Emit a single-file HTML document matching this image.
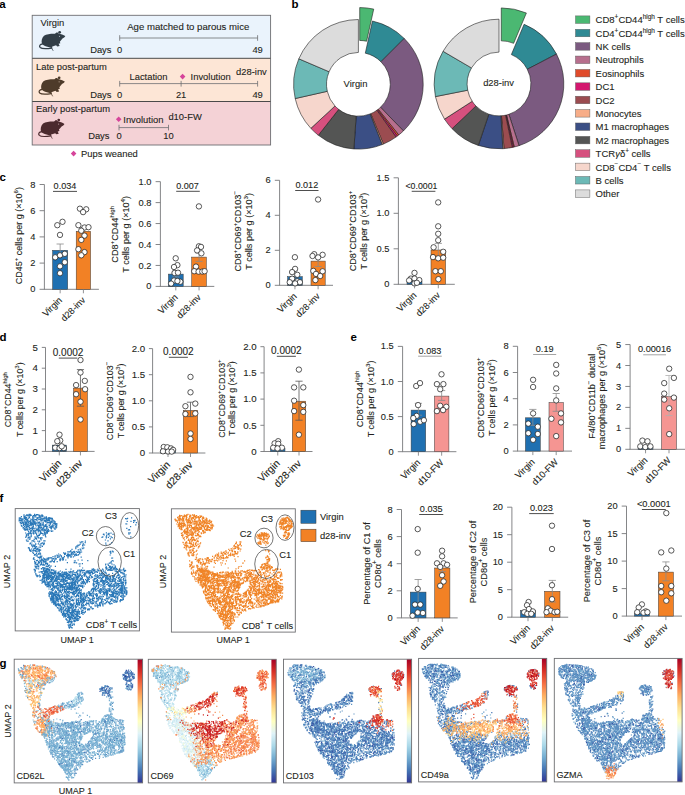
<!DOCTYPE html><html><head><meta charset="utf-8"><style>html,body{margin:0;padding:0;background:#fff;}svg{display:block;font-family:"Liberation Sans",sans-serif;}</style></head><body><svg width="685" height="795" viewBox="0 0 685 795" font-family='"Liberation Sans", sans-serif'>
<rect width="685" height="795" fill="#fff"/>
<text x="-0.80" y="8.00" font-size="11.5" text-anchor="start" font-weight="bold" fill="#000" >a</text>
<text x="291.60" y="8.00" font-size="11.5" text-anchor="start" font-weight="bold" fill="#000" >b</text>
<text x="-0.40" y="180.70" font-size="11.5" text-anchor="start" font-weight="bold" fill="#000" >c</text>
<text x="-0.40" y="340.60" font-size="11.5" text-anchor="start" font-weight="bold" fill="#000" >d</text>
<text x="350.60" y="340.60" font-size="11.5" text-anchor="start" font-weight="bold" fill="#000" >e</text>
<text x="-0.60" y="502.40" font-size="11.5" text-anchor="start" font-weight="bold" fill="#000" >f</text>
<text x="-0.60" y="666.90" font-size="11.5" text-anchor="start" font-weight="bold" fill="#000" >g</text>
<rect x="32.20" y="15.30" width="238.40" height="43.00" fill="#eaf3fc" stroke="none" stroke-width="0.6" />
<rect x="32.20" y="58.30" width="238.40" height="43.20" fill="#fde6d6" stroke="none" stroke-width="0.6" />
<rect x="32.20" y="101.50" width="238.40" height="43.50" fill="#f4d2d6" stroke="none" stroke-width="0.6" />
<rect x="32.20" y="15.3" width="238.40" height="129.70" fill="none" stroke="#6d6e71" stroke-width="0.9"/>
<line x1="32.20" y1="58.30" x2="270.60" y2="58.30" stroke="#4a4a4a" stroke-width="1.0" />
<line x1="32.20" y1="101.50" x2="270.60" y2="101.50" stroke="#4a4a4a" stroke-width="1.0" />
<text x="40.50" y="26.10" font-size="9.4" text-anchor="start" font-weight="normal" fill="#231f20"  stroke="#231f20" stroke-width="0.1">Virgin</text>
<g transform="translate(34.00,26.00) scale(0.05255)"><path d="M150 335C138 285 148 222 190 186C240 152 330 146 398 148C418 128 442 124 462 136L482 146C530 160 572 172 596 192C590 212 562 226 542 240C522 264 506 284 492 300L502 326L468 336L488 380L442 388L420 368C392 378 362 388 342 396L348 420L322 412C280 400 230 392 190 372C170 362 156 350 150 335Z" fill="#323e47"/><path d="M165 338C112 345 92 382 118 410C145 436 250 434 338 422" fill="none" stroke="#323e47" stroke-width="24" stroke-linecap="round"/><path d="M336 420L362 466" fill="none" stroke="#323e47" stroke-width="14" stroke-linecap="round"/><circle cx="488" cy="120" r="26" fill="#323e47"/><circle cx="436" cy="142" r="20" fill="#323e47"/><ellipse cx="487" cy="196" rx="9" ry="12" fill="#eaf3fc" opacity="0.8"/></g>
<text x="127.20" y="29.60" font-size="9.6" text-anchor="start" font-weight="normal" fill="#231f20"  stroke="#231f20" stroke-width="0.1">Age matched to parous mice</text>
<line x1="119.70" y1="38.00" x2="257.60" y2="38.00" stroke="#6d6e71" stroke-width="0.8" />
<line x1="119.70" y1="35.20" x2="119.70" y2="40.80" stroke="#6d6e71" stroke-width="0.8" />
<line x1="257.60" y1="35.20" x2="257.60" y2="40.80" stroke="#6d6e71" stroke-width="0.8" />
<text x="111.50" y="52.60" font-size="9.4" text-anchor="end" font-weight="normal" fill="#231f20"  stroke="#231f20" stroke-width="0.1">Days</text>
<text x="119.70" y="52.60" font-size="9.4" text-anchor="middle" font-weight="normal" fill="#231f20"  stroke="#231f20" stroke-width="0.1">0</text>
<text x="257.60" y="52.60" font-size="9.4" text-anchor="middle" font-weight="normal" fill="#231f20"  stroke="#231f20" stroke-width="0.1">49</text>
<text x="36.00" y="70.00" font-size="9.4" text-anchor="start" font-weight="normal" fill="#231f20"  stroke="#231f20" stroke-width="0.1">Late post-partum</text>
<g transform="translate(33.50,71.50) scale(0.05255)"><path d="M150 335C138 285 148 222 190 186C240 152 330 146 398 148C418 128 442 124 462 136L482 146C530 160 572 172 596 192C590 212 562 226 542 240C522 264 506 284 492 300L502 326L468 336L488 380L442 388L420 368C392 378 362 388 342 396L348 420L322 412C280 400 230 392 190 372C170 362 156 350 150 335Z" fill="#4e3b2a"/><path d="M165 338C112 345 92 382 118 410C145 436 250 434 338 422" fill="none" stroke="#4e3b2a" stroke-width="24" stroke-linecap="round"/><path d="M336 420L362 466" fill="none" stroke="#4e3b2a" stroke-width="14" stroke-linecap="round"/><circle cx="488" cy="120" r="26" fill="#4e3b2a"/><circle cx="436" cy="142" r="20" fill="#4e3b2a"/><ellipse cx="487" cy="196" rx="9" ry="12" fill="#fde6d6" opacity="0.8"/></g>
<text x="148.50" y="80.10" font-size="9.4" text-anchor="middle" font-weight="normal" fill="#231f20"  stroke="#231f20" stroke-width="0.1">Lactation</text>
<path d="M182.60 73.80L185.40 76.60L182.60 79.40L179.80 76.60Z" fill="#d6449a"/>
<text x="190.60" y="80.10" font-size="9.4" text-anchor="start" font-weight="normal" fill="#231f20"  stroke="#231f20" stroke-width="0.1">Involution</text>
<text x="266.80" y="74.50" font-size="9.4" text-anchor="end" font-weight="normal" fill="#231f20"  stroke="#231f20" stroke-width="0.1">d28-inv</text>
<line x1="119.70" y1="83.60" x2="257.60" y2="83.60" stroke="#6d6e71" stroke-width="0.8" />
<line x1="119.70" y1="80.90" x2="119.70" y2="86.60" stroke="#6d6e71" stroke-width="0.8" />
<line x1="181.10" y1="80.90" x2="181.10" y2="86.60" stroke="#6d6e71" stroke-width="0.8" />
<line x1="257.60" y1="80.90" x2="257.60" y2="86.60" stroke="#6d6e71" stroke-width="0.8" />
<text x="111.50" y="97.80" font-size="9.4" text-anchor="end" font-weight="normal" fill="#231f20"  stroke="#231f20" stroke-width="0.1">Days</text>
<text x="119.70" y="97.80" font-size="9.4" text-anchor="middle" font-weight="normal" fill="#231f20"  stroke="#231f20" stroke-width="0.1">0</text>
<text x="181.10" y="97.80" font-size="9.4" text-anchor="middle" font-weight="normal" fill="#231f20"  stroke="#231f20" stroke-width="0.1">21</text>
<text x="257.60" y="97.80" font-size="9.4" text-anchor="middle" font-weight="normal" fill="#231f20"  stroke="#231f20" stroke-width="0.1">49</text>
<text x="36.00" y="112.40" font-size="9.4" text-anchor="start" font-weight="normal" fill="#231f20"  stroke="#231f20" stroke-width="0.1">Early post-partum</text>
<g transform="translate(33.10,113.80) scale(0.05255)"><path d="M150 335C138 285 148 222 190 186C240 152 330 146 398 148C418 128 442 124 462 136L482 146C530 160 572 172 596 192C590 212 562 226 542 240C522 264 506 284 492 300L502 326L468 336L488 380L442 388L420 368C392 378 362 388 342 396L348 420L322 412C280 400 230 392 190 372C170 362 156 350 150 335Z" fill="#4b2a2e"/><path d="M165 338C112 345 92 382 118 410C145 436 250 434 338 422" fill="none" stroke="#4b2a2e" stroke-width="24" stroke-linecap="round"/><path d="M336 420L362 466" fill="none" stroke="#4b2a2e" stroke-width="14" stroke-linecap="round"/><circle cx="488" cy="120" r="26" fill="#4b2a2e"/><circle cx="436" cy="142" r="20" fill="#4b2a2e"/><ellipse cx="487" cy="196" rx="9" ry="12" fill="#f4d2d6" opacity="0.8"/></g>
<path d="M118.70 116.50L121.50 119.30L118.70 122.10L115.90 119.30Z" fill="#d6449a"/>
<text x="123.30" y="122.60" font-size="9.4" text-anchor="start" font-weight="normal" fill="#231f20"  stroke="#231f20" stroke-width="0.1">Involution</text>
<text x="168.40" y="119.60" font-size="9.4" text-anchor="start" font-weight="normal" fill="#231f20"  stroke="#231f20" stroke-width="0.1">d10-FW</text>
<line x1="119.00" y1="127.60" x2="168.50" y2="127.60" stroke="#6d6e71" stroke-width="0.8" />
<line x1="119.00" y1="124.80" x2="119.00" y2="130.40" stroke="#6d6e71" stroke-width="0.8" />
<line x1="168.50" y1="124.80" x2="168.50" y2="130.40" stroke="#6d6e71" stroke-width="0.8" />
<text x="109.50" y="139.20" font-size="9.4" text-anchor="end" font-weight="normal" fill="#231f20"  stroke="#231f20" stroke-width="0.1">Days</text>
<text x="119.00" y="139.20" font-size="9.4" text-anchor="middle" font-weight="normal" fill="#231f20"  stroke="#231f20" stroke-width="0.1">0</text>
<text x="168.50" y="139.20" font-size="9.4" text-anchor="middle" font-weight="normal" fill="#231f20"  stroke="#231f20" stroke-width="0.1">10</text>
<path d="M73.60 150.80L76.40 153.60L73.60 156.40L70.80 153.60Z" fill="#d6449a"/>
<text x="81.00" y="156.80" font-size="9.4" text-anchor="start" font-weight="normal" fill="#231f20"  stroke="#231f20" stroke-width="0.1">Pups weaned</text>
<path d="M359.71 7.57A64.8 64.8 0 0 1 373.73 9.11L366.61 41.23A31.9 31.9 0 0 0 359.71 40.47Z" fill="#4bb872" stroke="#1e1e1e" stroke-width="0.6" stroke-linejoin="round"/>
<path d="M372.43 21.04A64.8 64.8 0 0 1 404.22 38.48L380.96 61.74A31.9 31.9 0 0 0 365.30 53.16Z" fill="#2f8a94" stroke="#1e1e1e" stroke-width="0.6" stroke-linejoin="round"/>
<path d="M404.22 38.48A64.8 64.8 0 0 1 403.41 130.91L380.56 107.25A31.9 31.9 0 0 0 380.96 61.74Z" fill="#7b5a80" stroke="#1e1e1e" stroke-width="0.6" stroke-linejoin="round"/>
<path d="M403.41 130.91A64.8 64.8 0 0 1 398.74 135.01L378.26 109.27A31.9 31.9 0 0 0 380.56 107.25Z" fill="#b76f8d" stroke="#1e1e1e" stroke-width="0.6" stroke-linejoin="round"/>
<path d="M398.74 135.01A64.8 64.8 0 0 1 397.40 136.05L377.60 109.78A31.9 31.9 0 0 0 378.26 109.27Z" fill="#e04b2b" stroke="#1e1e1e" stroke-width="0.6" stroke-linejoin="round"/>
<path d="M397.40 136.05A64.8 64.8 0 0 1 396.03 137.05L376.92 110.27A31.9 31.9 0 0 0 377.60 109.78Z" fill="#d4176f" stroke="#1e1e1e" stroke-width="0.6" stroke-linejoin="round"/>
<path d="M396.03 137.05A64.8 64.8 0 0 1 383.41 144.08L370.71 113.73A31.9 31.9 0 0 0 376.92 110.27Z" fill="#9b4c50" stroke="#1e1e1e" stroke-width="0.6" stroke-linejoin="round"/>
<path d="M383.41 144.08A64.8 64.8 0 0 1 382.15 144.59L370.09 113.98A31.9 31.9 0 0 0 370.71 113.73Z" fill="#f7ad88" stroke="#1e1e1e" stroke-width="0.6" stroke-linejoin="round"/>
<path d="M382.15 144.59A64.8 64.8 0 0 1 353.88 148.94L356.17 116.12A31.9 31.9 0 0 0 370.09 113.98Z" fill="#3b4f85" stroke="#1e1e1e" stroke-width="0.6" stroke-linejoin="round"/>
<path d="M353.88 148.94A64.8 64.8 0 0 1 318.33 135.22L338.67 109.37A31.9 31.9 0 0 0 356.17 116.12Z" fill="#545554" stroke="#1e1e1e" stroke-width="0.6" stroke-linejoin="round"/>
<path d="M318.33 135.22A64.8 64.8 0 0 1 310.85 128.33L334.99 105.97A31.9 31.9 0 0 0 338.67 109.37Z" fill="#d6507e" stroke="#1e1e1e" stroke-width="0.6" stroke-linejoin="round"/>
<path d="M310.85 128.33A64.8 64.8 0 0 1 295.19 98.55L327.28 91.31A31.9 31.9 0 0 0 334.99 105.97Z" fill="#f6d6cc" stroke="#1e1e1e" stroke-width="0.6" stroke-linejoin="round"/>
<path d="M295.19 98.55A64.8 64.8 0 0 1 298.84 58.77L329.08 71.73A31.9 31.9 0 0 0 327.28 91.31Z" fill="#6cb9b6" stroke="#1e1e1e" stroke-width="0.6" stroke-linejoin="round"/>
<path d="M298.84 58.77A64.8 64.8 0 0 1 358.40 19.50L358.40 52.40A31.9 31.9 0 0 0 329.08 71.73Z" fill="#dcdcdc" stroke="#1e1e1e" stroke-width="0.6" stroke-linejoin="round"/>
<text x="355.50" y="86.80" font-size="9.4" text-anchor="middle" font-weight="normal" fill="#231f20"  stroke="#231f20" stroke-width="0.1">Virgin</text>
<path d="M501.27 7.93A64.8 64.8 0 0 1 526.38 12.99L513.63 43.32A31.9 31.9 0 0 0 501.27 40.83Z" fill="#4bb872" stroke="#1e1e1e" stroke-width="0.6" stroke-linejoin="round"/>
<path d="M524.11 24.26A64.8 64.8 0 0 1 556.48 54.08L527.30 69.27A31.9 31.9 0 0 0 511.36 54.59Z" fill="#2f8a94" stroke="#1e1e1e" stroke-width="0.6" stroke-linejoin="round"/>
<path d="M556.48 54.08A64.8 64.8 0 0 1 519.02 145.63L508.86 114.34A31.9 31.9 0 0 0 527.30 69.27Z" fill="#7b5a80" stroke="#1e1e1e" stroke-width="0.6" stroke-linejoin="round"/>
<path d="M519.02 145.63A64.8 64.8 0 0 1 514.24 146.98L506.50 115.01A31.9 31.9 0 0 0 508.86 114.34Z" fill="#b76f8d" stroke="#1e1e1e" stroke-width="0.6" stroke-linejoin="round"/>
<path d="M514.24 146.98A64.8 64.8 0 0 1 513.36 147.19L506.07 115.11A31.9 31.9 0 0 0 506.50 115.01Z" fill="#e04b2b" stroke="#1e1e1e" stroke-width="0.6" stroke-linejoin="round"/>
<path d="M513.36 147.19A64.8 64.8 0 0 1 512.25 147.43L505.52 115.23A31.9 31.9 0 0 0 506.07 115.11Z" fill="#d4176f" stroke="#1e1e1e" stroke-width="0.6" stroke-linejoin="round"/>
<path d="M512.25 147.43A64.8 64.8 0 0 1 503.97 148.61L501.45 115.81A31.9 31.9 0 0 0 505.52 115.23Z" fill="#9b4c50" stroke="#1e1e1e" stroke-width="0.6" stroke-linejoin="round"/>
<path d="M503.97 148.61A64.8 64.8 0 0 1 502.84 148.69L500.89 115.84A31.9 31.9 0 0 0 501.45 115.81Z" fill="#f7ad88" stroke="#1e1e1e" stroke-width="0.6" stroke-linejoin="round"/>
<path d="M502.84 148.69A64.8 64.8 0 0 1 478.33 145.42L488.83 114.23A31.9 31.9 0 0 0 500.89 115.84Z" fill="#3b4f85" stroke="#1e1e1e" stroke-width="0.6" stroke-linejoin="round"/>
<path d="M478.33 145.42A64.8 64.8 0 0 1 452.07 128.69L475.90 106.00A31.9 31.9 0 0 0 488.83 114.23Z" fill="#545554" stroke="#1e1e1e" stroke-width="0.6" stroke-linejoin="round"/>
<path d="M452.07 128.69A64.8 64.8 0 0 1 444.53 119.10L472.19 101.28A31.9 31.9 0 0 0 475.90 106.00Z" fill="#d6507e" stroke="#1e1e1e" stroke-width="0.6" stroke-linejoin="round"/>
<path d="M444.53 119.10A64.8 64.8 0 0 1 435.43 96.59L467.71 90.20A31.9 31.9 0 0 0 472.19 101.28Z" fill="#f6d6cc" stroke="#1e1e1e" stroke-width="0.6" stroke-linejoin="round"/>
<path d="M435.43 96.59A64.8 64.8 0 0 1 443.05 51.31L471.46 67.91A31.9 31.9 0 0 0 467.71 90.20Z" fill="#6cb9b6" stroke="#1e1e1e" stroke-width="0.6" stroke-linejoin="round"/>
<path d="M443.05 51.31A64.8 64.8 0 0 1 499.00 19.20L499.00 52.10A31.9 31.9 0 0 0 471.46 67.91Z" fill="#dcdcdc" stroke="#1e1e1e" stroke-width="0.6" stroke-linejoin="round"/>
<text x="498.50" y="86.00" font-size="9.4" text-anchor="middle" font-weight="normal" fill="#231f20"  stroke="#231f20" stroke-width="0.1">d28-inv</text>
<rect x="575.50" y="15.90" width="14.40" height="7.50" fill="#4bb872" stroke="#5a5a5a" stroke-width="0.45" />
<text x="595.60" y="23.30" font-size="9.5" text-anchor="start" font-weight="normal" fill="#231f20"  stroke="#231f20" stroke-width="0.1">CD8<tspan font-size="6.46" dy="-4.18">+</tspan><tspan dy="4.18">​</tspan>CD44<tspan font-size="6.46" dy="-4.18">high</tspan><tspan dy="4.18">​</tspan> T cells</text>
<rect x="575.50" y="29.29" width="14.40" height="7.50" fill="#2f8a94" stroke="#5a5a5a" stroke-width="0.45" />
<text x="595.60" y="36.69" font-size="9.5" text-anchor="start" font-weight="normal" fill="#231f20"  stroke="#231f20" stroke-width="0.1">CD4<tspan font-size="6.46" dy="-4.18">+</tspan><tspan dy="4.18">​</tspan>CD44<tspan font-size="6.46" dy="-4.18">high</tspan><tspan dy="4.18">​</tspan> T cells</text>
<rect x="575.50" y="42.67" width="14.40" height="7.50" fill="#7b5a80" stroke="#5a5a5a" stroke-width="0.45" />
<text x="595.60" y="50.07" font-size="9.5" text-anchor="start" font-weight="normal" fill="#231f20"  stroke="#231f20" stroke-width="0.1">NK cells</text>
<rect x="575.50" y="56.05" width="14.40" height="7.50" fill="#b76f8d" stroke="#5a5a5a" stroke-width="0.45" />
<text x="595.60" y="63.45" font-size="9.5" text-anchor="start" font-weight="normal" fill="#231f20"  stroke="#231f20" stroke-width="0.1">Neutrophils</text>
<rect x="575.50" y="69.44" width="14.40" height="7.50" fill="#e04b2b" stroke="#5a5a5a" stroke-width="0.45" />
<text x="595.60" y="76.84" font-size="9.5" text-anchor="start" font-weight="normal" fill="#231f20"  stroke="#231f20" stroke-width="0.1">Eosinophils</text>
<rect x="575.50" y="82.83" width="14.40" height="7.50" fill="#d4176f" stroke="#5a5a5a" stroke-width="0.45" />
<text x="595.60" y="90.23" font-size="9.5" text-anchor="start" font-weight="normal" fill="#231f20"  stroke="#231f20" stroke-width="0.1">DC1</text>
<rect x="575.50" y="96.21" width="14.40" height="7.50" fill="#9b4c50" stroke="#5a5a5a" stroke-width="0.45" />
<text x="595.60" y="103.61" font-size="9.5" text-anchor="start" font-weight="normal" fill="#231f20"  stroke="#231f20" stroke-width="0.1">DC2</text>
<rect x="575.50" y="109.59" width="14.40" height="7.50" fill="#f7ad88" stroke="#5a5a5a" stroke-width="0.45" />
<text x="595.60" y="117.00" font-size="9.5" text-anchor="start" font-weight="normal" fill="#231f20"  stroke="#231f20" stroke-width="0.1">Monocytes</text>
<rect x="575.50" y="122.98" width="14.40" height="7.50" fill="#3b4f85" stroke="#5a5a5a" stroke-width="0.45" />
<text x="595.60" y="130.38" font-size="9.5" text-anchor="start" font-weight="normal" fill="#231f20"  stroke="#231f20" stroke-width="0.1">M1 macrophages</text>
<rect x="575.50" y="136.37" width="14.40" height="7.50" fill="#545554" stroke="#5a5a5a" stroke-width="0.45" />
<text x="595.60" y="143.77" font-size="9.5" text-anchor="start" font-weight="normal" fill="#231f20"  stroke="#231f20" stroke-width="0.1">M2 macrophages</text>
<rect x="575.50" y="149.75" width="14.40" height="7.50" fill="#d6507e" stroke="#5a5a5a" stroke-width="0.45" />
<text x="595.60" y="157.15" font-size="9.5" text-anchor="start" font-weight="normal" fill="#231f20"  stroke="#231f20" stroke-width="0.1">TCR<tspan font-style="italic">γ</tspan>δ<tspan font-size="6.46" dy="-4.18">+</tspan><tspan dy="4.18">​</tspan> cells</text>
<rect x="575.50" y="163.13" width="14.40" height="7.50" fill="#f6d6cc" stroke="#5a5a5a" stroke-width="0.45" />
<text x="595.60" y="170.53" font-size="9.5" text-anchor="start" font-weight="normal" fill="#231f20"  stroke="#231f20" stroke-width="0.1">CD8<tspan font-size="6.46" dy="-4.18">−</tspan><tspan dy="4.18">​</tspan>CD4<tspan font-size="6.46" dy="-4.18">−</tspan><tspan dy="4.18">​</tspan> T cells</text>
<rect x="575.50" y="176.52" width="14.40" height="7.50" fill="#6cb9b6" stroke="#5a5a5a" stroke-width="0.45" />
<text x="595.60" y="183.92" font-size="9.5" text-anchor="start" font-weight="normal" fill="#231f20"  stroke="#231f20" stroke-width="0.1">B cells</text>
<rect x="575.50" y="189.91" width="14.40" height="7.50" fill="#dcdcdc" stroke="#5a5a5a" stroke-width="0.45" />
<text x="595.60" y="197.31" font-size="9.5" text-anchor="start" font-weight="normal" fill="#231f20"  stroke="#231f20" stroke-width="0.1">Other</text>
<line x1="44.40" y1="289.30" x2="44.40" y2="184.50" stroke="#77787b" stroke-width="0.9" />
<line x1="39.60" y1="289.30" x2="44.40" y2="289.30" stroke="#77787b" stroke-width="0.9" />
<text x="35.50" y="292.37" font-size="9.3" text-anchor="end" font-weight="normal" fill="#231f20"  stroke="#231f20" stroke-width="0.1">0</text>
<line x1="39.60" y1="263.10" x2="44.40" y2="263.10" stroke="#77787b" stroke-width="0.9" />
<text x="35.50" y="266.17" font-size="9.3" text-anchor="end" font-weight="normal" fill="#231f20"  stroke="#231f20" stroke-width="0.1">2</text>
<line x1="39.60" y1="236.90" x2="44.40" y2="236.90" stroke="#77787b" stroke-width="0.9" />
<text x="35.50" y="239.97" font-size="9.3" text-anchor="end" font-weight="normal" fill="#231f20"  stroke="#231f20" stroke-width="0.1">4</text>
<line x1="39.60" y1="210.70" x2="44.40" y2="210.70" stroke="#77787b" stroke-width="0.9" />
<text x="35.50" y="213.77" font-size="9.3" text-anchor="end" font-weight="normal" fill="#231f20"  stroke="#231f20" stroke-width="0.1">6</text>
<line x1="39.60" y1="184.50" x2="44.40" y2="184.50" stroke="#77787b" stroke-width="0.9" />
<text x="35.50" y="187.57" font-size="9.3" text-anchor="end" font-weight="normal" fill="#231f20"  stroke="#231f20" stroke-width="0.1">8</text>
<line x1="43.95" y1="289.30" x2="98.90" y2="289.30" stroke="#77787b" stroke-width="0.9" />
<rect x="52.60" y="250.30" width="15.10" height="39.00" fill="#1f70b1" stroke="#3a3a3a" stroke-width="0.5" />
<rect x="76.20" y="231.30" width="14.40" height="58.00" fill="#f28125" stroke="#3a3a3a" stroke-width="0.5" />
<line x1="60.15" y1="244.00" x2="60.15" y2="256.60" stroke="#8a8a8a" stroke-width="0.8" />
<line x1="56.55" y1="244.00" x2="63.75" y2="244.00" stroke="#8a8a8a" stroke-width="0.8" />
<line x1="56.55" y1="256.60" x2="63.75" y2="256.60" stroke="#8a8a8a" stroke-width="0.8" />
<line x1="83.40" y1="227.50" x2="83.40" y2="235.00" stroke="#8a8a8a" stroke-width="0.8" />
<line x1="79.80" y1="227.50" x2="87.00" y2="227.50" stroke="#8a8a8a" stroke-width="0.8" />
<line x1="79.80" y1="235.00" x2="87.00" y2="235.00" stroke="#8a8a8a" stroke-width="0.8" />
<circle cx="57.3" cy="225.2" r="2.7" fill="#fff" stroke="#222" stroke-width="0.75"/>
<circle cx="62.5" cy="221.8" r="2.7" fill="#fff" stroke="#222" stroke-width="0.75"/>
<circle cx="60.0" cy="234.9" r="2.7" fill="#fff" stroke="#222" stroke-width="0.75"/>
<circle cx="55.2" cy="257.3" r="2.7" fill="#fff" stroke="#222" stroke-width="0.75"/>
<circle cx="60.0" cy="255.3" r="2.7" fill="#fff" stroke="#222" stroke-width="0.75"/>
<circle cx="64.8" cy="253.8" r="2.7" fill="#fff" stroke="#222" stroke-width="0.75"/>
<circle cx="64.8" cy="262.2" r="2.7" fill="#fff" stroke="#222" stroke-width="0.75"/>
<circle cx="60.0" cy="266.3" r="2.7" fill="#fff" stroke="#222" stroke-width="0.75"/>
<circle cx="60.0" cy="273.2" r="2.7" fill="#fff" stroke="#222" stroke-width="0.75"/>
<circle cx="79.9" cy="208.7" r="2.7" fill="#fff" stroke="#222" stroke-width="0.75"/>
<circle cx="86.2" cy="209.3" r="2.7" fill="#fff" stroke="#222" stroke-width="0.75"/>
<circle cx="83.1" cy="212.1" r="2.7" fill="#fff" stroke="#222" stroke-width="0.75"/>
<circle cx="78.4" cy="225.2" r="2.7" fill="#fff" stroke="#222" stroke-width="0.75"/>
<circle cx="84.5" cy="227.5" r="2.7" fill="#fff" stroke="#222" stroke-width="0.75"/>
<circle cx="88.5" cy="227.2" r="2.7" fill="#fff" stroke="#222" stroke-width="0.75"/>
<circle cx="81.3" cy="230.7" r="2.7" fill="#fff" stroke="#222" stroke-width="0.75"/>
<circle cx="84.5" cy="235.6" r="2.7" fill="#fff" stroke="#222" stroke-width="0.75"/>
<circle cx="81.3" cy="239.9" r="2.7" fill="#fff" stroke="#222" stroke-width="0.75"/>
<circle cx="78.4" cy="249.2" r="2.7" fill="#fff" stroke="#222" stroke-width="0.75"/>
<circle cx="84.5" cy="252.1" r="2.7" fill="#fff" stroke="#222" stroke-width="0.75"/>
<circle cx="81.3" cy="255.3" r="2.7" fill="#fff" stroke="#222" stroke-width="0.75"/>
<line x1="60.15" y1="289.30" x2="60.15" y2="293.30" stroke="#77787b" stroke-width="0.8" />
<text transform="translate(62.65,300.80) rotate(-45)" font-size="9.2" text-anchor="end" font-weight="normal" fill="#231f20"  stroke="#231f20" stroke-width="0.1">Virgin</text>
<line x1="83.40" y1="289.30" x2="83.40" y2="293.30" stroke="#77787b" stroke-width="0.8" />
<text transform="translate(85.90,300.80) rotate(-45)" font-size="9.2" text-anchor="end" font-weight="normal" fill="#231f20"  stroke="#231f20" stroke-width="0.1">d28-inv</text>
<line x1="53.00" y1="191.40" x2="77.00" y2="191.40" stroke="#3a3a3a" stroke-width="0.9" />
<text x="65.00" y="188.80" font-size="9.1" text-anchor="middle" font-weight="normal" fill="#231f20"  stroke="#231f20" stroke-width="0.1">0.034</text>
<text transform="translate(21.70,235.70) rotate(-90)" font-size="9.0" text-anchor="middle" font-weight="normal" fill="#231f20"  stroke="#231f20" stroke-width="0.1">CD45<tspan font-size="6.12" dy="-3.96">+</tspan><tspan dy="3.96">​</tspan> cells per g (×10<tspan font-size="6.12" dy="-3.96">6</tspan><tspan dy="3.96">​</tspan>)</text>
<line x1="160.40" y1="286.40" x2="160.40" y2="181.65" stroke="#77787b" stroke-width="0.9" />
<line x1="155.60" y1="286.40" x2="160.40" y2="286.40" stroke="#77787b" stroke-width="0.9" />
<text x="151.50" y="289.47" font-size="9.3" text-anchor="end" font-weight="normal" fill="#231f20"  stroke="#231f20" stroke-width="0.1">0</text>
<line x1="155.60" y1="265.45" x2="160.40" y2="265.45" stroke="#77787b" stroke-width="0.9" />
<text x="151.50" y="268.52" font-size="9.3" text-anchor="end" font-weight="normal" fill="#231f20"  stroke="#231f20" stroke-width="0.1">0.2</text>
<line x1="155.60" y1="244.50" x2="160.40" y2="244.50" stroke="#77787b" stroke-width="0.9" />
<text x="151.50" y="247.57" font-size="9.3" text-anchor="end" font-weight="normal" fill="#231f20"  stroke="#231f20" stroke-width="0.1">0.4</text>
<line x1="155.60" y1="223.55" x2="160.40" y2="223.55" stroke="#77787b" stroke-width="0.9" />
<text x="151.50" y="226.62" font-size="9.3" text-anchor="end" font-weight="normal" fill="#231f20"  stroke="#231f20" stroke-width="0.1">0.6</text>
<line x1="155.60" y1="202.60" x2="160.40" y2="202.60" stroke="#77787b" stroke-width="0.9" />
<text x="151.50" y="205.67" font-size="9.3" text-anchor="end" font-weight="normal" fill="#231f20"  stroke="#231f20" stroke-width="0.1">0.8</text>
<line x1="155.60" y1="181.65" x2="160.40" y2="181.65" stroke="#77787b" stroke-width="0.9" />
<text x="151.50" y="184.72" font-size="9.3" text-anchor="end" font-weight="normal" fill="#231f20"  stroke="#231f20" stroke-width="0.1">1.0</text>
<line x1="159.95" y1="286.40" x2="214.30" y2="286.40" stroke="#77787b" stroke-width="0.9" />
<rect x="168.40" y="274.10" width="14.80" height="12.30" fill="#1f70b1" stroke="#3a3a3a" stroke-width="0.5" />
<rect x="191.70" y="257.10" width="14.70" height="29.30" fill="#f28125" stroke="#3a3a3a" stroke-width="0.5" />
<line x1="175.80" y1="271.00" x2="175.80" y2="277.00" stroke="#8a8a8a" stroke-width="0.8" />
<line x1="172.20" y1="271.00" x2="179.40" y2="271.00" stroke="#8a8a8a" stroke-width="0.8" />
<line x1="172.20" y1="277.00" x2="179.40" y2="277.00" stroke="#8a8a8a" stroke-width="0.8" />
<line x1="199.05" y1="253.00" x2="199.05" y2="261.40" stroke="#8a8a8a" stroke-width="0.8" />
<line x1="195.45" y1="253.00" x2="202.65" y2="253.00" stroke="#8a8a8a" stroke-width="0.8" />
<line x1="195.45" y1="261.40" x2="202.65" y2="261.40" stroke="#8a8a8a" stroke-width="0.8" />
<circle cx="175.7" cy="258.3" r="2.7" fill="#fff" stroke="#222" stroke-width="0.75"/>
<circle cx="177.4" cy="265.1" r="2.7" fill="#fff" stroke="#222" stroke-width="0.75"/>
<circle cx="174.0" cy="267.0" r="2.7" fill="#fff" stroke="#222" stroke-width="0.75"/>
<circle cx="174.5" cy="273.0" r="2.7" fill="#fff" stroke="#222" stroke-width="0.75"/>
<circle cx="178.0" cy="272.7" r="2.7" fill="#fff" stroke="#222" stroke-width="0.75"/>
<circle cx="174.0" cy="280.5" r="2.7" fill="#fff" stroke="#222" stroke-width="0.75"/>
<circle cx="180.3" cy="281.7" r="2.7" fill="#fff" stroke="#222" stroke-width="0.75"/>
<circle cx="171.1" cy="283.6" r="2.7" fill="#fff" stroke="#222" stroke-width="0.75"/>
<circle cx="177.4" cy="281.0" r="2.7" fill="#fff" stroke="#222" stroke-width="0.75"/>
<circle cx="198.9" cy="206.4" r="2.7" fill="#fff" stroke="#222" stroke-width="0.75"/>
<circle cx="198.9" cy="246.3" r="2.7" fill="#fff" stroke="#222" stroke-width="0.75"/>
<circle cx="201.0" cy="246.9" r="2.7" fill="#fff" stroke="#222" stroke-width="0.75"/>
<circle cx="197.1" cy="250.4" r="2.7" fill="#fff" stroke="#222" stroke-width="0.75"/>
<circle cx="201.4" cy="253.3" r="2.7" fill="#fff" stroke="#222" stroke-width="0.75"/>
<circle cx="196.0" cy="266.6" r="2.7" fill="#fff" stroke="#222" stroke-width="0.75"/>
<circle cx="194.2" cy="271.2" r="2.7" fill="#fff" stroke="#222" stroke-width="0.75"/>
<circle cx="198.6" cy="271.6" r="2.7" fill="#fff" stroke="#222" stroke-width="0.75"/>
<circle cx="202.3" cy="271.6" r="2.7" fill="#fff" stroke="#222" stroke-width="0.75"/>
<circle cx="204.6" cy="271.2" r="2.7" fill="#fff" stroke="#222" stroke-width="0.75"/>
<line x1="175.80" y1="286.40" x2="175.80" y2="290.40" stroke="#77787b" stroke-width="0.8" />
<text transform="translate(178.30,297.90) rotate(-45)" font-size="9.2" text-anchor="end" font-weight="normal" fill="#231f20"  stroke="#231f20" stroke-width="0.1">Virgin</text>
<line x1="199.05" y1="286.40" x2="199.05" y2="290.40" stroke="#77787b" stroke-width="0.8" />
<text transform="translate(201.55,297.90) rotate(-45)" font-size="9.2" text-anchor="end" font-weight="normal" fill="#231f20"  stroke="#231f20" stroke-width="0.1">d28-inv</text>
<line x1="176.20" y1="191.30" x2="199.80" y2="191.30" stroke="#3a3a3a" stroke-width="0.9" />
<text x="187.60" y="188.70" font-size="9.0" text-anchor="middle" font-weight="normal" fill="#231f20"  stroke="#231f20" stroke-width="0.1">0.007</text>
<text transform="translate(117.90,234.30) rotate(-90)" font-size="9.1" text-anchor="middle" font-weight="normal" fill="#231f20"  stroke="#231f20" stroke-width="0.1">CD8<tspan font-size="6.19" dy="-4.00">+</tspan><tspan dy="4.00">​</tspan>CD44<tspan font-size="6.19" dy="-4.00">high</tspan><tspan dy="4.00">​</tspan></text>
<text transform="translate(128.90,234.30) rotate(-90)" font-size="9.1" text-anchor="middle" font-weight="normal" fill="#231f20"  stroke="#231f20" stroke-width="0.1">T cells per g (×10<tspan font-size="6.19" dy="-4.00">4</tspan><tspan dy="4.00">​</tspan>)</text>
<line x1="279.60" y1="285.30" x2="279.60" y2="180.30" stroke="#77787b" stroke-width="0.9" />
<line x1="274.80" y1="285.30" x2="279.60" y2="285.30" stroke="#77787b" stroke-width="0.9" />
<text x="270.70" y="288.37" font-size="9.3" text-anchor="end" font-weight="normal" fill="#231f20"  stroke="#231f20" stroke-width="0.1">0</text>
<line x1="274.80" y1="250.30" x2="279.60" y2="250.30" stroke="#77787b" stroke-width="0.9" />
<text x="270.70" y="253.37" font-size="9.3" text-anchor="end" font-weight="normal" fill="#231f20"  stroke="#231f20" stroke-width="0.1">2</text>
<line x1="274.80" y1="215.30" x2="279.60" y2="215.30" stroke="#77787b" stroke-width="0.9" />
<text x="270.70" y="218.37" font-size="9.3" text-anchor="end" font-weight="normal" fill="#231f20"  stroke="#231f20" stroke-width="0.1">4</text>
<line x1="274.80" y1="180.30" x2="279.60" y2="180.30" stroke="#77787b" stroke-width="0.9" />
<text x="270.70" y="183.37" font-size="9.3" text-anchor="end" font-weight="normal" fill="#231f20"  stroke="#231f20" stroke-width="0.1">6</text>
<line x1="279.15" y1="285.30" x2="333.00" y2="285.30" stroke="#77787b" stroke-width="0.9" />
<rect x="287.60" y="276.60" width="14.70" height="8.70" fill="#1f70b1" stroke="#3a3a3a" stroke-width="0.5" />
<rect x="311.00" y="261.10" width="14.20" height="24.20" fill="#f28125" stroke="#3a3a3a" stroke-width="0.5" />
<line x1="294.95" y1="273.50" x2="294.95" y2="279.70" stroke="#8a8a8a" stroke-width="0.8" />
<line x1="291.35" y1="273.50" x2="298.55" y2="273.50" stroke="#8a8a8a" stroke-width="0.8" />
<line x1="291.35" y1="279.70" x2="298.55" y2="279.70" stroke="#8a8a8a" stroke-width="0.8" />
<line x1="318.10" y1="255.70" x2="318.10" y2="266.50" stroke="#8a8a8a" stroke-width="0.8" />
<line x1="314.50" y1="255.70" x2="321.70" y2="255.70" stroke="#8a8a8a" stroke-width="0.8" />
<line x1="314.50" y1="266.50" x2="321.70" y2="266.50" stroke="#8a8a8a" stroke-width="0.8" />
<circle cx="294.9" cy="257.2" r="2.7" fill="#fff" stroke="#222" stroke-width="0.75"/>
<circle cx="295.1" cy="268.9" r="2.7" fill="#fff" stroke="#222" stroke-width="0.75"/>
<circle cx="292.1" cy="272.1" r="2.7" fill="#fff" stroke="#222" stroke-width="0.75"/>
<circle cx="297.3" cy="274.8" r="2.7" fill="#fff" stroke="#222" stroke-width="0.75"/>
<circle cx="292.1" cy="278.7" r="2.7" fill="#fff" stroke="#222" stroke-width="0.75"/>
<circle cx="297.3" cy="281.3" r="2.7" fill="#fff" stroke="#222" stroke-width="0.75"/>
<circle cx="289.7" cy="282.2" r="2.7" fill="#fff" stroke="#222" stroke-width="0.75"/>
<circle cx="299.9" cy="282.2" r="2.7" fill="#fff" stroke="#222" stroke-width="0.75"/>
<circle cx="295.1" cy="283.4" r="2.7" fill="#fff" stroke="#222" stroke-width="0.75"/>
<circle cx="318.1" cy="199.5" r="2.7" fill="#fff" stroke="#222" stroke-width="0.75"/>
<circle cx="314.2" cy="254.2" r="2.7" fill="#fff" stroke="#222" stroke-width="0.75"/>
<circle cx="322.6" cy="254.8" r="2.7" fill="#fff" stroke="#222" stroke-width="0.75"/>
<circle cx="312.5" cy="256.0" r="2.7" fill="#fff" stroke="#222" stroke-width="0.75"/>
<circle cx="318.1" cy="257.4" r="2.7" fill="#fff" stroke="#222" stroke-width="0.75"/>
<circle cx="313.3" cy="270.9" r="2.7" fill="#fff" stroke="#222" stroke-width="0.75"/>
<circle cx="322.6" cy="271.3" r="2.7" fill="#fff" stroke="#222" stroke-width="0.75"/>
<circle cx="316.0" cy="273.9" r="2.7" fill="#fff" stroke="#222" stroke-width="0.75"/>
<circle cx="320.2" cy="276.0" r="2.7" fill="#fff" stroke="#222" stroke-width="0.75"/>
<circle cx="315.4" cy="280.1" r="2.7" fill="#fff" stroke="#222" stroke-width="0.75"/>
<line x1="294.95" y1="285.30" x2="294.95" y2="289.30" stroke="#77787b" stroke-width="0.8" />
<text transform="translate(297.45,296.80) rotate(-45)" font-size="9.2" text-anchor="end" font-weight="normal" fill="#231f20"  stroke="#231f20" stroke-width="0.1">Virgin</text>
<line x1="318.10" y1="285.30" x2="318.10" y2="289.30" stroke="#77787b" stroke-width="0.8" />
<text transform="translate(320.60,296.80) rotate(-45)" font-size="9.2" text-anchor="end" font-weight="normal" fill="#231f20"  stroke="#231f20" stroke-width="0.1">d28-inv</text>
<line x1="295.20" y1="190.50" x2="318.50" y2="190.50" stroke="#3a3a3a" stroke-width="0.9" />
<text x="306.85" y="187.90" font-size="9.1" text-anchor="middle" font-weight="normal" fill="#231f20"  stroke="#231f20" stroke-width="0.1">0.012</text>
<text transform="translate(241.30,231.30) rotate(-90)" font-size="9.1" text-anchor="middle" font-weight="normal" fill="#231f20"  stroke="#231f20" stroke-width="0.1">CD8<tspan font-size="6.19" dy="-4.00">+</tspan><tspan dy="4.00">​</tspan>CD69<tspan font-size="6.19" dy="-4.00">+</tspan><tspan dy="4.00">​</tspan>CD103<tspan font-size="6.19" dy="-4.00">−</tspan><tspan dy="4.00">​</tspan></text>
<text transform="translate(252.10,231.30) rotate(-90)" font-size="9.1" text-anchor="middle" font-weight="normal" fill="#231f20"  stroke="#231f20" stroke-width="0.1">T cells per g (×10<tspan font-size="6.19" dy="-4.00">3</tspan><tspan dy="4.00">​</tspan>)</text>
<line x1="398.40" y1="284.30" x2="398.40" y2="177.80" stroke="#77787b" stroke-width="0.9" />
<line x1="393.60" y1="284.30" x2="398.40" y2="284.30" stroke="#77787b" stroke-width="0.9" />
<text x="389.50" y="287.37" font-size="9.3" text-anchor="end" font-weight="normal" fill="#231f20"  stroke="#231f20" stroke-width="0.1">0</text>
<line x1="393.60" y1="248.80" x2="398.40" y2="248.80" stroke="#77787b" stroke-width="0.9" />
<text x="389.50" y="251.87" font-size="9.3" text-anchor="end" font-weight="normal" fill="#231f20"  stroke="#231f20" stroke-width="0.1">0.5</text>
<line x1="393.60" y1="213.30" x2="398.40" y2="213.30" stroke="#77787b" stroke-width="0.9" />
<text x="389.50" y="216.37" font-size="9.3" text-anchor="end" font-weight="normal" fill="#231f20"  stroke="#231f20" stroke-width="0.1">1.0</text>
<line x1="393.60" y1="177.80" x2="398.40" y2="177.80" stroke="#77787b" stroke-width="0.9" />
<text x="389.50" y="180.87" font-size="9.3" text-anchor="end" font-weight="normal" fill="#231f20"  stroke="#231f20" stroke-width="0.1">1.5</text>
<line x1="397.95" y1="284.30" x2="454.80" y2="284.30" stroke="#77787b" stroke-width="0.9" />
<rect x="407.00" y="281.50" width="15.00" height="2.80" fill="#1f70b1" stroke="#3a3a3a" stroke-width="0.5" />
<rect x="431.00" y="250.00" width="14.60" height="34.30" fill="#f28125" stroke="#3a3a3a" stroke-width="0.5" />
<line x1="438.30" y1="243.40" x2="438.30" y2="256.60" stroke="#8a8a8a" stroke-width="0.8" />
<line x1="434.70" y1="243.40" x2="441.90" y2="243.40" stroke="#8a8a8a" stroke-width="0.8" />
<line x1="434.70" y1="256.60" x2="441.90" y2="256.60" stroke="#8a8a8a" stroke-width="0.8" />
<circle cx="414.5" cy="272.9" r="2.7" fill="#fff" stroke="#222" stroke-width="0.75"/>
<circle cx="410.9" cy="278.6" r="2.7" fill="#fff" stroke="#222" stroke-width="0.75"/>
<circle cx="409.1" cy="280.4" r="2.7" fill="#fff" stroke="#222" stroke-width="0.75"/>
<circle cx="414.5" cy="278.6" r="2.7" fill="#fff" stroke="#222" stroke-width="0.75"/>
<circle cx="419.3" cy="280.1" r="2.7" fill="#fff" stroke="#222" stroke-width="0.75"/>
<circle cx="414.5" cy="283.4" r="2.7" fill="#fff" stroke="#222" stroke-width="0.75"/>
<circle cx="416.9" cy="282.8" r="2.7" fill="#fff" stroke="#222" stroke-width="0.75"/>
<circle cx="438.2" cy="202.4" r="2.7" fill="#fff" stroke="#222" stroke-width="0.75"/>
<circle cx="438.2" cy="226.3" r="2.7" fill="#fff" stroke="#222" stroke-width="0.75"/>
<circle cx="438.2" cy="233.8" r="2.7" fill="#fff" stroke="#222" stroke-width="0.75"/>
<circle cx="438.2" cy="240.2" r="2.7" fill="#fff" stroke="#222" stroke-width="0.75"/>
<circle cx="433.6" cy="247.3" r="2.7" fill="#fff" stroke="#222" stroke-width="0.75"/>
<circle cx="443.2" cy="251.8" r="2.7" fill="#fff" stroke="#222" stroke-width="0.75"/>
<circle cx="433.0" cy="257.1" r="2.7" fill="#fff" stroke="#222" stroke-width="0.75"/>
<circle cx="438.2" cy="258.3" r="2.7" fill="#fff" stroke="#222" stroke-width="0.75"/>
<circle cx="443.2" cy="257.7" r="2.7" fill="#fff" stroke="#222" stroke-width="0.75"/>
<circle cx="435.4" cy="271.2" r="2.7" fill="#fff" stroke="#222" stroke-width="0.75"/>
<circle cx="440.8" cy="271.2" r="2.7" fill="#fff" stroke="#222" stroke-width="0.75"/>
<circle cx="438.4" cy="279.2" r="2.7" fill="#fff" stroke="#222" stroke-width="0.75"/>
<line x1="414.50" y1="284.30" x2="414.50" y2="288.30" stroke="#77787b" stroke-width="0.8" />
<text transform="translate(417.00,295.80) rotate(-45)" font-size="9.2" text-anchor="end" font-weight="normal" fill="#231f20"  stroke="#231f20" stroke-width="0.1">Virgin</text>
<line x1="438.30" y1="284.30" x2="438.30" y2="288.30" stroke="#77787b" stroke-width="0.8" />
<text transform="translate(440.80,295.80) rotate(-45)" font-size="9.2" text-anchor="end" font-weight="normal" fill="#231f20"  stroke="#231f20" stroke-width="0.1">d28-inv</text>
<line x1="411.70" y1="191.30" x2="435.40" y2="191.30" stroke="#3a3a3a" stroke-width="0.9" />
<text x="421.45" y="188.70" font-size="8.75" text-anchor="middle" font-weight="normal" fill="#231f20"  stroke="#231f20" stroke-width="0.1">&lt;0.0001</text>
<text transform="translate(356.10,231.00) rotate(-90)" font-size="9.1" text-anchor="middle" font-weight="normal" fill="#231f20"  stroke="#231f20" stroke-width="0.1">CD8<tspan font-size="6.19" dy="-4.00">+</tspan><tspan dy="4.00">​</tspan>CD69<tspan font-size="6.19" dy="-4.00">+</tspan><tspan dy="4.00">​</tspan>CD103<tspan font-size="6.19" dy="-4.00">+</tspan><tspan dy="4.00">​</tspan></text>
<text transform="translate(367.40,231.00) rotate(-90)" font-size="9.1" text-anchor="middle" font-weight="normal" fill="#231f20"  stroke="#231f20" stroke-width="0.1">T cells per g (×10<tspan font-size="6.19" dy="-4.00">3</tspan><tspan dy="4.00">​</tspan>)</text>
<line x1="45.50" y1="451.40" x2="45.50" y2="347.40" stroke="#77787b" stroke-width="0.9" />
<line x1="41.80" y1="451.40" x2="45.50" y2="451.40" stroke="#77787b" stroke-width="0.9" />
<text x="38.00" y="454.60" font-size="9.7" text-anchor="end" font-weight="normal" fill="#231f20"  stroke="#231f20" stroke-width="0.1">0</text>
<line x1="41.80" y1="430.60" x2="45.50" y2="430.60" stroke="#77787b" stroke-width="0.9" />
<text x="38.00" y="433.80" font-size="9.7" text-anchor="end" font-weight="normal" fill="#231f20"  stroke="#231f20" stroke-width="0.1">1</text>
<line x1="41.80" y1="409.80" x2="45.50" y2="409.80" stroke="#77787b" stroke-width="0.9" />
<text x="38.00" y="413.00" font-size="9.7" text-anchor="end" font-weight="normal" fill="#231f20"  stroke="#231f20" stroke-width="0.1">2</text>
<line x1="41.80" y1="389.00" x2="45.50" y2="389.00" stroke="#77787b" stroke-width="0.9" />
<text x="38.00" y="392.20" font-size="9.7" text-anchor="end" font-weight="normal" fill="#231f20"  stroke="#231f20" stroke-width="0.1">3</text>
<line x1="41.80" y1="368.20" x2="45.50" y2="368.20" stroke="#77787b" stroke-width="0.9" />
<text x="38.00" y="371.40" font-size="9.7" text-anchor="end" font-weight="normal" fill="#231f20"  stroke="#231f20" stroke-width="0.1">4</text>
<line x1="41.80" y1="347.40" x2="45.50" y2="347.40" stroke="#77787b" stroke-width="0.9" />
<text x="38.00" y="350.60" font-size="9.7" text-anchor="end" font-weight="normal" fill="#231f20"  stroke="#231f20" stroke-width="0.1">5</text>
<line x1="45.05" y1="451.40" x2="94.60" y2="451.40" stroke="#77787b" stroke-width="0.9" />
<rect x="52.30" y="445.10" width="14.00" height="6.30" fill="#1f70b1" stroke="#3a3a3a" stroke-width="0.5" />
<rect x="73.50" y="388.10" width="13.90" height="63.30" fill="#f28125" stroke="#3a3a3a" stroke-width="0.5" />
<line x1="80.45" y1="369.60" x2="80.45" y2="406.20" stroke="#555" stroke-width="0.8" />
<line x1="76.85" y1="369.60" x2="84.05" y2="369.60" stroke="#555" stroke-width="0.8" />
<line x1="76.85" y1="406.20" x2="84.05" y2="406.20" stroke="#555" stroke-width="0.8" />
<circle cx="59.5" cy="434.7" r="2.7" fill="#fff" stroke="#222" stroke-width="0.75"/>
<circle cx="60.2" cy="440.5" r="2.7" fill="#fff" stroke="#222" stroke-width="0.75"/>
<circle cx="57.3" cy="441.2" r="2.7" fill="#fff" stroke="#222" stroke-width="0.75"/>
<circle cx="55.2" cy="447.7" r="2.7" fill="#fff" stroke="#222" stroke-width="0.75"/>
<circle cx="59.5" cy="448.1" r="2.7" fill="#fff" stroke="#222" stroke-width="0.75"/>
<circle cx="63.9" cy="448.1" r="2.7" fill="#fff" stroke="#222" stroke-width="0.75"/>
<circle cx="61.7" cy="446.3" r="2.7" fill="#fff" stroke="#222" stroke-width="0.75"/>
<circle cx="80.5" cy="360.0" r="2.7" fill="#fff" stroke="#222" stroke-width="0.75"/>
<circle cx="80.5" cy="372.5" r="2.7" fill="#fff" stroke="#222" stroke-width="0.75"/>
<circle cx="84.8" cy="380.9" r="2.7" fill="#fff" stroke="#222" stroke-width="0.75"/>
<circle cx="76.1" cy="385.1" r="2.7" fill="#fff" stroke="#222" stroke-width="0.75"/>
<circle cx="85.1" cy="389.2" r="2.7" fill="#fff" stroke="#222" stroke-width="0.75"/>
<circle cx="76.1" cy="394.2" r="2.7" fill="#fff" stroke="#222" stroke-width="0.75"/>
<circle cx="80.5" cy="401.7" r="2.7" fill="#fff" stroke="#222" stroke-width="0.75"/>
<circle cx="80.5" cy="419.5" r="2.7" fill="#fff" stroke="#222" stroke-width="0.75"/>
<line x1="59.30" y1="451.40" x2="59.30" y2="455.40" stroke="#77787b" stroke-width="0.8" />
<text transform="translate(62.10,463.90) rotate(-45)" font-size="10.3" text-anchor="end" font-weight="normal" fill="#231f20"  stroke="#231f20" stroke-width="0.1">Virgin</text>
<line x1="80.45" y1="451.40" x2="80.45" y2="455.40" stroke="#77787b" stroke-width="0.8" />
<text transform="translate(83.25,463.90) rotate(-45)" font-size="10.3" text-anchor="end" font-weight="normal" fill="#231f20"  stroke="#231f20" stroke-width="0.1">d28-inv</text>
<line x1="58.80" y1="358.10" x2="77.30" y2="358.10" stroke="#3a3a3a" stroke-width="0.9" />
<text x="68.05" y="355.50" font-size="10" text-anchor="middle" font-weight="normal" fill="#231f20"  stroke="#231f20" stroke-width="0.1">0.0002</text>
<text transform="translate(11.30,399.70) rotate(-90)" font-size="8.85" text-anchor="middle" font-weight="normal" fill="#231f20"  stroke="#231f20" stroke-width="0.1">CD8<tspan font-size="6.02" dy="-3.89">+</tspan><tspan dy="3.89">​</tspan>CD44<tspan font-size="6.02" dy="-3.89">high</tspan><tspan dy="3.89">​</tspan></text>
<text transform="translate(22.60,399.70) rotate(-90)" font-size="8.85" text-anchor="middle" font-weight="normal" fill="#231f20"  stroke="#231f20" stroke-width="0.1">T cells per g (×10<tspan font-size="6.02" dy="-3.89">3</tspan><tspan dy="3.89">​</tspan>)</text>
<line x1="152.60" y1="453.00" x2="152.60" y2="348.60" stroke="#77787b" stroke-width="0.9" />
<line x1="148.90" y1="453.00" x2="152.60" y2="453.00" stroke="#77787b" stroke-width="0.9" />
<text x="145.10" y="456.20" font-size="9.7" text-anchor="end" font-weight="normal" fill="#231f20"  stroke="#231f20" stroke-width="0.1">0</text>
<line x1="148.90" y1="426.90" x2="152.60" y2="426.90" stroke="#77787b" stroke-width="0.9" />
<text x="145.10" y="430.10" font-size="9.7" text-anchor="end" font-weight="normal" fill="#231f20"  stroke="#231f20" stroke-width="0.1">0.5</text>
<line x1="148.90" y1="400.80" x2="152.60" y2="400.80" stroke="#77787b" stroke-width="0.9" />
<text x="145.10" y="404.00" font-size="9.7" text-anchor="end" font-weight="normal" fill="#231f20"  stroke="#231f20" stroke-width="0.1">1.0</text>
<line x1="148.90" y1="374.70" x2="152.60" y2="374.70" stroke="#77787b" stroke-width="0.9" />
<text x="145.10" y="377.90" font-size="9.7" text-anchor="end" font-weight="normal" fill="#231f20"  stroke="#231f20" stroke-width="0.1">1.5</text>
<line x1="148.90" y1="348.60" x2="152.60" y2="348.60" stroke="#77787b" stroke-width="0.9" />
<text x="145.10" y="351.80" font-size="9.7" text-anchor="end" font-weight="normal" fill="#231f20"  stroke="#231f20" stroke-width="0.1">2.0</text>
<line x1="152.15" y1="453.00" x2="205.40" y2="453.00" stroke="#77787b" stroke-width="0.9" />
<rect x="160.50" y="450.00" width="15.00" height="3.00" fill="#1f70b1" stroke="#3a3a3a" stroke-width="0.5" />
<rect x="183.30" y="410.40" width="14.40" height="42.60" fill="#f28125" stroke="#3a3a3a" stroke-width="0.5" />
<line x1="190.50" y1="402.20" x2="190.50" y2="416.60" stroke="#555" stroke-width="0.8" />
<line x1="186.90" y1="402.20" x2="194.10" y2="402.20" stroke="#555" stroke-width="0.8" />
<line x1="186.90" y1="416.60" x2="194.10" y2="416.60" stroke="#555" stroke-width="0.8" />
<circle cx="163.7" cy="447.0" r="2.7" fill="#fff" stroke="#222" stroke-width="0.75"/>
<circle cx="167.3" cy="447.3" r="2.7" fill="#fff" stroke="#222" stroke-width="0.75"/>
<circle cx="171.0" cy="448.4" r="2.7" fill="#fff" stroke="#222" stroke-width="0.75"/>
<circle cx="173.1" cy="449.9" r="2.7" fill="#fff" stroke="#222" stroke-width="0.75"/>
<circle cx="163.0" cy="451.3" r="2.7" fill="#fff" stroke="#222" stroke-width="0.75"/>
<circle cx="168.1" cy="451.6" r="2.7" fill="#fff" stroke="#222" stroke-width="0.75"/>
<circle cx="171.7" cy="451.6" r="2.7" fill="#fff" stroke="#222" stroke-width="0.75"/>
<circle cx="190.5" cy="376.9" r="2.7" fill="#fff" stroke="#222" stroke-width="0.75"/>
<circle cx="190.5" cy="392.3" r="2.7" fill="#fff" stroke="#222" stroke-width="0.75"/>
<circle cx="195.3" cy="403.6" r="2.7" fill="#fff" stroke="#222" stroke-width="0.75"/>
<circle cx="185.4" cy="406.2" r="2.7" fill="#fff" stroke="#222" stroke-width="0.75"/>
<circle cx="185.4" cy="414.0" r="2.7" fill="#fff" stroke="#222" stroke-width="0.75"/>
<circle cx="195.3" cy="413.4" r="2.7" fill="#fff" stroke="#222" stroke-width="0.75"/>
<circle cx="190.5" cy="433.5" r="2.7" fill="#fff" stroke="#222" stroke-width="0.75"/>
<circle cx="190.5" cy="439.0" r="2.7" fill="#fff" stroke="#222" stroke-width="0.75"/>
<line x1="168.00" y1="453.00" x2="168.00" y2="457.00" stroke="#77787b" stroke-width="0.8" />
<text transform="translate(170.80,465.50) rotate(-45)" font-size="10.3" text-anchor="end" font-weight="normal" fill="#231f20"  stroke="#231f20" stroke-width="0.1">Virgin</text>
<line x1="190.50" y1="453.00" x2="190.50" y2="457.00" stroke="#77787b" stroke-width="0.8" />
<text transform="translate(193.30,465.50) rotate(-45)" font-size="10.3" text-anchor="end" font-weight="normal" fill="#231f20"  stroke="#231f20" stroke-width="0.1">d28-inv</text>
<line x1="168.80" y1="357.30" x2="187.90" y2="357.30" stroke="#3a3a3a" stroke-width="0.9" />
<text x="178.35" y="354.70" font-size="10" text-anchor="middle" font-weight="normal" fill="#231f20"  stroke="#231f20" stroke-width="0.1">0.0002</text>
<text transform="translate(113.10,401.00) rotate(-90)" font-size="8.85" text-anchor="middle" font-weight="normal" fill="#231f20"  stroke="#231f20" stroke-width="0.1">CD8<tspan font-size="6.02" dy="-3.89">+</tspan><tspan dy="3.89">​</tspan>CD69<tspan font-size="6.02" dy="-3.89">+</tspan><tspan dy="3.89">​</tspan>CD103<tspan font-size="6.02" dy="-3.89">−</tspan><tspan dy="3.89">​</tspan></text>
<text transform="translate(124.20,401.00) rotate(-90)" font-size="8.85" text-anchor="middle" font-weight="normal" fill="#231f20"  stroke="#231f20" stroke-width="0.1">T cells per g (×10<tspan font-size="6.02" dy="-3.89">3</tspan><tspan dy="3.89">​</tspan>)</text>
<line x1="264.10" y1="451.50" x2="264.10" y2="346.70" stroke="#77787b" stroke-width="0.9" />
<line x1="260.40" y1="451.50" x2="264.10" y2="451.50" stroke="#77787b" stroke-width="0.9" />
<text x="256.60" y="454.70" font-size="9.7" text-anchor="end" font-weight="normal" fill="#231f20"  stroke="#231f20" stroke-width="0.1">0</text>
<line x1="260.40" y1="425.30" x2="264.10" y2="425.30" stroke="#77787b" stroke-width="0.9" />
<text x="256.60" y="428.50" font-size="9.7" text-anchor="end" font-weight="normal" fill="#231f20"  stroke="#231f20" stroke-width="0.1">0.5</text>
<line x1="260.40" y1="399.10" x2="264.10" y2="399.10" stroke="#77787b" stroke-width="0.9" />
<text x="256.60" y="402.30" font-size="9.7" text-anchor="end" font-weight="normal" fill="#231f20"  stroke="#231f20" stroke-width="0.1">1.0</text>
<line x1="260.40" y1="372.90" x2="264.10" y2="372.90" stroke="#77787b" stroke-width="0.9" />
<text x="256.60" y="376.10" font-size="9.7" text-anchor="end" font-weight="normal" fill="#231f20"  stroke="#231f20" stroke-width="0.1">1.5</text>
<line x1="260.40" y1="346.70" x2="264.10" y2="346.70" stroke="#77787b" stroke-width="0.9" />
<text x="256.60" y="349.90" font-size="9.7" text-anchor="end" font-weight="normal" fill="#231f20"  stroke="#231f20" stroke-width="0.1">2.0</text>
<line x1="263.65" y1="451.50" x2="312.50" y2="451.50" stroke="#77787b" stroke-width="0.9" />
<rect x="270.50" y="448.50" width="14.50" height="3.00" fill="#1f70b1" stroke="#3a3a3a" stroke-width="0.5" />
<rect x="292.30" y="401.20" width="13.40" height="50.30" fill="#f28125" stroke="#3a3a3a" stroke-width="0.5" />
<line x1="299.00" y1="381.20" x2="299.00" y2="420.20" stroke="#555" stroke-width="0.8" />
<line x1="295.40" y1="381.20" x2="302.60" y2="381.20" stroke="#555" stroke-width="0.8" />
<line x1="295.40" y1="420.20" x2="302.60" y2="420.20" stroke="#555" stroke-width="0.8" />
<circle cx="278.2" cy="441.2" r="2.7" fill="#fff" stroke="#222" stroke-width="0.75"/>
<circle cx="274.6" cy="443.4" r="2.7" fill="#fff" stroke="#222" stroke-width="0.75"/>
<circle cx="278.2" cy="443.8" r="2.7" fill="#fff" stroke="#222" stroke-width="0.75"/>
<circle cx="281.9" cy="447.7" r="2.7" fill="#fff" stroke="#222" stroke-width="0.75"/>
<circle cx="273.2" cy="447.7" r="2.7" fill="#fff" stroke="#222" stroke-width="0.75"/>
<circle cx="277.5" cy="448.4" r="2.7" fill="#fff" stroke="#222" stroke-width="0.75"/>
<circle cx="298.9" cy="369.6" r="2.7" fill="#fff" stroke="#222" stroke-width="0.75"/>
<circle cx="294.1" cy="387.4" r="2.7" fill="#fff" stroke="#222" stroke-width="0.75"/>
<circle cx="303.3" cy="387.4" r="2.7" fill="#fff" stroke="#222" stroke-width="0.75"/>
<circle cx="294.1" cy="400.7" r="2.7" fill="#fff" stroke="#222" stroke-width="0.75"/>
<circle cx="303.3" cy="405.1" r="2.7" fill="#fff" stroke="#222" stroke-width="0.75"/>
<circle cx="294.1" cy="411.1" r="2.7" fill="#fff" stroke="#222" stroke-width="0.75"/>
<circle cx="303.3" cy="411.9" r="2.7" fill="#fff" stroke="#222" stroke-width="0.75"/>
<circle cx="298.9" cy="434.7" r="2.7" fill="#fff" stroke="#222" stroke-width="0.75"/>
<line x1="277.75" y1="451.50" x2="277.75" y2="455.50" stroke="#77787b" stroke-width="0.8" />
<text transform="translate(280.55,464.00) rotate(-45)" font-size="10.3" text-anchor="end" font-weight="normal" fill="#231f20"  stroke="#231f20" stroke-width="0.1">Virgin</text>
<line x1="299.00" y1="451.50" x2="299.00" y2="455.50" stroke="#77787b" stroke-width="0.8" />
<text transform="translate(301.80,464.00) rotate(-45)" font-size="10.3" text-anchor="end" font-weight="normal" fill="#231f20"  stroke="#231f20" stroke-width="0.1">d28-inv</text>
<line x1="276.80" y1="356.30" x2="295.90" y2="356.30" stroke="#3a3a3a" stroke-width="0.9" />
<text x="286.35" y="353.70" font-size="10" text-anchor="middle" font-weight="normal" fill="#231f20"  stroke="#231f20" stroke-width="0.1">0.0002</text>
<text transform="translate(224.70,398.60) rotate(-90)" font-size="8.85" text-anchor="middle" font-weight="normal" fill="#231f20"  stroke="#231f20" stroke-width="0.1">CD8<tspan font-size="6.02" dy="-3.89">+</tspan><tspan dy="3.89">​</tspan>CD69<tspan font-size="6.02" dy="-3.89">+</tspan><tspan dy="3.89">​</tspan>CD103<tspan font-size="6.02" dy="-3.89">+</tspan><tspan dy="3.89">​</tspan></text>
<text transform="translate(235.20,398.60) rotate(-90)" font-size="8.85" text-anchor="middle" font-weight="normal" fill="#231f20"  stroke="#231f20" stroke-width="0.1">T cells per g (×10<tspan font-size="6.02" dy="-3.89">3</tspan><tspan dy="3.89">​</tspan>)</text>
<line x1="402.60" y1="451.70" x2="402.60" y2="346.40" stroke="#77787b" stroke-width="0.9" />
<line x1="397.80" y1="451.70" x2="402.60" y2="451.70" stroke="#77787b" stroke-width="0.9" />
<text x="393.70" y="454.77" font-size="9.3" text-anchor="end" font-weight="normal" fill="#231f20"  stroke="#231f20" stroke-width="0.1">0</text>
<line x1="397.80" y1="416.60" x2="402.60" y2="416.60" stroke="#77787b" stroke-width="0.9" />
<text x="393.70" y="419.67" font-size="9.3" text-anchor="end" font-weight="normal" fill="#231f20"  stroke="#231f20" stroke-width="0.1">0.5</text>
<line x1="397.80" y1="381.50" x2="402.60" y2="381.50" stroke="#77787b" stroke-width="0.9" />
<text x="393.70" y="384.57" font-size="9.3" text-anchor="end" font-weight="normal" fill="#231f20"  stroke="#231f20" stroke-width="0.1">1.0</text>
<line x1="397.80" y1="346.40" x2="402.60" y2="346.40" stroke="#77787b" stroke-width="0.9" />
<text x="393.70" y="349.47" font-size="9.3" text-anchor="end" font-weight="normal" fill="#231f20"  stroke="#231f20" stroke-width="0.1">1.5</text>
<line x1="402.15" y1="451.70" x2="456.40" y2="451.70" stroke="#77787b" stroke-width="0.9" />
<rect x="411.10" y="410.10" width="14.60" height="41.60" fill="#1f70b1" stroke="#3a3a3a" stroke-width="0.5" />
<rect x="434.40" y="396.10" width="14.50" height="55.60" fill="#f59592" stroke="#3a3a3a" stroke-width="0.5" />
<line x1="418.40" y1="403.30" x2="418.40" y2="415.20" stroke="#8a8a8a" stroke-width="0.8" />
<line x1="414.80" y1="403.30" x2="422.00" y2="403.30" stroke="#8a8a8a" stroke-width="0.8" />
<line x1="414.80" y1="415.20" x2="422.00" y2="415.20" stroke="#8a8a8a" stroke-width="0.8" />
<line x1="441.65" y1="390.60" x2="441.65" y2="400.40" stroke="#8a8a8a" stroke-width="0.8" />
<line x1="438.05" y1="390.60" x2="445.25" y2="390.60" stroke="#8a8a8a" stroke-width="0.8" />
<line x1="438.05" y1="400.40" x2="445.25" y2="400.40" stroke="#8a8a8a" stroke-width="0.8" />
<circle cx="416.2" cy="386.0" r="2.7" fill="#fff" stroke="#222" stroke-width="0.75"/>
<circle cx="420.0" cy="383.1" r="2.7" fill="#fff" stroke="#222" stroke-width="0.75"/>
<circle cx="418.1" cy="405.1" r="2.7" fill="#fff" stroke="#222" stroke-width="0.75"/>
<circle cx="416.6" cy="415.9" r="2.7" fill="#fff" stroke="#222" stroke-width="0.75"/>
<circle cx="413.3" cy="418.1" r="2.7" fill="#fff" stroke="#222" stroke-width="0.75"/>
<circle cx="420.2" cy="421.7" r="2.7" fill="#fff" stroke="#222" stroke-width="0.75"/>
<circle cx="423.9" cy="420.2" r="2.7" fill="#fff" stroke="#222" stroke-width="0.75"/>
<circle cx="413.7" cy="424.1" r="2.7" fill="#fff" stroke="#222" stroke-width="0.75"/>
<circle cx="441.5" cy="374.3" r="2.7" fill="#fff" stroke="#222" stroke-width="0.75"/>
<circle cx="436.9" cy="384.1" r="2.7" fill="#fff" stroke="#222" stroke-width="0.75"/>
<circle cx="443.4" cy="384.1" r="2.7" fill="#fff" stroke="#222" stroke-width="0.75"/>
<circle cx="440.2" cy="389.2" r="2.7" fill="#fff" stroke="#222" stroke-width="0.75"/>
<circle cx="440.2" cy="405.8" r="2.7" fill="#fff" stroke="#222" stroke-width="0.75"/>
<circle cx="446.3" cy="406.8" r="2.7" fill="#fff" stroke="#222" stroke-width="0.75"/>
<circle cx="443.1" cy="410.1" r="2.7" fill="#fff" stroke="#222" stroke-width="0.75"/>
<circle cx="436.9" cy="411.1" r="2.7" fill="#fff" stroke="#222" stroke-width="0.75"/>
<line x1="418.40" y1="451.70" x2="418.40" y2="455.70" stroke="#77787b" stroke-width="0.8" />
<text transform="translate(420.90,463.20) rotate(-45)" font-size="9.2" text-anchor="end" font-weight="normal" fill="#231f20"  stroke="#231f20" stroke-width="0.1">Virgin</text>
<line x1="441.65" y1="451.70" x2="441.65" y2="455.70" stroke="#77787b" stroke-width="0.8" />
<text transform="translate(444.15,463.20) rotate(-45)" font-size="9.2" text-anchor="end" font-weight="normal" fill="#231f20"  stroke="#231f20" stroke-width="0.1">d10-FW</text>
<line x1="418.10" y1="356.20" x2="441.80" y2="356.20" stroke="#9a9a9a" stroke-width="0.9" />
<text x="429.95" y="353.60" font-size="9.1" text-anchor="middle" font-weight="normal" fill="#231f20"  stroke="#231f20" stroke-width="0.1">0.083</text>
<text transform="translate(362.60,398.90) rotate(-90)" font-size="9.1" text-anchor="middle" font-weight="normal" fill="#231f20"  stroke="#231f20" stroke-width="0.1">CD8<tspan font-size="6.19" dy="-4.00">+</tspan><tspan dy="4.00">​</tspan>CD44<tspan font-size="6.19" dy="-4.00">high</tspan><tspan dy="4.00">​</tspan></text>
<text transform="translate(374.00,398.90) rotate(-90)" font-size="9.1" text-anchor="middle" font-weight="normal" fill="#231f20"  stroke="#231f20" stroke-width="0.1">T cells per g (×10<tspan font-size="6.19" dy="-4.00">3</tspan><tspan dy="4.00">​</tspan>)</text>
<line x1="517.60" y1="451.10" x2="517.60" y2="346.30" stroke="#77787b" stroke-width="0.9" />
<line x1="512.80" y1="451.10" x2="517.60" y2="451.10" stroke="#77787b" stroke-width="0.9" />
<text x="508.70" y="454.17" font-size="9.3" text-anchor="end" font-weight="normal" fill="#231f20"  stroke="#231f20" stroke-width="0.1">0</text>
<line x1="512.80" y1="424.90" x2="517.60" y2="424.90" stroke="#77787b" stroke-width="0.9" />
<text x="508.70" y="427.97" font-size="9.3" text-anchor="end" font-weight="normal" fill="#231f20"  stroke="#231f20" stroke-width="0.1">2</text>
<line x1="512.80" y1="398.70" x2="517.60" y2="398.70" stroke="#77787b" stroke-width="0.9" />
<text x="508.70" y="401.77" font-size="9.3" text-anchor="end" font-weight="normal" fill="#231f20"  stroke="#231f20" stroke-width="0.1">4</text>
<line x1="512.80" y1="372.50" x2="517.60" y2="372.50" stroke="#77787b" stroke-width="0.9" />
<text x="508.70" y="375.57" font-size="9.3" text-anchor="end" font-weight="normal" fill="#231f20"  stroke="#231f20" stroke-width="0.1">6</text>
<line x1="512.80" y1="346.30" x2="517.60" y2="346.30" stroke="#77787b" stroke-width="0.9" />
<text x="508.70" y="349.37" font-size="9.3" text-anchor="end" font-weight="normal" fill="#231f20"  stroke="#231f20" stroke-width="0.1">8</text>
<line x1="517.15" y1="451.10" x2="572.00" y2="451.10" stroke="#77787b" stroke-width="0.9" />
<rect x="525.40" y="417.80" width="14.90" height="33.30" fill="#1f70b1" stroke="#3a3a3a" stroke-width="0.5" />
<rect x="549.00" y="402.50" width="14.40" height="48.60" fill="#f59592" stroke="#3a3a3a" stroke-width="0.5" />
<line x1="532.85" y1="409.40" x2="532.85" y2="425.30" stroke="#8a8a8a" stroke-width="0.8" />
<line x1="529.25" y1="409.40" x2="536.45" y2="409.40" stroke="#8a8a8a" stroke-width="0.8" />
<line x1="529.25" y1="425.30" x2="536.45" y2="425.30" stroke="#8a8a8a" stroke-width="0.8" />
<line x1="556.20" y1="393.50" x2="556.20" y2="411.30" stroke="#8a8a8a" stroke-width="0.8" />
<line x1="552.60" y1="393.50" x2="559.80" y2="393.50" stroke="#8a8a8a" stroke-width="0.8" />
<line x1="552.60" y1="411.30" x2="559.80" y2="411.30" stroke="#8a8a8a" stroke-width="0.8" />
<circle cx="533.1" cy="379.8" r="2.7" fill="#fff" stroke="#222" stroke-width="0.75"/>
<circle cx="533.1" cy="387.0" r="2.7" fill="#fff" stroke="#222" stroke-width="0.75"/>
<circle cx="533.1" cy="413.4" r="2.7" fill="#fff" stroke="#222" stroke-width="0.75"/>
<circle cx="528.3" cy="423.6" r="2.7" fill="#fff" stroke="#222" stroke-width="0.75"/>
<circle cx="537.8" cy="426.7" r="2.7" fill="#fff" stroke="#222" stroke-width="0.75"/>
<circle cx="528.3" cy="433.2" r="2.7" fill="#fff" stroke="#222" stroke-width="0.75"/>
<circle cx="537.8" cy="434.0" r="2.7" fill="#fff" stroke="#222" stroke-width="0.75"/>
<circle cx="533.1" cy="439.8" r="2.7" fill="#fff" stroke="#222" stroke-width="0.75"/>
<circle cx="556.2" cy="364.9" r="2.7" fill="#fff" stroke="#222" stroke-width="0.75"/>
<circle cx="556.2" cy="373.5" r="2.7" fill="#fff" stroke="#222" stroke-width="0.75"/>
<circle cx="556.2" cy="388.4" r="2.7" fill="#fff" stroke="#222" stroke-width="0.75"/>
<circle cx="556.2" cy="400.4" r="2.7" fill="#fff" stroke="#222" stroke-width="0.75"/>
<circle cx="561.0" cy="413.4" r="2.7" fill="#fff" stroke="#222" stroke-width="0.75"/>
<circle cx="551.4" cy="418.8" r="2.7" fill="#fff" stroke="#222" stroke-width="0.75"/>
<circle cx="561.0" cy="422.4" r="2.7" fill="#fff" stroke="#222" stroke-width="0.75"/>
<circle cx="556.2" cy="436.1" r="2.7" fill="#fff" stroke="#222" stroke-width="0.75"/>
<line x1="532.85" y1="451.10" x2="532.85" y2="455.10" stroke="#77787b" stroke-width="0.8" />
<text transform="translate(535.35,462.60) rotate(-45)" font-size="9.2" text-anchor="end" font-weight="normal" fill="#231f20"  stroke="#231f20" stroke-width="0.1">Virgin</text>
<line x1="556.20" y1="451.10" x2="556.20" y2="455.10" stroke="#77787b" stroke-width="0.8" />
<text transform="translate(558.70,462.60) rotate(-45)" font-size="9.2" text-anchor="end" font-weight="normal" fill="#231f20"  stroke="#231f20" stroke-width="0.1">d10-FW</text>
<line x1="533.10" y1="354.50" x2="556.20" y2="354.50" stroke="#9a9a9a" stroke-width="0.9" />
<text x="544.65" y="351.90" font-size="9.1" text-anchor="middle" font-weight="normal" fill="#231f20"  stroke="#231f20" stroke-width="0.1">0.19</text>
<text transform="translate(484.00,397.70) rotate(-90)" font-size="9.1" text-anchor="middle" font-weight="normal" fill="#231f20"  stroke="#231f20" stroke-width="0.1">CD8<tspan font-size="6.19" dy="-4.00">+</tspan><tspan dy="4.00">​</tspan>CD69<tspan font-size="6.19" dy="-4.00">+</tspan><tspan dy="4.00">​</tspan>CD103<tspan font-size="6.19" dy="-4.00">+</tspan><tspan dy="4.00">​</tspan></text>
<text transform="translate(494.80,397.70) rotate(-90)" font-size="9.1" text-anchor="middle" font-weight="normal" fill="#231f20"  stroke="#231f20" stroke-width="0.1">T cells per g (×10<tspan font-size="6.19" dy="-4.00">2</tspan><tspan dy="4.00">​</tspan>)</text>
<line x1="630.10" y1="449.30" x2="630.10" y2="344.55" stroke="#77787b" stroke-width="0.9" />
<line x1="625.30" y1="449.30" x2="630.10" y2="449.30" stroke="#77787b" stroke-width="0.9" />
<text x="621.20" y="452.37" font-size="9.3" text-anchor="end" font-weight="normal" fill="#231f20"  stroke="#231f20" stroke-width="0.1">0</text>
<line x1="625.30" y1="428.35" x2="630.10" y2="428.35" stroke="#77787b" stroke-width="0.9" />
<text x="621.20" y="431.42" font-size="9.3" text-anchor="end" font-weight="normal" fill="#231f20"  stroke="#231f20" stroke-width="0.1">1</text>
<line x1="625.30" y1="407.40" x2="630.10" y2="407.40" stroke="#77787b" stroke-width="0.9" />
<text x="621.20" y="410.47" font-size="9.3" text-anchor="end" font-weight="normal" fill="#231f20"  stroke="#231f20" stroke-width="0.1">2</text>
<line x1="625.30" y1="386.45" x2="630.10" y2="386.45" stroke="#77787b" stroke-width="0.9" />
<text x="621.20" y="389.52" font-size="9.3" text-anchor="end" font-weight="normal" fill="#231f20"  stroke="#231f20" stroke-width="0.1">3</text>
<line x1="625.30" y1="365.50" x2="630.10" y2="365.50" stroke="#77787b" stroke-width="0.9" />
<text x="621.20" y="368.57" font-size="9.3" text-anchor="end" font-weight="normal" fill="#231f20"  stroke="#231f20" stroke-width="0.1">4</text>
<line x1="625.30" y1="344.55" x2="630.10" y2="344.55" stroke="#77787b" stroke-width="0.9" />
<text x="621.20" y="347.62" font-size="9.3" text-anchor="end" font-weight="normal" fill="#231f20"  stroke="#231f20" stroke-width="0.1">5</text>
<line x1="629.65" y1="449.30" x2="685.00" y2="449.30" stroke="#77787b" stroke-width="0.9" />
<rect x="638.10" y="447.20" width="14.90" height="2.10" fill="#1f70b1" stroke="#3a3a3a" stroke-width="0.5" />
<rect x="661.50" y="396.50" width="15.00" height="52.80" fill="#f59592" stroke="#3a3a3a" stroke-width="0.5" />
<line x1="669.00" y1="375.50" x2="669.00" y2="415.60" stroke="#b0b0b0" stroke-width="0.8" />
<line x1="665.40" y1="375.50" x2="672.60" y2="375.50" stroke="#b0b0b0" stroke-width="0.8" />
<line x1="665.40" y1="415.60" x2="672.60" y2="415.60" stroke="#b0b0b0" stroke-width="0.8" />
<circle cx="642.4" cy="440.6" r="2.7" fill="#fff" stroke="#222" stroke-width="0.75"/>
<circle cx="647.5" cy="441.3" r="2.7" fill="#fff" stroke="#222" stroke-width="0.75"/>
<circle cx="640.3" cy="446.4" r="2.7" fill="#fff" stroke="#222" stroke-width="0.75"/>
<circle cx="645.3" cy="447.1" r="2.7" fill="#fff" stroke="#222" stroke-width="0.75"/>
<circle cx="650.4" cy="446.4" r="2.7" fill="#fff" stroke="#222" stroke-width="0.75"/>
<circle cx="669.2" cy="368.7" r="2.7" fill="#fff" stroke="#222" stroke-width="0.75"/>
<circle cx="673.9" cy="377.9" r="2.7" fill="#fff" stroke="#222" stroke-width="0.75"/>
<circle cx="664.2" cy="383.1" r="2.7" fill="#fff" stroke="#222" stroke-width="0.75"/>
<circle cx="664.2" cy="393.6" r="2.7" fill="#fff" stroke="#222" stroke-width="0.75"/>
<circle cx="673.9" cy="397.6" r="2.7" fill="#fff" stroke="#222" stroke-width="0.75"/>
<circle cx="664.2" cy="399.6" r="2.7" fill="#fff" stroke="#222" stroke-width="0.75"/>
<circle cx="669.2" cy="408.3" r="2.7" fill="#fff" stroke="#222" stroke-width="0.75"/>
<circle cx="669.2" cy="434.1" r="2.7" fill="#fff" stroke="#222" stroke-width="0.75"/>
<line x1="645.55" y1="449.30" x2="645.55" y2="453.30" stroke="#77787b" stroke-width="0.8" />
<text transform="translate(648.05,460.80) rotate(-45)" font-size="9.2" text-anchor="end" font-weight="normal" fill="#231f20"  stroke="#231f20" stroke-width="0.1">Virgin</text>
<line x1="669.00" y1="449.30" x2="669.00" y2="453.30" stroke="#77787b" stroke-width="0.8" />
<text transform="translate(671.50,460.80) rotate(-45)" font-size="9.2" text-anchor="end" font-weight="normal" fill="#231f20"  stroke="#231f20" stroke-width="0.1">d10-FW</text>
<line x1="643.20" y1="354.80" x2="666.00" y2="354.80" stroke="#9a9a9a" stroke-width="0.9" />
<text x="654.60" y="352.20" font-size="9.2" text-anchor="middle" font-weight="normal" fill="#231f20"  stroke="#231f20" stroke-width="0.1">0.00016</text>
<text transform="translate(595.10,396.30) rotate(-90)" font-size="9.1" text-anchor="middle" font-weight="normal" fill="#231f20"  stroke="#231f20" stroke-width="0.1">F4/80<tspan font-size="6.19" dy="-4.00">+</tspan><tspan dy="4.00">​</tspan>CD11b<tspan font-size="6.19" dy="-4.00">−</tspan><tspan dy="4.00">​</tspan> ductal</text>
<text transform="translate(604.80,396.30) rotate(-90)" font-size="9.1" text-anchor="middle" font-weight="normal" fill="#231f20"  stroke="#231f20" stroke-width="0.1">macrophages per g (×10<tspan font-size="6.19" dy="-4.00">5</tspan><tspan dy="4.00">​</tspan>)</text>
<line x1="401.50" y1="617.90" x2="401.50" y2="509.50" stroke="#77787b" stroke-width="0.9" />
<line x1="396.70" y1="617.90" x2="401.50" y2="617.90" stroke="#77787b" stroke-width="0.9" />
<text x="392.60" y="620.97" font-size="9.3" text-anchor="end" font-weight="normal" fill="#231f20"  stroke="#231f20" stroke-width="0.1">0</text>
<line x1="396.70" y1="590.80" x2="401.50" y2="590.80" stroke="#77787b" stroke-width="0.9" />
<text x="392.60" y="593.87" font-size="9.3" text-anchor="end" font-weight="normal" fill="#231f20"  stroke="#231f20" stroke-width="0.1">2</text>
<line x1="396.70" y1="563.70" x2="401.50" y2="563.70" stroke="#77787b" stroke-width="0.9" />
<text x="392.60" y="566.77" font-size="9.3" text-anchor="end" font-weight="normal" fill="#231f20"  stroke="#231f20" stroke-width="0.1">4</text>
<line x1="396.70" y1="536.60" x2="401.50" y2="536.60" stroke="#77787b" stroke-width="0.9" />
<text x="392.60" y="539.67" font-size="9.3" text-anchor="end" font-weight="normal" fill="#231f20"  stroke="#231f20" stroke-width="0.1">6</text>
<line x1="396.70" y1="509.50" x2="401.50" y2="509.50" stroke="#77787b" stroke-width="0.9" />
<text x="392.60" y="512.57" font-size="9.3" text-anchor="end" font-weight="normal" fill="#231f20"  stroke="#231f20" stroke-width="0.1">8</text>
<line x1="401.05" y1="617.90" x2="457.70" y2="617.90" stroke="#77787b" stroke-width="0.9" />
<rect x="410.30" y="592.10" width="15.70" height="25.80" fill="#1f70b1" stroke="#3a3a3a" stroke-width="0.5" />
<rect x="434.70" y="568.00" width="15.20" height="49.90" fill="#f28125" stroke="#3a3a3a" stroke-width="0.5" />
<line x1="418.15" y1="579.50" x2="418.15" y2="604.70" stroke="#8a8a8a" stroke-width="0.8" />
<line x1="414.55" y1="579.50" x2="421.75" y2="579.50" stroke="#8a8a8a" stroke-width="0.8" />
<line x1="414.55" y1="604.70" x2="421.75" y2="604.70" stroke="#8a8a8a" stroke-width="0.8" />
<line x1="442.30" y1="564.50" x2="442.30" y2="571.60" stroke="#8a8a8a" stroke-width="0.8" />
<line x1="438.70" y1="564.50" x2="445.90" y2="564.50" stroke="#8a8a8a" stroke-width="0.8" />
<line x1="438.70" y1="571.60" x2="445.90" y2="571.60" stroke="#8a8a8a" stroke-width="0.8" />
<circle cx="417.7" cy="529.1" r="2.7" fill="#fff" stroke="#222" stroke-width="0.75"/>
<circle cx="417.7" cy="552.7" r="2.7" fill="#fff" stroke="#222" stroke-width="0.75"/>
<circle cx="417.7" cy="588.9" r="2.7" fill="#fff" stroke="#222" stroke-width="0.75"/>
<circle cx="415.0" cy="604.6" r="2.7" fill="#fff" stroke="#222" stroke-width="0.75"/>
<circle cx="420.3" cy="604.6" r="2.7" fill="#fff" stroke="#222" stroke-width="0.75"/>
<circle cx="417.7" cy="612.5" r="2.7" fill="#fff" stroke="#222" stroke-width="0.75"/>
<circle cx="422.9" cy="613.0" r="2.7" fill="#fff" stroke="#222" stroke-width="0.75"/>
<circle cx="412.5" cy="615.7" r="2.7" fill="#fff" stroke="#222" stroke-width="0.75"/>
<circle cx="442.1" cy="550.7" r="2.7" fill="#fff" stroke="#222" stroke-width="0.75"/>
<circle cx="442.1" cy="556.3" r="2.7" fill="#fff" stroke="#222" stroke-width="0.75"/>
<circle cx="437.0" cy="563.3" r="2.7" fill="#fff" stroke="#222" stroke-width="0.75"/>
<circle cx="443.6" cy="563.3" r="2.7" fill="#fff" stroke="#222" stroke-width="0.75"/>
<circle cx="447.1" cy="564.8" r="2.7" fill="#fff" stroke="#222" stroke-width="0.75"/>
<circle cx="440.2" cy="566.9" r="2.7" fill="#fff" stroke="#222" stroke-width="0.75"/>
<circle cx="442.1" cy="575.2" r="2.7" fill="#fff" stroke="#222" stroke-width="0.75"/>
<circle cx="443.6" cy="581.5" r="2.7" fill="#fff" stroke="#222" stroke-width="0.75"/>
<circle cx="440.2" cy="585.8" r="2.7" fill="#fff" stroke="#222" stroke-width="0.75"/>
<line x1="418.15" y1="617.90" x2="418.15" y2="621.90" stroke="#77787b" stroke-width="0.8" />
<text transform="translate(420.65,629.40) rotate(-45)" font-size="9.2" text-anchor="end" font-weight="normal" fill="#231f20"  stroke="#231f20" stroke-width="0.1">Virgin</text>
<line x1="442.30" y1="617.90" x2="442.30" y2="621.90" stroke="#77787b" stroke-width="0.8" />
<text transform="translate(444.80,629.40) rotate(-45)" font-size="9.2" text-anchor="end" font-weight="normal" fill="#231f20"  stroke="#231f20" stroke-width="0.1">d28-inv</text>
<line x1="419.20" y1="514.50" x2="443.30" y2="514.50" stroke="#3a3a3a" stroke-width="0.9" />
<text x="431.25" y="511.90" font-size="9.1" text-anchor="middle" font-weight="normal" fill="#231f20"  stroke="#231f20" stroke-width="0.1">0.035</text>
<text transform="translate(369.50,563.50) rotate(-90)" font-size="9.3" text-anchor="middle" font-weight="normal" fill="#231f20"  stroke="#231f20" stroke-width="0.1">Percentage of C1 of</text>
<text transform="translate(380.80,563.50) rotate(-90)" font-size="9.3" text-anchor="middle" font-weight="normal" fill="#231f20"  stroke="#231f20" stroke-width="0.1">CD8α<tspan font-size="6.32" dy="-4.09">+</tspan><tspan dy="4.09">​</tspan> cells</text>
<line x1="511.90" y1="617.20" x2="511.90" y2="507.20" stroke="#77787b" stroke-width="0.9" />
<line x1="507.10" y1="617.20" x2="511.90" y2="617.20" stroke="#77787b" stroke-width="0.9" />
<text x="503.00" y="620.27" font-size="9.3" text-anchor="end" font-weight="normal" fill="#231f20"  stroke="#231f20" stroke-width="0.1">0</text>
<line x1="507.10" y1="589.70" x2="511.90" y2="589.70" stroke="#77787b" stroke-width="0.9" />
<text x="503.00" y="592.77" font-size="9.3" text-anchor="end" font-weight="normal" fill="#231f20"  stroke="#231f20" stroke-width="0.1">5</text>
<line x1="507.10" y1="562.20" x2="511.90" y2="562.20" stroke="#77787b" stroke-width="0.9" />
<text x="503.00" y="565.27" font-size="9.3" text-anchor="end" font-weight="normal" fill="#231f20"  stroke="#231f20" stroke-width="0.1">10</text>
<line x1="507.10" y1="534.70" x2="511.90" y2="534.70" stroke="#77787b" stroke-width="0.9" />
<text x="503.00" y="537.77" font-size="9.3" text-anchor="end" font-weight="normal" fill="#231f20"  stroke="#231f20" stroke-width="0.1">15</text>
<line x1="507.10" y1="507.20" x2="511.90" y2="507.20" stroke="#77787b" stroke-width="0.9" />
<text x="503.00" y="510.27" font-size="9.3" text-anchor="end" font-weight="normal" fill="#231f20"  stroke="#231f20" stroke-width="0.1">20</text>
<line x1="511.45" y1="617.20" x2="568.20" y2="617.20" stroke="#77787b" stroke-width="0.9" />
<rect x="520.50" y="610.60" width="15.00" height="6.60" fill="#1f70b1" stroke="#3a3a3a" stroke-width="0.5" />
<rect x="544.60" y="591.30" width="15.40" height="25.90" fill="#f28125" stroke="#3a3a3a" stroke-width="0.5" />
<line x1="552.30" y1="580.40" x2="552.30" y2="602.00" stroke="#8a8a8a" stroke-width="0.8" />
<line x1="548.70" y1="580.40" x2="555.90" y2="580.40" stroke="#8a8a8a" stroke-width="0.8" />
<line x1="548.70" y1="602.00" x2="555.90" y2="602.00" stroke="#8a8a8a" stroke-width="0.8" />
<circle cx="528.6" cy="602.0" r="2.7" fill="#fff" stroke="#222" stroke-width="0.75"/>
<circle cx="527.0" cy="605.2" r="2.7" fill="#fff" stroke="#222" stroke-width="0.75"/>
<circle cx="528.9" cy="609.1" r="2.7" fill="#fff" stroke="#222" stroke-width="0.75"/>
<circle cx="524.2" cy="612.2" r="2.7" fill="#fff" stroke="#222" stroke-width="0.75"/>
<circle cx="532.8" cy="611.4" r="2.7" fill="#fff" stroke="#222" stroke-width="0.75"/>
<circle cx="527.3" cy="613.8" r="2.7" fill="#fff" stroke="#222" stroke-width="0.75"/>
<circle cx="531.2" cy="613.8" r="2.7" fill="#fff" stroke="#222" stroke-width="0.75"/>
<circle cx="552.0" cy="525.7" r="2.7" fill="#fff" stroke="#222" stroke-width="0.75"/>
<circle cx="552.0" cy="549.0" r="2.7" fill="#fff" stroke="#222" stroke-width="0.75"/>
<circle cx="552.0" cy="585.2" r="2.7" fill="#fff" stroke="#222" stroke-width="0.75"/>
<circle cx="552.0" cy="599.2" r="2.7" fill="#fff" stroke="#222" stroke-width="0.75"/>
<circle cx="547.8" cy="608.3" r="2.7" fill="#fff" stroke="#222" stroke-width="0.75"/>
<circle cx="550.6" cy="610.7" r="2.7" fill="#fff" stroke="#222" stroke-width="0.75"/>
<circle cx="554.5" cy="612.2" r="2.7" fill="#fff" stroke="#222" stroke-width="0.75"/>
<circle cx="557.2" cy="611.8" r="2.7" fill="#fff" stroke="#222" stroke-width="0.75"/>
<circle cx="546.5" cy="612.2" r="2.7" fill="#fff" stroke="#222" stroke-width="0.75"/>
<line x1="528.00" y1="617.20" x2="528.00" y2="621.20" stroke="#77787b" stroke-width="0.8" />
<text transform="translate(530.50,628.70) rotate(-45)" font-size="9.2" text-anchor="end" font-weight="normal" fill="#231f20"  stroke="#231f20" stroke-width="0.1">Virgin</text>
<line x1="552.30" y1="617.20" x2="552.30" y2="621.20" stroke="#77787b" stroke-width="0.8" />
<text transform="translate(554.80,628.70) rotate(-45)" font-size="9.2" text-anchor="end" font-weight="normal" fill="#231f20"  stroke="#231f20" stroke-width="0.1">d28-inv</text>
<line x1="529.20" y1="513.60" x2="553.70" y2="513.60" stroke="#3a3a3a" stroke-width="0.9" />
<text x="541.45" y="511.00" font-size="9.2" text-anchor="middle" font-weight="normal" fill="#231f20"  stroke="#231f20" stroke-width="0.1">0.023</text>
<text transform="translate(475.70,562.00) rotate(-90)" font-size="9.3" text-anchor="middle" font-weight="normal" fill="#231f20"  stroke="#231f20" stroke-width="0.1">Percentage of C2 of</text>
<text transform="translate(487.00,562.00) rotate(-90)" font-size="9.3" text-anchor="middle" font-weight="normal" fill="#231f20"  stroke="#231f20" stroke-width="0.1">CD8α<tspan font-size="6.32" dy="-4.09">+</tspan><tspan dy="4.09">​</tspan> cells</text>
<line x1="626.50" y1="616.10" x2="626.50" y2="506.10" stroke="#77787b" stroke-width="0.9" />
<line x1="621.70" y1="616.10" x2="626.50" y2="616.10" stroke="#77787b" stroke-width="0.9" />
<text x="617.60" y="619.17" font-size="9.3" text-anchor="end" font-weight="normal" fill="#231f20"  stroke="#231f20" stroke-width="0.1">0</text>
<line x1="621.70" y1="588.60" x2="626.50" y2="588.60" stroke="#77787b" stroke-width="0.9" />
<text x="617.60" y="591.67" font-size="9.3" text-anchor="end" font-weight="normal" fill="#231f20"  stroke="#231f20" stroke-width="0.1">5</text>
<line x1="621.70" y1="561.10" x2="626.50" y2="561.10" stroke="#77787b" stroke-width="0.9" />
<text x="617.60" y="564.17" font-size="9.3" text-anchor="end" font-weight="normal" fill="#231f20"  stroke="#231f20" stroke-width="0.1">10</text>
<line x1="621.70" y1="533.60" x2="626.50" y2="533.60" stroke="#77787b" stroke-width="0.9" />
<text x="617.60" y="536.67" font-size="9.3" text-anchor="end" font-weight="normal" fill="#231f20"  stroke="#231f20" stroke-width="0.1">15</text>
<line x1="621.70" y1="506.10" x2="626.50" y2="506.10" stroke="#77787b" stroke-width="0.9" />
<text x="617.60" y="509.17" font-size="9.3" text-anchor="end" font-weight="normal" fill="#231f20"  stroke="#231f20" stroke-width="0.1">20</text>
<line x1="626.05" y1="616.10" x2="682.00" y2="616.10" stroke="#77787b" stroke-width="0.9" />
<rect x="634.50" y="613.50" width="15.00" height="2.60" fill="#1f70b1" stroke="#3a3a3a" stroke-width="0.5" />
<rect x="658.40" y="572.10" width="15.00" height="44.00" fill="#f28125" stroke="#3a3a3a" stroke-width="0.5" />
<line x1="665.90" y1="561.90" x2="665.90" y2="580.80" stroke="#8a8a8a" stroke-width="0.8" />
<line x1="662.30" y1="561.90" x2="669.50" y2="561.90" stroke="#8a8a8a" stroke-width="0.8" />
<line x1="662.30" y1="580.80" x2="669.50" y2="580.80" stroke="#8a8a8a" stroke-width="0.8" />
<circle cx="641.9" cy="604.4" r="2.7" fill="#fff" stroke="#222" stroke-width="0.75"/>
<circle cx="638.7" cy="607.5" r="2.7" fill="#fff" stroke="#222" stroke-width="0.75"/>
<circle cx="645.8" cy="611.4" r="2.7" fill="#fff" stroke="#222" stroke-width="0.75"/>
<circle cx="637.2" cy="612.2" r="2.7" fill="#fff" stroke="#222" stroke-width="0.75"/>
<circle cx="643.5" cy="612.7" r="2.7" fill="#fff" stroke="#222" stroke-width="0.75"/>
<circle cx="647.4" cy="612.2" r="2.7" fill="#fff" stroke="#222" stroke-width="0.75"/>
<circle cx="666.3" cy="513.1" r="2.7" fill="#fff" stroke="#222" stroke-width="0.75"/>
<circle cx="661.2" cy="552.4" r="2.7" fill="#fff" stroke="#222" stroke-width="0.75"/>
<circle cx="671.3" cy="550.5" r="2.7" fill="#fff" stroke="#222" stroke-width="0.75"/>
<circle cx="666.3" cy="568.6" r="2.7" fill="#fff" stroke="#222" stroke-width="0.75"/>
<circle cx="661.2" cy="586.0" r="2.7" fill="#fff" stroke="#222" stroke-width="0.75"/>
<circle cx="671.3" cy="586.0" r="2.7" fill="#fff" stroke="#222" stroke-width="0.75"/>
<circle cx="661.2" cy="592.2" r="2.7" fill="#fff" stroke="#222" stroke-width="0.75"/>
<circle cx="671.3" cy="593.3" r="2.7" fill="#fff" stroke="#222" stroke-width="0.75"/>
<circle cx="666.3" cy="600.7" r="2.7" fill="#fff" stroke="#222" stroke-width="0.75"/>
<line x1="642.00" y1="616.10" x2="642.00" y2="620.10" stroke="#77787b" stroke-width="0.8" />
<text transform="translate(644.50,627.60) rotate(-45)" font-size="9.2" text-anchor="end" font-weight="normal" fill="#231f20"  stroke="#231f20" stroke-width="0.1">Virgin</text>
<line x1="665.90" y1="616.10" x2="665.90" y2="620.10" stroke="#77787b" stroke-width="0.8" />
<text transform="translate(668.40,627.60) rotate(-45)" font-size="9.2" text-anchor="end" font-weight="normal" fill="#231f20"  stroke="#231f20" stroke-width="0.1">d28-inv</text>
<line x1="641.90" y1="509.50" x2="665.80" y2="509.50" stroke="#3a3a3a" stroke-width="0.9" />
<text x="653.85" y="506.90" font-size="9.3" text-anchor="middle" font-weight="normal" fill="#231f20"  stroke="#231f20" stroke-width="0.1">&lt;0.0001</text>
<text transform="translate(590.10,561.00) rotate(-90)" font-size="9.3" text-anchor="middle" font-weight="normal" fill="#231f20"  stroke="#231f20" stroke-width="0.1">Percentage of C3 of</text>
<text transform="translate(601.40,561.00) rotate(-90)" font-size="9.3" text-anchor="middle" font-weight="normal" fill="#231f20"  stroke="#231f20" stroke-width="0.1">CD8α<tspan font-size="6.32" dy="-4.09">+</tspan><tspan dy="4.09">​</tspan> cells</text>
<path transform="scale(0.2)" d="M209 2576h6m-9 2h6m-8-3h6m-13 3h6m-8 0h6m-8-2h6m-6-1h6m-8 1h6m-10-2h6m-8-1h6m-12 0h6m-8 4h6m-6 2h6m-10-1h6m-9-6h6m-7 6h6m-11 0h6m-17-1h6m-7-1h6m-10 2h6m-6-6h6m-8 6h6m-9-6h6m-11 3h6m-8 2h6m-10-3h6m-8 2h6m-9 2h6m-16-4h6m-6 1h6m-30 16h6m-3-2h6m-2 2h6m-3 3h6m-5-11h6m-3 11h6m4-8h6m-6-6h6m-4 12h6m-5-5h6m-6-4h6m-4 9h6m-3-5h6m-6-1h6m-5 6h6m-6 1h6m-4 1h6m-6-6h6m-5 0h6m2-8h6m-5 10h6m-5 1h6m-5-11h6m-6 11h6m-2-3h6m-6-1h6m-5-2h6m9 1h6m-5-3h6m-6 10h6m-4-12h6m-6 7h6m3-7h6m-6 5h6m4 3h6m-6 3h6m-6-4h6m-4 6h6m-3-5h6m0-2h6m-6-4h6m-3 2h6m-1-1h6m-6 2h6m-6 3h6m-5 2h6m-2 3h6m-4-12h6m-3-1h6m-5 10h6m-5-11h6m-2 12h6m-2-6h6m-4 5h6m-1 0h6m-5-2h6m-6-5h6m2 6h6m-3 3h6m-5-4h6m-5-1h6m-3 1h6m-5 0h6m-6 3h6m-1 0h6m-5-2h6m0 2h6m-5 2h6m360-1h6m0 1h6m-2-2h6m14-3h6m11 13h6m-8 2h6m-11-1h6m-19 4h6m-25 0h6m-367 1h6m-10-2h6m-8-2h6m-10-4h6m-9-5h6m-8 12h6m-6-12h6m-6 7h6m-10 6h6m-7-13h6m-10 14h6m-8-7h6m-8-7h6m-8 4h6m-7 6h6m-10-9h6m-7 6h6m-9-7h6m-7 10h6m-7 0h6m-6-2h6m-8-4h6m-7-4h6m-6 3h6m-9 11h6m-7-5h6m-7-2h6m-9 4h6m-8-11h6m-6 8h6m-8-7h6m-12 4h6m-6 1h6m-8-6h6m-7 5h6m-7 1h6m-8 3h6m-9 1h6m-8-7h6m-8-2h6m-11 0h6m-7 2h6m-13-3h6m-7 9h6m-10-4h6m-6-2h6m-7 1h6m-11-1h6m-6 11h6m-12-3h6m-6 2h6m-6-13h6m-7 7h6m-6 7h6m-7-4h6m-10-5h6m-6 9h6m-6-3h6m-7-7h6m-13-1h6m-8-3h6m-6 8h6m-9 3h6m-7 1h6m-10 0h6m-11 2h6m-7-7h6m-8-5h6m-7 5h6m-7 1h6m-7 4h6m-7-8h6m-6-1h6m-6 9h6m-10-11h6m-7 4h6m-7-5h6m-6 3h6m-7 11h6m-7-12h6m-11 6h6m-11-7h6m-11 6h6m-7 3h6m-6-5h6m-7 2h6m-6-3h6m-6-3h6m-7 7h6m-10 0h6m-9 0h6m-7-7h6m-10 3h6m-6 6h6m-1 8h6m-2 6h6m-6-5h6m-6-3h6m-2 6h6m-2-5h6m-5-2h6m-4 5h6m-5 9h6m-6-6h6m-5 0h6m-6-2h6m-5 7h6m-4-12h6m-3 9h6m-4 3h6m-4-5h6m-6-5h6m-5 11h6m-3-8h6m-6 4h6m-5-5h6m-5-3h6m-5 2h6m-6 6h6m-2 2h6m-2-9h6m-4 7h6m-5-5h6m1-3h6m-6 11h6m-6-5h6m-5-7h6m-6 4h6m-5-2h6m-5-2h6m-5 9h6m-6 3h6m-4-3h6m-6-5h6m-3 8h6m-5-4h6m-4-1h6m-5-4h6m-6 7h6m-2-10h6m-5 10h6m-5-10h6m-5 5h6m-3-4h6m-5 9h6m-5-4h6m0-3h6m-4 6h6m-1-8h6m-4 4h6m-3 0h6m-5 8h6m-6-13h6m-5 3h6m-4 10h6m-4-6h6m-5 4h6m-6 0h6m-6-3h6m-3-4h6m-2 9h6m-1-13h6m-6 12h6m-6-5h6m-5 0h6m-6-5h6m7 10h6m-1-3h6m-5-9h6m-4 2h6m-1 0h6m-6 0h6m-1 1h6m-4 1h6m-6-4h6m-3 2h6m-6 8h6m-3-6h6m-3-4h6m0 0h6m-4 8h6m-2 1h6m-5-3h6m-6-3h6m-5 1h6m-5 5h6m-2-1h6m-6 3h6m-6-7h6m-3 6h6m-2-3h6m340 1h6m-2 1h6m28-8h6m5 12h6m-3-11h6m-35 20h6m-374-8h6m-7 10h6m-8-9h6m-6-1h6m-7 5h6m-6 9h6m-7-1h6m-6-4h6m-7-2h6m-8-2h6m-14-2h6m-10 6h6m-6-1h6m-9-8h6m-7 6h6m-6 2h6m-8 5h6m-6-3h6m-8-5h6m-7 0h6m-6 3h6m-7 6h6m-7-4h6m-8-1h6m-7 2h6m-9-9h6m-8 9h6m-6-11h6m-7 1h6m-15 6h6m-6 2h6m-10 0h6m-7-3h6m-6 0h6m-7-2h6m-7-4h6m-7 7h6m-8-2h6m-6-5h6m-10 10h6m-7-4h6m-6-1h6m-7 5h6m-9-9h6m-6 0h6m-6 10h6m-9-10h6m-12 11h6m-8-2h6m-8-7h6m-9 11h6m-7-14h6m-6 12h6m-7-7h6m-6-4h6m-6 4h6m-9 4h6m-6-9h6m-7 1h6m-7 12h6m-7 1h6m-7-7h6m-9-5h6m-14 3h6m-8-4h6m-18 7h6m-7-3h6m-6-3h6m-10 9h6m-8 3h6m-10-11h6m-8 0h6m-13 10h6m-6-10h6m-8-1h6m-7 6h6m-10 1h6m-6-3h6m-10-5h6m-6 6h6m-9 5h6m-7 0h6m-7-7h6m-7 6h6m-7-8h6m-13 4h6m-10 6h6m-7-11h6m-8 12h6m-11-7h6m-9-4h6m7 18h6m-3 4h6m-5-7h6m-5-2h6m-5 9h6m-5-3h6m-6 4h6m-3-3h6m-2-8h6m-5 3h6m-5 8h6m-6-2h6m-3-4h6m-6 2h6m-6-1h6m2 0h6m-5 0h6m-5 1h6m-3-5h6m-5 12h6m-3-2h6m-5-11h6m-5 13h6m-4-10h6m-5-1h6m-4 4h6m-6-4h6m-6-3h6m-4 0h6m-4 13h6m-4-12h6m-5 13h6m-5-11h6m-6 1h6m-3 10h6m-1-13h6m-6 11h6m-3-3h6m-5 2h6m-6-1h6m-5-4h6m-3 2h6m-5 3h6m-4-11h6m-5 11h6m-6-8h6m-5 11h6m-4-7h6m-5 4h6m-6-6h6m-3 9h6m-5 0h6m-5-2h6m-1-8h6m-2 7h6m-6-5h6m-2 4h6m-6-2h6m-5-5h6m-4 11h6m-6-14h6m-4 6h6m-2 8h6m-4-6h6m-5-3h6m-3 7h6m-4-1h6m-3-6h6m-5-1h6m-6-3h6m-3 4h6m-5 8h6m-3-3h6m-5-2h6m-6-1h6m-2 7h6m2-13h6m-5 13h6m-4-9h6m-6-2h6m6-3h6m-1 1h6m-5 6h6m353-5h6m2 8h6m-2-2h6m-4 1h6m-3 15h6m-13 0h6m-95 2h6m-15 3h6m-7-2h6m-8 2h6m-17-5h6m-274-9h6m-11 1h6m-7 1h6m-22 0h6m-10 2h6m-7 7h6m-6-10h6m-6 9h6m-9-8h6m-6 9h6m-8-7h6m-8 1h6m-6 1h6m-10 6h6m-8 1h6m-7-6h6m-14 5h6m-8 1h6m-12-1h6m-8-5h6m-7 1h6m-7 3h6m-6 0h6m-6-10h6m-7 5h6m-17-1h6m-14 9h6m-10-10h6m-6 0h6m-6 6h6m-8 1h6m-8-10h6m-10-1h6m-8 10h6m-6-5h6m-6 8h6m-7 1h6m-9-14h6m-8 10h6m-12 4h6m-8-2h6m-7-8h6m-6 9h6m-8-4h6m-8 4h6m-7-3h6m-11-1h6m-6-9h6m-7 2h6m-7-2h6m-7 13h6m-19-3h6m-2 9h6m-6 7h6m-4-6h6m-5-5h6m0 7h6m-6 3h6m-4 0h6m-6-9h6m7 12h6m-6-6h6m13 7h6m2-11h6m-3 6h6m0-1h6m-3-8h6m-4 7h6m-3-5h6m10 4h6m-5-1h6m0-4h6m-3 5h6m-5 3h6m-4-9h6m-6 14h6m279 0h6m-3-12h6m-4-1h6m-4 4h6m4 9h6m-4-4h6m-5-5h6m0-5h6m-3 3h6m-1 7h6m2 4h6m3-12h6m74-1h6m3 13h6m-99 4h6m-15 6h6m-16-7h6m-16 3h6m-28-3h6m-305 3h6m-8-1h6m-9 10h6m-9-4h6m-6-6h6m-13 1h6m-10-1h6m-8-4h6m-11 0h6m-8 11h6m-7-4h6m-10 1h6m-8-4h6m-11 8h6m-27-6h6m-7-6h6m-6 12h6m-12-9h6m-8 0h6m-7 7h6m-17-9h6m-6 1h6m-3 13h6m-3 6h6m-5 0h6m-1 0h6m12-1h6m0-2h6m-4 3h6m-3-1h6m-2 5h6m9-4h6m-1 4h6m-2-4h6m-6 2h6m10 6h6m-1-10h6m-3 1h6m-3-1h6m169 6h6m-2 4h6m-2-5h6m-4 0h6m-2 0h6m6 4h6m-5-7h6m94-6h6m7 4h6m13 9h6m-15 9h6m-26 2h6m-7-8h6m-112 9h6m-12-6h6m-8 1h6m-6 4h6m-6 5h6m-7 0h6m-7-1h6m-19-6h6m-11 5h6m-11-1h6m-11 3h6m-169-14h6m-7 5h6m-8 0h6m-7 3h6m-7-4h6m-13-3h6m-11 2h6m-7 8h6m-11-1h6m-12-5h6m-7-1h6m-6 0h6m-19 2h6m-7-2h6m-9 8h6m-11-2h6m-11 0h6m-12-10h6m-7 9h6m-12-6h6m-6-3h6m-8 4h6m-14 20h6m-4-1h6m-4 3h6m8-11h6m-3 4h6m0-4h6m-4 2h6m-5 10h6m-4-10h6m-4 2h6m-6 8h6m-6-4h6m-5 2h6m-6-6h6m-4 4h6m-4 6h6m-4-11h6m-1 9h6m-5 0h6m-5 0h6m0-6h6m1 0h6m2-5h6m-5 1h6m160 4h6m-5 7h6m-3-8h6m1-1h6m16 6h6m-3 3h6m-1-3h6m-6-1h6m141 20h6m-7 0h6m-7-2h6m-8-2h6m-15 2h6m-9 2h6m-151-8h6m-10-2h6m-6-3h6m-11 12h6m-8 1h6m-8-10h6m-7 0h6m-13 9h6m-19-1h6m-7 1h6m-11 1h6m-11-12h6m-11 11h6m-7-5h6m-10 6h6m-10 0h6m-13 0h6m-142-8h6m-11 2h6m-6-6h6m-8 12h6m-8-10h6m-9 5h6m-7 1h6m-7-8h6m-10 12h6m-8-10h6m-10 8h6m-7-5h6m-8 1h6m-11-3h6m-8 3h6m-7 1h6m-7-8h6m-10 8h6m-11-9h6m-8 10h6m-8 2h6m-7-7h6m-9 3h6m-7 0h6m-7-2h6m-7-5h6m11 17h6m-2 4h6m-1 6h6m-3 0h6m0-4h6m-6-2h6m4 2h6m-3 3h6m-6-4h6m0-3h6m-4 6h6m84-1h6m2 4h6m11-10h6m-2 3h6m-5 5h6m-6 0h6m-3 0h6m-5-7h6m-5 2h6m3 5h6m-3-12h6m-6 9h6m-2 3h6m-6-12h6m-2 14h6m2-5h6m-5-1h6m-4-5h6m-6 8h6m-4 3h6m-2-12h6m-6 4h6m-3 5h6m-1-8h6m-4-3h6m-5 13h6m-2-4h6m-5 2h6m1-9h6m-5 0h6m-3 11h6m-1-8h6m-5-1h6m-5 5h6m-2-8h6m-1-1h6m140 7h6m-6-6h6m-9 14h6m-151 11h6m-22-10h6m-13 1h6m-7-2h6m-11 0h6m-9 5h6m-7-4h6m-12 8h6m-6 0h6m-16 1h6m-8-3h6m-7 4h6m-6-11h6m-11 3h6m-9-2h6m-8 5h6m-6-6h6m-8 4h6m-7-2h6m-7 7h6m-8-8h6m-7 3h6m-10-1h6m-17 4h6m-9 6h6m-13 1h6m-10-4h6m-7-6h6m-7 5h6m-11-8h6m-10 9h6m-8-5h6m-11 7h6m-6-8h6m-9 8h6m-7-7h6m-7-5h6m-15 4h6m-7 10h6m-6-7h6m-16 1h6m-16 5h6m-6 1h6m-15 0h6m-10 0h6m-39-8h6m-9 3h6m-6 3h6m-10-6h6m-8 7h6m-7-3h6m-8 4h6m-10-2h6m-11-2h6m-7-10h6m-9 4h6m-9 1h6m-12-5h6m-9 1h6m-8 13h6m-9 5h6m-5 2h6m-6-5h6m0 8h6m3 4h6m-1-1h6m4-11h6m-5 10h6m-3 3h6m-1-6h6m-6-4h6m-4 10h6m-5-5h6m-5-2h6m-2 4h6m-4 2h6m-6-13h6m-3 3h6m-4 5h6m-2 0h6m-6-3h6m0 4h6m-3-7h6m-5 3h6m-6-3h6m-3 9h6m-2-5h6m1-6h6m3 0h6m-5 11h6m-5-8h6m-5 7h6m0-5h6m-6-2h6m0 8h6m-3-7h6m-1 0h6m11 4h6m-5 5h6m-5-10h6m-6 10h6m-4-4h6m1-4h6m-3-5h6m-5 11h6m-4-7h6m-5 4h6m6 2h6m5-10h6m30 14h6m9-4h6m13 1h6m23 2h6m114-12h6m-4 12h6m-4-13h6m-2 15h6m-17 3h6m-7 6h6m-12 1h6m-8 1h6m-141 2h6m-18 1h6m-23-5h6m-14-1h6m-9-8h6m-7 8h6m-40 0h6m-57-5h6m-20-1h6m-7 4h6m-6-2h6m-9-1h6m-13-2h6m-12 3h6m-7-2h6m-11 2h6m-17 8h6m-8 1h6m-8-1h6m-9-2h6m-7-8h6m-6 7h6m-7 5h6m-7-14h6m-6 9h6m-10-6h6m-9-3h6m-6 0h6m-7 7h6m-9-7h6m-6 3h6m-14 8h6m-7-4h6m-7 6h6m-6-13h6m-10 1h6m-9 5h6m-9 3h6m-8-3h6m-8-2h6m-7-1h6m-6 8h6m-19-4h6m-6 5h6m-10-4h6m-6 6h6m-8-11h6m-4 22h6m0-7h6m-6 10h6m-2-9h6m-6 10h6m-3-14h6m-4 6h6m-5 5h6m-4 2h6m-5 1h6m1-8h6m-3-4h6m0 1h6m-4 2h6m-2 1h6m-4-5h6m-5 3h6m-2 2h6m-1-6h6m-3 12h6m-3-1h6m-3-8h6m-4 10h6m-4 0h6m-4-6h6m-2-1h6m1 5h6m-4-1h6m15 2h6m112-12h6m-2 11h6m123-6h6m-5-4h6m-4 12h6m3-12h6m-4 6h6m0 7h6m-6-3h6m-2 1h6m2-11h6m-5 11h6m3-8h6m1 6h6m36 12h6m-8 6h6m-24 1h6m-7-3h6m-16 1h6m-10-1h6m-8-3h6m-8 5h6m-8-11h6m-9 6h6m-6-7h6m-8 10h6m-6-6h6m-9 3h6m-7-2h6m-8 5h6m-6-3h6m-9-7h6m-11 2h6m-7 6h6m-9-5h6m-6-2h6m-6 4h6m-7 4h6m-7-4h6m-8 6h6m-8 1h6m-8-12h6m-6 0h6m-7 2h6m-8 9h6m-8 2h6m-13-6h6m-7-3h6m-7 6h6m-6-8h6m-8 8h6m-7-7h6m-7-1h6m-22 8h6m-29 0h6m-7 3h6m-23 0h6m-10-5h6m-10 4h6m-9-3h6m-54-5h6m-12 9h6m-58-3h6m-31 1h6m-75 2h6m-11-1h6m-11-8h6m-9-3h6m-7 12h6m-7-2h6m-8 1h6m-10-5h6m-8 6h6m-8-3h6m-7 1h6m-6-1h6m-7 0h6m-6-4h6m-6 3h6m-9 1h6m-12-7h6m-6 3h6m-9-2h6m-7 3h6m-7 1h6m-6 2h6m-7-4h6m-7-3h6m-7 9h6m-8-10h6m-8 1h6m-11 6h6m-7-2h6m-20 1h6m-14-1h6m-11-8h6m-6 4h6m-9-4h6m-10 12h6m-8 0h6m-5 3h6m-3 11h6m-5-7h6m-5-1h6m-6-2h6m13 10h6m2-2h6m-3-1h6m-3 6h6m-5-6h6m0-2h6m-4-3h6m-3 4h6m-5 6h6m-5-1h6m-4-12h6m-6 6h6m-5-6h6m-6 8h6m-5 5h6m-5-11h6m-6 1h6m-4-3h6m-6 6h6m-5 5h6m-5-11h6m-5 6h6m-5 1h6m-3 5h6m-6-4h6m-6 6h6m0-8h6m-5-6h6m-5 4h6m-6 10h6m-5-10h6m-2 5h6m-3 2h6m-4 3h6m-6-12h6m-6 9h6m-5 1h6m-5-12h6m-4 12h6m-3 1h6m-3-11h6m-3-1h6m-5 8h6m-3 3h6m-5-3h6m-5-3h6m-5 2h6m-6-1h6m-4 5h6m-4 1h6m-6-8h6m4 8h6m-4-2h6m-5 3h6m-3-4h6m0-5h6m2 7h6m-3-3h6m-6 1h6m1 3h6m-6 1h6m-2-3h6m-5 1h6m-5-1h6m0 3h6m-5-4h6m5-1h6m-5 1h6m-3 3h6m-2 1h6m-6-7h6m-5 7h6m-2-5h6m-1 2h6m-3-3h6m-6-3h6m-3-1h6m-3 9h6m2 0h6m-4 0h6m-5 0h6m-5-4h6m-1-3h6m-5-4h6m-5 3h6m0-5h6m-3 6h6m-5-4h6m-4 12h6m-5-8h6m-6 1h6m0-4h6m-1 7h6m-6-8h6m-4 0h6m-2 1h6m-5 10h6m-4-11h6m1 7h6m-1-5h6m-6 7h6m-5 3h6m-4-10h6m-5 6h6m-2-6h6m-6 6h6m-2-4h6m-5 7h6m-4-10h6m-2 10h6m-6-7h6m-2 0h6m-5 6h6m-5-12h6m-4 11h6m-5-11h6m-2 2h6m-6 3h6m0 0h6m-5 8h6m-4-3h6m-3-10h6m-4 8h6m-3 2h6m-3 2h6m-3-7h6m-4-2h6m1 1h6m3-2h6m-5 6h6m-4 5h6m0-12h6m-4 7h6m1 5h6m-5-8h6m-3 9h6m3-12h6m1-1h6m-4 0h6m0 1h6m-2 0h6m0-1h6m5 3h6m-1 4h6m-3-2h6m-5 1h6m-5 1h6m-5 6h6m-3-5h6m1-5h6m-5 3h6m-3-3h6m-4-4h6m-5 10h6m-5 3h6m-4 1h6m-3-13h6m-5 11h6m4-9h6m-4 5h6m-4-7h6m-4 3h6m-4-1h6m-4 21h6m-12 5h6m-8-10h6m-8 6h6m-10-9h6m-7 3h6m-9-4h6m-22 9h6m-9 4h6m-7-12h6m-6 7h6m-10 4h6m-17-6h6m-10 8h6m-7-3h6m-14 3h6m-7-12h6m-23 5h6m-11 2h6m-7 1h6m-9 4h6m-11-9h6m-10 8h6m-6-13h6m-10 0h6m-8 9h6m-11-6h6m-8 11h6m-7-6h6m-7-7h6m-7-1h6m-7 1h6m-9 1h6m-7 10h6m-8-1h6m-6-6h6m-12 0h6m-7-5h6m-7 13h6m-15-2h6m-15-3h6m-12 6h6m-10-12h6m-12-1h6m-7 4h6m-14 5h6m-6 3h6m-9-9h6m-7 9h6m-10-9h6m-6-4h6m-8 0h6m-7 0h6m-20 0h6m-7 6h6m-9 5h6m-8-7h6m-7-1h6m-6 8h6m-9-3h6m-12 6h6m-8-14h6m-13 11h6m-9-3h6m-8-8h6m-6 13h6m-6-6h6m-12 7h6m-9-6h6m-7-5h6m-7 4h6m-6-5h6m-8-1h6m-13 11h6m-6-4h6m-7 4h6m-8-5h6m-6 7h6m-8-6h6m-12-1h6m-11-3h6m-7 10h6m-7-3h6m-6 3h6m-6-10h6m-7 8h6m-6 1h6m-15-1h6m-8-1h6m-6-3h6m-11 4h6m-7-7h6m-7 4h6m-10-5h6m-6 10h6m-6-1h6m-7 0h6m-6-11h6m-7 12h6m-8-7h6m-7 6h6m-8-4h6m-6-6h6m-7-2h6m-6 13h6m-10-8h6m-6 1h6m-8-2h6m-7-5h6m-6 7h6m-9 1h6m-8 1h6m-7-3h6m-7 3h6m-6 5h6m-10-9h6m-6 3h6m-9-8h6m-6 9h6m-6 5h6m-8-2h6m-9 2h6m-6-3h6m-7-7h6m-7-1h6m-6 8h6m-8-8h6m-6 4h6m-9 4h6m-7-7h6m-6 0h6m-8 10h6m-6-1h6m-7-9h6m-7 2h6m-10-2h6m-14-3h6m-6 10h6m-6 1h6m-7-7h6m-7-4h6m-6 1h6m-9 2h6m-6-1h6m-6-2h6m-8 12h6m-8-13h6m-8 6h6m-7-4h6m-7 5h6m-7-3h6m-9 0h6m-7 1h6m-8 0h6m-6-1h6m-8-2h6m-6 9h6m-8 0h6m-6-10h6m-7 0h6m-8 12h6m-7-1h6m-7-12h6m-7 9h6m-7-8h6m-10-1h6m-6 9h6m-6 0h6m-8-8h6m-6 4h6m-6 4h6m-9 0h6m-6 1h6m-7-10h6m-6 8h6m-6 0h6m-6-7h6m-10 3h6m-6-3h6m-7 3h6m-7 9h6m-8-5h6m-7 3h6m-7-2h6m-7 0h6m-8-7h6m-6 5h6m-8-7h6m-6 4h6m-7 7h6m-6-2h6m-6-5h6m-7-4h6m-6 13h6m-6-8h6m-7 2h6m-7 1h6m-7-1h6m-8-1h6m-7 6h6m-7-10h6m-6 11h6m-23-2h6m-13 3h6m-11-2h6m-8 2h6m-10-5h6m-7-6h6m0 13h6m-5 2h6m7 1h6m-3-2h6m5-2h6m-5 7h6m-6 6h6m-5 0h6m-4-3h6m-4-7h6m-6 8h6m-5 0h6m-6-3h6m-5 0h6m-6-2h6m-6-5h6m-4 12h6m-6-5h6m-1-1h6m-5-2h6m-4 9h6m-4 0h6m-6-13h6m-5 10h6m-5-7h6m-5 5h6m-5-9h6m-6 11h6m-6-7h6m-5 3h6m-6-3h6m-6 6h6m-5-1h6m-6 4h6m-5-10h6m-6-3h6m-5 1h6m-6-1h6m-5 0h6m-4 3h6m-6 6h6m-5-1h6m-6-7h6m-5-1h6m-5 13h6m-3-10h6m-4 5h6m-5-4h6m-5-2h6m-6 6h6m-6-4h6m-5 0h6m-4 4h6m-5-8h6m-6 11h6m-1-9h6m-6 3h6m-5 6h6m-5-1h6m-4 1h6m-6-7h6m-4 10h6m-4-14h6m-6 4h6m-5 2h6m0 5h6m-3-8h6m-5 4h6m-6-7h6m-5 7h6m-5 5h6m-6 1h6m-6-2h6m-3-10h6m-4-1h6m-5 7h6m-5 5h6m-6-3h6m-6 4h6m-2-9h6m-5-3h6m-4-1h6m-5 9h6m0-7h6m-4 3h6m-5-2h6m-3-3h6m-5 1h6m-5 13h6m-6-7h6m-3 7h6m-4-14h6m-6 4h6m-6 8h6m-4-10h6m-6-2h6m-4 3h6m-1 4h6m-5 6h6m-3-2h6m-6-4h6m-5-1h6m-5 1h6m-5 3h6m-5-1h6m-4-7h6m-5 10h6m-4-3h6m-4-4h6m-3 6h6m-2-8h6m-6 7h6m-6-3h6m-2 3h6m-6-8h6m-5 2h6m-4-4h6m-6 11h6m-3 1h6m0 0h6m-2-7h6m-5 3h6m-1 3h6m-5-11h6m-2 4h6m-4 7h6m-5-7h6m-6 4h6m-4-3h6m-6-5h6m-6 12h6m-5-11h6m-6-1h6m-5 10h6m-6 2h6m-6-2h6m-4-8h6m-5 5h6m-6-7h6m-4 9h6m-4-4h6m-3-4h6m-1 9h6m-1 3h6m-5-12h6m-6 4h6m-3 8h6m-6 1h6m-5-6h6m4-7h6m3 0h6m-5 1h6m-5 0h6m-4 7h6m-6-4h6m-3 3h6m-2 4h6m-3-7h6m-5-2h6m-5 5h6m2 2h6m-3-7h6m-3 4h6m-4-2h6m3 7h6m-5 0h6m-6 0h6m-5 1h6m-2-12h6m-5 11h6m-3-1h6m-5-10h6m-2 7h6m-6-7h6m-4 7h6m-4-6h6m-3 9h6m-3 0h6m-2-3h6m-6-8h6m-4 9h6m-1 4h6m-4-1h6m-5-7h6m-4 3h6m-4 0h6m-6-3h6m-3 1h6m-2-5h6m-1 4h6m-5 6h6m-5 2h6m-5 1h6m-5-7h6m-5 5h6m-5-5h6m-6-6h6m-5 0h6m-4 4h6m-4 5h6m-6 4h6m-5-5h6m-1 3h6m-4-8h6m-3 0h6m-5-2h6m-3 8h6m-6-6h6m4-3h6m-5 6h6m-4-2h6m-5 4h6m-5 0h6m-5-6h6m-4 10h6m-6-11h6m1 12h6m-2-7h6m-3-6h6m0 7h6m-5 4h6m-4-2h6m-2-3h6m-5-1h6m-4-6h6m-3 14h6m-2-6h6m-2-3h6m-2-2h6m-6 2h6m-4 8h6m-5 0h6m-2-9h6m0 1h6m-6 17h6m-7-7h6m-7 8h6m-13 1h6m-7-3h6m-9-3h6m-13 11h6m-8-9h6m-7 0h6m-7 6h6m-6-4h6m-8 4h6m-6-9h6m-7 9h6m-8-9h6m-7 3h6m-7 7h6m-6-2h6m-10-10h6m-8 11h6m-10-2h6m-15-7h6m-9 5h6m-7-1h6m-6 8h6m-6-12h6m-7 8h6m-7 1h6m-9-1h6m-10-6h6m-6-3h6m-7 11h6m-8-12h6m-7 11h6m-8-9h6m-6 2h6m-9 10h6m-9-1h6m-7-13h6m-6 11h6m-7 0h6m-8-2h6m-6 0h6m-6-5h6m-9-3h6m-7 5h6m-12-1h6m-7-2h6m-8 10h6m-6-12h6m-12 6h6m-7 4h6m-7-4h6m-7-3h6m-8 1h6m-6 4h6m-7 1h6m-7-1h6m-7 3h6m-10-1h6m-7 1h6m-7-4h6m-7 1h6m-6-1h6m-10-4h6m-7 4h6m-8-7h6m-6 3h6m-8 4h6m-6 5h6m-10 0h6m-7 0h6m-6-7h6m-18 3h6m-9 4h6m-6-10h6m-9 4h6m-9 4h6m-7 3h6m-11-1h6m-6-12h6m-10-1h6m-6 4h6m-7 0h6m-7 7h6m-10-6h6m-24 8h6m-7-11h6m-10 0h6m-7 4h6m-6-5h6m-7 7h6m-8 4h6m-6-10h6m-8 12h6m-6-1h6m-6-8h6m-9 3h6m-11-5h6m-11 11h6m-11-5h6m-7-6h6m-8 11h6m-11-13h6m-6 11h6m-12-7h6m-6-2h6m-7 1h6m-7-2h6m-8-1h6m-8 7h6m-9 1h6m-8-3h6m-9 8h6m-6-1h6m-9-7h6m-7-1h6m-6-4h6m-10 2h6m-7 11h6m-7-2h6m-7-2h6m-6 3h6m-7-5h6m-6-1h6m-7 7h6m-7-1h6m-6-7h6m-8 5h6m-10-9h6m-7-1h6m-8 7h6m-8-7h6m-7 7h6m-7-6h6m-8 10h6m-11-9h6m-7 0h6m-8 1h6m-12-2h6m-12-2h6m-7 1h6m-10 7h6m-10-1h6m-7 3h6m-8 2h6m-6-2h6m-8 2h6m-7-4h6m-7-3h6m-6-4h6m-8 0h6m-9-1h6m-6 0h6m-6 14h6m-7-7h6m-8 2h6m-6-4h6m-7 0h6m-7 5h6m-6-3h6m-7 7h6m-11-10h6m-7-2h6m-7 9h6m-6-11h6m-7 2h6m-10 11h6m-7-7h6m-6-1h6m-10-3h6m-8 0h6m-7-2h6m-7 1h6m-7 13h6m-10-12h6m-8 4h6m-7 5h6m-6-1h6m-6-1h6m-8-3h6m-8 6h6m-7-5h6m-7-7h6m-7 2h6m-10 5h6m-6 6h6m-10-9h6m-6 1h6m-7 7h6m-13-10h6m-7 8h6m-7-4h6m-7-1h6m-7-4h6m-6 2h6m-8 4h6m-7-2h6m-6 7h6m-8-10h6m-10 10h6m-13-10h6m-11 12h6m-8-9h6m-8 2h6m-8-6h6m-12 10h6m-8-5h6m-6 3h6m-6 3h6m-8-4h6m-6 1h6m-7 4h6m-6 0h6m-8 0h6m-8-2h6m-7-9h6m-6-2h6m-11 2h6m-6 4h6m-7 3h6m-14-2h6m3 14h6m-3-5h6m1 1h6m-6 0h6m-1 2h6m-6 1h6m-6 5h6m-4 2h6m-5 1h6m-6-8h6m-4 9h6m-6-14h6m-5 13h6m-5 0h6m-5-13h6m-5 11h6m-5 0h6m-6-1h6m-2 3h6m-6-8h6m-5 9h6m-6-5h6m-5-8h6m-4-1h6m-6 9h6m-5-1h6m-5-2h6m-6-6h6m-3 11h6m-3-10h6m-2 8h6m-1-8h6m-5 13h6m-4-7h6m-4 7h6m-5-5h6m-5-6h6m-6 11h6m-5-3h6m5-4h6m-2 1h6m-5-1h6m-4-1h6m-5-2h6m-6 7h6m-5-3h6m-4 3h6m-6-11h6m-2 1h6m-6 0h6m-4 5h6m-5-2h6m-4 8h6m-4-4h6m-6 2h6m-5 3h6m-1-1h6m-2-12h6m-6 13h6m0-2h6m-4 2h6m-6-12h6m-5 3h6m-5-1h6m-6 0h6m-2 5h6m-6 4h6m-4 0h6m-1-7h6m-6 9h6m-5-7h6m-3-5h6m-5 5h6m-6-2h6m-5 0h6m-5-1h6m-2 1h6m-6 2h6m-5 0h6m-4 5h6m-5-2h6m-5 4h6m-4-9h6m-5 2h6m-6-6h6m0 10h6m-6 1h6m-5-9h6m-6 1h6m-5-4h6m-5 9h6m-5 3h6m-4 2h6m-6-10h6m-5 4h6m-6-6h6m-6 12h6m-5-12h6m-5 0h6m-5 3h6m-5 9h6m-4-13h6m-4 5h6m-6 1h6m-6 5h6m-4-7h6m-4-1h6m-5 7h6m-6 3h6m1-14h6m-3 2h6m-6-1h6m-6 6h6m-5 0h6m11-3h6m-5 5h6m-5-1h6m-1-7h6m-6 3h6m-5 0h6m-4 6h6m-6-1h6m-3-8h6m-5 7h6m-5-8h6m-6 0h6m-4 3h6m-1 8h6m-5-6h6m-1-5h6m-3 3h6m24 6h6m-5-2h6m-5-7h6m-2 11h6m-5-1h6m2-3h6m-2 3h6m-4-8h6m-6 3h6m-2 7h6m-6-2h6m-5 4h6m-5-11h6m-2 2h6m-3 7h6m3 2h6m-4-14h6m-3 2h6m-6 5h6m-5-1h6m-5-2h6m-6 0h6m-6-3h6m-3 11h6m-3-8h6m-5 8h6m-6-8h6m-6 5h6m-2-5h6m0-2h6m-5 11h6m-3 0h6m-5-2h6m-4-9h6m-4 2h6m-5 3h6m0-7h6m-6 10h6m-3 1h6m-5-1h6m-6 4h6m-5-3h6m-5-1h6m-3-2h6m-3-8h6m2 13h6m-4-4h6m-2 0h6m-5-9h6m-5 1h6m-5 2h6m-5 7h6m-5-8h6m-3 7h6m-1-2h6m-3 4h6m-3-2h6m-6-2h6m-1 1h6m-2-4h6m-2 5h6m-4-1h6m-6-2h6m-5 2h6m-2-8h6m-6 9h6m-5-7h6m-4 10h6m-6-9h6m3 1h6m-4 3h6m-6-5h6m-6 12h6m-4-14h6m-6 4h6m-2 25h6m-16-2h6m-9-4h6m-6-4h6m-7 6h6m-10-9h6m-8 9h6m-9-7h6m-6 5h6m-7-6h6m-8 6h6m-7-2h6m-7 5h6m-8-8h6m-13 0h6m-9 5h6m-6 0h6m-7-1h6m-7-7h6m-9 12h6m-8-11h6m-7 11h6m-8-3h6m-7-7h6m-6 0h6m-12 3h6m-7 1h6m-8-3h6m-7 6h6m-7 0h6m-7-7h6m-7 7h6m-12-9h6m-6 7h6m-10-2h6m-10 5h6m-7-2h6m-6-5h6m-12-1h6m-7 6h6m-8-5h6m-8-2h6m-6 5h6m-7-3h6m-23 3h6m-12 2h6m-6-8h6m-9 1h6m-9 12h6m-6-8h6m-16 1h6m-16-4h6m-7 8h6m-7 1h6m-7-6h6m-15-2h6m-6 4h6m-7-3h6m-8 5h6m-8 4h6m-13-6h6m-7-5h6m-7-1h6m-8 0h6m-52 5h6m-12 7h6m-7-9h6m-6 9h6m-7-3h6m-6-4h6m-8-3h6m-9 3h6m-9 1h6m-6-1h6m-8 0h6m-7-4h6m-11-1h6m-7 1h6m-7 4h6m-6 3h6m-8-5h6m-9-3h6m-7 13h6m-6-4h6m-7 2h6m-9-2h6m-7 2h6m-8-11h6m-8 13h6m-6-11h6m-11 2h6m-6 6h6m-8-5h6m-6 2h6m-8 2h6m-6 4h6m-6-1h6m-9-1h6m-8 0h6m-8-9h6m-7 4h6m-7 6h6m-7-11h6m-9-2h6m-7 6h6m-7 4h6m-7-4h6m-8-2h6m-7 4h6m-8 5h6m-7-8h6m-6 0h6m-7 3h6m-8-7h6m-6 5h6m-7-5h6m-6 12h6m-7-1h6m-9 1h6m-9-8h6m-7 3h6m-9 3h6m-10-2h6m-7-5h6m-9 5h6m-9 4h6m-9-5h6m-7 3h6m-10-5h6m-7 6h6m-6-9h6m-8 11h6m-7-9h6m-9 3h6m-6 0h6m-6-5h6m-10 9h6m-7-6h6m-6-2h6m-7 5h6m-6 1h6m-7-8h6m-8 8h6m-8 0h6m-9-7h6m-7 11h6m-10-13h6m-7 4h6m-6-1h6m-6-2h6m-9 12h6m-8-7h6m-7-3h6m-6 10h6m-7 0h6m-6-2h6m-9-7h6m-8 3h6m-7-2h6m-7 8h6m-9-10h6m-7 4h6m-6 4h6m-9-1h6m-9-8h6m-7 2h6m-12-5h6m-9 6h6m-8 6h6m-7-3h6m-8-6h6m-10-3h6m-8 9h6m-6-8h6m-7 0h6m-6 6h6m-7-6h6m-8-1h6m-9 8h6m-10-8h6m-7 2h6m9 18h6m4 3h6m-4-4h6m-2 7h6m-6-4h6m-4 6h6m-6-11h6m-3 10h6m-6 0h6m-2-6h6m2 8h6m1-13h6m-5 2h6m-5 0h6m-6-3h6m-4 4h6m-6 6h6m-5 1h6m-5-10h6m-6 4h6m-3 5h6m-4 3h6m-2-9h6m-6 10h6m-2-3h6m1 1h6m-6 0h6m-6-11h6m-5 13h6m-5-6h6m-5 2h6m0-5h6m-5-1h6m-5 4h6m-5 4h6m-4-7h6m-3 2h6m-2 5h6m-6-5h6m-5 7h6m-6-10h6m-4 2h6m-5 1h6m-5-6h6m-2 2h6m-3 5h6m-4-2h6m-5-6h6m-6 0h6m-6 2h6m-4 6h6m-6-7h6m-3 1h6m-4 5h6m-6-3h6m-5-4h6m-5 2h6m-5 4h6m-6 5h6m-4-2h6m-4-1h6m-4-5h6m-4 6h6m-5-4h6m-1-5h6m-5 2h6m-5 1h6m-4 4h6m-3 6h6m-4-13h6m-5 4h6m-5-1h6m-5 6h6m-4-5h6m-6 10h6m-5-10h6m-4 8h6m-4-2h6m-5 1h6m-4-4h6m-4 3h6m-3-7h6m-5 7h6m-4 2h6m0-3h6m-6 2h6m44 0h6m-5-3h6m-3-5h6m-3 3h6m-4-6h6m-5 0h6m-6 10h6m-4-4h6m-5 0h6m-3-6h6m-4 6h6m-6-2h6m-5 3h6m-6 6h6m-1-6h6m-3-2h6m-1-3h6m-5 10h6m-3-12h6m0 7h6m-6 6h6m-1-10h6m-5 6h6m-6-6h6m-6 7h6m-5-4h6m-5 4h6m-5 2h6m-6-1h6m-5 0h6m0-9h6m-6 4h6m-5 1h6m0-6h6m-6 10h6m-3-2h6m-6-8h6m0 6h6m-6 7h6m-5-2h6m-5 2h6m0-2h6m-5-9h6m-6 8h6m-3 0h6m-3 0h6m-5-7h6m-4 0h6m-5-3h6m-6 1h6m-5 9h6m-6-1h6m-4-1h6m-6 0h6m2-3h6m1-5h6m-5 11h6m-3-5h6m-4 4h6m0-5h6m-2-4h6m4 6h6m-5 0h6m-5-1h6m-3 0h6m-6 1h6m-5-2h6m-6 5h6m-6 2h6m-5-12h6m-5 9h6m-5-8h6m-5 7h6m-4-2h6m-5-6h6m-5 9h6m-6-5h6m-5 4h6m-5 5h6m-5 0h6m-5-13h6m-5 6h6m-5 6h6m-6 0h6m-2-8h6m-3-5h6m-4 0h6m-5 6h6m-5 2h6m-6-7h6m-2 10h6m-6-2h6m-5 1h6m-6 1h6m-5-11h6m-4 0h6m-5 14h6m-5 7h6m-7 4h6m-8 1h6m-7-7h6m-12 7h6m-6-11h6m-8 3h6m-6 5h6m-7-8h6m-7 3h6m-8 8h6m-8-11h6m-8 0h6m-8 13h6m-7-3h6m-6 2h6m-7-6h6m-6 1h6m-8-3h6m-6 10h6m-9-5h6m-6-9h6m-8 6h6m-6 1h6m-10 2h6m-10-5h6m-8 2h6m-8 0h6m-7 5h6m-9 0h6m-6-10h6m-7 13h6m-6-4h6m-10-8h6m-7 9h6m-8-6h6m-6 8h6m-6-7h6m-8-5h6m-9 12h6m-7-9h6m-9 3h6m-8 2h6m-7 0h6m-8-7h6m-6 5h6m-7-2h6m-8 1h6m-6 4h6m-8-3h6m-7 0h6m-8-7h6m-8 2h6m-7 2h6m-14-2h6m-14 6h6m-6-6h6m-6 10h6m-7-7h6m-9 8h6m-7-5h6m-6-2h6m-9 0h6m-8-1h6m-6 4h6m-7-3h6m-8 1h6m-7-3h6m-8 9h6m-9-5h6m-8 4h6m-6-6h6m-8-4h6m-7 0h6m-11 4h6m-11-2h6m-9 7h6m-6 2h6m-7-11h6m-9 4h6m-8-5h6m-7 9h6m-9-9h6m-16 12h6m-7-12h6m-18 12h6m-7-9h6m-7-1h6m-6-2h6m-6 0h6m-9 5h6m-9 4h6m-7 3h6m-11-12h6m-8 11h6m-7 2h6m-10-4h6m-6-4h6m-8 1h6m-7 7h6m-7 0h6m-6-11h6m-6 6h6m-14 0h6m-20 5h6m-6-2h6m-7-2h6m-8 1h6m-13 3h6m-11-9h6m-8 9h6m-7-4h6m-7 0h6m-8 3h6m-6-5h6m-7-1h6m-8-3h6m-8-2h6m-8 10h6m-7-3h6m-7-1h6m-6 1h6m-8 5h6m-6-3h6m-9-11h6m-10 0h6m-6 2h6m-8 6h6m-7-4h6m-6 0h6m-8 8h6m-8 0h6m-8 0h6m-7-8h6m-7-4h6m-10 8h6m-6-2h6m-7-4h6m-6 9h6m-7-5h6m-8 1h6m-7 6h6m-7 0h6m-10-5h6m-7-1h6m-10 1h6m-11-5h6m-7 11h6m-9-5h6m-6-3h6m-6-4h6m-11 3h6m-7 5h6m-6-1h6m-8-6h6m-7 5h6m-10 4h6m-7 0h6m-9-9h6m-6 3h6m-10-6h6m-6 1h6m-6-1h6m-7 5h6m-9 6h6m-18-4h6m-7 0h6m-9-3h6m-7-3h6m-7-1h6m-7 3h6m-11 3h6m-6 3h6m-7 1h6m-6-5h6m-14 5h6m-9-1h6m-7-6h6m-7 2h6m-8 2h6m-7 3h6m-11-5h6m-6 9h6m-9-3h6m-8 2h6m-11-1h6m-6-4h6m-9 2h6m-7-6h6m-6 1h6m-7 3h6m-7-3h6m-9 1h6m-8 6h6m-10-8h6m-10 7h6m-5 15h6m-5 0h6m-6-10h6m-6 3h6m-1-2h6m1 11h6m-6-3h6m-6-9h6m-5 2h6m-5 4h6m-5 7h6m-3-4h6m-5-10h6m-4 3h6m-6 10h6m-6-9h6m-3-3h6m-6 6h6m-4-1h6m-5 1h6m-4-5h6m-6 12h6m-5-11h6m-5 5h6m-5 2h6m-4 4h6m-4-12h6m-5 10h6m-3-2h6m-6-4h6m-5-2h6m-3-3h6m-5 5h6m-6 3h6m-4 0h6m-5-6h6m-6 1h6m-6 3h6m-6-5h6m-5 10h6m-5-5h6m-5 2h6m-5 1h6m-2-5h6m-1-5h6m-5 12h6m-3-7h6m-5-5h6m-5 12h6m-5-2h6m0-1h6m-3-3h6m-6 6h6m-1 0h6m-5 2h6m-3-10h6m-3 7h6m-5-8h6m-4 10h6m-4-5h6m-5 3h6m-5-5h6m-5 2h6m-3 3h6m-4 0h6m-6 0h6m5 1h6m0-10h6m-3 2h6m-2-2h6m-5 8h6m-2 4h6m-1-1h6m-5-5h6m-5 1h6m-5-3h6m-5-4h6m-3 6h6m-3-1h6m-5 6h6m-6-6h6m3-4h6m-6 11h6m-6-3h6m-6-10h6m-5-1h6m-5 12h6m-5-7h6m-4 5h6m-6-7h6m-5 0h6m-5 1h6m-4 5h6m-6 2h6m1-10h6m-4 6h6m-2 3h6m-2 0h6m-3-9h6m-4 0h6m-5 6h6m-6 1h6m-5 5h6m-3-6h6m4-7h6m-6 8h6m-5-3h6m-4-4h6m-4 5h6m-3 4h6m-6-2h6m-3 1h6m-6-8h6m0 10h6m-5-1h6m-5 2h6m-6-7h6m3-3h6m-3 4h6m-3 2h6m-5-2h6m-6 6h6m-4 1h6m-5-12h6m-5 6h6m7 3h6m1 4h6m-2-10h6m-3 10h6m-3-2h6m-3-10h6m-5-1h6m-3 4h6m2-2h6m-6-2h6m-4 8h6m-5 4h6m-6-13h6m-5 1h6m-5 2h6m-6 3h6m5-3h6m-6 1h6m0 3h6m-5 4h6m-6-8h6m-6 9h6m-5-4h6m-6 3h6m-4 2h6m-5-10h6m-6 0h6m-5-2h6m-4-1h6m-5 10h6m-6 3h6m-6-8h6m-3 7h6m-6-1h6m-5-8h6m-6 6h6m-5-9h6m-6 1h6m-6 11h6m-4-1h6m-1 3h6m-2-5h6m-5-3h6m-2-5h6m-1 12h6m-6-13h6m-5 4h6m-1 3h6m-3-6h6m-1 11h6m-5-2h6m-2 0h6m-4-2h6m-6 6h6m0-9h6m-5-1h6m-4 10h6m-6-4h6m0 1h6m0-9h6m-5 1h6m-4-3h6m-23 27h6m-7-6h6m-7-1h6m-6 5h6m-6 3h6m-6-3h6m-11-8h6m-8 12h6m-11-1h6m-20-12h6m-6 8h6m-8-3h6m-6-2h6m-6 3h6m-12-6h6m-9 8h6m-10-7h6m-9 0h6m-16 7h6m-8 3h6m-10-1h6m-7 3h6m-10-14h6m-8 0h6m-8 4h6m-8-3h6m-7 9h6m-10 0h6m-7-3h6m-7 3h6m-10-4h6m-9 4h6m-15 3h6m-15-4h6m-7 5h6m-10-3h6m-11-3h6m-8 1h6m-6-9h6m-6 7h6m-12-6h6m-7 8h6m-6-7h6m-11 5h6m-6 3h6m-11 0h6m-6-5h6m-16-1h6m-7 1h6m-7 3h6m-8-1h6m-10-3h6m-8 2h6m-7 4h6m-13 2h6m-6 1h6m-9-1h6m-7-2h6m-7 1h6m-8-1h6m-9-4h6m-9-3h6m-8 1h6m-15-4h6m-8 7h6m-8-5h6m-9 10h6m-10-5h6m-6-7h6m-6 9h6m-7 0h6m-6 4h6m-8-6h6m-7 1h6m-6-6h6m-6-2h6m-8 12h6m-7-3h6m-10 3h6m-6 2h6m-7-10h6m-6 0h6m-6 8h6m-7-7h6m-8 2h6m-7 4h6m-6-11h6m-8 8h6m-7-4h6m-14 4h6m-14 1h6m-7 1h6m-16 0h6m-14-10h6m-7 0h6m-7 12h6m-8 2h6m-10-12h6m-7 3h6m-7-2h6m-7-1h6m-11 5h6m-6 2h6m-9 3h6m-6-3h6m-9-2h6m-7 2h6m-9-4h6m-9-2h6m-8-1h6m-6 11h6m-6-1h6m-9 1h6m-7-7h6m-11 2h6m-10-5h6m-16 8h6m-10-10h6m-9 11h6m-7-5h6m-7-1h6m-8 2h6m-6 3h6m-7-10h6m-8 10h6m-7-11h6m-7 5h6m-7 0h6m-9 7h6m-8 0h6m-7-5h6m-6 5h6m-7-6h6m-6 1h6m-7-4h6m-9 1h6m-6 8h6m-8-4h6m-7-5h6m-6 2h6m-7 9h6m-7-7h6m-14 3h6m-6-2h6m-8-4h6m-8 9h6m-7-3h6m-7-2h6m-6-5h6m-6 5h6m-7-2h6m-8 0h6m-6 3h6m-8-6h6m-6-3h6m-7 5h6m-6 7h6m-8-7h6m-7 3h6m-6 5h6m-7-1h6m-6-2h6m-7 3h6m-7-6h6m-6 3h6m-7-3h6m-8-7h6m-2 16h6m-4 4h6m-2 8h6m-4-9h6m-4 5h6m-5-9h6m-5 0h6m-5 7h6m-5 6h6m-6-11h6m-5 8h6m-3 0h6m-4 4h6m-6-8h6m-4-6h6m-4 14h6m-5-6h6m-6 6h6m-6-1h6m-5 0h6m-3-11h6m-3 3h6m-4-2h6m-5 0h6m-4 5h6m-5-3h6m4-1h6m-3 2h6m-3 6h6m-6-2h6m-1 1h6m-4-11h6m0 10h6m0-4h6m-5 8h6m-5-10h6m-6 6h6m-4-3h6m-4-4h6m-4 3h6m-5-4h6m-5 8h6m-6 3h6m-4-10h6m-5 0h6m-1 4h6m-4 1h6m-6-1h6m-4 5h6m-6-2h6m-5-2h6m-3-8h6m-1 2h6m-3 0h6m-4-2h6m-4 0h6m-6 5h6m-5-4h6m-4 2h6m8-2h6m-6 13h6m-6-7h6m-6 6h6m-6-10h6m1-3h6m-6 2h6m-4 9h6m-4 0h6m-6-4h6m-5 5h6m-5-11h6m-1 12h6m-3-10h6m-6 6h6m-3-2h6m-5 2h6m-3 5h6m-4-9h6m-5-5h6m-3 9h6m-5 3h6m-6-8h6m-4 4h6m-6-5h6m-4 7h6m-5-2h6m-2-6h6m-4-1h6m-5 2h6m-4 1h6m-4 10h6m-5-10h6m-1-4h6m-1 3h6m-6 7h6m0-5h6m-6-4h6m-5 4h6m-5 6h6m0-2h6m-1-5h6m-6-4h6m-4 13h6m-4-9h6m-5-2h6m0 7h6m1 0h6m-5-2h6m-4-2h6m-1 0h6m-4-4h6m1 13h6m0-2h6m-3-5h6m-5-4h6m-4 6h6m1 0h6m4-7h6m-1 11h6m-4-5h6m-6 0h6m-4-1h6m-6-3h6m0 6h6m-6 3h6m-4-1h6m-4 0h6m0-4h6m-1-8h6m-6 2h6m-1 3h6m-1-4h6m-5 8h6m-2 2h6m-5-9h6m-2 8h6m-4-6h6m-4 4h6m-5 3h6m-2-3h6m-6-7h6m8 2h6m-5 5h6m-2-6h6m0-1h6m-57 17h6m-10-1h6m-11 4h6m-9-3h6m-7-3h6m-26 0h6m-8 4h6m-7-1h6m-14 1h6m-7 0h6m-7 6h6m-7-6h6m-11-4h6m-11 6h6m-7 8h6m-6-1h6m-9-11h6m-6 3h6m-7 4h6m-7-3h6m-8 7h6m-10-1h6m-10-1h6m-8-6h6m-7 9h6m-10-13h6m-6 1h6m-10 12h6m-7-4h6m-13-8h6m-11 0h6m-8 2h6m-12-2h6m-16 6h6m-7-6h6m-12 1h6m-9-3h6m-6 0h6m-7 3h6m-9 8h6m-9-4h6m-13 5h6m-10-7h6m-8 5h6m-9 1h6m-7-9h6m-8 9h6m-8-4h6m-6 1h6m-15-6h6m-7 6h6m-7-4h6m-6 7h6m-8-5h6m-7-2h6m-10 0h6m-7 3h6m-6 1h6m-7-6h6m-6 6h6m-8-8h6m-7 8h6m-8-6h6m-7 5h6m-10 6h6m-12-12h6m-7 4h6m-6-4h6m-8-1h6m-9 14h6m-6-2h6m-6-4h6m-8 3h6m-6 3h6m-8-7h6m-6 4h6m-10-3h6m-7-3h6m-6 0h6m-7-2h6m-8 7h6m-6 1h6m-7-3h6m-8-4h6m-12 1h6m-10-1h6m-6-2h6m-10 7h6m-12-8h6m-7 6h6m-14 5h6m-8-5h6m-6-6h6m-8 3h6m-6 4h6m-6-2h6m-8 1h6m-9 3h6m-6-7h6m-12-1h6m-7 1h6m-9 10h6m-7-3h6m-7 4h6m-8 0h6m-7-2h6m-7-4h6m-6-2h6m-6-1h6m-8 4h6m-9 4h6m-6-11h6m-7 5h6m-9-1h6m-6 2h6m-8-2h6m-10 6h6m-7-3h6m-8-5h6m-7 9h6m-8-5h6m-8-6h6m-8-1h6m-9 5h6m8 10h6m-1 7h6m-4 2h6m-3 1h6m-1-11h6m-3 11h6m-6-2h6m-5 5h6m-4-13h6m-2 3h6m-6 7h6m-5-4h6m-6 0h6m-5 3h6m0-5h6m-6 9h6m-5 0h6m-4-6h6m-6 1h6m0-6h6m-6-3h6m-5 4h6m-5-3h6m-1 11h6m-5-2h6m-3 0h6m-5-8h6m-2-2h6m-5 6h6m-6 5h6m-6 2h6m-2-9h6m-4 5h6m-4-9h6m-6 12h6m-2-5h6m-3 6h6m-6-3h6m-5-10h6m-4 6h6m-1 6h6m-5-11h6m-4 9h6m-6-9h6m-5 7h6m1-7h6m-3 4h6m-4 2h6m-5 1h6m-5-4h6m1-3h6m1 8h6m2 1h6m-3-9h6m-5 7h6m-2-2h6m-4 0h6m-5-5h6m-4 12h6m-2-6h6m-3 4h6m-3-2h6m-4 2h6m6 3h6m0-14h6m-4 14h6m-1-7h6m-5-4h6m-2 7h6m-3 4h6m-2-1h6m4-12h6m6 3h6m-5 2h6m20-6h6m-73 15h6m-8 4h6m-7-2h6m-7 1h6m-12 1h6m-6-2h6m-17 10h6m-7-11h6m-13-1h6m-10 8h6m-8 0h6m-9-2h6m-9 6h6m-9-12h6m-13 12h6m-11-1h6m-7-8h6m-7 8h6m-10 1h6m-12 2h6m-7-4h6m-6-7h6m-7-1h6m-7-1h6m-8 10h6m-7 2h6m-7-10h6m-8 5h6m-8 1h6m-7-4h6m-9 7h6m-6-6h6m-8-3h6m-7 6h6m-8 2h6m-7-6h6m-16 2h6m-8 1h6m-7-6h6m-7 9h6m-7-5h6m-7-6h6m-7 14h6m-7-10h6m-7 4h6m-9-1h6m-6-3h6m-6 7h6m-7 3h6m-6-2h6m-10-1h6m-8 0h6m-7-6h6m-7-4h6m-9 5h6m-10-1h6m-7 4h6m-7 2h6m-7 2h6m-8 1h6m-12-8h6m-7-3h6m-7 11h6m-6-8h6m-7-2h6m-8 6h6m-7-8h6m-9-1h6m-8 9h6m-9-2h6m-7-4h6m6 14h6m-1 10h6m-5-5h6m-4 3h6m-5 3h6m-5-12h6m-6 4h6m-5-1h6m-5 6h6m-4-6h6m-3 7h6m-6-6h6m-5 2h6m-5 6h6m-5-2h6m-6-1h6m-5 3h6m-4-3h6m-6 0h6m-4-4h6m-2-4h6m-4 9h6m-6 1h6m-6-9h6m-4 9h6m-6-2h6m-1 1h6m-4-10h6m-2 6h6m-4-5h6m-4 5h6m-6 0h6m-4 3h6m-6-9h6m-5-1h6m-3 1h6m-6 12h6m-5-8h6m-4 4h6m-4-10h6m-6 3h6m-6 0h6m-6 11h6m-5-14h6m-4 4h6m-5 0h6m-3 5h6m-1 3h6m-5-1h6m-2-2h6m-4-7h6m-6 10h6m-5-5h6m-3-5h6m-5 7h6m-2-3h6m-4-3h6m-4 8h6m3-4h6m-4-5h6m-5-1h6m-3 4h6m-4 7h6m-5-10h6m0 2h6m-3-2h6m-29 25h6m-7-1h6m-9-2h6m-6 4h6m-9-5h6m-10-3h6m-7 2h6m-7-7h6m-8 3h6m-8 8h6m-10-8h6m-6 3h6m-9 6h6m-7 1h6m-8-3h6m-7 4h6m-7-3h6m-9-8h6m-8-2h6m-6 6h6m-10 4h6m-7-1h6m-7-8h6m-6 8h6m-8-8h6m-7 4h6m-8-3h6m-6 9h6m-9-12h6m-7 13h6m-7 0h6m-7-5h6m-7 6h6m-9-10h6m-6 0h6m-8 10h6m-6-4h6m-8-6h6m-6 6h6m-6-8h6m-8 9h6m-6-2h6m-9-8h6m-6 11h6m-12-6h6m-10-5h6m-6 5h6m-7 4h6m-6-4h6m-8-3h6m-6 5h6m-9-5h6m-10 6h6m-10-7h6m9 19h6m-4 0h6m-5-2h6m-4 7h6m-2 0h6m2-8h6m-5 9h6m-5-6h6m-1 2h6m-6-5h6m1 1h6m-2 1h6m-6-3h6m-3 2h6m-6 10h6m-1-3h6m-5-9h6m-3 1h6m-2 6h6m-5-5h6m-3 7h6m-5 2h6m-5-11h6m-6 4h6m-5-3h6m-5 2h6m-3-2h6m-6 9h6m-3-7h6m-5 0h6m-24 11h6m-10-1h6m-7 3h6m-17 1h6m-8 1h6m-6 1h6m-8 2h6m-6-7h6m-7 3h6m-7-1h6m-7 11h6m-7-10h6m-11-2h6m-8 3h6m-8 4h6m-6-8h6m-7 5h6m-9-2h6m-8 3h6m-7 0h6m-2 12h6m-3 4h6m-1-5h6m-5 3h6m-5 7h6m-5-8h6m-2 5h6m0-10h6m-6 7h6m-1-7h6m-3 0h6m-5 4h6m-5-4h6m-17 19h6m-11-1h6m-14-1h6m-7 4h6m-10-6h6" stroke="#2a78b8" stroke-width="6" stroke-linecap="butt" fill="none"/>
<rect x="15.20" y="508.60" width="124.20" height="122.30" fill="none" stroke="#6d6e71" stroke-width="0.9"/>
<ellipse cx="129.65" cy="525.63" rx="9.02" ry="13.05" fill="none" stroke="#4a4a4a" stroke-width="0.75"/>
<ellipse cx="105.54" cy="536.14" rx="9.20" ry="9.60" fill="none" stroke="#4a4a4a" stroke-width="0.75"/>
<ellipse cx="109.68" cy="561.69" rx="11.68" ry="14.49" fill="none" stroke="#4a4a4a" stroke-width="0.75"/>
<text x="111.06" y="519.34" font-size="9.4" text-anchor="middle" font-weight="normal" fill="#231f20"  stroke="#231f20" stroke-width="0.1">C3</text>
<text x="87.70" y="535.66" font-size="9.4" text-anchor="middle" font-weight="normal" fill="#231f20"  stroke="#231f20" stroke-width="0.1">C2</text>
<text x="129.28" y="556.66" font-size="9.4" text-anchor="middle" font-weight="normal" fill="#231f20"  stroke="#231f20" stroke-width="0.1">C1</text>
<text x="137.20" y="627.90" font-size="9.3" text-anchor="end" font-weight="normal" fill="#231f20"  stroke="#231f20" stroke-width="0.1">CD8<tspan font-size="6.32" dy="-4.09">+</tspan><tspan dy="4.09">​</tspan> T cells</text>
<path transform="scale(0.2)" d="M997 2579h6m-23-1h6m-17-4h6m-12 3h6m-9-3h6m-15 3h6m-6 2h6m-11-4h6m-15-3h6m-11 5h6m-8-3h6m-13 4h6m-9-2h6m-8 1h6m-18 1h6m-15 0h6m-8-1h6m-16 10h6m-3 3h6m-6 4h6m-2-11h6m-3 10h6m-5-6h6m-4-6h6m-5 11h6m-5-12h6m4 9h6m-5-5h6m-3-1h6m-5 0h6m-5 9h6m-4-11h6m-3-1h6m-6 5h6m-5-3h6m-1-2h6m-5 12h6m-5 2h6m-6-13h6m-5 5h6m-6 1h6m-5-1h6m-6 2h6m5 4h6m-6 0h6m-3-10h6m-5 8h6m-5-4h6m-3-5h6m-2 10h6m-3 0h6m-5-3h6m-3 2h6m-4 3h6m-5-7h6m-5 6h6m-6-8h6m-1-3h6m-5 3h6m-1 5h6m-6-2h6m-6-6h6m-3 6h6m-6 2h6m-5-1h6m-2-3h6m-6 1h6m-2 0h6m-5 2h6m-6-5h6m-4 8h6m-5-2h6m-4 1h6m-3-3h6m-3 0h6m-6-5h6m-5 0h6m-2-1h6m-6 1h6m-3 12h6m-4-4h6m-5-3h6m-3-1h6m-5 6h6m-5-2h6m-5 0h6m5 0h6m-3 3h6m370-1h6m1-2h6m-1 4h6m-3-4h6m-4 4h6m-3-5h6m-6 5h6m-2-7h6m-5 1h6m-3 2h6m-6-4h6m-5 5h6m-4 0h6m-5 1h6m-4-2h6m9 18h6m-10-5h6m-7-2h6m-7 3h6m-7-4h6m-9 0h6m-6-1h6m-7 7h6m-7-11h6m-7 12h6m-6-6h6m-9-1h6m-7-5h6m-11 11h6m-9 1h6m-7-2h6m-6 1h6m-7-4h6m-7-1h6m-7 8h6m-7-11h6m-6 2h6m-7 4h6m-8 1h6m-9-1h6m-7-6h6m-8 2h6m-6-4h6m-8 8h6m-6 4h6m-6-9h6m-9-1h6m-6 3h6m-7 1h6m-7-1h6m-7 0h6m-7-6h6m-11 6h6m-7 4h6m-8 3h6m-7-8h6m-350 7h6m-14-4h6m-8 3h6m-6-6h6m-10 5h6m-6 1h6m-7-1h6m-13-4h6m-7 3h6m-9 5h6m-7-12h6m-7 5h6m-8-3h6m-7 0h6m-7 0h6m-8 9h6m-10-6h6m-6 7h6m-7-2h6m-8 0h6m-7-1h6m-9-5h6m-6 8h6m-6-8h6m-13 8h6m-8-1h6m-8-6h6m-10-1h6m-8-5h6m-8 4h6m-6 5h6m-14 1h6m-9 2h6m-10-3h6m-7 4h6m-8-14h6m-8 3h6m-7 10h6m-6-3h6m-6-7h6m-15 11h6m-6-5h6m-10-4h6m-6-1h6m-10-2h6m-8 9h6m-7 2h6m-8-4h6m-7 1h6m-9-4h6m-6 2h6m-8 6h6m-7-8h6m-6-5h6m-8 9h6m-7-6h6m-12 0h6m-6 4h6m-7 6h6m-6-1h6m-6-8h6m-11-1h6m-15 7h6m-8-9h6m-7 3h6m-9 2h6m-6-3h6m-6 7h6m-6-8h6m-7-3h6m-9 10h6m-9-9h6m-8 4h6m-9-4h6m-8 9h6m-9-2h6m-7-6h6m-8 4h6m-12 3h6m-10 0h6m-9-3h6m-8 3h6m-9-8h6m-7 2h6m3 22h6m-2-8h6m-2 12h6m-4-4h6m-5-3h6m-5 0h6m-6 7h6m-5-4h6m-5-8h6m-6 0h6m-4 12h6m-4-6h6m-5 1h6m-4 2h6m-5-5h6m-5-2h6m-6 4h6m-6 4h6m-5-5h6m-1 1h6m-6-3h6m-2 2h6m-6-2h6m-6-1h6m-4 9h6m-3-8h6m-6 6h6m-5-5h6m-3 7h6m5-7h6m-6 8h6m-4-9h6m-5-3h6m-5-1h6m-4-1h6m-5 4h6m-5 1h6m-3 9h6m-5-10h6m-6-1h6m-3 3h6m-5-4h6m-5 6h6m-3-3h6m-5-2h6m0-3h6m-6 10h6m-1 0h6m-5-10h6m-5 0h6m-6 7h6m-5 4h6m-4-2h6m-2 0h6m-4-4h6m-4 9h6m-3-6h6m-5-6h6m-3 11h6m-5-1h6m-6-1h6m-5 1h6m-2-12h6m-4 11h6m-6-8h6m-4 5h6m-5-8h6m-6 13h6m-6-4h6m-4 4h6m-4-6h6m-5 4h6m-1-7h6m-2 2h6m-4 7h6m-1-6h6m-6 1h6m-6-6h6m-5 4h6m-6-2h6m-2 1h6m-6-4h6m-6 0h6m-4 5h6m-1 1h6m-4 7h6m-4-8h6m-4-5h6m-4 6h6m-2 0h6m-5 0h6m-5 2h6m-3-9h6m-5 3h6m-5 0h6m-4 11h6m-5-14h6m-5 0h6m-6 3h6m-2 7h6m-2 4h6m326-5h6m-4-8h6m-5 12h6m-6-4h6m-3-7h6m-4 8h6m-6-4h6m-5 1h6m-2-2h6m-6 3h6m-5-6h6m-5 12h6m-6-5h6m-5 4h6m-6-12h6m-6 11h6m-5-8h6m-5 3h6m-6 1h6m-6 0h6m-5 4h6m-5-9h6m-5 2h6m-3 4h6m-1-8h6m-6 4h6m-6-4h6m-5 5h6m-6 2h6m-4-4h6m-2 2h6m-4 0h6m-1 6h6m-5 2h6m-5 0h6m-3-13h6m-4 6h6m3-6h6m-6 5h6m-5 7h6m-4-5h6m-5-8h6m-4 0h6m-5 10h6m-5-1h6m-7 12h6m-8 3h6m-8-2h6m-6 2h6m-7 3h6m-6-9h6m-7 9h6m-8-2h6m-6-8h6m-7 2h6m-9 10h6m-6-7h6m-7-7h6m-6 1h6m-8 0h6m-7 5h6m-9 2h6m-7-3h6m-6-1h6m-7 4h6m-7-8h6m-7 7h6m-6 1h6m-9-2h6m-8 7h6m-6-10h6m-7 10h6m-7-6h6m-7 2h6m-6 3h6m-8-2h6m-6 2h6m-7-4h6m-9 0h6m-8 5h6m-8 0h6m-7 0h6m-9-7h6m-6 7h6m-14-3h6m-7-10h6m-6 7h6m-8 7h6m-10-6h6m-10 2h6m-336-5h6m-11 1h6m-6-4h6m-6 4h6m-7-3h6m-6 10h6m-9 0h6m-9-3h6m-6-7h6m-7 0h6m-6-2h6m-13 11h6m-12-1h6m-6-7h6m-8 4h6m-6 3h6m-7 1h6m-7-1h6m-7-7h6m-9 6h6m-9-10h6m-7 0h6m-7 3h6m-7 1h6m-7 4h6m-8 0h6m-9 5h6m-8-12h6m-8 9h6m-7-3h6m-8-7h6m-8 7h6m-7-4h6m-10 8h6m-7-9h6m-7 7h6m-9 3h6m-11 2h6m-8-5h6m-7-5h6m-6 2h6m-8-4h6m-10 11h6m-11-9h6m-7 9h6m-8-8h6m-7 5h6m-7 3h6m-10-7h6m-9 7h6m-7-1h6m-10 1h6m-11 0h6m-8-1h6m-9-10h6m-6 5h6m-9-5h6m-9 0h6m-8 10h6m-8-5h6m-9-6h6m-9 13h6m-6-13h6m-10 8h6m-8-4h6m-14 0h6m-9-2h6m-10 0h6m-8 0h6m-6 1h6m-6 1h6m-6 1h6m-7 4h6m-6-4h6m-8-3h6m-11 6h6m-7 4h6m-6-12h6m-7 12h6m-6-13h6m-7 10h6m-6-4h6m-11 2h6m-8 6h6m-7-1h6m-6-2h6m-7-8h6m-6 1h6m-10 1h6m-9 3h6m-6-7h6m0 16h6m-5-2h6m-5 1h6m-4 4h6m-1 3h6m-4-2h6m-6-2h6m-6 0h6m-4 4h6m7 2h6m-5 3h6m-5-5h6m0-6h6m-2 4h6m-5-6h6m-5 5h6m-6 9h6m-5-12h6m-6 6h6m-3-7h6m-3 9h6m-1 4h6m-6-1h6m-1-5h6m-5 2h6m-5-10h6m-2 5h6m-3-3h6m-3 0h6m-5 3h6m-5 5h6m-4-6h6m-5 2h6m-4-5h6m-5 5h6m-6-5h6m-5 8h6m-5-8h6m-6 13h6m-6-5h6m0-7h6m-6 3h6m-5-2h6m-4 3h6m-5 6h6m-5-11h6m-3 1h6m-5 1h6m-5 9h6m-6-6h6m0 1h6m-4-1h6m-4 1h6m-4-2h6m-5-3h6m-6-2h6m-4 6h6m-5-3h6m-5-2h6m-2 11h6m-2 1h6m-4 1h6m-3-12h6m-6 2h6m-6-2h6m-3 5h6m-2 4h6m-4-1h6m-6-3h6m-5 3h6m-5-6h6m-5 8h6m-4-12h6m-6 4h6m-3 7h6m-5-6h6m-3 4h6m-1-1h6m-6 4h6m-3 1h6m-5-12h6m-3 4h6m-1-1h6m338 0h6m-1-3h6m0 3h6m-4 4h6m-3 0h6m-6-8h6m-4 2h6m-1 5h6m-2 5h6m-5-7h6m-1 7h6m-5 0h6m-2 0h6m-5-3h6m-5-8h6m-3 7h6m-5-4h6m-4-2h6m-6-2h6m-2 1h6m-12 28h6m-9-5h6m-8 5h6m-6-1h6m-7-4h6m-15-1h6m-8-8h6m-7 7h6m-8 3h6m-6-10h6m-6 1h6m-10 4h6m-8 5h6m-97 0h6m-7 4h6m-9-1h6m-11-1h6m-7-4h6m-13 5h6m-10-5h6m-7 6h6m-8-4h6m-8 0h6m-284-5h6m-8 3h6m-11-4h6m-7 1h6m-7 5h6m-6 1h6m-11-10h6m-10 10h6m-8 2h6m-7-4h6m-6 0h6m-16-6h6m-6-1h6m-8 4h6m-8 0h6m-10 7h6m-9-13h6m-10 1h6m-8 10h6m-7-10h6m-8 2h6m-8 2h6m-9 1h6m-7 3h6m-9 3h6m-7 1h6m-10-5h6m-7-6h6m-8 12h6m-7-5h6m-7-9h6m-10 5h6m-8 9h6m-8-4h6m-11-5h6m-8 1h6m-7 0h6m-7 6h6m-9-11h6m-8 6h6m-8-3h6m-8-3h6m-7 9h6m-6-1h6m-7-3h6m-8-3h6m-8 8h6m-7 2h6m-8-10h6m-6 5h6m-8-3h6m-8-4h6m-12 8h6m-11 3h6m-5 10h6m-3-3h6m-4 4h6m-4-1h6m-6-3h6m9 8h6m-4-12h6m-6 0h6m-6 2h6m-6 10h6m-3 1h6m-5-12h6m-3 3h6m-6 4h6m-4 0h6m-4-1h6m-1-1h6m-4-1h6m-6-4h6m-3 2h6m-1 3h6m-5-6h6m-6 7h6m-4 1h6m-4-7h6m-3 3h6m-5 0h6m4 3h6m-3 3h6m-2-2h6m-3-4h6m-2-3h6m-6 6h6m-5-4h6m-4 2h6m-4 8h6m-4-2h6m-5 2h6m-3-2h6m-6 0h6m-4 2h6m274 1h6m-6-1h6m-5-8h6m-5 0h6m-5 0h6m-4-1h6m-5 3h6m-3 6h6m-6-4h6m-4 4h6m-6 0h6m-5-6h6m-5-6h6m-5 5h6m-5 7h6m-4 1h6m-5-4h6m-6-6h6m-3 5h6m-3-7h6m-5 6h6m-6 4h6m-4-5h6m-3-4h6m-5-1h6m-6 4h6m-5 2h6m-6 0h6m-5 1h6m-6-8h6m-3 6h6m-6 4h6m-4-5h6m-5 3h6m-6-7h6m-5 9h6m-1-4h6m-4 4h6m-6-5h6m-5-2h6m-5-2h6m-5 0h6m-6 4h6m-6-2h6m-5-4h6m-5 9h6m-5-7h6m-3 0h6m-5-2h6m-2 7h6m-4 6h6m64-6h6m-2 1h6m-5-2h6m-5 6h6m-4-3h6m-6 1h6m-3-5h6m2 8h6m-4-12h6m-3 6h6m-5-2h6m-5 5h6m-6 0h6m-3-5h6m-11 11h6m-11 6h6m-7-6h6m-6 4h6m-7-3h6m-6 5h6m-6-3h6m-12 3h6m-16-7h6m-82 4h6m-6-3h6m-10 7h6m-6 3h6m-8-1h6m-7-1h6m-7-9h6m-10 9h6m-11-3h6m-7-1h6m-8 6h6m-7-5h6m-8-1h6m-6 6h6m-7-9h6m-6-1h6m-11 13h6m-11-5h6m-6-4h6m-8 0h6m-6 5h6m-7-5h6m-7 2h6m-6-1h6m-7 5h6m-6-1h6m-6-2h6m-9 6h6m-9-7h6m-7-1h6m-13 0h6m-304 0h6m-14 3h6m-16 5h6m-6-2h6m-10-2h6m-7 3h6m-6-4h6m-6-7h6m-10-1h6m-8 2h6m-7-3h6m-6 13h6m-9-4h6m-7-6h6m-11 9h6m-15-1h6m-9-11h6m-10 2h6m-9 4h6m-16 8h6m-8-10h6m-7-2h6m-6 1h6m-9 5h6m-11-8h6m-3 27h6m-5 1h6m7-1h6m-2-3h6m2-7h6m-3 0h6m-2 8h6m-6-5h6m-4-1h6m0 10h6m-4-8h6m-3-2h6m-5-2h6m-4 1h6m-3 11h6m0-12h6m-4 1h6m-6-2h6m-3 0h6m-2 13h6m-3-7h6m-2-5h6m-4 6h6m6 6h6m173-3h6m12-2h6m-5 0h6m-2 1h6m78 4h6m0-4h6m-1-1h6m-5 5h6m-4-6h6m2-8h6m-3 9h6m-1-7h6m-5 12h6m-1-7h6m-3 1h6m0 2h6m-3-5h6m-2 9h6m-8 4h6m-12-3h6m-10 11h6m-11-10h6m-25 6h6m-6-6h6m-11 3h6m-11 0h6m-7-3h6m-8 4h6m-92 9h6m-6-1h6m-10-7h6m-6 1h6m-7-5h6m-10 7h6m-11 4h6m-10-2h6m-7-2h6m-12-7h6m-9 1h6m-11 7h6m-8 4h6m-7 0h6m-176-10h6m-8 10h6m-14-9h6m-6 3h6m-13 5h6m-8 1h6m-7-4h6m-9-3h6m-6-6h6m-16 8h6m-7-2h6m-12 2h6m-9-5h6m-11 0h6m-8-3h6m-10 1h6m-13 12h6m-9-2h6m-7-11h6m-11 5h6m-6 5h6m-9-10h6m-9 12h6m-10-6h6m-5 16h6m-6 0h6m-5-1h6m2-6h6m-6 13h6m-5-6h6m-4-5h6m-4 1h6m2 1h6m-3 4h6m-2-2h6m-4-6h6m-5 6h6m-6-4h6m-1 0h6m-3 0h6m-3-3h6m-4 12h6m-4-12h6m-4 12h6m-3-10h6m12 8h6m-4-7h6m-4 1h6m155 9h6m2-3h6m-1-9h6m-5 13h6m-4-13h6m-4 10h6m-4-8h6m-5 9h6m-4-8h6m0 1h6m-5 4h6m-6-5h6m-3 2h6m-5 2h6m-4-8h6m-6 9h6m-3 2h6m146 14h6m-10 4h6m-8-6h6m-18 0h6m-131-7h6m-8-1h6m-7 10h6m-7-10h6m-14 1h6m-7 1h6m-8 12h6m-18-1h6m-8 0h6m-8-1h6m-16 1h6m-6-7h6m-9 5h6m-10-5h6m-14 2h6m-10-6h6m-20 7h6m-7 2h6m-151-4h6m-9 5h6m-21-5h6m-6-3h6m-9 6h6m-8-6h6m-13 1h6m-10 2h6m-6 4h6m-8-6h6m-20 0h6m-1 16h6m-4 8h6m-6-2h6m-3-6h6m-6-4h6m2 1h6m-3 2h6m-4-4h6m-6 0h6m-1 9h6m-4-1h6m-4 0h6m-4-9h6m-6 3h6m-5 10h6m-2-12h6m8 9h6m92 0h6m-4 3h6m0 1h6m-6-8h6m7 2h6m-6-7h6m-2 6h6m-5 0h6m-3 6h6m-3-11h6m-4 2h6m-3-4h6m-5 10h6m-3-2h6m-4 0h6m-4 4h6m-5-10h6m3 6h6m-5-6h6m2 12h6m-2-3h6m-6 3h6m-5-9h6m3 6h6m-4 0h6m-1 3h6m-2-4h6m-5-7h6m-6 8h6m-4-6h6m-6 0h6m-4 2h6m-1 1h6m-5 3h6m-2-6h6m153 5h6m-11 16h6m-9-1h6m-8-3h6m-7-3h6m-7 6h6m-12 2h6m-146-4h6m-25-1h6m-12-6h6m-11 0h6m-14 2h6m-15-1h6m-9 9h6m-7 2h6m-7 0h6m-9 1h6m-8-7h6m-9 6h6m-19-3h6m-6-8h6m-9-1h6m-11 3h6m-7 9h6m-12-7h6m-8 7h6m-7-2h6m-14-7h6m-6 4h6m-12-3h6m-8 9h6m-11-13h6m-7 5h6m-8 0h6m-6 0h6m-10 7h6m-14-6h6m-27 7h6m-12-1h6m-59 1h6m-7-14h6m-7 11h6m-19-8h6m-10 0h6m-11-2h6m-19 5h6m-7-5h6m-3 28h6m23-7h6m-6 0h6m-3 0h6m2 3h6m-2 3h6m-4-6h6m-4-2h6m-4 8h6m-4-9h6m-3 0h6m3 2h6m-4 3h6m5-5h6m-2 1h6m-3 6h6m-3 1h6m-5-8h6m-6-2h6m-4 2h6m-3 0h6m-5 9h6m-1-5h6m-3 1h6m-6 5h6m2-4h6m-3-4h6m-5 2h6m3 4h6m-6-11h6m-2 12h6m1-2h6m-2-10h6m-4 13h6m-4-11h6m-1 6h6m-4-9h6m1 6h6m0-6h6m-4 1h6m-3 12h6m-4-12h6m-5 2h6m1-3h6m-6 1h6m1 13h6m37-8h6m42 8h6m100-14h6m0 8h6m0-1h6m-4 2h6m-5-6h6m-4 10h6m-4-10h6m-6 6h6m-7 6h6m-11 4h6m-10 9h6m-7-1h6m-7-5h6m-6-7h6m-12 12h6m-14 1h6m-6 1h6m-112-4h6m-8 1h6m-42-10h6m-57 13h6m-21-4h6m-14-1h6m-33 3h6m-11-6h6m-20-3h6m-7 0h6m-8 0h6m-15 9h6m-8-8h6m-11 5h6m-12-8h6m-7 8h6m-10 1h6m-9 4h6m-9-2h6m-10 2h6m-7-4h6m-7-7h6m-16 5h6m-10 6h6m-6-4h6m-7-5h6m-14 3h6m-6-7h6m-7 6h6m-13-6h6m-30 10h6m-7-7h6m-9 3h6m-14 10h6m-6 11h6m-5-10h6m-5 6h6m-5 2h6m-1-7h6m-5-3h6m-3 9h6m3 0h6m8 4h6m-6-7h6m-2 0h6m-4 6h6m14-8h6m-6-5h6m-5 9h6m-4-7h6m3-1h6m-4 5h6m-3-6h6m-4 14h6m1-2h6m-4 0h6m63-7h6m82 8h6m5-1h6m95 1h6m-4-9h6m-5 4h6m-4-5h6m-3-2h6m-4 13h6m1 0h6m-5-8h6m-6-2h6m-6 8h6m-4-12h6m-2 6h6m-5 4h6m-5-2h6m-3-8h6m-3 8h6m-5-8h6m-5 5h6m-3 7h6m-3 2h6m-4-9h6m-5 3h6m-1 5h6m-4 0h6m39 14h6m-17-2h6m-11 2h6m-12-4h6m-6 0h6m-8 5h6m-9 1h6m-19-11h6m-7-3h6m-9 1h6m-9 6h6m-6-2h6m-9 3h6m-6-3h6m-7 8h6m-7-1h6m-9-8h6m-11-4h6m-9 6h6m-7-5h6m-6 2h6m-8-1h6m-7 10h6m-6-5h6m-8-4h6m-8 0h6m-7 5h6m-13 3h6m-8-2h6m-6-4h6m-8 4h6m-7-8h6m-8 6h6m-10 5h6m-8 2h6m-6-1h6m-6-10h6m-11 1h6m-9-3h6m-15 12h6m-50 1h6m-63-8h6m-18 3h6m-45-4h6m-77-4h6m-39 4h6m-7 0h6m-10 4h6m-13 3h6m-7-6h6m-15 5h6m-7-5h6m-8 7h6m-7 1h6m-8-9h6m-8 3h6m-6 6h6m-8-14h6m-7 14h6m-8-2h6m-6 2h6m-8-1h6m-6-3h6m-8-3h6m-6 5h6m-9-4h6m-6 2h6m-10 0h6m-8 4h6m-7-8h6m-25-5h6m-11 0h6m-9 2h6m-9 1h6m-8 5h6m-4 17h6m2-10h6m-4 8h6m4 2h6m-4 1h6m-4-8h6m0 0h6m-6 4h6m-1-6h6m-4 1h6m-6 11h6m-3-8h6m-5-3h6m-3 3h6m-5 2h6m-6-7h6m-5 13h6m-5-3h6m-6-6h6m-5-1h6m-5-3h6m-5 9h6m-4 3h6m-5-1h6m-6-6h6m-6-3h6m-5-1h6m-4 5h6m-5 3h6m-6 1h6m-5-7h6m-6 2h6m-5 8h6m-5-7h6m-6-7h6m-4 6h6m-5-2h6m-5 0h6m-6-1h6m-5 1h6m-5 10h6m-6-6h6m-5-1h6m-6-1h6m-5 1h6m-5-1h6m-4-6h6m-6 2h6m-5 2h6m-6-3h6m-6 0h6m-5 2h6m-3 6h6m-5 5h6m-5-2h6m-6-9h6m-4 5h6m-4-7h6m-6 7h6m-5 1h6m-6-1h6m-5 3h6m-4-7h6m-4 5h6m-6 0h6m-6 4h6m-3-6h6m-2 6h6m-4-1h6m-1-2h6m-2 0h6m16 4h6m6-1h6m-3 0h6m-4-1h6m-5 1h6m2-2h6m-5-1h6m-6 2h6m-2-1h6m7 0h6m1 0h6m-3 0h6m-5 1h6m5 2h6m0 0h6m-3-7h6m-5 5h6m8-6h6m-4-2h6m-5 7h6m7-5h6m0 8h6m-4-3h6m-4 3h6m-3-10h6m-6 2h6m1-2h6m-1 5h6m-1 2h6m-6-4h6m-4 4h6m-6-3h6m-4 1h6m-5 0h6m1-2h6m-4-4h6m-6 2h6m-5 0h6m-5-3h6m-5 10h6m-6 1h6m-2-11h6m-5 11h6m-6 0h6m0-5h6m1-6h6m-6 11h6m-3-12h6m-3 1h6m-4 3h6m-5 0h6m-5-1h6m-1-2h6m-5 3h6m-1-3h6m-6 1h6m-2 2h6m-5-1h6m-6 0h6m6 7h6m-6 0h6m-3-10h6m-5 13h6m-5-4h6m-5-2h6m-6 2h6m-5-2h6m2-8h6m0 13h6m4-2h6m-2-8h6m-6 1h6m-3 2h6m-2-1h6m-3 6h6m-6-8h6m1-3h6m-2 12h6m-6-12h6m6 1h6m-2 1h6m-4 10h6m-5 0h6m-4-9h6m-4-2h6m8 13h6m-3-3h6m-1 2h6m-5-2h6m1-1h6m-3 4h6m-4 7h6m-10 6h6m-7-5h6m-9 6h6m-23-1h6m-9-3h6m-6-5h6m-14 1h6m-9 8h6m-8-2h6m-14-6h6m-16-4h6m-8 11h6m-7-1h6m-12 3h6m-17-10h6m-14 6h6m-6 0h6m-7-9h6m-9 2h6m-14 5h6m-11-7h6m-6 12h6m-9-5h6m-15 6h6m-7-9h6m-7 3h6m-10-8h6m-9 12h6m-6 1h6m-13 1h6m-7-5h6m-13-9h6m-7 10h6m-10-2h6m-11-2h6m-7-1h6m-7-1h6m-10 7h6m-8-8h6m-6-2h6m-7 4h6m-8 6h6m-9-7h6m-8 7h6m-13-8h6m-10 8h6m-6-10h6m-9-1h6m-7 9h6m-9 0h6m-22-4h6m-7-3h6m-8 10h6m-7-8h6m-8 7h6m-8-11h6m-12 0h6m-7 12h6m-7-10h6m-7 6h6m-12-6h6m-6 11h6m-7-10h6m-7 2h6m-7 3h6m-6 4h6m-10-11h6m-8 3h6m-12-4h6m-9 3h6m-8 5h6m-7 6h6m-7-13h6m-6 10h6m-11 3h6m-7-12h6m-8 5h6m-12 3h6m-7-7h6m-7 8h6m-9 3h6m-7-8h6m-7-1h6m-6-5h6m-7 8h6m-10 5h6m-7-6h6m-7-2h6m-6 2h6m-8 3h6m-7 3h6m-7-9h6m-7 2h6m-10 5h6m-8-11h6m-8 11h6m-10-1h6m-9 4h6m-8-1h6m-9-8h6m-13 8h6m-6-13h6m-9 12h6m-7-12h6m-6 10h6m-10 3h6m-6-4h6m-11 3h6m-6-1h6m-9-8h6m-7 5h6m-6 3h6m-7-8h6m-8 4h6m-7 3h6m-7 0h6m-8 0h6m-6 3h6m-6-1h6m-6-7h6m-8 5h6m-8-6h6m-7 9h6m-6-10h6m-7 4h6m-8-2h6m-6-2h6m-6 4h6m-7 7h6m-7-6h6m-8-5h6m-8 7h6m-6-10h6m-8 1h6m-8 2h6m-7 4h6m-9 2h6m-7-2h6m-12-4h6m-6-2h6m-12 4h6m-6 1h6m-8-5h6m-6 8h6m-6 0h6m-7-5h6m-6 4h6m-9-2h6m-9 4h6m-7 1h6m-7-5h6m-7-2h6m-8 3h6m-6 1h6m-10-8h6m-7 11h6m-8-6h6m-7 7h6m-6-8h6m-8 0h6m-7-4h6m-7 7h6m-6 0h6m-7-3h6m-7 7h6m-7-7h6m-6 0h6m-7 4h6m-7-7h6m-7 4h6m-11 4h6m-6 5h6m-9 0h6m-7 0h6m-7-3h6m-7 1h6m-7-1h6m-7 2h6m-9-3h6m-7-1h6m-7 1h6m-7-6h6m-7 10h6m-7-7h6m-14-6h6m-11 0h6m-6 6h6m-6 5h6m-14-11h6m-10-1h6m-12 5h6m-7-2h6m-7 4h6m-8-5h6m1 14h6m1 2h6m-2 6h6m-6 2h6m5-2h6m-2-2h6m-1 6h6m-6-4h6m-4 4h6m-2-1h6m-6-7h6m-6 8h6m-6-4h6m-6-8h6m-4-1h6m-4 11h6m-4-9h6m-3 8h6m-6-9h6m-4 3h6m-4 0h6m-5 8h6m-5-11h6m-6 8h6m-4-8h6m-5 1h6m-5 6h6m-5-6h6m-6 3h6m-6-3h6m-4 5h6m-4-5h6m-6 1h6m-4-1h6m-5 7h6m-5 2h6m-4-10h6m-6 3h6m-5 6h6m-2 4h6m-5-4h6m-6-2h6m-5 2h6m-6-7h6m-5-3h6m-3 8h6m-5 4h6m-5-1h6m-2-6h6m-5 4h6m-6-4h6m2 4h6m-5-9h6m-5 11h6m-3 2h6m-6-1h6m-5 0h6m-6 1h6m-4-11h6m-5 10h6m-5-7h6m-4-1h6m-6 7h6m-5-10h6m-4 2h6m-5 9h6m-5 1h6m-5-12h6m1 13h6m-6-1h6m-2 0h6m-5-13h6m-5 4h6m-2 4h6m-4-4h6m-3 1h6m-6 0h6m-4 4h6m-4-1h6m-4-4h6m-5 1h6m-6-3h6m-3-1h6m-5 4h6m-6-3h6m-6 0h6m-5 3h6m-5-1h6m-5 3h6m-2-3h6m-6 0h6m-5 2h6m-1 1h6m-4-1h6m-5 1h6m-4-3h6m-6 2h6m-5 0h6m-5 7h6m-5 0h6m-5-11h6m-5 11h6m-4-6h6m-1-6h6m-4 5h6m-6 3h6m-5 2h6m-6-7h6m-5-4h6m-2 3h6m-4 0h6m-3 6h6m-3-9h6m-5 1h6m-5 11h6m-5-5h6m-6 1h6m-2-1h6m-2 0h6m-5 3h6m-6-8h6m-4-1h6m-6 8h6m-5-9h6m-4 11h6m-6-11h6m-6 7h6m-2-4h6m-3 6h6m1 0h6m-2-2h6m-6-1h6m-4 3h6m-5 0h6m-5-2h6m-6 6h6m-3-1h6m-4-5h6m0-7h6m2 13h6m-5 0h6m-4-4h6m1-1h6m-5 3h6m-5-3h6m-6-2h6m-1-2h6m-5 5h6m-3-4h6m-6 5h6m-5 4h6m-6-3h6m-5-5h6m-4-5h6m-5 7h6m-3-8h6m-6 11h6m-3-3h6m-2-5h6m-1-1h6m-3 5h6m-5 7h6m-6-14h6m-2 3h6m-3 8h6m-3 0h6m-5-1h6m-4 2h6m-4-4h6m-2-1h6m-1 4h6m-5 3h6m-5-8h6m-2 3h6m-6-1h6m-5-6h6m-2 10h6m1-4h6m-3 2h6m-3 1h6m-4-4h6m-6-7h6m10 1h6m-5-1h6m-3 8h6m-5 5h6m-6-4h6m-3-8h6m-4 2h6m1-1h6m7 5h6m-5 7h6m-6-5h6m6 4h6m-1-8h6m-4 2h6m-5-7h6m0 3h6m-4 1h6m-1 4h6m-5 4h6m-5-2h6m-2-1h6m-4 3h6m0-8h6m-4-1h6m1-3h6m-5 18h6m-6 0h6m-12 1h6m-7 3h6m-7-4h6m-17 10h6m-13-1h6m-10 1h6m-7-9h6m-8 1h6m-7-3h6m-10 0h6m-7-1h6m-7 9h6m-9 3h6m-6-7h6m-9-3h6m-8 2h6m-6-4h6m-8 1h6m-7-2h6m-8 0h6m-10 14h6m-7-6h6m-13 2h6m-6-4h6m-6-2h6m-6 6h6m-14 0h6m-10-8h6m-8 3h6m-9-4h6m-11 6h6m-10-6h6m-9 1h6m-8 7h6m-6 5h6m-6 0h6m-6-8h6m-9-2h6m-8 9h6m-11-4h6m-7-2h6m-7 3h6m-9-6h6m-6 0h6m-14-1h6m-7 8h6m-8-2h6m-6-2h6m-8 5h6m-6 0h6m-11-2h6m-8-8h6m-7-1h6m-7 13h6m-7-6h6m-9-8h6m-7 0h6m-7 13h6m-6-8h6m-12 8h6m-6-11h6m-7 8h6m-6-8h6m-8 2h6m-13 3h6m-12 2h6m-6 3h6m-11-2h6m-6-10h6m-13 0h6m-7 9h6m-6-5h6m-10 4h6m-6-7h6m-10 11h6m-7 1h6m-13-4h6m-8-4h6m-9-1h6m-17 2h6m-6-5h6m-8 5h6m-10-6h6m-9 11h6m-8-2h6m-6 1h6m-6 0h6m-9-9h6m-8 12h6m-6 1h6m-9-3h6m-12 2h6m-9-10h6m-7 4h6m-6 2h6m-9-6h6m-7 9h6m-6 0h6m-6-4h6m-12 0h6m-7 2h6m-8 2h6m-7 2h6m-10-10h6m-9 6h6m-17 2h6m-10-9h6m-11 10h6m-8-4h6m-9-1h6m-7-5h6m-8 9h6m-8-12h6m-7 11h6m-9-1h6m-6-8h6m-7 1h6m-7 3h6m-10 5h6m-7 0h6m-6-7h6m-8 9h6m-6-1h6m-8-8h6m-7 0h6m-7 3h6m-7 4h6m-6-7h6m-11 7h6m-6-4h6m-9-5h6m-9 8h6m-7-2h6m-6 2h6m-7 2h6m-9-3h6m-7 1h6m-6-10h6m-6 3h6m-9 1h6m-6 10h6m-6-11h6m-9 11h6m-6-7h6m-7 2h6m-6-9h6m-6 8h6m-7 2h6m-11-5h6m-8 1h6m-6 2h6m-10-2h6m-7 0h6m-7 1h6m-8 5h6m-8-11h6m-7 11h6m-10-8h6m-7-1h6m-8 0h6m-8 9h6m-8-7h6m-8 2h6m-7 7h6m-8-2h6m-6-5h6m-6 4h6m-7-3h6m-8-6h6m-7 9h6m-7 1h6m-6-6h6m-11 6h6m-6-10h6m-8 4h6m-7 8h6m-7-4h6m-6-5h6m-7 2h6m-6 1h6m-8-7h6m-7 7h6m-7 2h6m-8-9h6m-6 4h6m-7 0h6m-6 2h6m-7-7h6m-6 5h6m-8 6h6m-7-10h6m-8 4h6m-7 2h6m-7-2h6m-9 3h6m-7-7h6m-7 5h6m-8 4h6m-8-3h6m-9-7h6m-6 11h6m-7-5h6m-7 1h6m-9 7h6m-8-9h6m-7 1h6m-6-3h6m-8 4h6m-8-4h6m-8 6h6m-6-8h6m-7 12h6m-7-9h6m-7 6h6m-12-9h6m-9 11h6m-11-10h6m-6 1h6m11 16h6m3 1h6m-3-2h6m-5-1h6m-6 10h6m-6-5h6m-5 2h6m-6 3h6m-3-11h6m-1 9h6m-4-6h6m-4 4h6m-6 6h6m-5-2h6m-6-8h6m-5 0h6m-6 1h6m-3 3h6m-4 5h6m-4-13h6m-5 5h6m-6 2h6m-5 7h6m1-3h6m-4-5h6m-4-1h6m-4-1h6m-5-1h6m1-3h6m-4 9h6m-5 1h6m-5-8h6m-5 8h6m-5-7h6m-1 2h6m-4-3h6m-6 3h6m-5 4h6m-3 0h6m-4 2h6m-4-8h6m-6-1h6m-1 0h6m-2 12h6m-3-9h6m-6 1h6m-4-3h6m-5 1h6m-5-4h6m-6 0h6m-5 2h6m-6 6h6m-6 0h6m-6 1h6m-3-1h6m-4 1h6m-6 5h6m-3-9h6m-5 8h6m-5-1h6m-3-2h6m-5-2h6m0-3h6m-4 1h6m-3-1h6m-4 3h6m-5-2h6m-6 2h6m-6-4h6m-5-3h6m-4 0h6m-6 6h6m-5-6h6m-4 12h6m-6-8h6m-4 2h6m-1-2h6m-5 7h6m-5-9h6m-4 4h6m-4-5h6m-6 4h6m-3-3h6m-6 11h6m-6-14h6m-4 6h6m0-6h6m-3 13h6m-4-8h6m-5 3h6m-3-4h6m-5 10h6m-6-7h6m-6-3h6m-6 6h6m-5-5h6m-4 3h6m-3-2h6m-6 0h6m-5-6h6m-2 13h6m-5-11h6m-5 11h6m-6-8h6m-4 7h6m-6-10h6m-3 0h6m-5 6h6m-4-8h6m-5 4h6m-5-1h6m-3 0h6m-4 7h6m-4 4h6m-5-6h6m-5-4h6m-5-1h6m-5 11h6m-6-7h6m-3 2h6m-4-7h6m-3 3h6m-6 7h6m-4-6h6m-5 2h6m-6 4h6m-5 1h6m0-5h6m-5 2h6m-5-6h6m-6 2h6m-4-1h6m-4 2h6m-3-3h6m-5-4h6m26 4h6m-5 5h6m-4-9h6m-5 1h6m-6 12h6m-5-9h6m-5 9h6m0-10h6m-1 2h6m-5 6h6m-5-4h6m-5-4h6m-3 11h6m-4-7h6m-5 6h6m-5-3h6m-4 3h6m-5-11h6m0 1h6m-6-2h6m-1 6h6m-3-2h6m-2-2h6m-5 6h6m3 1h6m1-5h6m-4 8h6m0-3h6m-5-8h6m-1 2h6m2-3h6m-4 1h6m-6 10h6m-4-5h6m-4-7h6m-4 11h6m-5 0h6m-4-10h6m-6 12h6m-5 1h6m-6-12h6m0 12h6m-3-3h6m-5 2h6m-5 0h6m-6-1h6m-5-2h6m-6-3h6m-5 5h6m-4 1h6m-5-9h6m-6 3h6m-4-2h6m-1 3h6m-5 2h6m-4-9h6m-5 6h6m-4 1h6m-5-4h6m-6-4h6m-3 0h6m-6 7h6m-5 7h6m-3-4h6m-5-3h6m-5-1h6m-6 7h6m-6-5h6m5-4h6m-3 4h6m2 0h6m-2 19h6m-7-4h6m-7-1h6m-12-1h6m-10 2h6m-7-4h6m-7 9h6m-7-6h6m-10-5h6m-7 8h6m-8 0h6m-7-5h6m-7 5h6m-6-1h6m-6-9h6m-11 14h6m-7-3h6m-7-5h6m-7 1h6m-7-3h6m-7 8h6m-7-4h6m-7-5h6m-7-3h6m-7 8h6m-7-8h6m-7 8h6m-9 3h6m-7 1h6m-7-3h6m-10 4h6m-7-9h6m-8 10h6m-6-7h6m-6 6h6m-12-13h6m-8 3h6m-8 0h6m-6 6h6m-9-2h6m-8-4h6m-9 1h6m-7 6h6m-7-3h6m-7-5h6m-6 3h6m-6 6h6m-10-8h6m-7-2h6m-8 10h6m-7-6h6m-6 4h6m-7 4h6m-10-13h6m-7 13h6m-7-4h6m-9-3h6m-11-1h6m-7 2h6m-10 1h6m-6-1h6m-9 4h6m-7-2h6m-17-9h6m-6 8h6m-7-8h6m-6 6h6m-13-4h6m-7 6h6m-12 1h6m-11-3h6m-11 5h6m-7-5h6m-11 0h6m-7 7h6m-6-5h6m-9-3h6m-9 5h6m-6-10h6m-6 10h6m-6-7h6m-10 10h6m-7-13h6m-10 8h6m-8 1h6m-9-2h6m-51-4h6m-8 9h6m-7-1h6m-6 1h6m-8-11h6m-6 8h6m-9 4h6m-7-10h6m-8 10h6m-6-2h6m-7-4h6m-8 2h6m-7-7h6m-6 8h6m-7-7h6m-6-2h6m-8 7h6m-6-5h6m-7 7h6m-7-8h6m-7 1h6m-7 4h6m-9-7h6m-10 8h6m-7-2h6m-7-3h6m-6 11h6m-7-14h6m-6 7h6m-10-7h6m-7 5h6m-11 6h6m-7-1h6m-7-9h6m-7 8h6m-7-8h6m-7 6h6m-7-2h6m-7 4h6m-8-2h6m-7 1h6m-7 1h6m-7-2h6m-8 5h6m-8-2h6m-6 3h6m-8 1h6m-7 0h6m-10-1h6m-6 0h6m-7-12h6m-10 4h6m-6-2h6m-6 10h6m-9-6h6m-6 6h6m-7-9h6m-6 10h6m-6-6h6m-7-3h6m-9 8h6m-7-12h6m-8 1h6m-7-2h6m-13 5h6m-11-4h6m-8 2h6m-12 2h6m-9-3h6m-7 3h6m-8 5h6m-8-6h6m-7 2h6m-7-6h6m-10 10h6m-7-8h6m-12-2h6m-8 4h6m-10 4h6m-7 4h6m-7 1h6m-7-4h6m-7-6h6m-12-1h6m-9 2h6m-7 5h6m-8-6h6m-6 0h6m-7 4h6m-6 3h6m-7-5h6m-10 8h6m-8-6h6m-6-2h6m-7 8h6m-8-10h6m-9 5h6m-9-3h6m-13 0h6m-6-4h6m-7 8h6m-8 0h6m-8 5h6m-7-11h6m-6 3h6m-11-3h6m-9 5h6m-10 4h6m-6-5h6m-8 1h6m-6 2h6m-6 4h6m-7-13h6m-9 4h6m-7-1h6m-11-4h6m-8 0h6m17 25h6m-2 4h6m-5-6h6m-6-6h6m-3-1h6m0-1h6m-5 8h6m-6 3h6m-5 0h6m-6 3h6m-5-9h6m-5 5h6m-2 3h6m-6-5h6m-3-4h6m2-2h6m-6 9h6m-5-10h6m-1 0h6m-3-1h6m-6 6h6m-3-3h6m-5 2h6m-5 5h6m-5-1h6m-6-8h6m-4 4h6m-4-4h6m-6 10h6m-5-1h6m-5-7h6m-1 2h6m-4-2h6m-2 7h6m-5-5h6m-6-3h6m-4 2h6m-5 7h6m-6-10h6m-5 7h6m-5-6h6m0 11h6m-4-7h6m1 7h6m0-5h6m-4 0h6m-4-5h6m-6-2h6m-4 5h6m-5-1h6m-5 5h6m-6-3h6m-4-3h6m-1 2h6m-1 5h6m-3-2h6m-3-4h6m-6 7h6m-6-11h6m-4 9h6m-6-9h6m-1 0h6m-6 7h6m-5 0h6m-3 2h6m-4 4h6m-3-12h6m-2 7h6m-1 0h6m-3-1h6m-4 5h6m-6-11h6m-1 4h6m-5 4h6m-6-9h6m-3 0h6m-2-1h6m-4 14h6m-4-2h6m-6 2h6m-3-2h6m-5-12h6m-5 4h6m-6-3h6m-5 2h6m-5-1h6m36 9h6m-5 0h6m-3 2h6m-5-8h6m1-5h6m-4 13h6m-5-1h6m-5-8h6m-5 0h6m-6 1h6m-5 3h6m-5-4h6m-6 5h6m-5 2h6m-4-8h6m1 11h6m-5-14h6m-5 8h6m-5-8h6m-6 6h6m-5-1h6m-4 1h6m-5 0h6m-5 2h6m-5 6h6m-5-3h6m-4-9h6m0 5h6m-4 1h6m-5 4h6m-3 1h6m-4-6h6m-3 4h6m-6-3h6m-6-6h6m-4 11h6m-5-5h6m-6-7h6m1 6h6m-6 3h6m3-2h6m-5-8h6m-4 11h6m-5 0h6m-2-8h6m-2-2h6m-6 9h6m-6-4h6m-4-5h6m-4 3h6m-4 6h6m-5-3h6m-5 3h6m-6 1h6m-4 3h6m-4-10h6m-2 5h6m-5 3h6m-6-10h6m-3 8h6m-6-4h6m-4 6h6m-2 0h6m-1-3h6m-5 4h6m-3 1h6m-3-3h6m-5-9h6m-1 10h6m-6-4h6m-4 5h6m-4-1h6m-5-12h6m-5 2h6m-4 5h6m-6-6h6m-4 5h6m-5 1h6m-6-5h6m-4 10h6m-4-9h6m-6 9h6m-4-2h6m-6 0h6m-1-8h6m-6-1h6m-5 11h6m-5-1h6m-4-10h6m-6 13h6m-5-11h6m-4-1h6m-3 7h6m-5-9h6m-4 10h6m-5-9h6m-6 11h6m-3-10h6m-5 10h6m-6-1h6m-5-4h6m-3-2h6m-7 21h6m-14-1h6m-6 1h6m-6-9h6m-7 7h6m-6-1h6m-7 1h6m-8 2h6m-6-11h6m-7 11h6m-8-6h6m-12 0h6m-7 3h6m-10-3h6m-7 3h6m-6-2h6m-7 5h6m-6 3h6m-6-8h6m-9-6h6m-7 10h6m-9-6h6m-10-3h6m-6 10h6m-6-2h6m-9-3h6m-6 0h6m-10 3h6m-7 3h6m-6-11h6m-9 2h6m-9 0h6m-8 1h6m-6-3h6m-6 8h6m-7-6h6m-9 10h6m-7-1h6m-11 0h6m-6-12h6m-11 7h6m-6 3h6m-7 0h6m-8-2h6m-7-8h6m-7 1h6m-6 9h6m-8-3h6m-7 5h6m-7-11h6m-8-1h6m-13 11h6m-7-5h6m-8 7h6m-6-4h6m-6 5h6m-8-2h6m-6-9h6m-8 4h6m-8-1h6m-11 0h6m-8 2h6m-7 5h6m-7-13h6m-6 9h6m-7-4h6m-6 6h6m-8 1h6m-9-5h6m-8 3h6m-7-3h6m-6 6h6m-7-5h6m-7-5h6m-7-3h6m-7 4h6m-6-2h6m-8 6h6m-7 4h6m-10 2h6m-6-14h6m-10 10h6m-6 4h6m-6-6h6m-7-3h6m-7-5h6m-7 1h6m-7 12h6m-8-8h6m-9 8h6m-6 1h6m-8-14h6m-8 11h6m-10-10h6m-8 12h6m-9-5h6m-7-4h6m-14 3h6m-8 3h6m-6-5h6m-8-5h6m-7 0h6m-6 9h6m-7-4h6m-6-5h6m-9 9h6m-9-9h6m-14 8h6m-6-6h6m-6 12h6m-7-9h6m-10 3h6m-6-2h6m-6 8h6m-10-5h6m-9 3h6m-9 0h6m-31 0h6m-7-3h6m-9-8h6m-8 0h6m-9-1h6m-8 12h6m-7-11h6m-16 0h6m-7 7h6m-7-7h6m-8 7h6m-7 1h6m-9-5h6m-9 2h6m-10-1h6m-7-2h6m-8-3h6m-7 1h6m-10-1h6m-10 6h6m-7 3h6m-7-7h6m-9 11h6m-7-4h6m-6 1h6m-8-5h6m-7-5h6m-8 6h6m-7 4h6m-8 2h6m-15-7h6m-6-4h6m-7 13h6m-7-13h6m-9 9h6m-7-2h6m-6-5h6m-10 6h6m-6 2h6m-7-1h6m-9-4h6m-8 4h6m-10-7h6m-6 5h6m-13 0h6m-7-5h6m-9 7h6m-7-2h6m-9-6h6m-6 5h6m-6-2h6m-15 4h6m-7-8h6m-6 2h6m-6-2h6m-9 10h6m-6 0h6m-7-11h6m-7 9h6m-7-7h6m-6 10h6m-9-8h6m-7 8h6m-6 1h6m-6-8h6m-6 1h6m-7-1h6m-7 3h6m-7 5h6m-7 1h6m-8-6h6m-8 2h6m-11-3h6m-7-6h6m-7 6h6m-9 3h6m-11-1h6m-9 3h6m-7 1h6m-12-10h6m-7 6h6m-6 1h6m-7-7h6m-7-2h6m-10 2h6m-7 2h6m-12 5h6m-6-5h6m-7-4h6m0 14h6m-2 3h6m-6 3h6m-5 1h6m-6-3h6m-5 3h6m0 0h6m-6-4h6m-1-3h6m-4 2h6m-4 1h6m-3 1h6m0 10h6m-5-11h6m-3 1h6m-6-2h6m-4 7h6m-5 3h6m-5 1h6m-5-13h6m-4 12h6m-5-12h6m-4 7h6m-5-6h6m-5 3h6m-5 3h6m-3 3h6m-5-2h6m-3 0h6m-5-5h6m-6 11h6m-5-1h6m-5 0h6m2 0h6m10-7h6m-3 8h6m-3-2h6m-1-2h6m-5-2h6m-4-5h6m-4 8h6m-6-7h6m-6-1h6m-4 7h6m-5-2h6m-5-8h6m-3 5h6m-5 2h6m-2 4h6m-5 0h6m-3 1h6m-5 2h6m-6-6h6m-5-5h6m-5-2h6m-5 13h6m-3-2h6m-6-9h6m-2-1h6m-3 8h6m-2 3h6m-5 1h6m-3-7h6m-6 5h6m-3-1h6m-4 2h6m-6-9h6m0 1h6m1-4h6m-4 12h6m-2-12h6m-3-1h6m-4 10h6m-4-8h6m-6 11h6m-5 0h6m-6-12h6m-3 1h6m-3 0h6m-5 1h6m-6 9h6m-4-11h6m-2 10h6m-6-2h6m-4-5h6m4 5h6m-4-3h6m-1-2h6m-3 9h6m-5-7h6m-4 0h6m-5 8h6m-3-13h6m-6 12h6m-5-9h6m-4 3h6m5-4h6m-6-3h6m-5 0h6m-4 1h6m-4 7h6m-5-5h6m-5 7h6m-5-8h6m-2 4h6m11 2h6m-5-4h6m-3 3h6m-5-7h6m-6 4h6m-2 7h6m-6-5h6m2-1h6m-6-4h6m6 11h6m-4 1h6m-2 1h6m-6-5h6m-6-7h6m-5 3h6m-2-3h6m-5 12h6m-5-7h6m-5-6h6m-5-1h6m-5 12h6m-4-7h6m-5-5h6m-2 11h6m-5 3h6m-6-7h6m-5-4h6m-5 7h6m-6-8h6m-4 8h6m-4-4h6m-5 5h6m-4-5h6m-5-3h6m-5 0h6m-4 4h6m-4-4h6m-6 7h6m0-10h6m-6 6h6m-5 7h6m-2-3h6m-4-9h6m-3 12h6m-3-10h6m-5 5h6m-3 0h6m-3 6h6m-5-12h6m-6-2h6m-4 5h6m-2-4h6m-4 8h6m-5-3h6m-4-3h6m0 1h6m-5 8h6m-6-2h6m-2 4h6m-3-1h6m1-6h6m2 6h6m-5-2h6m-6 5h6m-8 8h6m-7-8h6m-11 5h6m-9 0h6m-9 6h6m-7 0h6m-11-11h6m-9 10h6m-7-1h6m-13-9h6m-8 3h6m-8 4h6m-10-3h6m-11-2h6m-10 6h6m-7 2h6m-7-9h6m-6 0h6m-11-1h6m-6 13h6m-8-4h6m-9-1h6m-8 0h6m-6-5h6m-9 3h6m-7 5h6m-8-3h6m-7-1h6m-7-5h6m-13-2h6m-11 13h6m-7-4h6m-10 1h6m-10-9h6m-7 10h6m-6-8h6m-7 0h6m-8 9h6m-14-10h6m-7-3h6m-14 11h6m-7-11h6m-10 4h6m-8 10h6m-8-8h6m-9 5h6m-9-10h6m-9 4h6m-16 6h6m-19-4h6m-10 6h6m-8-12h6m-9 12h6m-13-13h6m-6 9h6m-7-3h6m-12 6h6m-20 2h6m-7-13h6m-13 6h6m-12 7h6m-8-7h6m-10 5h6m-6 0h6m-12 1h6m-9-2h6m-7-5h6m-7 3h6m-7 5h6m-6-2h6m-8-2h6m-6 0h6m-7 1h6m-7-9h6m-7 0h6m-7-2h6m-9 1h6m-6 10h6m-8-2h6m-7 2h6m-6-7h6m-8-2h6m-13 9h6m-8-1h6m-10 2h6m-9-5h6m-8-4h6m-7-1h6m-10 3h6m-6 9h6m-7-2h6m-10-10h6m-8 7h6m-7-4h6m-8 0h6m-13 1h6m-7 8h6m-6-14h6m-6 13h6m-9-7h6m-7 4h6m-7-4h6m-7-2h6m-6 6h6m-8-2h6m-6 2h6m-9 0h6m-7-10h6m-8 13h6m-6-5h6m-8 6h6m-6-11h6m-11 11h6m-7-2h6m-7-4h6m-16-3h6m-7 1h6m-6-5h6m-7 3h6m-6 6h6m-6-2h6m-6-2h6m-7 0h6m-10 8h6m-9-4h6m-6-4h6m-9 6h6m-6-4h6m-10 2h6m-6 4h6m-6-14h6m-7 1h6m-10 8h6m-13 1h6m-6-9h6m-7 12h6m-7 1h6m-7 0h6m-9 0h6m-7-8h6m-6 6h6m-8 1h6m-6-4h6m-9 0h6m-7-9h6m-12 4h6m-7-1h6m-6 2h6m-7-5h6m-7 1h6m-6 5h6m-9-3h6m-9 1h6m-7-3h6m-8 3h6m-6-4h6m-7 9h6m-7-6h6m-10 6h6m-9-1h6m-7-4h6m-7 5h6m-7-8h6m-6 4h6m0 14h6m-2 9h6m-6-5h6m-3-1h6m-4-4h6m-6-3h6m-4 6h6m-5 4h6m-5 2h6m-5-7h6m-3-3h6m-6 6h6m-4-2h6m-6-1h6m-2 1h6m-5-3h6m-5 0h6m-5-3h6m-5 6h6m-5 6h6m-5-4h6m-1-4h6m-6 2h6m-3 1h6m-6-5h6m-2 10h6m-4-3h6m-5-3h6m-5 4h6m-6-7h6m-5 4h6m0-7h6m-3 5h6m-4 2h6m-5-5h6m-6 9h6m-4-10h6m-6 1h6m-3 5h6m-6 6h6m-5-2h6m-5-3h6m-6-5h6m-5 0h6m-5 9h6m-4-5h6m-6 2h6m-3 2h6m-4 1h6m-6 0h6m-2-5h6m-2 4h6m-5-9h6m-6 8h6m-3-3h6m-5-5h6m-6 3h6m-2 1h6m-6 5h6m-3-8h6m-6-1h6m-3 12h6m-5-2h6m-5-5h6m-5 0h6m-6 5h6m-4 0h6m0-2h6m-2 2h6m-5-8h6m-5-2h6m-6 3h6m-6 5h6m-4-3h6m-6-5h6m-6 6h6m-6-3h6m-4-3h6m-1 9h6m-1 3h6m-5 0h6m-4-4h6m-6 1h6m-3-7h6m2-3h6m-5 9h6m-4 1h6m-6-7h6m-3 2h6m-5 3h6m8-7h6m-6 7h6m-4-8h6m-6 8h6m-4 2h6m-6-8h6m-6 10h6m-2-6h6m-3 2h6m-1 1h6m-5-3h6m-3 7h6m-2-5h6m1-3h6m-3 8h6m-6-12h6m-5 6h6m-5-3h6m-6-1h6m-3 0h6m-4-3h6m0 1h6m-4 6h6m-5 6h6m-2-1h6m-6-11h6m-5 6h6m-5-2h6m-6-1h6m-5 9h6m-3-5h6m-5 0h6m-2 3h6m11-11h6m-5 1h6m-4 6h6m-1-5h6m-5 11h6m-5-8h6m-4 0h6m-1 5h6m-3-7h6m-2 10h6m-5-2h6m-4-7h6m-3-4h6m-4 3h6m-4-4h6m-4 13h6m-2-7h6m-2 5h6m-5 3h6m-2-12h6m-6 3h6m-3 9h6m-5-13h6m-5 4h6m-5 6h6m-5 0h6m-5-10h6m7 11h6m-3-6h6m-5-6h6m-4 9h6m-5 1h6m-4-7h6m-6 11h6m-4 0h6m-6-6h6m-5-5h6m-6 8h6m-6 1h6m-2 1h6m-6-8h6m-6-5h6m-5 6h6m-5-5h6m-3 5h6m-4-1h6m-4 3h6m-5 5h6m-6-7h6m-4 1h6m-4 3h6m-3-6h6m-5 0h6m-5-3h6m-4 0h6m-6 8h6m-5-4h6m-4 0h6m-5-5h6m-4 9h6m-5-6h6m-46 12h6m-9 1h6m-11 2h6m-10 4h6m-8-4h6m-8 0h6m-9 6h6m-12-3h6m-7 5h6m-7-9h6m-6 8h6m-7-5h6m-11 6h6m-7-10h6m-8 1h6m-9 10h6m-13 2h6m-6-10h6m-11 10h6m-9-2h6m-8-5h6m-11-5h6m-8 7h6m-14 1h6m-14-9h6m-8 5h6m-13 5h6m-8-9h6m-8 12h6m-7-13h6m-6 4h6m-14-4h6m-8 10h6m-6-11h6m-14 3h6m-6-2h6m-18 9h6m-9-7h6m-7 7h6m-6 1h6m-13 2h6m-10-13h6m-11 0h6m-10 11h6m-9-3h6m-10 3h6m-9 2h6m-7 1h6m-7 0h6m-6-8h6m-12-2h6m-13 3h6m-6-5h6m-6 1h6m-6 5h6m-7-7h6m-6 11h6m-10 1h6m-8 0h6m-12 1h6m-7-12h6m-7-1h6m-9 12h6m-7-5h6m-7-6h6m-6 10h6m-9-3h6m-6-6h6m-8 6h6m-7-7h6m-8-1h6m-8-1h6m-8 3h6m-9 6h6m-7 2h6m-7-10h6m-8 13h6m-8-8h6m-7-3h6m-9 5h6m-6 1h6m-8 1h6m-7-10h6m-6 5h6m-8-4h6m-9 1h6m-7-2h6m-7 7h6m-8 7h6m-7-3h6m-8-5h6m-9 5h6m-6 0h6m-13 0h6m-9-2h6m-10-9h6m-7 5h6m-7 5h6m-10-9h6m-6 6h6m-7-3h6m-11-3h6m-14 1h6m-6 7h6m-9-6h6m-10 6h6m-7 0h6m-8-8h6m-13 7h6m-7 4h6m-10-12h6m-6 10h6m-7-5h6m-14-2h6m-9 10h6m-7-2h6m-6-8h6m-12 0h6m7 15h6m-6-1h6m6 1h6m-6-3h6m-1 8h6m-4 6h6m-6-9h6m-5-2h6m-4 11h6m-4-3h6m-4-3h6m-3 1h6m-6 2h6m-6 0h6m-4-4h6m-5 6h6m-6-11h6m4 1h6m-5 4h6m2 5h6m-4-5h6m0 0h6m-6-4h6m-1-1h6m-6 11h6m-5-7h6m-4 8h6m-6 0h6m-5-14h6m-5 2h6m-5 7h6m-5 5h6m-6-13h6m-6 6h6m-5 2h6m-4-9h6m-5 2h6m-5 4h6m-5-3h6m4-1h6m-6 8h6m-6-9h6m-5 12h6m-3-9h6m-5 7h6m-4-11h6m-6 4h6m-3-1h6m-6-1h6m-3 2h6m-1-1h6m-5 5h6m-5 3h6m-5-11h6m1 0h6m-6 6h6m-5-6h6m-5 13h6m-2-6h6m-4 5h6m1-4h6m-4 5h6m3-1h6m-5-4h6m-5 6h6m6-12h6m-4-1h6m-2 1h6m-6 5h6m1-5h6m-5 2h6m-2-4h6m-1 7h6m-4-3h6m-6 1h6m-1-3h6m-5 12h6m-4-2h6m-2 1h6m-2 1h6m-2-12h6m-2 9h6m-4-7h6m-5 2h6m-1 1h6m-5 4h6m4-9h6m-6 1h6m-6 0h6m-1 4h6m3-1h6m1-3h6m-3 1h6m-5-1h6m3-3h6m0 1h6m-97 23h6m-8-8h6m-8 6h6m-8-3h6m-6-2h6m-8 1h6m-10 7h6m-11-3h6m-7-6h6m-7 1h6m-6 3h6m-20 3h6m-9 0h6m-12-1h6m-12-3h6m-24-4h6m-7 14h6m-10-12h6m-9 2h6m-7-4h6m-6 3h6m-8 6h6m-8 2h6m-9-3h6m-7 2h6m-7-5h6m-7-2h6m-6 9h6m-8-8h6m-7 0h6m-7 8h6m-6-8h6m-6 7h6m-8 0h6m-11 3h6m-9-4h6m-9 4h6m-7-6h6m-6-4h6m-7 6h6m-12-5h6m-6 3h6m-7-7h6m-8 9h6m-6-1h6m-8 0h6m-7 4h6m-6-12h6m-8-1h6m-6 2h6m-7 7h6m-8-6h6m-6 9h6m-7-11h6m-7 8h6m-11 5h6m-10-7h6m-6-3h6m-11 7h6m-8 3h6m-6-4h6m-8-3h6m-14-2h6m-9 0h6m-6 7h6m-12-6h6m-9-2h6m-8-1h6m15 20h6m-3 0h6m-3-4h6m0 3h6m-5-7h6m-3 12h6m-6-6h6m-4 1h6m-4 4h6m-5-4h6m-4 0h6m-5-6h6m-6 11h6m-4-2h6m-4-9h6m-6 11h6m-6-7h6m-5 7h6m-4 1h6m-6-1h6m-5-2h6m-2 3h6m-6-1h6m-2-1h6m-5 3h6m-6 0h6m-6-5h6m-5-5h6m-5-4h6m-5 0h6m-2 10h6m-5-10h6m-4 13h6m-6-7h6m-2 2h6m-6-2h6m-6 4h6m-5 2h6m-4 0h6m-6-6h6m-3-3h6m-3-3h6m-4 5h6m-5 8h6m-6-13h6m-5 8h6m-6 3h6m-6 3h6m-5-10h6m-5 0h6m-5 3h6m-6-7h6m-3 1h6m-3 3h6m-6 8h6m-6-4h6m0-4h6m-4 8h6m-5-3h6m-3 2h6m3-10h6m-6 1h6m-2 2h6m-3 9h6m0-2h6m-4-9h6m0-2h6m-5 6h6m-18 10h6m-12 9h6m-15 0h6m-7 0h6m-11-9h6m-11 10h6m-6 1h6m-7-6h6m-7 8h6m-11-11h6m-9 4h6m-8-7h6m-9 13h6m-6-9h6m-7 2h6m-6 7h6m-7 1h6m-8-7h6m-7 2h6m-7-2h6m-11 7h6m-7-1h6m-9-11h6m-8 4h6m-6 0h6m-7-4h6m-7 8h6m-6-3h6m-7 4h6m-6-10h6m-7 11h6m-7-1h6m-6-7h6m-9 5h6m-9-3h6m-7 8h6m-11-2h6m-6-9h6m-7 9h6m-8-8h6m-6 7h6m-13-4h6m-8-2h6m-9-5h6m-7 5h6m-6 4h6m-7-8h6m-7 9h6m-8-3h6m-7-6h6m-6 12h6m-7-12h6m-7 10h6m-7-4h6m-8-6h6m3 18h6m0 0h6m-5 3h6m-3-6h6m-6 7h6m-5-5h6m-6-3h6m-4 5h6m-6 6h6m-2-2h6m-3 1h6m-5 2h6m-5-5h6m-4 3h6m-5-9h6m-6 12h6m-5-9h6m-3-3h6m-5 12h6m-6-10h6m-4-3h6m-4 11h6m-6 2h6m0-1h6m-3-8h6m-2 8h6m-5 1h6m-6-4h6m-4 2h6m-6 3h6m-6-9h6m-6 9h6m-5-5h6m-3-6h6m-3-2h6m-5 13h6m-2-8h6m-3 3h6m-4 2h6m-4 1h6m-6-1h6m-6 4h6m-7 1h6m-11 9h6m-12 3h6m-10-3h6m-7-6h6m-6 0h6m-6 3h6m-6 6h6m-6-1h6m-9-9h6m-12 9h6m-12-5h6m-7-5h6m-7 11h6m-13-6h6m-6 2h6m-14-6h6m-7-3h6m-8 13h6m-8 0h6m-7-7h6m-6 2h6m-7-4h6m-7 4h6m-4 12h6m3-4h6m-3 6h6m0-1h6m-6 3h6m-3-9h6m-5 8h6m-6-5h6m-2 7h6m-5 3h6m-6-1h6m-3-5h6m-6 6h6m-3-6h6m-5-5h6m-2 3h6m-8 15h6m-9 6h6m-12-3h6m-10-6h6m-7-2h6m-6 7h6m-11-6h6m-10 6h6m-9 1h6m-7-7h6m-7 10h6m-7 0h6" stroke="#f08427" stroke-width="6" stroke-linecap="butt" fill="none"/>
<rect x="171.40" y="508.80" width="123.90" height="123.30" fill="none" stroke="#6d6e71" stroke-width="0.9"/>
<ellipse cx="285.02" cy="527.61" rx="8.99" ry="12.79" fill="none" stroke="#4a4a4a" stroke-width="0.75"/>
<ellipse cx="264.00" cy="538.03" rx="9.09" ry="9.86" fill="none" stroke="#4a4a4a" stroke-width="0.75"/>
<ellipse cx="266.48" cy="563.97" rx="11.75" ry="14.61" fill="none" stroke="#4a4a4a" stroke-width="0.75"/>
<text x="267.03" y="521.88" font-size="9.4" text-anchor="middle" font-weight="normal" fill="#231f20"  stroke="#231f20" stroke-width="0.1">C3</text>
<text x="245.85" y="537.04" font-size="9.4" text-anchor="middle" font-weight="normal" fill="#231f20"  stroke="#231f20" stroke-width="0.1">C2</text>
<text x="285.20" y="557.87" font-size="9.4" text-anchor="middle" font-weight="normal" fill="#231f20"  stroke="#231f20" stroke-width="0.1">C1</text>
<text x="293.10" y="629.10" font-size="9.3" text-anchor="end" font-weight="normal" fill="#231f20"  stroke="#231f20" stroke-width="0.1">CD8<tspan font-size="6.32" dy="-4.09">+</tspan><tspan dy="4.09">​</tspan> T cells</text>
<text transform="translate(10.20,571.50) rotate(-90)" font-size="9" text-anchor="middle" font-weight="normal" fill="#231f20"  stroke="#231f20" stroke-width="0.1">UMAP 2</text>
<text transform="translate(166.40,571.50) rotate(-90)" font-size="9" text-anchor="middle" font-weight="normal" fill="#231f20"  stroke="#231f20" stroke-width="0.1">UMAP 2</text>
<text x="77.10" y="643.00" font-size="9" text-anchor="middle" font-weight="normal" fill="#231f20"  stroke="#231f20" stroke-width="0.1">UMAP 1</text>
<text x="233.20" y="643.00" font-size="9" text-anchor="middle" font-weight="normal" fill="#231f20"  stroke="#231f20" stroke-width="0.1">UMAP 1</text>
<rect x="300.90" y="510.20" width="15.10" height="13.10" fill="#1f70b1" stroke="#3a3a3a" stroke-width="0.5" />
<rect x="300.90" y="529.20" width="15.10" height="12.50" fill="#f28125" stroke="#3a3a3a" stroke-width="0.5" />
<text x="319.90" y="520.20" font-size="9.4" text-anchor="start" font-weight="normal" fill="#231f20"  stroke="#231f20" stroke-width="0.1">Virgin</text>
<text x="319.90" y="538.80" font-size="9.4" text-anchor="start" font-weight="normal" fill="#231f20"  stroke="#231f20" stroke-width="0.1">d28-inv</text>
<path transform="scale(0.2)" d="M163 3326h6m-32 3h6m-21 14h6m16-4h6m-3 4h6m0-1h6m5-2h6m15 1h6m-4-9h6m-1 3h6m-4-1h6m-6 1h6m-5 7h6m-3-7h6m-4 4h6m-5 5h6m-2-8h6m11 0h6m39 22h6m-31-3h6m-9-9h6m-7 2h6m-7 7h6m-19-1h6m-11 2h6m-14-5h6m-11-5h6m-6 7h6m-7-5h6m-20 5h6m-6-8h6m-12 0h6m-6 7h6m-13-2h6m-22 1h6m-22 3h6m-8-3h6m-11 5h6m-12-8h6m-7 6h6m-7 5h6m-10-2h6m-6-5h6m-10-2h6m-22 5h6m-17-3h6m-12 0h6m-1 11h6m8-1h6m-4 6h6m-4 4h6m-6-7h6m0-1h6m-5-3h6m-5 4h6m-4 7h6m-4-7h6m1 6h6m-6-8h6m2 4h6m7 6h6m0-10h6m0 7h6m1-7h6m0 2h6m3-5h6m-4 5h6m-3-2h6m-1-3h6m-6 9h6m1-6h6m13 8h6m-2-1h6m-6-6h6m-2-1h6m-5-1h6m-5 2h6m-1-2h6m-6-2h6m-5 5h6m5-3h6m2-1h6m-6 5h6m-2 1h6m9 16h6m-8-7h6m-13 0h6m-22 6h6m-6 6h6m-7-6h6m-14 3h6m-14-7h6m-6 1h6m-7-2h6m-6 3h6m-11 5h6m-6-9h6m-8 6h6m-9-7h6m-7 8h6m-7 3h6m-15-11h6m-9 3h6m-6 6h6m-9-8h6m-13-1h6m-9 14h6m-11-8h6m-11 2h6m-19-6h6m-7 2h6m-16 2h6m-6 6h6m-10-7h6m-7-2h6m-18 6h6m-11-2h6m-7-1h6m-8 3h6m-14 0h6m-10 2h6m-15-1h6m-17 1h6m-10-2h6m1 7h6m10 2h6m-4 11h6m17-11h6m5 9h6m4 0h6m-6-7h6m-5-3h6m-1 3h6m16 1h6m0-3h6m2 10h6m0-9h6m-4 1h6m6 0h6m-5 4h6m3-3h6m1-3h6m-13 19h6m-46-7h6m-31 0h6m-46 13h6m-19-12h6m11 24h6m58-1h6m2-3h6m-3 20h6m-93 17h6m24-2h6m-18 22h6m27 1h6m7-4h6m-44 22h6m30 11h6m103 16h6m-20 9h6m-13-4h6m-30 4h6m-6 0h6m-70-8h6m-7 5h6m-32 2h6m-3 16h6m29 0h6m3-3h6m32 0h6m-5-3h6m24 6h6m15-1h6m-25 11h6m-20-6h6m-11 6h6m-22 3h6m-18-10h6m-27 4h6m-8 2h6m-18 3h6m-18 7h6m46 10h6m-2-9h6m5-1h6m-28 25h6m-18-1h6m-15 1h6m-11 1h6m-7-4h6m-7-4h6m-12-1h6m-17-1h6m-6-1h6m-27-1h6m7 25h6m-4 2h6m-2-10h6m-1-2h6m-6 8h6m7-5h6m-2 4h6m-5 4h6m5-9h6m-3 2h6m-5-3h6m14 10h6m-5 1h6m-1-4h6m2 15h6m-27 0h6m-6-1h6m-7 3h6m-8 3h6m-13-2h6m-6-12h6m-20 7h6m-10-6h6m-8 4h6m-8 0h6m-7 3h6m-6-3h6m-22-1h6m-13 0h6m-10 20h6m-1-6h6m-4 8h6m6-9h6m8 4h6m-6-4h6m-2 6h6m-4-4h6m-2 10h6m-3-14h6m-1 6h6m-5-2h6m-1 1h6m-6 8h6m15 9h6m-16 1h6m-26 2h6m-7-7h6m-6 4h6m-16 0h6m-21 3h6m-19-1h6m-12-8h6m5 14h6m-3 2h6m3 1h6m-1 5h6m-4-5h6m-3 0h6m-5 5h6m-2 2h6m-6-10h6m-3 0h6m12 1h6m16 2h6m-46 15h6m-19-3h6" stroke="#f88e52" stroke-width="6" stroke-linecap="butt" fill="none"/>
<path transform="scale(0.2)" d="M170 3327h6m-56 2h6m-2 14h6m43 1h6m4-3h6m4-11h6m54 27h6m-22-11h6m-10 3h6m-107 3h6m-42 7h6m-3 2h6m15 7h6m10-2h6m3-5h6m10 12h6m1-9h6m-5 6h6m-4-1h6m6-3h6m19-5h6m40 13h6m-4-5h6m4-3h6m-32 15h6m-17 4h6m-8-9h6m-13 2h6m-13-3h6m-8 4h6m-20 6h6m-20-1h6m-46 1h6m-33 18h6m30-2h6m5 1h6m4-8h6m15 8h6m5 1h6m-2-12h6m8 5h6m1 7h6m-4 0h6m22-12h6m-43 15h6m-6-1h6m-21 3h6m-14 10h6m-12-5h6m-7-1h6m-7 5h6m-23-2h6m-9-1h6m-22 5h6m-38-6h6m0 17h6m10-6h6m-2 3h6m-3 5h6m0 1h6m-6 0h6m-2-11h6m0 5h6m22-1h6m3 1h6m-6 6h6m13-13h6m-32 23h6m-28-5h6m-16 10h6m-14-13h6m-15 11h6m-34 7h6m-3 0h6m-1-2h6m-3 4h6m-6 3h6m4 3h6m36-6h6m6 8h6m0 4h6m-8-1h6m-43 12h6m-11-6h6m-13-7h6m-9 0h6m-19 12h6m-7 5h6m-4 9h6m10-1h6m0-4h6m3-3h6m-5-1h6m-5 8h6m15-7h6m-5-3h6m-6 11h6m-8 4h6m-6 10h6m-26 3h6m-9-1h6m-7-6h6m-9 7h6m-10-4h6m-14-6h6m-10 0h6m-4 24h6m-2-2h6m-5 2h6m-2-4h6m1-7h6m-3-1h6m-3 5h6m-4-1h6m-6 6h6m-4-4h6m-4-4h6m0-2h6m2 9h6m87 12h6m-103-3h6m-26-2h6m-8 2h6m-17 3h6m-6 0h6m-8-6h6m7 21h6m-2 7h6m-6-3h6m-14 11h6m-6 4h6m-4 11h6m6-1h6m18 9h6m34-1h6m-38 6h6m-13-3h6m8 25h6m7 16h6m-13-6h6m-16 3h6m-8 2h6m-9 18h6m-5-9h6m7 3h6m-1 2h6m1 15h6m-21-4h6m-8 2h6m-10 13h6m17-4h6" stroke="#fec778" stroke-width="6" stroke-linecap="butt" fill="none"/>
<path transform="scale(0.2)" d="M115 3327h6m-18 11h6m-2 6h6m12-3h6m95-4h6m412 22h6m-382 0h6m-14-2h6m-153-11h6m-19 26h6m513 2h6m-2-9h6m-6 3h6m-1-2h6m-2-3h6m-5 2h6m-2-4h6m-3 11h6m-2-4h6m-5 0h6m-3-4h6m-4-1h6m-2-2h6m-2 5h6m5 22h6m-8-2h6m-8-1h6m-14-8h6m-8 1h6m-13 4h6m-10 2h6m-6 4h6m-10-6h6m-12 5h6m-13-10h6m-6 9h6m-8 3h6m-10-9h6m-6-2h6m-487 15h6m28 7h6m47 0h6m-2-8h6m1 12h6m-5-13h6m-2 1h6m367 3h6m0-5h6m-5 11h6m-3-7h6m2 8h6m0 0h6m-4 1h6m-2-5h6m4-3h6m4-3h6m-21 19h6m-17-5h6m-17 13h6m-389-6h6m-36 4h6m-34-1h6m-7-5h6m-7 4h6m-36 2h6m-14-8h6m26 23h6m12 2h6m16-10h6m281 10h6m9-4h6m-3 3h6m-6 1h6m-3-3h6m-6 2h6m1-3h6m85-7h6m-2 10h6m-4-7h6m1 3h6m-4 0h6m-4-5h6m-2 7h6m0-4h6m1-5h6m-9 19h6m-10-1h6m-9 8h6m-12-7h6m-11-5h6m-11 9h6m-9-5h6m-80 5h6m-11-3h6m-7-4h6m-33-3h6m-10 4h6m-8 0h6m-6 4h6m-14-1h6m-6 1h6m-10-4h6m-9 3h6m-296 1h6m-47-8h6m-34 13h6m-24-5h6m-10 11h6m17 7h6m-1-7h6m344-3h6m-2 4h6m-3-5h6m-5 2h6m-1 0h6m-6 12h6m-1-2h6m-6 0h6m-4-9h6m-4-1h6m-6 1h6m7 1h6m1 6h6m-6 3h6m-3-1h6m-5-4h6m5 1h6m76-9h6m-95 26h6m-14-10h6m-7 0h6m-26 0h6m-16 4h6m-9 5h6m-105-8h6m-9 4h6m-16-6h6m-267 23h6m247-3h6m-4 5h6m4-2h6m-2 0h6m144 2h6m-165 19h6m-6-2h6m-8-11h6m-21 0h6m-23 10h6m-172 13h6m108 0h6m-5-3h6m22 5h6m35-3h6m164 5h6m5-6h6m-15 10h6m-175-2h6m-33 9h6m-11-7h6m-13 8h6m-9-1h6m-9-1h6m-12-6h6m-10 0h6m-36 12h6m-10-4h6m-9-3h6m-101 14h6m1-1h6m336 5h6m-6-4h6m9-3h6m-13 26h6m-6-9h6m-146 5h6m-212-3h6m-34-7h6m-24 21h6m48 5h6m6 2h6m164-6h6m120 4h6m0 1h6m0-7h6m-6 2h6m1-1h6m3-1h6m4 24h6m-11-9h6m-13-3h6m-6 9h6m-10-6h6m-12 6h6m-10-3h6m-9 2h6m-9 0h6m-17 3h6m-13 0h6m-125-13h6m-191 3h6m22 16h6m-5-4h6m-1 14h6m-1-13h6m-6 11h6m1-3h6m76 5h6m-4-1h6m18-1h6m-4-2h6m17-1h6m23 4h6m91-13h6m4 10h6m10-10h6m-3 4h6m-6-3h6m-2 12h6m1-11h6m14 11h6m7-13h6m-2 7h6m0-6h6m-3 10h6m7-2h6m-4 13h6m-6 3h6m-10 0h6m-10-10h6m-13 6h6m-28 5h6m-27-6h6m-10 9h6m-13-8h6m-16-4h6m-26 10h6m-13-12h6m-20 10h6m-9-8h6m-13 3h6m-24-4h6m-9 7h6m-10 1h6m-18-3h6m-7-5h6m-7 11h6m-12-6h6m-20-3h6m-12 10h6m-7-5h6m-15 3h6m-13 2h6m-11-4h6m-7-9h6m-13 4h6m-20 8h6m-13-8h6m-8 6h6m-11 0h6m-12 0h6m-11-6h6m-6-2h6m-14 1h6m-12 5h6m-9 4h6m-17-9h6m-15 4h6m-10-3h6m-9 7h6m-18-7h6m-6 6h6m-8 4h6m-11-3h6m-34 2h6m-9-2h6m-7-11h6m-16 4h6m-79 0h6m53 19h6m7-5h6m0 3h6m-4 6h6m-5 1h6m2-6h6m-2 3h6m7-2h6m14-8h6m-2 11h6m-5-9h6m0 10h6m-2-11h6m13 11h6m3-10h6m-5 7h6m-2 0h6m-2-3h6m-4 2h6m-4 6h6m-6-12h6m6 2h6m0 2h6m2-6h6m-5 11h6m-2-10h6m0 12h6m-4 1h6m25-3h6m-2 1h6m-2-5h6m-2 1h6m7-5h6m9 5h6m12-8h6m18 13h6m-4-1h6m11-10h6m-1-1h6m-3 3h6m6-1h6m22 6h6m-1 2h6m18-1h6m10 0h6m-6 6h6m-27 4h6m-26 9h6m-15-7h6m-9 7h6m-20-9h6m-7 9h6m-18-1h6m-8-2h6m-10 1h6m-16-11h6m-9 10h6m-18-11h6m-18 2h6m-14 5h6m-46 1h6m-17-2h6m-16-4h6m-7 4h6m-12-4h6m-7 2h6m-6 0h6m-9-2h6m-8 10h6m-15-10h6m-13 11h6m-7-10h6m-11 0h6m-12-2h6m-14 13h6m-14-4h6m-8-3h6m-10 7h6m-15-2h6m-18 1h6m-10-4h6m-11 0h6m-8-3h6m-10 7h6m-8-2h6m-16 0h6m-8-3h6m-7-8h6m-8 2h6m-17 4h6m-9-6h6m-9 7h6m-16-6h6m-24 7h6m-24-3h6m-8 7h6m-52 2h6m9 9h6m-2 3h6m0-5h6m1 8h6m4-14h6m0 11h6m6 2h6m15-3h6m2-5h6m1-1h6m-2 2h6m0-2h6m5-2h6m-3 9h6m-4-10h6m-1 9h6m4-5h6m3 4h6m7-5h6m-1 1h6m-6 7h6m1-9h6m10 10h6m3-11h6m-3 0h6m-5-1h6m-4 5h6m-5 2h6m-6-4h6m13-4h6m-1 0h6m31 2h6m3 7h6m-4 3h6m-3-10h6m-3 12h6m4-12h6m19 10h6m-3-2h6m-2-6h6m8 7h6m15 1h6m-3-4h6m6-4h6m25 9h6m4-5h6m1 0h6m-6 10h6m-14 4h6m-7 7h6m-18-8h6m-17 1h6m-11 1h6m-18 4h6m-17-2h6m-18-3h6m-9-3h6m-13 7h6m-11 2h6m-11-13h6m-7 3h6m-9-3h6m-22 8h6m-22 2h6m-13 2h6m-86-1h6m-8-10h6m-11 12h6m-17-13h6m-15 9h6m-9 5h6m-10-12h6m-9 3h6m-7 6h6m-18-10h6m-16-1h6m-16 14h6m-11-5h6m-12-8h6m-7 0h6m-14 10h6m-16-5h6m-6 1h6m-6 6h6m-11-1h6m-31-12h6m-20 2h6m-8 0h6m-7-2h6m-17 13h6m-11-9h6m-19-2h6m-7-1h6m-10 5h6m-9-6h6m3 28h6m12-3h6m4 4h6m-3-9h6m-1 6h6m7-7h6m-5 10h6m-4-10h6m-6 8h6m1-11h6m-5 3h6m0-2h6m0-1h6m7 0h6m8 12h6m0 1h6m5-1h6m2 1h6m-2-4h6m7-2h6m-4-2h6m20-1h6m-6-3h6m49 3h6m7-3h6m-2 8h6m0 3h6m0-5h6m0 5h6m11 0h6m5-2h6m-3-11h6m0 6h6m2-2h6m-6 0h6m2 2h6m-1 3h6m-2 2h6m2-5h6m2 1h6m5-6h6m-4 13h6m10-1h6m-4-8h6m-2 6h6m-2-6h6m-6 3h6m-4 6h6m9-14h6m-8 19h6m-24 0h6m-7 5h6m-12-7h6m-11 11h6m-16-5h6m-10 1h6m-8-1h6m-12 0h6m-12-5h6m-23 5h6m-20 0h6m-29-7h6m-29-1h6m-9 14h6m-7-8h6m-45-2h6m-12 10h6m-46-11h6m-7 1h6m-20 3h6m-7-4h6m-11 9h6m-7-7h6m-24 2h6m-21 2h6m-80 1h6m-9 1h6m-14-6h6m-14 9h6m-18-10h6m-6 8h6m2 4h6m-5 8h6m-5 5h6m8-8h6m0-1h6m-3 4h6m-6 3h6m-5-10h6m-5 6h6m-5 2h6m-1-2h6m2-4h6m5 7h6m-4-2h6m28 4h6m-1-9h6m1-1h6m14 1h6m1 3h6m-3 1h6m-6-1h6m0 6h6m21-10h6m3 10h6m14-5h6m0-2h6m-6 7h6m-5-9h6m-5-3h6m-3 6h6m4-7h6m-4 9h6m-5-5h6m-4-4h6m-3 5h6m3 2h6m8 2h6m1 0h6m-5-8h6m-5 3h6m-2 8h6m14-11h6m6 2h6m3 6h6m-3 2h6m16 1h6m26 0h6m0-12h6m5 29h6m-16-10h6m-46 2h6m-8-4h6m-7 2h6m-10-2h6m-12 10h6m-7-6h6m-17-4h6m-21 4h6m-6 7h6m-39-11h6m-51 11h6m-9-3h6m-23 2h6m-8-4h6m-14-3h6m-13-5h6m-24 11h6m-10 0h6m-6-2h6m-10 3h6m-8-6h6m-9-1h6m-18-4h6m-25 7h6m-23 1h6m-6-4h6m-16 2h6m-20 7h6m-8-1h6m-16-8h6m-19 1h6m-14-4h6m-7 5h6m-8-6h6m-31 0h6m-9-1h6m-7 3h6m4 24h6m-5-1h6m-6 3h6m-3-12h6m0 1h6m-2 5h6m-1-6h6m-2 0h6m7 6h6m17-2h6m-1 6h6m1-7h6m1-1h6m-5 3h6m-3-4h6m-5 3h6m-5 8h6m-6-10h6m-6 6h6m-2 2h6m-5-5h6m3 7h6m13-10h6m-3 5h6m12-5h6m-5 10h6m5-6h6m19 2h6m0-5h6m-5-3h6m-1 6h6m1 5h6m8 0h6m2-3h6m21-5h6m12 1h6m1-5h6m-4 11h6m12-12h6m25 1h6m5 4h6m4 8h6m1-2h6m-3 0h6m-1-8h6m-5 6h6m1-4h6m-59 19h6m-39-1h6m-10 2h6m-7-2h6m-40-2h6m-8 1h6m-21 1h6m-22 4h6m-34-12h6m-13 0h6m-17 0h6m-10 7h6m-10-4h6m-13 1h6m-18-1h6m-9 1h6m-16-4h6m-16 14h6m-10 0h6m-21-3h6m-10-9h6m-6 8h6m-34 4h6m-7-2h6m-7-1h6m-11-6h6m-32-2h6m-7 1h6m-20 3h6m-16-1h6m28 12h6m2 4h6m9 7h6m-4 0h6m-3-10h6m2 3h6m22 5h6m-2-12h6m-6 13h6m6-10h6m6 3h6m15 8h6m-1-5h6m3-2h6m4-3h6m24 8h6m-4-4h6m14 4h6m-21 5h6m-19 6h6m-10 3h6m-18-9h6m-24 11h6m-18-4h6m-13 1h6m-36-4h6m-14 1h6m-6 5h6m-24-2h6m-17 0h6m-10 0h6m-7-2h6m-9 2h6m-20-5h6m-6 6h6m-7-10h6m-13 9h6m-8 0h6m-15 2h6m4 14h6m17-1h6m0-9h6m0 8h6m7-5h6m13 10h6m-1-11h6m-3-3h6m-4 3h6m1 6h6m-3-8h6m-6 1h6m2 10h6m2-6h6m-3-3h6m2 10h6m15-13h6m-51 16h6m-14 3h6m-7 1h6m-23-4h6m-9 1h6m-15 1h6m-12 0h6m-7 7h6m-9-3h6m-6 0h6m-9 1h6m-21-4h6m-16 10h6m-7-10h6m-12 6h6m18 18h6m6 1h6m0-6h6m0-5h6m4 10h6m5-11h6m3 8h6m-6-7h6m-2 5h6m-13 19h6m-23 0h6m-15 0h6m-9-11h6m-16 0h6m-20 7h6m1 7h6m33 5h6m-21 15h6" stroke="#5c91c2" stroke-width="6" stroke-linecap="butt" fill="none"/>
<path transform="scale(0.2)" d="M170 3327h6m-13 1h6m-23 1h6m-17-1h6m-22 11h6m-3-6h6m-5-3h6m-5 0h6m-4 2h6m8 7h6m-6 0h6m-2-6h6m-6 3h6m-3 5h6m-4 3h6m-5 0h6m-1-9h6m-4 9h6m-1-9h6m4 3h6m-5-4h6m-3 8h6m-6-4h6m-1-4h6m-5 3h6m10 2h6m-5-4h6m-4-5h6m2 7h6m-5 0h6m-6 1h6m-3-5h6m1 1h6m3 9h6m3 0h6m16 13h6m-9-2h6m-7 4h6m-8-6h6m-14 3h6m-26-10h6m-8 9h6m-22 3h6m-8-1h6m-8-6h6m-8-3h6m-7 5h6m-9 7h6m-7-9h6m-6-3h6m-6 1h6m-7 2h6m-7 7h6m-17-12h6m-10 0h6m-8 13h6m-13-12h6m-9 11h6m-8-12h6m-9 14h6m-7-1h6m-6-9h6m-20-1h6m-8-3h6m-9 13h6m-9-3h6m-9-2h6m-7-6h6m-14 0h6m-19 10h6m-29 9h6m-5-5h6m-6 0h6m-4-1h6m7 14h6m7-13h6m2 0h6m-2 8h6m0 0h6m-1-3h6m2 5h6m2-6h6m-3 3h6m-2-4h6m-6 8h6m-3 1h6m1-13h6m3 6h6m-5-6h6m-4 5h6m-5-5h6m-3 8h6m11-1h6m11 5h6m-2-5h6m-1-6h6m7 5h6m-6 0h6m-5 4h6m14-9h6m-6 7h6m0 12h6m-13 8h6m-25-1h6m-21-3h6m-9 2h6m-6-11h6m-8 9h6m-7-3h6m-11-4h6m-12 2h6m-16 1h6m-6-3h6m-7 7h6m-12 2h6m-8-11h6m-12 0h6m-8 7h6m-7 0h6m-7 0h6m-11-6h6m-7 6h6m-9-3h6m-12 6h6m-7 1h6m-9-8h6m-9 8h6m-25-1h6m-9-5h6m-8-4h6m-8 11h6m-7-3h6m-14-8h6m-8 13h6m-19-6h6m-11 1h6m-15 0h6m9 7h6m-3 2h6m-4 11h6m8-11h6m-4 2h6m-3 2h6m-6 4h6m1-1h6m5 2h6m-1 2h6m-2-7h6m-4-6h6m-4 1h6m0 1h6m-2-3h6m1 9h6m5 2h6m-4-1h6m2-2h6m-5 6h6m-4-12h6m2 4h6m-6-1h6m-6 2h6m-3-2h6m-5 6h6m-2-1h6m2-10h6m-3 4h6m-2 5h6m-3-1h6m5-1h6m-35 9h6m-11 9h6m-12-5h6m-10 6h6m-8-3h6m-17 6h6m-23-10h6m-23-1h6m-14 2h6m-14 9h6m-8-12h6m-9 12h6m-8-13h6m-6-1h6m-12 13h6m-15 3h6m6-1h6m-1 12h6m-5-12h6m-6 0h6m3 8h6m6-4h6m-3 6h6m11 3h6m-3-6h6m3 2h6m-6-5h6m-3 0h6m-1 2h6m-6-6h6m-12 19h6m-21 1h6m-11 1h6m-7-4h6m-10 8h6m-20 4h6m-14-7h6m-8 0h6m-7-7h6m-13 8h6m-10 2h6m-10-10h6m-13 17h6m7 9h6m3-6h6m-4 2h6m-4 0h6m4 3h6m5-4h6m-2-6h6m13 9h6m-3 5h6m-27 14h6m-20 0h6m-13-13h6m-6 5h6m-7-2h6m-6 1h6m-6-3h6m-8 4h6m-11 9h6m-12-14h6m-7 1h6m-11 0h6m-8 19h6m1-2h6m2 7h6m-1 3h6m4-3h6m-4-1h6m1-1h6m-4-4h6m-3 1h6m-1 3h6m3 9h6m-30 3h6m-14 2h6m-8 6h6m-7-12h6m-27 2h6m12 16h6m18-3h6m-3 9h6m-6 16h6m-9 1h6m-16-1h6m-6-9h6m-10-2h6m-13 14h6m-9 2h6m4 5h6m109 9h6m-85 7h6m-29-4h6m-18 7h6m-9-1h6m-6 4h6m-13 11h6m-3-1h6m4-2h6m13 5h6m-2-11h6m9 1h6m1 4h6m3 16h6m-18-5h6m-24 12h6m-19-9h6m-23 17h6m4 0h6m8-5h6m-1 10h6m-2-3h6m-6 5h6m-4-13h6m-5 9h6m-4-9h6m-5 5h6m-5 7h6m-6-5h6m-3-5h6m-5 10h6m-6-9h6m-4 7h6m-5-3h6m-4-1h6m-4-3h6m9 8h6m-3-6h6m-1-4h6m-4 2h6m15 7h6m-23 8h6m-32 9h6m-11-1h6m-7-11h6m-6 13h6m-11-2h6m-7-1h6m-6-1h6m-8 0h6m-8 4h6m-8 1h6m-9-3h6m-12 0h6m-7-4h6m-6-4h6m-7-3h6m-12 5h6m-17 5h6m-12-3h6m-8 3h6m28 12h6m0-3h6m-3 0h6m-6-3h6m-1 1h6m-3 7h6m-3-4h6m8-5h6m-3 2h6m-1 4h6m0 8h6m-21 7h6m-16-3h6m-8 10h6m-13-1h6m-6-2h6m-7-7h6m-9 1h6m-12 0h6m-10 4h6m-6 6h6m-24-11h6m16 16h6m-6 9h6m-4-9h6m-2 3h6m-6-6h6m-5 9h6m1-9h6m-5 6h6m3 5h6m1-5h6m-5-2h6m14-2h6m-29 16h6m-9-4h6m-18 9h6" stroke="#fdae61" stroke-width="6" stroke-linecap="butt" fill="none"/>
<path transform="scale(0.2)" d="M160 3326h6m-41 18h6m16 0h6m57-9h6m27 6h6m-154 12h6m171 28h6m-183-6h6m5 18h6m5 11h6m1-12h6m9 11h6m93-7h6m8 7h6m-8 9h6m-29 4h6m-76 3h6m-19-1h6m-31 0h6m-5 14h6m66-12h6m-2 5h6m-3 0h6m329 6h6m11 16h6m-44-9h6m-22 8h6m-288-1h6m-14-5h6m-80 7h6m61 3h6m442 0h6m-242 20h6m-11-1h6m-22 7h6m-7-8h6m-7-2h6m-7 12h6m-192-1h6m-80 4h6m252 4h6m5 0h6m5-1h6m-5 2h6m-4 5h6m-13 16h6m-7-8h6m-23 0h6m-14 2h6m-19 3h6m-17 2h6m-42 11h6m15-4h6m-1 10h6m-2 0h6m-1-2h6m0 1h6m6-1h6m-1 3h6m4-12h6m10 8h6m144-10h6m-3 1h6m-190 21h6m-8-7h6m-6 0h6m-11 10h6m-10-2h6m-28 6h6m-23-12h6m-20 1h6m-16 1h6m-13-4h6m-8 3h6m-101 8h6m-13-3h6m37 13h6m49-2h6m13 7h6m5-11h6m226 8h6m0-8h6m-5 11h6m-16 5h6m-349 0h6m-40 1h6m51 21h6m2-8h6m163 9h6m120-2h6m20 3h6m-4 0h6m4 9h6m-6 0h6m-8 6h6m-7 1h6m-9-10h6m-21 12h6m-34-13h6m-10 7h6m-7 2h6m-235 1h6m-124 5h6m65 13h6m-5-13h6m0 11h6m6-5h6m96 7h6m-4-4h6m36-5h6m14 8h6m-5 1h6m2-2h6m14-4h6m-1-4h6m7 1h6m5 9h6m12-1h6m7-3h6m2-7h6m-1 9h6m-4-1h6m14-3h6m0-2h6m4 7h6m-3-7h6m1 2h6m30 7h6m4-11h6m-19 12h6m-32 7h6m-21-1h6m-27-3h6m-30 8h6m-7-6h6m-40 1h6m-26 1h6m-20 2h6m-12 0h6m-13-8h6m-26-1h6m-52 2h6m-15 1h6m-13-3h6m-7 2h6m-14 9h6m-15-4h6m-17 2h6m-6 0h6m-8-7h6m-30 6h6m-12-6h6m-25 9h6m-9-11h6m-9 11h6m-10-8h6m-13-2h6m-8 4h6m-7-4h6m-11 8h6m-11-3h6m-10-5h6m-7 5h6m-13-1h6m-10 4h6m-6 18h6m5-1h6m1-11h6m-2 5h6m-4 6h6m-4-3h6m-4 2h6m-6-1h6m-3-9h6m-4 5h6m3-1h6m1 1h6m4 0h6m0 9h6m-2-11h6m8-3h6m-2 4h6m-6 9h6m-4-1h6m12-7h6m42 5h6m-4 0h6m-5 1h6m-5-3h6m1 4h6m-6-9h6m1 11h6m-4-4h6m-2 0h6m1 3h6m-4-1h6m-1-3h6m5 0h6m4 5h6m-1-5h6m19-9h6m13 5h6m33 2h6m15-5h6m0 2h6m3-2h6m-6 11h6m7-9h6m36 4h6m-22 12h6m-15-5h6m-22 6h6m-9-5h6m-15 10h6m-33-8h6m-47 10h6m-7-1h6m-14-10h6m-27 4h6m-11-6h6m-12 0h6m-24 14h6m-9-4h6m-22-9h6m-32 1h6m-34 11h6m-14-2h6m-21 2h6m-19-6h6m-15 3h6m-11-2h6m-19 6h6m-11-5h6m-13 4h6m-8-7h6m-20 4h6m-8-4h6m-9 6h6m-7 1h6m-12-10h6m-25-1h6m-10 7h6m-6 2h6m-12-6h6m-11 0h6m-11 7h6m-11-6h6m-7 3h6m-12 17h6m-2 0h6m12-9h6m4 5h6m20 4h6m0-4h6m2 2h6m16-3h6m-5 2h6m0 5h6m-5-13h6m11 11h6m-2-2h6m28-4h6m-1 4h6m2-8h6m-4 9h6m0-5h6m31 1h6m2 0h6m21-3h6m6-2h6m28 5h6m1-5h6m0 0h6m5 10h6m10 0h6m8-9h6m0 5h6m4-7h6m5 6h6m2-3h6m12 8h6m-1-5h6m-15 20h6m-10 2h6m-7-7h6m-9-3h6m-9 1h6m-10-4h6m-7 0h6m-12 9h6m-22-4h6m-7 8h6m-13-6h6m-7 6h6m-10-8h6m-9-5h6m-15 9h6m-11-1h6m-14-8h6m-7 0h6m-15 13h6m-16-8h6m-12-1h6m-8-3h6m-103 6h6m-35-4h6m-6-2h6m-17 2h6m-11 4h6m-6 1h6m-19 1h6m-11-7h6m-7 1h6m-13-1h6m-9 3h6m-31 4h6m-46-1h6m-11-2h6m-17 1h6m-15-4h6m-31 2h6m-10-1h6m1 24h6m-2-10h6m19-2h6m2 1h6m12 9h6m6-5h6m-4-3h6m7 8h6m8-8h6m4-3h6m-5 4h6m-4 1h6m3-5h6m-2 9h6m4 5h6m-6-11h6m5 0h6m1-2h6m-5 6h6m-3 5h6m4-5h6m7 4h6m47-9h6m-1 12h6m-5-11h6m-4 10h6m-1 1h6m6-3h6m-1-1h6m-6-6h6m-5 5h6m-1-1h6m-4-4h6m-1 6h6m1 3h6m-1-11h6m-5 1h6m-2 10h6m9-9h6m-1 9h6m12-6h6m-6-4h6m8 3h6m6 0h6m-5-3h6m-5 9h6m1 1h6m-3 0h6m-5-12h6m-1-1h6m5 4h6m-6 6h6m7 3h6m-6 5h6m-11 5h6m-11-5h6m-10-3h6m-16 2h6m-10 6h6m-10-7h6m-14 6h6m-6 1h6m-7 5h6m-8-8h6m-7 0h6m-10 2h6m-7 3h6m-15-3h6m-7-3h6m-38 2h6m-12 8h6m-13-5h6m-8-7h6m-6 2h6m-10 0h6m-30 5h6m-12-6h6m-11 5h6m-10 3h6m-7 1h6m-21-4h6m-8-1h6m-11 5h6m-9-11h6m-55 9h6m-31-5h6m-13 5h6m-8-3h6m-12-4h6m-14 7h6m-12-9h6m-16 3h6m-7 7h6m-6-7h6m-7-4h6m-27 9h6m-14-8h6m-7 4h6m-8 2h6m-37-1h6m-13 6h6m-10-10h6m-13 1h6m-15 8h6m-11 3h6m-6-4h6m-10 4h6m-7 2h6m3 12h6m8-7h6m-5-5h6m6 3h6m13 8h6m-2-7h6m-1 5h6m-4 2h6m1 1h6m3-12h6m-4 13h6m19 0h6m-2-8h6m4-2h6m-4 10h6m-1-5h6m-3-2h6m28 6h6m-3 1h6m-5-1h6m-4 0h6m0-10h6m16 11h6m28 0h6m9-1h6m-5-13h6m12 5h6m-1 3h6m-3-3h6m10 2h6m3 4h6m5 1h6m-2-10h6m-6 4h6m-1-6h6m2 6h6m4 5h6m7-11h6m-5 4h6m1 8h6m18-8h6m-10 19h6m-6 1h6m-7 5h6m-12 0h6m-15-6h6m-8-3h6m-41 4h6m-24 4h6m-25-6h6m-30-6h6m-25 6h6m-25-3h6m-13-1h6m-8 2h6m-31 4h6m-20-7h6m-7 0h6m-8-1h6m-6 9h6m-13-4h6m-16 0h6m-13-6h6m-30 9h6m-15-8h6m-38 0h6m-13-1h6m-7 13h6m-13-3h6m-19-10h6m-7 2h6m-15 10h6m-10-7h6m-44-3h6m-6 8h6m11 12h6m-4 6h6m4-10h6m-1-3h6m-2 11h6m-1-9h6m-5 7h6m-5-6h6m-5-3h6m3 8h6m-2-4h6m7 5h6m-5-4h6m-4 6h6m7 0h6m9-10h6m2 5h6m14-1h6m-3 0h6m-5 7h6m-3 2h6m6-6h6m-6-2h6m0 1h6m-6-7h6m-2 13h6m-3-8h6m58 5h6m27-4h6m4-4h6m4 7h6m-2 5h6m-5-14h6m2 2h6m-3 10h6m-1-11h6m12 8h6m-6 0h6m4 4h6m7 1h6m1-2h6m-4 3h6m-18 1h6m-10 4h6m-18-1h6m-21 8h6m-6-6h6m-41 3h6m-33-5h6m-12-3h6m-10-1h6m-12 2h6m-13-1h6m-17 5h6m-10 8h6m-43-13h6m-9 6h6m-7-7h6m-13 5h6m-7 8h6m-12-7h6m-10-3h6m-21 0h6m-22 6h6m-14-4h6m-8 1h6m-22-2h6m-21 5h6m-7 4h6m-8-9h6m-12 6h6m-18 3h6m-42-13h6m6 20h6m-5-3h6m12 4h6m8 7h6m7-3h6m1-7h6m-3 4h6m-1-2h6m-3 2h6m0-7h6m-2 6h6m1 6h6m14-10h6m4 11h6m-5-6h6m0-3h6m6 4h6m22-6h6m-2 7h6m1-7h6m4 6h6m76-5h6m-112 23h6m-40 0h6m-16-2h6m-14-4h6m-14-2h6m-12-1h6m-19 6h6m-9-1h6m-10 4h6m-8-6h6m-27-1h6m-8 8h6m-10 2h6m-7 0h6m-8-9h6m-7-1h6m-8-3h6m-10 8h6m-17-3h6m-11 10h6m-2 3h6m-4 6h6m19-8h6m-4 12h6m4-12h6m4 5h6m-5-1h6m-1 6h6m-2 2h6m-3-8h6m0 7h6m1-13h6m-4 2h6m13 2h6m0 6h6m9-3h6m-14 22h6m-9 0h6m-33-5h6m-12-6h6m-11 10h6m-15-3h6m-7 4h6m-12-8h6m-12-4h6m-11 0h6m-6 6h6m-9 1h6m-9-1h6m-13 3h6m-10 3h6m-6-7h6m-15-1h6m8 15h6m-5 5h6m-6-6h6m-4 2h6m-1-2h6m9 3h6m22 19h6m-14-2h6m-14-7h6m-6 7h6m-19-10h6m-13 13h6m-17-7h6m1 23h6m4-6h6m14 10h6m-24 12h6" stroke="#90c3dd" stroke-width="6" stroke-linecap="butt" fill="none"/>
<path transform="scale(0.2)" d="M114 3335h6m2 69h6m6-12h6m45 11h6m-6-3h6m-3 3h6m-5-3h6m50-1h6m-35 17h6m-14-11h6m-42 2h6m378 51h6m-166 17h6m-17 3h6m-19 14h6m-3-5h6m-3-2h6m-6-1h6m-4 9h6m6-12h6m-1-1h6m-1 10h6m-10 7h6m-12 9h6m-18-1h6m-13-9h6m-10 6h6m-10-3h6m-10 8h6m-26 1h6m-149-6h6m158 20h6m3-7h6m-5 6h6m-5-4h6m-5-1h6m-4-4h6m8 1h6m3-2h6m-6 6h6m-63 22h6m-10-3h6m-38-10h6m75 41h6m-213-7h6m320 36h6m46 5h6m-247 19h6m-27-1h6m-27-1h6m-55-2h6m27 21h6m26 3h6m191-2h6m110 17h6m-360-5h6m53 22h6m43-7h6m2-4h6m173 0h6m14 3h6m4 11h6m-211 8h6m-72 18h6m182 2h6m-102 3h6m-135 20h6m111 0h6m2-6h6m144 5h6m-4-4h6m67 5h6m-242 19h6m-76 4h6m-46-10h6m290 33h6m-115-5h6m-108 2h6m-48 3h6m-25 11h6m70-3h6m63 2h6m-161 24h6m15 8h6m67 24h6m-78-7h6m27 13h6m12 9h6m6 26h6m-29 7h6" stroke="#abd9e9" stroke-width="6" stroke-linecap="butt" fill="none"/>
<path transform="scale(0.2)" d="M182 3329h6m-39-4h6m-66 19h6m8-6h6m6-3h6m1-5h6m3 5h6m12 2h6m54-6h6m7 13h6m422 8h6m-27 7h6m-6-2h6m-505-8h6m-36 6h6m-14 0h6m-7-5h6m13 23h6m-4-12h6m-5 13h6m-3-8h6m491 6h6m10-4h6m5-1h6m6-2h6m-4 8h6m-1-3h6m3 3h6m-5 1h6m-6 10h6m-24-4h6m-32 0h6m-12 7h6m-15-7h6m-344-5h6m-10 13h6m-30 1h6m-14-2h6m-101 2h6m-18-14h6m-10 7h6m-20 4h6m-8-7h6m-8 6h6m-11-9h6m79 25h6m17 1h6m35 0h6m-1-5h6m-1-3h6m-4 9h6m-1-8h6m348-4h6m8 16h6m-385 1h6m-21 7h6m-14-3h6m-7-4h6m-20 1h6m-7 10h6m-12 0h6m-21-4h6m-50-6h6m-8-3h6m-14 10h6m-27-1h6m-6 1h6m37 7h6m10 6h6m18-5h6m-2-4h6m9 3h6m292 10h6m-4-4h6m130 6h6m-19 4h6m-17 0h6m-11 5h6m-10-2h6m-84 3h6m-12-7h6m-8-3h6m-33 5h6m-6-2h6m-14 3h6m-7-1h6m-15 5h6m-285-3h6m-27-5h6m-6 10h6m-49-8h6m-12-4h6m-26 0h6m-8 27h6m1-10h6m-2 12h6m-1-5h6m-6 4h6m-5-3h6m54 3h6m195-1h6m108-8h6m-2 10h6m-5-11h6m0-2h6m12 11h6m-13 16h6m-28-13h6m-13 2h6m-111 3h6m-17 9h6m-7-8h6m-8-4h6m-13 5h6m-188 3h6m-10 10h6m183 4h6m-3-7h6m2 7h6m0 5h6m120-10h6m3-1h6m-1 11h6m1-4h6m-4 2h6m-5-7h6m-5 1h6m0-1h6m-23 18h6m-137-4h6m-7-3h6m-10 8h6m-9 1h6m-21-5h6m-17 9h6m-195 8h6m107 3h6m2 3h6m-4-1h6m-6-5h6m-6 1h6m12-4h6m-2 1h6m-6 4h6m2-9h6m-3 12h6m8-8h6m-1 9h6m16-5h6m-5-4h6m152 6h6m-3-1h6m-2-5h6m-6 8h6m4-10h6m-10 20h6m-16-5h6m-164 10h6m-21-7h6m-13-1h6m-8-3h6m-10 6h6m-8 3h6m-9-5h6m-7 6h6m-7-6h6m-14 4h6m-9 1h6m-8-5h6m-6-2h6m-22 3h6m-9-4h6m-11 9h6m-6-5h6m-18 8h6m-7-12h6m-8 1h6m-14 8h6m-7 0h6m-7 1h6m-29-6h6m-80-6h6m-8 3h6m-14 25h6m65-8h6m10-3h6m2 8h6m9-10h6m-3 5h6m-3-4h6m4-1h6m4 0h6m-1 0h6m19 6h6m13 0h6m166-6h6m-4 14h6m9-8h6m-6 2h6m-3 0h6m-22 10h6m-175 8h6m-100-11h6m-118 21h6m-1 6h6m16-12h6m8 6h6m8-6h6m8 10h6m186-3h6m5 7h6m71-6h6m3-2h6m-4 0h6m-4 2h6m-1 5h6m-5-7h6m-4 2h6m-2 5h6m-2-13h6m-2 13h6m-3-12h6m15 27h6m-11 1h6m-8-3h6m-11-4h6m-11 7h6m-12-7h6m-10-7h6m-8 13h6m-7-13h6m-15 6h6m-7-2h6m-7 9h6m-7-5h6m-6-1h6m-6 7h6m-7-4h6m-8-2h6m-16-2h6m-10 6h6m-13-3h6m-6 3h6m-9-2h6m-8 2h6m-216 1h6m-39 1h6m-29-13h6m-7 7h6m-34-2h6m-10 5h6m-24-9h6m-12 4h6m-7-1h6m-24 19h6m0 1h6m-2-1h6m24-2h6m6-5h6m6 2h6m-5-3h6m-5 9h6m-5-9h6m-5 0h6m-1-1h6m4 11h6m7-1h6m7 4h6m29-4h6m-5-8h6m13 12h6m4 0h6m9-3h6m-5 2h6m5-2h6m1 1h6m-5-3h6m-4-4h6m8 7h6m-4-5h6m-3 0h6m23 1h6m7 5h6m-4 1h6m-4 0h6m-5-8h6m-3 7h6m0-6h6m-1 2h6m-2-3h6m-4 2h6m-5-4h6m5 1h6m-2-1h6m8 4h6m5-4h6m-6 5h6m-2-8h6m-5 1h6m-3 6h6m1-3h6m-6 6h6m-3-9h6m-5 5h6m-6 3h6m-6-6h6m-5 10h6m-3-6h6m0 3h6m-6 0h6m-5-2h6m-4-6h6m-4 6h6m-4 1h6m-5 0h6m-1 1h6m-4 3h6m-3-9h6m-2-5h6m-4 3h6m-2 3h6m-2-1h6m6 4h6m12 2h6m-5 3h6m-2-8h6m1-6h6m-4 3h6m-6 3h6m-3 4h6m-14 13h6m-7-5h6m-16-2h6m-11 11h6m-9 1h6m-10-2h6m-11-9h6m-30-2h6m-8 12h6m-24-4h6m-6-6h6m-6 12h6m-8 0h6m-8-12h6m-9 3h6m-16-2h6m-10 11h6m-8-9h6m-14-4h6m-11 7h6m-11 6h6m-9-8h6m-7 1h6m-9 1h6m-8 6h6m-25-6h6m-21-1h6m-8 6h6m-7-13h6m-10 7h6m-7 6h6m-7-7h6m-9 7h6m-8-12h6m-7-1h6m-7 12h6m-10-4h6m-17-1h6m-21-7h6m-9 10h6m-7-1h6m-6-7h6m-16 11h6m-10-3h6m-14 0h6m-15 2h6m-9-6h6m-12 0h6m-8 3h6m-8-8h6m-10 3h6m-7-4h6m-8 13h6m-10-3h6m-7-1h6m-6-7h6m-7 4h6m-7-3h6m-7 9h6m-7-5h6m-20-3h6m-6 9h6m-6-11h6m-7 10h6m-7-6h6m-9 1h6m-7 1h6m-9 6h6m-6-9h6m-7 7h6m-7-4h6m-6-2h6m-6 5h6m-15-9h6m-8 10h6m-21-8h6m-8 3h6m-12 5h6m-9-8h6m-17 9h6m-11-1h6m-9-5h6m-10 1h6m-12-3h6m-7-1h6m-9-1h6m-7 1h6m-10 0h6m-13 6h6m-17-7h6m0 13h6m-2 12h6m0-10h6m0-3h6m-5 7h6m-5 6h6m-4-4h6m-2-2h6m-5-2h6m-6 5h6m-5 2h6m-5 0h6m6-2h6m-3 0h6m-5 3h6m1-13h6m3 6h6m4-4h6m-6 9h6m3 2h6m13-6h6m-6-4h6m-2 2h6m-1-5h6m-4 6h6m2-5h6m6 1h6m-6 10h6m-5-5h6m-4-1h6m-5-4h6m2 5h6m-4 6h6m-5-10h6m-2 4h6m-2-1h6m-5-2h6m-4 2h6m-2-4h6m-6 10h6m-5 0h6m3 0h6m-3-4h6m-3-2h6m11 1h6m-5 6h6m0-1h6m-5-12h6m-4 11h6m-5-10h6m-1 3h6m-1-4h6m-2 14h6m-1-4h6m-6 0h6m1 4h6m-5-10h6m-5 2h6m11 0h6m-5-6h6m-3 11h6m-5-7h6m-5 10h6m-6-14h6m-2 12h6m-1-1h6m-4-9h6m4 3h6m-4 6h6m-5-1h6m-6-10h6m9 14h6m-5-3h6m-2-2h6m-5-7h6m3 6h6m14-5h6m-6 3h6m4-1h6m-5 9h6m12-4h6m2 0h6m-5-4h6m-6 7h6m1-12h6m-5 6h6m-1 3h6m-5-6h6m0 2h6m-4 7h6m-5-10h6m-6 6h6m-10 12h6m-9-3h6m-14 8h6m-9 1h6m-7-1h6m-18 0h6m-12 3h6m-13 0h6m-8-11h6m-6 0h6m-14 5h6m-7-7h6m-9 13h6m-13-11h6m-16 4h6m-9-4h6m-8-1h6m-7 10h6m-6-7h6m-9-3h6m-32 1h6m-11 7h6m-8-9h6m-7 9h6m-13-5h6m-18 5h6m-6-1h6m-11-5h6m-8 4h6m-11 3h6m-9 3h6m-11-5h6m-8 1h6m-11 0h6m-7-2h6m-9-4h6m-7-1h6m-8-3h6m-7 12h6m-9 1h6m-6 1h6m-7-1h6m-8-3h6m-7-8h6m-15 5h6m-6-3h6m-12 7h6m-10 0h6m-6 3h6m-9 0h6m-7-2h6m-11-3h6m-9 2h6m-17 3h6m-10-6h6m-9-2h6m-7 8h6m-18-13h6m-6 13h6m-8-8h6m-13-3h6m-9-2h6m-11 6h6m-9-7h6m-6 1h6m-6 8h6m-9 0h6m-17 4h6m-6-4h6m-14 4h6m-10 1h6m-7-1h6m-9-4h6m-7-9h6m-7 11h6m-10-8h6m-9 8h6m-10 1h6m-12-7h6m-8-2h6m-9 6h6m-12-8h6m-6 12h6m-8-6h6m-6 0h6m-10 3h6m-8 1h6m-10-1h6m-14 3h6m-9-7h6m-9 4h6m-18 4h6m-7-8h6m-6 8h6m-9-2h6m-11-7h6m-10 6h6m-12 2h6m-7-8h6m-41 2h6m1 22h6m-1-1h6m-5-7h6m-3-1h6m-6 0h6m-5 9h6m-5-10h6m-4 5h6m0 4h6m-4-2h6m-3 2h6m1-12h6m-6 9h6m-3-3h6m-6 0h6m-3 6h6m-6-9h6m7 5h6m-1-7h6m-2 1h6m-4 1h6m-5-1h6m16 8h6m-5-2h6m-4 3h6m-4-1h6m1 0h6m5-4h6m-3-7h6m-1 8h6m-5 4h6m-5 2h6m-5-12h6m-5-2h6m-4 12h6m-5-11h6m-3 8h6m3 3h6m-3 1h6m8 1h6m-2-12h6m-3 9h6m-4-3h6m-6 3h6m-4-6h6m-4-5h6m-5 11h6m-6-4h6m-5 3h6m-6 3h6m-4-11h6m-2 5h6m-4-5h6m-2 8h6m-4-8h6m-1 0h6m-5-2h6m0 10h6m-4-2h6m-1 6h6m0-14h6m-5 5h6m-4-2h6m-3 9h6m-4-8h6m-5 6h6m-2-1h6m-1-2h6m-5-4h6m10-2h6m10 3h6m-5 9h6m-5-8h6m-3 6h6m7-3h6m-3-7h6m-5 2h6m-5 4h6m-4-6h6m-5-1h6m-5 6h6m-6 5h6m-3-6h6m-5 5h6m-6-5h6m-4 4h6m0-4h6m5-3h6m-5 5h6m9 3h6m-5-6h6m14 7h6m-6-3h6m-3 4h6m-3-3h6m-3 0h6m0 4h6m-3-12h6m-5 9h6m-5-2h6m-2 6h6m-5-3h6m0-4h6m-3 5h6m-4-11h6m-5 13h6m-6 0h6m-1-3h6m-2 2h6m-5-4h6m-4 3h6m-6-3h6m4 4h6m-4-13h6m5 26h6m-8-7h6m-10 8h6m-12-1h6m-11 1h6m-6-5h6m-8 2h6m-15 1h6m-9-4h6m-12-2h6m-11 0h6m-7 2h6m-7-1h6m-9-1h6m-6 4h6m-6-6h6m-6 11h6m-11-4h6m-6-4h6m-11 8h6m-14-8h6m-8 3h6m-8 0h6m-9-3h6m-12 3h6m-16-1h6m-10 7h6m-7-6h6m-7-8h6m-7 3h6m-8 6h6m-16-7h6m-9 11h6m-11-11h6m-11 4h6m-8 2h6m-12-2h6m-6-4h6m-7 8h6m-7-6h6m-11 6h6m-8 2h6m-7-5h6m-14 6h6m-11-4h6m-13-6h6m-8 5h6m-8 3h6m-59 3h6m-7-14h6m-9 13h6m-7-6h6m-9 6h6m-7-3h6m-9-3h6m-6 5h6m-13-2h6m-10-5h6m-7-2h6m-7 2h6m-7-5h6m-13 11h6m-7-5h6m-8 5h6m-9-11h6m-8 13h6m-10-4h6m-8-8h6m-10 10h6m-6-2h6m-7 2h6m-6-4h6m-7 1h6m-8-5h6m-8 8h6m-8-8h6m-14 6h6m-7 2h6m-8-2h6m-9 5h6m-6-12h6m-11 1h6m-10-2h6m-6 13h6m-6-8h6m-7-4h6m-6 8h6m-7-9h6m-9-1h6m-11 4h6m-8 2h6m-9-5h6m-6 2h6m-13-3h6m-6 7h6m-8 0h6m-8 1h6m-8-5h6m-7 3h6m-8 5h6m-13-1h6m-6-1h6m-12 5h6m-13-13h6m-18 9h6m-9 1h6m-6-10h6m-9 10h6m-6 3h6m-10-13h6m-17 4h6m-9 5h6m-16-5h6m-7 3h6m-8-6h6m-14 7h6m-3 7h6m6 6h6m-5-2h6m5 2h6m-6 2h6m-3-1h6m1 4h6m3 2h6m1-5h6m7-4h6m-4 5h6m-2-1h6m4 4h6m-3 0h6m-3-7h6m-4-4h6m-1 9h6m-3 2h6m-4-10h6m-3-3h6m-3 8h6m-3-2h6m-1-2h6m-5 3h6m4-5h6m-3 6h6m0-5h6m-2 1h6m-1 7h6m-5-8h6m-6-1h6m5 10h6m-1-3h6m-5-3h6m2-4h6m6 8h6m-6-8h6m-4 4h6m-2 0h6m42 6h6m0-5h6m2-5h6m-3 1h6m-2 6h6m-5-1h6m-3-1h6m-6-4h6m-3 7h6m-5-9h6m-3-1h6m-4 0h6m2 14h6m-3-14h6m-6 6h6m-2 7h6m-3-5h6m-6 4h6m3-12h6m3 6h6m-6 0h6m-3 8h6m-6-10h6m-2 2h6m0 7h6m4-4h6m-3-9h6m-4 5h6m-3 9h6m-1-6h6m-4 6h6m-1-12h6m-3 0h6m-5-2h6m-3 10h6m-2 0h6m-3-7h6m-5 9h6m-4 0h6m-5-6h6m-6-2h6m-4-2h6m-6 10h6m2-3h6m4 3h6m-4 1h6m-4 1h6m-2-14h6m-5 4h6m-4 10h6m-5-14h6m-2 6h6m-5 4h6m-4 14h6m-9-3h6m-12 4h6m-10 3h6m-9-7h6m-6-5h6m-12 2h6m-13 11h6m-11-13h6m-6 6h6m-13-2h6m-10 9h6m-17-8h6m-11-2h6m-6 4h6m-7 1h6m-8-5h6m-9 3h6m-7-2h6m-11 9h6m-8-11h6m-6-2h6m-8 1h6m-7 8h6m-8-8h6m-9 9h6m-12-6h6m-9 6h6m-11-3h6m-7 1h6m-7 5h6m-12-13h6m-6 1h6m-9 7h6m-7 5h6m-8-7h6m-8 2h6m-8-4h6m-7 2h6m-20-6h6m-15 8h6m-9-6h6m-8 4h6m-8-1h6m-9 4h6m-10 2h6m-12-3h6m-7 5h6m-8-9h6m-12-1h6m-8-4h6m-6 3h6m-7 9h6m-8-10h6m-12 0h6m-10 4h6m-50 6h6m-7-5h6m-8 1h6m-7 5h6m-8-2h6m-9-7h6m-8 1h6m-11 9h6m-6-8h6m-14-3h6m-9 1h6m-6 6h6m-8-2h6m-10 3h6m-7-6h6m-7 3h6m-7-3h6m-10 6h6m-13-2h6m-6-3h6m-9 7h6m-7-5h6m-8 3h6m-8 0h6m-8-8h6m-7 4h6m-7-7h6m-9 13h6m-7-9h6m-7 8h6m-6-10h6m-7 1h6m-9 7h6m-7-2h6m-7-7h6m-8 12h6m-8-1h6m-22 1h6m-11-5h6m-14 6h6m-13 0h6m-8-1h6m-6-4h6m-7-1h6m-10 5h6m-9-13h6m-9 1h6m-14 4h6m-11 4h6m-12 2h6m-6-6h6m-7-4h6m-11 13h6m-6 0h6m-8-11h6m-8 6h6m-20-5h6m-7 3h6m-3 13h6m-3 0h6m2-1h6m1 5h6m-3-2h6m-4 0h6m-4 7h6m-4-5h6m1-6h6m-6 6h6m-4 5h6m0-8h6m-3 6h6m-3-2h6m-4-8h6m-6 0h6m-5 12h6m-5-9h6m-4 1h6m7 3h6m-6 0h6m-2 5h6m-4 0h6m-2-1h6m-5-6h6m-4 2h6m6 4h6m2-3h6m1 0h6m4 4h6m-1-11h6m-6 9h6m-5-9h6m15 0h6m-5-3h6m-3 1h6m-5 5h6m9 0h6m-1 1h6m-3-4h6m-5-2h6m-5 2h6m-5-2h6m-1 12h6m-3-6h6m-5 3h6m-3 1h6m0-5h6m-4-5h6m-5 12h6m-4-3h6m-4-6h6m-3 7h6m0-7h6m-5 10h6m8-3h6m-5-2h6m-5-7h6m-2 5h6m-4 6h6m-1-9h6m0 3h6m-5-1h6m-4-5h6m-3 10h6m-2-6h6m-6 6h6m-4-10h6m-1 6h6m-1-5h6m-3 3h6m24 9h6m0-10h6m-4-4h6m-4 13h6m-3-2h6m-4-11h6m-3 7h6m-6 6h6m-4-9h6m-2 6h6m-4-6h6m-4 0h6m-5 8h6m-5-10h6m-3 5h6m-2-2h6m-4 9h6m-3-6h6m-5-2h6m1-6h6m-3 6h6m2 1h6m-5 6h6m-4-4h6m-5-6h6m-6 2h6m-5 4h6m0 5h6m-3-10h6m-2 2h6m-3 3h6m-5 4h6m2-10h6m-4-1h6m-13 18h6m-9 9h6m-7-14h6m-24 2h6m-9 10h6m-19 2h6m-14-7h6m-14-3h6m-13 10h6m-10-11h6m-11-3h6m-10 7h6m-10-5h6m-11 10h6m-8-6h6m-9-3h6m-8 5h6m-8 6h6m-16-13h6m-9 8h6m-7 3h6m-12-11h6m-8 12h6m-6 0h6m-6-6h6m-10-7h6m-19 3h6m-25 6h6m-10-5h6m-6 1h6m-12 3h6m-8 2h6m-10-8h6m-15 6h6m-7-8h6m-8 14h6m-7-9h6m-8-1h6m-6-3h6m-17 13h6m-8-11h6m-10-3h6m-7 14h6m-11-14h6m-7 11h6m-9 3h6m-11-5h6m-8 5h6m-18-7h6m-8 7h6m-7-2h6m-8-1h6m-9 3h6m-9-5h6m-9-5h6m-9-2h6m-8-2h6m-7 10h6m-6-9h6m-6 11h6m-9-4h6m-7 0h6m-10 1h6m-9-6h6m-9 9h6m-11 2h6m-6 0h6m-7-9h6m-11 0h6m-7 4h6m-9 0h6m-6-3h6m-11-3h6m-13 11h6m-9 0h6m-12-13h6m-8 4h6m-11 0h6m-7 6h6m-6 1h6m-10 0h6m-7-6h6m-8 1h6m-10-5h6m-7 2h6m-10-3h6m-7 7h6m-7-2h6m-6 0h6m-8 1h6m-9 5h6m-12-12h6m-8 5h6m-7-5h6m-9 2h6m-9 1h6m-6 3h6m-7-1h6m-8 9h6m-6-1h6m-8-2h6m-9-2h6m-10-9h6m-9 11h6m-9-9h6m-8 6h6m-7-8h6m-7 14h6m-9 9h6m-5-6h6m-3 11h6m-6 1h6m1 0h6m-2-6h6m0-6h6m-5 11h6m-3-1h6m-6-6h6m-5 4h6m2-3h6m-3 2h6m10-2h6m-4-7h6m-3 10h6m-3-3h6m-6 3h6m3-1h6m-3-7h6m-4 6h6m-6-8h6m-5 14h6m-2-8h6m-3-3h6m-5 3h6m-4-3h6m-3 11h6m1-4h6m-5-4h6m-1 5h6m-6 1h6m2-5h6m-1 3h6m-6-3h6m-1-1h6m-1 8h6m-4-5h6m1-8h6m1 10h6m-5 0h6m6-4h6m-5 2h6m-5 0h6m-6-7h6m-5 12h6m-4-12h6m-2 1h6m-3 10h6m0-1h6m-6 2h6m6-9h6m3-2h6m-5 8h6m-6-5h6m-2 7h6m7-3h6m4-1h6m11-2h6m-4-6h6m2 3h6m-5-3h6m2 2h6m-4 10h6m-3-2h6m-1-7h6m2 3h6m3 5h6m-3-1h6m-2-5h6m3-2h6m-4 9h6m-5 1h6m-5-7h6m-4 5h6m-6 0h6m-3-8h6m1-3h6m-6 11h6m0-2h6m-4-3h6m-5-5h6m13 5h6m-5 5h6m-6-4h6m-2 6h6m-5-6h6m-2-6h6m-5 2h6m-3-2h6m-5 8h6m-4-7h6m-2 1h6m-34 11h6m-20 3h6m-8-3h6m-14 5h6m-12 6h6m-10-5h6m-16-2h6m-6-2h6m-10 10h6m-7-11h6m-17 3h6m-6 9h6m-9 1h6m-6-6h6m-12-2h6m-19-1h6m-8 3h6m-12 6h6m-15-7h6m-6-4h6m-16 8h6m-11 0h6m-14 3h6m-19-14h6m-14 6h6m-12 1h6m-19 7h6m-7-6h6m-14 3h6m-13-3h6m-13-1h6m-11 5h6m-12-12h6m-7 11h6m-10-3h6m-7-5h6m-10 1h6m-6 8h6m-7-4h6m-11-4h6m-12-1h6m-7-2h6m-7 13h6m-9-8h6m-8 7h6m-7-2h6m-7-2h6m-9 4h6m-7-13h6m-7 13h6m-6-6h6m-14-5h6m-11 6h6m-9 5h6m-6-1h6m-7 2h6m-7-2h6m-9-9h6m-8 11h6m-13 0h6m-10-12h6m-16-1h6m-8 11h6m-11-5h6m-10 3h6m-7-6h6m-8 2h6m-10 8h6m-8-12h6m-11 12h6m-7-12h6m-9 9h6m-7 0h6m-10-8h6m-6 9h6m-9-3h6m-18-1h6m-8-7h6m-9 0h6m-1 14h6m-2 5h6m1 9h6m5-7h6m-3-5h6m-5 10h6m-3-4h6m-6-6h6m0 4h6m-1 1h6m-1-5h6m1 5h6m-4-1h6m-2 3h6m-6-8h6m4 7h6m-6-5h6m-2 1h6m-5-3h6m-1 8h6m2 2h6m-4 3h6m-1-13h6m-5 2h6m-4 8h6m-3 1h6m0 1h6m-6-11h6m-3 10h6m-1 0h6m-2-5h6m-1 5h6m10-4h6m-5 4h6m-4-8h6m-6 6h6m0-6h6m-5 10h6m13-13h6m-4 7h6m-5 6h6m10-7h6m-6-7h6m10 8h6m-3-7h6m23 0h6m-5 11h6m-4-7h6m11 2h6m6-2h6m-3-3h6m5-2h6m-100 23h6m-10-4h6m-12 10h6m-20-12h6m-12 10h6m-10-3h6m-6 5h6m-7-5h6m-7 0h6m-12-2h6m-33 3h6m-7-8h6m-8 3h6m-8-4h6m-13 11h6m-10-5h6m-7 3h6m-8-1h6m-9 0h6m-19 4h6m-10 1h6m-8-9h6m-10 5h6m-11-1h6m-10-5h6m-8 4h6m-9-5h6m-6-2h6m-9 3h6m-12-4h6m-10 4h6m-13 7h6m-10-10h6m-13 0h6m-12 5h6m5 16h6m-5 5h6m-5-5h6m-1-1h6m-3-5h6m-6 10h6m-6-3h6m-5-1h6m-5 1h6m-4-8h6m-2 6h6m-5-2h6m-5-1h6m-1-2h6m1 12h6m1 1h6m-5-9h6m-5-3h6m-6 4h6m-2 7h6m-5 1h6m-5-2h6m-3-12h6m-3 11h6m-6-3h6m-2 1h6m0-5h6m-5-2h6m-6 12h6m-5-5h6m-6-4h6m0 0h6m8-5h6m-4 5h6m-3-4h6m0 0h6m-3 10h6m-6-10h6m-5 6h6m-2-7h6m0 14h6m-5-10h6m-4 9h6m-4-13h6m-12 22h6m-13-7h6m-7 6h6m-13-5h6m-12 11h6m-6 0h6m-26-3h6m-6-6h6m-7-2h6m-11 1h6m-6 7h6m-14-3h6m-14 2h6m-7-3h6m-7 2h6m-9-3h6m-8 3h6m-8 2h6m-8-2h6m-6-1h6m-7 7h6m-7-11h6m-7 6h6m-10-2h6m-8-1h6m-7-4h6m-9 12h6m-10-3h6m-9-7h6m-6 3h6m-9 3h6m-9-5h6m-10-1h6m6 13h6m1 5h6m-4 6h6m-2-12h6m-5 3h6m-5 1h6m-6 6h6m-2-2h6m-1-5h6m-5 8h6m-5-5h6m-4-1h6m-5 4h6m-4-3h6m-6-5h6m3 7h6m13-1h6m-5 1h6m-2-4h6m-6 9h6m-5-4h6m-5-1h6m-9 9h6m-24-1h6m-11 13h6m-10-8h6m-6 6h6m-10-2h6m-7-3h6m-8-3h6m-6-2h6m-9 11h6m-11-13h6m-11 8h6m-8-6h6m-6 1h6m0 12h6m0 1h6m-4 0h6m-3 13h6m-1-10h6m-1 3h6m-2 3h6m-6-9h6m-5 1h6m9 2h6m-10 14h6m-14-1h6m-6-1h6m-20 0h6m-7-1h6m-8 0h6m-9 9h6m-7-3h6m-7-3h6m-12-1h6m6 13h6m-6 0h6" stroke="#74add1" stroke-width="6" stroke-linecap="butt" fill="none"/>
<path transform="scale(0.2)" d="M170 3326h6m-13 0h6m-50 4h6m-4 1h6m37 10h6m4 2h6m54-5h6m6 7h6m-144 11h6m-11-1h6m6 15h6m96 2h6m37 13h6m-37-9h6m-14 2h6m-33 9h6m-7-7h6m-8 4h6m-10-6h6m-38 0h6m-41 24h6m80-11h6m-1 0h6m-1 13h6m1-14h6m-7 26h6m-43 7h6m-1 5h6m-30 30h6m119 80h6m-13-2h6m-18-5h6m-11 5h6m-9-3h6m-9 4h6m-14 1h6m-69 1h6m-10-6h6m4 14h6m-4-1h6m17-3h6m-1 4h6m-5-2h6m0 6h6m0 0h6m-2-11h6m-4 6h6m-1-4h6m-5 11h6m8-3h6m2-7h6m0 5h6m-6-8h6m-3 8h6m-5-4h6m-3 3h6m5-4h6m-4 8h6m-5 3h6m4-13h6m0 5h6m-35 15h6m-11-5h6m-8 3h6m-10-2h6m-10-2h6m-8 9h6m-9-7h6m-10 12h6m-6-5h6m-11-2h6m-7 0h6m-7 2h6m-8-3h6m-8 4h6m-14-4h6m-8-3h6m-6 3h6m-7 2h6m-15-5h6m-20 8h6m-12-5h6m-22 6h6m-24-6h6m-7-3h6m-19 3h6m0 18h6m24 1h6m11-2h6m2-7h6m-4 10h6m-3-7h6m-4 1h6m-4 0h6m4 9h6m-2-9h6m4-5h6m-27 21h6m-18-4h6m-8-2h6m-30 13h6m-19 3h6m32 26h6m-22-12h6m-37 27h6m72-1h6m-40 9h6m-23-1h6m-3 11h6" stroke="#f46d43" stroke-width="6" stroke-linecap="butt" fill="none"/>
<path transform="scale(0.2)" d="M150 3398h6m-3-2h6m-12 15h6" stroke="#e0f3f8" stroke-width="6" stroke-linecap="butt" fill="none"/>
<path transform="scale(0.2)" d="M137 3395h6m10 7h6m-4-2h6m19 2h6m14 0h6m8-2h6m32 4h6m-57 7h6m-21-5h6m-8 2h6m-17-3h6m-8 0h6m-22 5h6m-10-4h6m-7 11h6m-17-11h6m228 81h6m2-2h6m-17 23h6m-10 1h6m-20-7h6m19 13h6m1 292h6" stroke="#c6e6f0" stroke-width="6" stroke-linecap="butt" fill="none"/>
<path transform="scale(0.2)" d="M215 3352h6m-17 3h6m-83 8h6m40 9h6m-2 21h6m5 11h6m-41 14h6m-16 13h6m-15 33h6m-4-10h6m16 10h6m45 0h6m-24 2h6m-11 25h6m-1 18h6m-32 13h6m5-12h6" stroke="#fee090" stroke-width="6" stroke-linecap="butt" fill="none"/>
<path transform="scale(0.2)" d="M137 3396h6" stroke="#f0f9dc" stroke-width="6" stroke-linecap="butt" fill="none"/>
<path transform="scale(0.2)" d="M307 3532h6m-13 2h6m-40 3h6m-29 10h6m0 7h6m-2-1h6m-6-3h6m-4 3h6m7-7h6m-4-1h6m34 3h6m-5 2h6m-32 10h6m-26-1h6m-6 4h6m-10-6h6m-11 7h6m-19 5h6m-21-11h6m-11 4h6m-9 21h6m7-5h6m1 29h6" stroke="#e64f35" stroke-width="6" stroke-linecap="butt" fill="none"/>
<path transform="scale(0.2)" d="M654 3358h6m-20-7h6m-19 7h6m-6-1h6m-7 1h6m-13 16h6m-2-11h6m-3 4h6m-2-2h6m2 4h6m-4-1h6m-5 6h6m3-5h6m-2 5h6m-3-3h6m-6 0h6m-5 1h6m-4-7h6m-4 1h6m0 6h6m-10 11h6m-8-8h6m-7 12h6m-7-4h6m-20-3h6m-8 9h6m-16-6h6m-10 5h6m-7-6h6m-12-4h6m-8 5h6m-7 3h6m-11-9h6m-7 14h6m-4 5h6m-6-5h6m2 6h6m-5 4h6m-6-9h6m-2 5h6m-6-5h6m-5 12h6m-6-1h6m-4-11h6m4 9h6m0 1h6m-5-7h6m-3 7h6m-5-3h6m-4 1h6m1-6h6m-14 23h6m-18-12h6m-16 10h6m-115 16h6m4 1h6m-5 2h6m99-11h6m6 7h6m-6-10h6m1 12h6m-6-7h6m-5 12h6m-8-1h6m-11 12h6m-15-1h6m-13-2h6m-84-5h6m-20 3h6m-21 5h6m-17 1h6m-6-11h6m-11 0h6m-8 0h6m-9 7h6m-7 2h6m-7-6h6m-7 5h6m-10-2h6m-10 2h6m7 18h6m-5-11h6m6-3h6m-5 5h6m-4 4h6m-4 2h6m5-11h6m-5 1h6m-6 9h6m-5-2h6m-3-6h6m-6 20h6m-7 4h6m-11-9h6m-8 8h6m-7-7h6m-11-2h6m-7-1h6m-12 1h6m-9 10h6m-12-11h6m-9 11h6m22 4h6m1 0h6m-3 6h6m-201 22h6m43 90h6m-88 16h6m53-2h6m48-1h6m82 0h6m-6-7h6m30-1h6m36-3h6m-79 24h6m-100-5h6m-80-4h6m-39 1h6m-50-1h6m-63 9h6m23 8h6m23 5h6m-2 6h6m107-11h6m-3 25h6m-45-4h6m-87 7h6m41 5h6m140 2h6m-25 22h6m-125-14h6m-35 18h6m235 7h6m13 2h6m7-10h6m16 9h6m-170 14h6m-83-9h6m25 22h6m209 11h6m-198 7h6m-114-5h6m-20-4h6m92 26h6m22-1h6m65-3h6m103-4h6m-290 21h6m-15-7h6m-52 15h6m101 22h6m-31-9h6m-56 25h6m-3-2h6m4-1h6m18 6h6m36 41h6" stroke="#4575b4" stroke-width="6" stroke-linecap="butt" fill="none"/>
<path transform="scale(0.2)" d="M217 3578h6" stroke="#d73027" stroke-width="6" stroke-linecap="butt" fill="none"/>
<path transform="scale(0.2)" d="M637 3355h6m-6 4h6m-14-7h6m-22 21h6m16-9h6m13 1h6m-1 20h6m-19 0h6m-11-9h6m-7 9h6m-24-5h6m38 12h6m-25 15h6m-7-2h6m-19 0h6m-10 10h6m-97 18h6m90-1h6m16 2h6m-2-5h6m-135 14h6m-29 0h6m-17 14h6m21-3h6m2 6h6m10-10h6m-14 15h6" stroke="#3b56a4" stroke-width="6" stroke-linecap="butt" fill="none"/>
<path transform="scale(0.2)" d="M625 3383h6" stroke="#313695" stroke-width="6" stroke-linecap="butt" fill="none"/>
<defs><linearGradient id="cb100" x1="0" y1="0" x2="0" y2="1"><stop offset="0.00" stop-color="#a50026"/><stop offset="0.10" stop-color="#d73027"/><stop offset="0.20" stop-color="#f46d43"/><stop offset="0.30" stop-color="#fdae61"/><stop offset="0.40" stop-color="#fee090"/><stop offset="0.50" stop-color="#ffffbf"/><stop offset="0.60" stop-color="#e0f3f8"/><stop offset="0.70" stop-color="#abd9e9"/><stop offset="0.80" stop-color="#74add1"/><stop offset="0.90" stop-color="#4575b4"/><stop offset="1.00" stop-color="#313695"/></linearGradient></defs>
<rect x="137.60" y="659.20" width="5.00" height="123.70" fill="url(#cb100)" stroke="none" stroke-width="0.6" />
<rect x="14.20" y="659.20" width="128.40" height="123.70" fill="none" stroke="#6d6e71" stroke-width="0.9"/>
<text x="16.40" y="779.30" font-size="9" text-anchor="start" font-weight="normal" fill="#231f20"  stroke="#231f20" stroke-width="0.1">CD62L</text>
<path transform="scale(0.2)" d="M833 3328h6m-27 1h6m-39 11h6m-4-10h6m5 11h6m-4-1h6m9-9h6m-5-1h6m4 1h6m-3-1h6m-4 7h6m0 7h6m4-13h6m-4 6h6m-3 5h6m8-6h6m2 1h6m8 4h6m-2-6h6m-2 5h6m12-1h6m24 19h6m-31-13h6m-8 6h6m-9-4h6m-6 3h6m-9 5h6m-14-5h6m-7 4h6m-8-9h6m-7 9h6m-9 1h6m-12-2h6m-22-8h6m-10 10h6m-11-1h6m-11-6h6m-16 6h6m-7 5h6m-9-9h6m-8 7h6m-7 2h6m-7-10h6m-7-3h6m-8 0h6m-15 7h6m-24-1h6m-8-6h6m-8 10h6m-8-5h6m-9-3h6m-13 2h6m-11-4h6m-17 3h6m-11-4h6m-7 3h6m-14 0h6m-8 9h6m-7-10h6m2 16h6m0-2h6m-2 4h6m-5 6h6m-2-8h6m-5 1h6m-4-2h6m0 1h6m-4 5h6m0-4h6m-3 4h6m3 1h6m-6-2h6m-4-3h6m0 5h6m-6-5h6m-5 6h6m-2-6h6m-5 1h6m-2 7h6m-4-10h6m-5 0h6m31 0h6m0-2h6m-3 0h6m3 11h6m-5-6h6m1-5h6m-2 7h6m-5 4h6m-6-8h6m-3 7h6m-4-3h6m-4 7h6m-6-10h6m-3 10h6m-5-14h6m-5 0h6m10 13h6m-4-1h6m6 4h6m-10 12h6m-35-2h6m-6 1h6m-10-8h6m-7 0h6m-6 4h6m-10 4h6m-8 0h6m-7 2h6m-11-13h6m-8 12h6m-8-10h6m-6 4h6m-9 1h6m-9-6h6m-8 12h6m-7-10h6m-31-4h6m-7 9h6m-6 5h6m-9-6h6m-10 2h6m-16-4h6m-10 3h6m-16-8h6m-6-1h6m-9 8h6m-7-2h6m-11 5h6m-9 0h6m-6-9h6m-10 7h6m-12-4h6m-11 9h6m-10-12h6m-6-1h6m-9 3h6m-10 9h6m-7-9h6m-7 8h6m-18-11h6m17 22h6m4 3h6m-2-9h6m-5 11h6m-2 1h6m-5-6h6m-5-7h6m-4 10h6m-6-10h6m9 10h6m-3 1h6m-5-6h6m1 3h6m-2-3h6m-5-1h6m7 6h6m-3 2h6m-4-6h6m-2 4h6m-3-3h6m-5 4h6m-1-11h6m-2 8h6m1-4h6m-5-5h6m-2 6h6m-4-6h6m-6 13h6m-5-4h6m6-8h6m-5 12h6m0-6h6m-4 4h6m-2-5h6m11 4h6m-5-1h6m-19 8h6m-15 6h6m-8-7h6m-7 7h6m-9 2h6m-7-1h6m-10 2h6m-17-11h6m-6 8h6m-8-6h6m-16 5h6m-6 4h6m-8-10h6m-8 10h6m-18 0h6m-10-4h6m-7-4h6m-14 3h6m-8-3h6m-11 9h6m-7 2h6m-10-6h6m-8-8h6m-9 11h6m-19-4h6m-9 6h6m-9-11h6m-8 10h6m-8-3h6m-10-2h6m-11 3h6m-7 1h6m-6-9h6m-7 10h6m-8-11h6m-7 3h6m-8 0h6m-11-2h6m-9 1h6m24 20h6m-4-2h6m-6 4h6m8 3h6m5-9h6m-6 0h6m2 3h6m10-3h6m0 2h6m-5 1h6m-3-3h6m-6 4h6m2-4h6m-1-2h6m-5-1h6m-14 23h6m-11-1h6m-8-4h6m-7 7h6m-32-9h6m-9 7h6m-8 3h6m-13-8h6m-25-2h6m-9 5h6m-12-2h6m-12 20h6m-4-1h6m7-3h6m-4-4h6m9 2h6m-2 8h6m-4-6h6m-6 1h6m17 2h6m-4 3h6m-1-9h6m0-3h6m-3 6h6m-18 18h6m-17 0h6m-8-8h6m-7-1h6m-14 13h6m-7-1h6m-6-9h6m-6-2h6m-7 9h6m-14-2h6m-10 6h6m-10-12h6m-22 4h6m-10-2h6m7 25h6m5-10h6m-3 8h6m-6-12h6m-5 14h6m25 0h6m-5-13h6m-6 7h6m2-8h6m179 27h6m-224-7h6m-12 6h6m-19-4h6m-14-1h6m-5 22h6m-3 0h6m-5-12h6m0 5h6m1-3h6m-4 2h6m-4 6h6m0-4h6m6-1h6m-2 5h6m-6 9h6m-19 1h6m-9 4h6m-10-7h6m-7-2h6m-16 11h6m-4 9h6m-5-3h6m7 10h6m11-5h6m64 2h6m11-4h6m-35 15h6m-70-3h6m-34 5h6m-9 18h6m34-4h6m42 21h6m-36 0h6m-14 0h6m-7-3h6m-9 3h6m-9-7h6m-35 2h6m-16 9h6m25 2h6m1 0h6m-1 0h6m-4 1h6m-3 7h6m-3-4h6m5 2h6m1-7h6m6 0h6m69 18h6m-92 0h6m-14 2h6m-10-4h6m-8 8h6m-7-7h6m-17 9h6m-16-6h6m-14-5h6m-26 2h6m62 10h6m-4 4h6m0 1h6m3 0h6m-5-5h6m105 13h6m-117 13h6m-19 0h6m-10-5h6m-11 3h6m-10 1h6m-14-7h6m5 14h6m3 4h6m39-5h6m5 25h6m-48-5h6m-16 16h6m27 3h6m19-1h6m14-7h6m6 7h6m-4 2h6m-14 16h6m-62 3h6m41 9h6m32 2h6m-101 4h6m-12 13h6m-12-5h6m-11-1h6m18 20h6m47-4h6m52-5h6m-35 26h6m-26-13h6m-13 11h6m-62-11h6m-22 5h6m47 18h6m61-2h6m3-5h6m-2 9h6m26 10h6m-41-3h6m-9-1h6m-6 10h6m-9-8h6m-12 5h6m-12-9h6m-11 0h6m-6 14h6m-18-12h6m-18-1h6m-8 4h6m-14 9h6m-10-7h6m-13 3h6m-23-5h6m-23 0h6m16 23h6m24-4h6m-6 4h6m0-13h6m-2 12h6m3-6h6m-6 7h6m-5-7h6m-3-6h6m-4 13h6m0-9h6m8-1h6m6 10h6m-5-11h6m10 15h6m-10 4h6m-24-4h6m-13 1h6m-7 4h6m-11 3h6m-11 1h6m-6 0h6m-7-3h6m-7 2h6m-9-4h6m-12-6h6m-9 9h6m-13 2h6m-8-5h6m-10-3h6m-7 10h6m-13-9h6m-10-2h6m-6 9h6m-12-10h6m-7 12h6m-11-9h6m-8-4h6m-3 22h6m-5 7h6m-3-13h6m-3 9h6m-6 4h6m-2-1h6m-6-5h6m-1-8h6m-5 12h6m-3-10h6m0-1h6m2 13h6m-6-2h6m-1-6h6m-4 8h6m16-5h6m1 1h6m-10 5h6m-12 13h6m-9-13h6m-11 2h6m-9 8h6m-9 0h6m-9-2h6m-8-3h6m-7 2h6m-6-4h6m-12 4h6m-7-5h6m-6 3h6m-13 0h6m-7-2h6m-8-3h6m-9 1h6m-6 12h6m-13-11h6m-6-2h6m-9 9h6m-8 2h6m-4 11h6m0 6h6m14-3h6m-3-5h6m-5-4h6m-8 15h6m-11 0h6m-7 2h6m-19 10h6m-3 2h6" stroke="#abd9e9" stroke-width="6" stroke-linecap="butt" fill="none"/>
<path transform="scale(0.2)" d="M842 3328h6m-25-4h6m-16 4h6m-34 0h6m-23 12h6m8 3h6m-3-7h6m-3 8h6m-5-12h6m6 5h6m0-1h6m-5 5h6m-4 1h6m-2-3h6m-2 5h6m9-12h6m3 12h6m-2-12h6m7 8h6m3 4h6m-1-8h6m-5 3h6m-4-4h6m-2 0h6m-1-1h6m-4 6h6m13 2h6m-5 2h6m-5-2h6m15 16h6m-15-10h6m-6 5h6m-15-3h6m-11-2h6m-7 11h6m-13-10h6m-11 2h6m-10 0h6m-8-1h6m-27 2h6m-14-7h6m-6 4h6m-15-1h6m-7 11h6m-40 0h6m-7-6h6m-7 2h6m-9-2h6m-9-3h6m-9 5h6m-7 3h6m-9 0h6m-6-5h6m-10-8h6m-16 4h6m-11 5h6m-13-1h6m-13-6h6m-14 4h6m-7 3h6m1 8h6m-5 12h6m-4-10h6m-3 6h6m-4-4h6m-3 2h6m-5 3h6m-4-10h6m-6 5h6m0 7h6m-4-4h6m-5-1h6m8-3h6m-3 7h6m-1-2h6m-5-3h6m4 1h6m-5 4h6m-3-4h6m-4 6h6m-4-5h6m-6 1h6m16 1h6m-2-5h6m-1-5h6m5 7h6m-2 4h6m3-8h6m-2 0h6m-5-1h6m-4 9h6m-3-3h6m-5-5h6m-5 4h6m-5-5h6m4 2h6m-6-5h6m4 13h6m-2-3h6m-4-10h6m-2 6h6m-6 5h6m-4-4h6m2-7h6m0 26h6m-7-2h6m-11-3h6m-12 5h6m-27 0h6m-17-3h6m-10-2h6m-8-3h6m-10 11h6m-10-7h6m-7 1h6m-8-8h6m-8 10h6m-23-4h6m-8-2h6m-6 8h6m-10-11h6m-16 2h6m-11 2h6m-9 0h6m-8-2h6m-8 6h6m-9 0h6m-11 1h6m-7-7h6m-7-1h6m-13 8h6m-6-7h6m-9 1h6m-9-1h6m-11 11h6m-8-2h6m-10-7h6m-14-1h6m-7 1h6m-7-3h6m-14 7h6m-8-2h6m-9-6h6m-7 4h6m-6 3h6m-8-1h6m-8-1h6m1 10h6m-2-1h6m-5 1h6m-5 5h6m-5 8h6m-2-7h6m-4 3h6m6-4h6m1 1h6m0-1h6m-5-4h6m1 0h6m0 12h6m0-1h6m5-5h6m-1 5h6m2-5h6m-5 3h6m-6-6h6m5 5h6m-3 2h6m1-9h6m-6 5h6m-5-2h6m4-2h6m-4 3h6m-1-7h6m-5 2h6m0 4h6m-6 5h6m-3-4h6m3 3h6m-3-4h6m2 7h6m0-4h6m-6-6h6m-26 15h6m-11 1h6m-11 8h6m-11-12h6m-10 1h6m-10 0h6m-25 10h6m-16 2h6m-16-8h6m-9 8h6m-7-5h6m-15 2h6m-8 1h6m-11-11h6m-9 11h6m-11-4h6m-7 6h6m-6-9h6m-22 6h6m-17 0h6m-8-1h6m-7-4h6m-3 14h6m3 10h6m6-10h6m1 6h6m-6 4h6m-5-13h6m-3 12h6m-3-4h6m10-7h6m-6 11h6m-4-3h6m-3-8h6m0 1h6m0 11h6m5 8h6m-11 4h6m-9-11h6m-33 10h6m-24-10h6m-19 13h6m-21-12h6m-5 20h6m-1-3h6m-3 11h6m20-13h6m9 13h6m20-4h6m-3 17h6m-9-3h6m-7-9h6m-24 2h6m-13 5h6m-30-3h6m-20 5h6m-11-1h6m-9 15h6m-5-4h6m-3 6h6m9-3h6m6-7h6m33 11h6m-7 4h6m-10 7h6m-18-2h6m-8-5h6m-8 5h6m-38 4h6m-20-8h6m7 15h6m-5 3h6m-6-1h6m5 17h6m1 11h6m10-1h6m-4 12h6m29-2h6m-66 28h6m82 44h6m66 114h6m-64 8h6m83 18h6m7 7h6m-10 0h6m-35 6h6m20 14h6m-4-6h6m-3 10h6m49 8h6m-23 7h6m-24-2h6m-15 3h6m-8-1h6m-28-8h6m-17 2h6m-9 7h6m-30-5h6m-18-2h6m-19 7h6m5 7h6m12-5h6m15 12h6m14-12h6m2 0h6m2 10h6m-6 1h6m-3-11h6m-2 11h6m-2-1h6m1-1h6m12 8h6m-45 9h6m-9 0h6m-7-3h6m-13-2h6m-10-5h6m-25 5h6m-18 5h6m-8 1h6m-12-3h6m-11-4h6m-9-4h6m-13 2h6m5 11h6m0 12h6m-2-12h6m-5 10h6m-4-10h6m-6 8h6m0-1h6m-2 2h6m3 0h6m-5-3h6m-6 2h6m-3 6h6m-5-3h6m7-6h6m-6 7h6m3-5h6m-5 0h6m-3-5h6m2 4h6m-1 1h6m-8 9h6m-11 7h6m-10 3h6m-14-1h6m-11-9h6m-7 11h6m-26-5h6m-12-2h6m-6 6h6m-15 10h6m0-5h6m2 2h6m-2 5h6m-4-8h6m-4 11h6m-4-9h6m-1 8h6m-3-4h6m-2-6h6m-2 9h6m-2-8h6m-22 15h6m-15 4h6m-13-5h6" stroke="#90c3dd" stroke-width="6" stroke-linecap="butt" fill="none"/>
<path transform="scale(0.2)" d="M779 3331h6m5 0h6m533 26h6m-11 0h6m-31-3h6m-9 0h6m-538-8h6m520 25h6m-6-7h6m-3-3h6m-5 7h6m5-8h6m-5 1h6m-4 7h6m-3 6h6m2-4h6m-5-7h6m3-3h6m-6 5h6m-6 0h6m-5 9h6m-4-11h6m1 7h6m-8 18h6m-11-5h6m-6-1h6m-9 0h6m-7 2h6m-13-1h6m-10-5h6m-6 1h6m-9 3h6m-6-3h6m-8 7h6m-7-9h6m-7 6h6m-8-1h6m-14 1h6m-9-6h6m-7 4h6m-9 8h6m-6-13h6m-8 7h6m-7-2h6m-13 6h6m-365 11h6m361-6h6m-3 3h6m-5 6h6m-5-6h6m-6 0h6m-3-5h6m-5 10h6m-3 1h6m-5 0h6m-6 0h6m-4-9h6m-6 10h6m-4-12h6m-4 1h6m-5 13h6m-5-4h6m-6-1h6m-5-4h6m-3 4h6m-5-1h6m-3-1h6m-5 1h6m-4 20h6m-13-7h6m-13 0h6m-124 20h6m96 0h6m-4-6h6m5-5h6m-5 9h6m-6-2h6m-2-4h6m-3 0h6m8-2h6m-12 27h6m-6-2h6m-11-5h6m-13 4h6m-15-10h6m-11 6h6m-6-1h6m-85 9h6m-8-12h6m-10 8h6m-8 0h6m-12 4h6m-8-6h6m-14-2h6m-9 7h6m-15-11h6m-7 11h6m-12-3h6m-303-10h6m2 17h6m276 1h6m40 8h6m-4 0h6m-6-5h6m-2-2h6m0 2h6m0-4h6m68-2h6m-103 21h6m-7-1h6m-11 7h6m-9 1h6m-24-12h6m-8 5h6m-133 11h6m5 1h6m107-2h6m30 1h6m6 12h6m-4-12h6m-4 6h6m-9 12h6m-15-4h6m-168 0h6m-23 0h6m-42 20h6m3-1h6m7 7h6m198-11h6m-5 4h6m-4 19h6m-8-3h6m-11-6h6m-6 13h6m-6-6h6m-10 5h6m-12-3h6m-217-2h6m-41-6h6m-24 11h6m-9 15h6m39-5h6m42 7h6m179-11h6m0 24h6m-189-8h6m-85-1h6m-32 7h6m-14-5h6m253 24h6m-5-4h6m-4 2h6m12-10h6m4 9h6m-6-3h6m-6 2h6m-1-9h6m-4 25h6m-6-10h6m-7 4h6m-10 1h6m-6 4h6m-14-10h6m-14 11h6m-32-2h6m-60 5h6m-299 0h6m188 7h6m57 2h6m66 1h6m15-2h6m-1 7h6m6-5h6m7-6h6m-6 3h6m-2 0h6m0 0h6m4-4h6m19 9h6m-4-1h6m0-9h6m-1 2h6m-28 23h6m-11-1h6m-28-5h6m-8 0h6m-24-1h6m-10 6h6m-9-7h6m-11 9h6m-28 2h6m-15-13h6m-7 6h6m-46-5h6m-14 8h6m-18-4h6m-18 5h6m-27 0h6m-62 1h6m-43-7h6m-7 5h6m-31-3h6m-10 4h6m-6 2h6m-8-1h6m-27-12h6m-20 19h6m105 6h6m8-9h6m2 2h6m9 1h6m87-3h6m-3 4h6m24 0h6m0-4h6m5 10h6m8 3h6m12-8h6m8-2h6m12-4h6m-5 8h6m-11 7h6m-9 9h6m-15-5h6m-22-1h6m-18 10h6m-34-6h6m-10-5h6m-10 5h6m-12 4h6m-8-7h6m-14-2h6m-7 6h6m-7 0h6m-16-8h6m-9 4h6m-17 1h6m-8 7h6m-26 2h6m-38-5h6m-98 0h6m-28-8h6m-100 28h6m101-12h6m10 0h6m-5-2h6m53 12h6m38-12h6m33 7h6m-2-6h6m6 2h6m5 2h6m0 2h6m16 2h6m5-4h6m1 1h6m-2-2h6m3 3h6m7 5h6m-3-12h6m16 10h6m-4-1h6m0-6h6m4 10h6m-3 15h6m-25-5h6m-8-8h6m-8 6h6m-7 3h6m-7 5h6m-12-5h6m-33 1h6m-7 0h6m-18 1h6m-9-8h6m-7-3h6m-8 9h6m-9-7h6m-7-1h6m-11 0h6m-7 12h6m-10-6h6m-14 3h6m-9-5h6m-7 2h6m-10 0h6m-34 4h6m-10-5h6m-12-5h6m-7 12h6m-18-13h6m-59 7h6m-25-7h6m-54 1h6m-10 11h6m-6-11h6m-13 0h6m-25 24h6m29-2h6m25 6h6m71-9h6m-3 2h6m1-2h6m0 6h6m8-8h6m-4 3h6m-2 6h6m14-10h6m10-2h6m-1 13h6m24-7h6m2-6h6m-4 7h6m1-3h6m-5 2h6m-3-3h6m-6 7h6m2 0h6m-2-3h6m-2-2h6m-1 3h6m5 13h6m-7 7h6m-8-3h6m-18-8h6m-13 8h6m-10-3h6m-29 1h6m-12-3h6m-8-3h6m-9 5h6m-7 4h6m-7 2h6m-8 0h6m-17-5h6m-11 4h6m-14-10h6m-8 0h6m-11 12h6m-14-13h6m-7 0h6m-8 0h6m-9 10h6m-26 3h6m-13-8h6m-13-6h6m-8 10h6m-14-9h6m-75 2h6m-17-2h6m-26 6h6m-14 5h6m-32 1h6m-8-5h6m-29 20h6m45-7h6m4 0h6m0-2h6m19 10h6m-3-13h6m19 9h6m-2-2h6m-6 2h6m20-6h6m-1 4h6m1-2h6m-5 8h6m5 0h6m11-4h6m-1-6h6m-6-3h6m-4 5h6m-2-3h6m3 8h6m7-6h6m1 6h6m10 2h6m2-10h6m-4 0h6m-5 4h6m-2 6h6m0-6h6m9 1h6m-5 3h6m-3-9h6m14 10h6m-6-10h6m2-1h6m-4 8h6m-7 9h6m-28 4h6m-7-6h6m-20 1h6m-10-2h6m-28 0h6m-11 8h6m-7-8h6m-7 11h6m-7-9h6m-6 4h6m-13-3h6m-8 0h6m-12 9h6m-8-1h6m-7-6h6m-16 8h6m-7-11h6m-11-2h6m-10 7h6m-16 7h6m-7-6h6m-10 6h6m-6-7h6m-16 6h6m-8-13h6m-17 0h6m-32 14h6m-13-13h6m-9 7h6m-9 2h6m-12 2h6m-10-2h6m-30-1h6m-6-8h6m-34 1h6m-10 11h6m-18-12h6m-34 11h6m-9-8h6m-11 3h6m-23 7h6m-12-14h6m54 29h6m7-6h6m5 6h6m-4-13h6m-4 13h6m9-12h6m2 4h6m-6 6h6m16-7h6m-1 0h6m-6-5h6m15 0h6m0 3h6m4 9h6m1-6h6m-3 5h6m45-3h6m-4-8h6m-6 9h6m3-7h6m-4 4h6m17-3h6m-5-3h6m12 11h6m-2-9h6m-25 18h6m-30 1h6m-36 3h6m-8 3h6m-37-6h6m-42 3h6m-37 4h6m-6-5h6m-38-4h6m-11 1h6m-9-1h6m-12 3h6m-9 4h6m-14-5h6m-13 0h6m-23 6h6m-18-12h6m-9 20h6m19 1h6m1 7h6m28-5h6m6-6h6m13 9h6m9-7h6m33 8h6m14-10h6m-4 0h6m-53 13h6m-93 4h6m-13 4h6m-29 5h6m-22-10h6m-40 7h6m-7 3h6m34 10h6m29-8h6m46 4h6m12-3h6m-20 15h6m-98 5h6m62 12h6" stroke="#f46d43" stroke-width="6" stroke-linecap="butt" fill="none"/>
<path transform="scale(0.2)" d="M808 3343h6m-3-5h6m46 2h6m27 0h6m2 10h6m-25 0h6m-42 2h6m-12 1h6m-33 1h6m-21 5h6m-38-14h6m-14 16h6m7 8h6m-4 3h6m3-11h6m-4 10h6m14-7h6m0 10h6m50-12h6m-5 5h6m35 4h6m12 3h6m-5-1h6m9 10h6m-41 1h6m-47-7h6m-61 3h6m-12 6h6m-28-6h6m-8 17h6m-1 2h6m12-7h6m-5 3h6m19 0h6m6-4h6m5 11h6m3 2h6m-4-6h6m0-5h6m-5 5h6m3 3h6m0-4h6m14 5h6m-1-12h6m5 0h6m2 0h6m-20 19h6m-14 7h6m-8-8h6m-15 7h6m-16-8h6m-30 0h6m-11 0h6m-18 3h6m-26-3h6m-27 3h6m-27 2h6m11 22h6m-5 0h6m28 0h6m-3-12h6m8 6h6m3 6h6m1-8h6m-4 3h6m8 19h6m-10 0h6m-13-9h6m-12-4h6m-14 7h6m-11-3h6m-34 5h6m-30-1h6m-7-5h6m-16 18h6m6-5h6m12 13h6m-3-1h6m0-3h6m31 1h6m10-8h6m-32 18h6m-6-3h6m-7 4h6m-22 0h6m-46 12h6m4 2h6m-1 3h6m12-6h6m-2 0h6m9 5h6m-5 5h6m-17 14h6m-7-5h6m-20 2h6m-16-6h6m-7 0h6m-9 1h6m-13 9h6m-8-7h6m-6 3h6m4 13h6m17 4h6m12 0h6m-2-3h6m-3 4h6m65 12h6m-75 3h6m-20-6h6m-10 4h6m-16 2h6m-19-6h6m24 19h6m0-7h6m67 9h6m-17 16h6m-6-2h6m-21 3h6m-10-13h6m-16 11h6m-12-1h6m-10-1h6m-26 2h6m-28 1h6m-10-1h6m-9 11h6m-4 6h6m30-11h6m2-3h6m-4 7h6m-5 0h6m-5-7h6m2 5h6m-4 6h6m-1 16h6m-7 1h6m-13-12h6m-19 5h6m-7 6h6m-9-5h6m-8 3h6m-15-7h6m-20 10h6m-16-7h6m-13-1h6m-6-4h6m-2 14h6m-4 8h6m0-8h6m7 9h6m-4 3h6m-1-11h6m-1 0h6m-4-1h6m-5 12h6m-5-10h6m-4 2h6m-6-3h6m-6 12h6m-4-7h6m-5 5h6m-5-6h6m-5 0h6m-5 5h6m-5-8h6m-6-2h6m-4 11h6m1 3h6m-6-9h6m-4 1h6m-5-5h6m-4 6h6m-6-2h6m-5 5h6m-5-3h6m-3 2h6m-3 1h6m-1 3h6m-5-4h6m1-1h6m-3 3h6m71 13h6m-13 0h6m-21 3h6m-18-12h6m-11 7h6m-15 7h6m-22-7h6m-13-6h6m-20 5h6m-7-4h6m-10 0h6m-6 0h6m-6 10h6m-10-1h6m-6 0h6m-7-6h6m-12-1h6m-9-1h6m-7 1h6m-7 4h6m-8-4h6m-9 8h6m-11-9h6m-8 1h6m-10 9h6m-6-9h6m-7 5h6m-7 5h6m-23-7h6m-8-7h6m-6 13h6m-16 0h6m-8-13h6m-9 14h6m-7-14h6m0 25h6m-6 1h6m-3-3h6m2-8h6m-5 1h6m3-1h6m-6 2h6m0 2h6m-6 3h6m-6 1h6m-1-6h6m-5 2h6m-6 8h6m-5-8h6m-4 1h6m-3 6h6m-4-2h6m-1 3h6m-4-1h6m-6-6h6m-4 6h6m2-11h6m-3 9h6m6-2h6m-4 4h6m-5 3h6m-4-12h6m-5 4h6m-3 0h6m-3 2h6m15 4h6m8 2h6m-2-6h6m31 1h6m25 13h6m-86-5h6m-17 11h6m-12-4h6m-6-9h6m-8 12h6m-7-8h6m-11 9h6m-7 0h6m-16-12h6m-8 6h6m-9 0h6m-18-1h6m-6 7h6m-11 0h6m-6 0h6m-9-4h6m-12-3h6m-7 1h6m-7 4h6m-7-8h6m-8 6h6m-7-9h6m-10 14h6m-9-8h6m-10 0h6m-19 5h6m-2 6h6m-4 3h6m6-4h6m1-1h6m-5 8h6m-6-7h6m-3 6h6m-6-2h6m-4 0h6m-2-3h6m-4 2h6m-4 0h6m-6 4h6m-4-1h6m-6-3h6m-4 9h6m-5-2h6m-5-3h6m-3 4h6m-4 0h6m24-7h6m-3 6h6m-2 2h6m-4-2h6m7-3h6m-3-3h6m0-1h6m0 2h6m19-6h6m-5 10h6m26-10h6m-3 0h6m19 13h6m-1 7h6m-77 3h6m-11 2h6m-19-9h6m-9 10h6m-31-7h6m-30-2h6m-23 4h6m-11 8h6m-9-4h6m-12 7h6m-2 3h6m11 6h6m-5-1h6m-6-9h6m3 10h6m-6-6h6m14 6h6m-3-10h6m7 10h6m-4 2h6m-2 0h6m24-12h6m6 3h6m14-2h6m-10 24h6m-16 1h6m-26-5h6m-26-4h6m-12 8h6m-19-3h6m-10 4h6m-9-10h6m-7-1h6m-11 12h6m-17-9h6m-9-4h6m-14 7h6m-15 4h6m-19-5h6m2 15h6m-5-1h6m-1 6h6m5-1h6m-2 3h6m-4-2h6m-2-2h6m7-3h6m0-2h6m-1 6h6m-5-6h6m-4 4h6m-5 5h6m-4 1h6m2-9h6m2-1h6m29 1h6m12 14h6m-9 7h6m-16 0h6m-17-2h6m-16-9h6m-15 3h6m-10 6h6m-10-8h6m-15 2h6m-7 2h6m-11 2h6m-9-2h6m-8-5h6m-6 6h6m-9 7h6m-9 0h6m-6-12h6m-20 11h6m-7-5h6m-11 3h6m-19-4h6m-10-4h6m-9 11h6m-7-1h6m-6-9h6m-9 4h6m-6 14h6m3-5h6m5 7h6m-6 4h6m-5 0h6m-6-11h6m-5 6h6m-3-6h6m-4 10h6m0-2h6m-6-2h6m-4-7h6m-3 1h6m-6 3h6m-5 7h6m-2-8h6m-4 4h6m9-6h6m-6 4h6m-6-2h6m-4 1h6m-2-1h6m4 7h6m22-5h6m0 7h6m-14 9h6m-14 8h6m-45-3h6m-6 3h6m-22-4h6m-23-3h6m-14-2h6m-7 9h6m-1 6h6m7-4h6m2-1h6m12 3h6m29 4h6m7 6h6m79 4h6m-80 4h6m-17-2h6m-7 1h6m-14 5h6m-12-1h6m-34-8h6m-8 11h6m-16 0h6m-13 2h6m-10-14h6m0 22h6m-1 4h6m11-6h6m41-2h6m21 0h6m-68 22h6m-13-3h6m-1 18h6m2 1h6m-2-7h6m15 5h6m-4 5h6m-2 8h6m-35-4h6m-14 9h6m27 19h6" stroke="#c6e6f0" stroke-width="6" stroke-linecap="butt" fill="none"/>
<path transform="scale(0.2)" d="M807 3328h6m-24 10h6m7 1h6m506 18h6m-7 0h6m-9-4h6m-536 0h6m-20-5h6m-11 9h6m-8-9h6m531 20h6m17 1h6m8 19h6m-17-4h6m-10 4h6m-38-1h6m-366 12h6m-7 6h6m-31 11h6m-28-5h6m-84 23h6m3-12h6m512 17h6m-10 7h6m-23 1h6m-87-5h6m-45-5h6m-7 1h6m-19 5h6m-370 1h6m363 7h6m8 25h6m-129-9h6m-273 21h6m250-1h6m16 13h6m-95 36h6m-13 0h6m-8-11h6m-74 18h6m5 10h6m-3 0h6m11-12h6m-5 11h6m-5-4h6m2-4h6m-2 9h6m131 7h6m-138-2h6m-16 1h6m-15 5h6m-22-4h6m-11-2h6m-98 26h6m133-13h6m216 7h6m7-4h6m-4 3h6m22 11h6m-7-1h6m-10 7h6m-7 3h6m-54-10h6m-7 5h6m-89-5h6m-150 2h6m-31-4h6m-18 10h6m-16 8h6m25 11h6m24-9h6m170 9h6m29-11h6m0 7h6m-3-1h6m4-7h6m-5 11h6m-5-3h6m2-6h6m-6 2h6m-4-6h6m-2 14h6m44-11h6m0 0h6m8 12h6m-20 12h6m-11-5h6m-17 6h6m-39 0h6m-12-13h6m-8 1h6m-12 9h6m-7-6h6m-10 9h6m-11-3h6m-28 4h6m-7-10h6m-21 2h6m-33 3h6m-23 1h6m-16-3h6m-94 4h6m-24-7h6m-34 0h6m-14 0h6m-8 4h6m-50 4h6m-3 15h6m18-8h6m28 0h6m-1-1h6m-2 1h6m8 4h6m114-7h6m4 2h6m0 7h6m7-2h6m1-1h6m-4-1h6m5 2h6m1-3h6m8 4h6m1-8h6m36 11h6m4-7h6m-5 9h6m26 0h6m-17 10h6m-11-6h6m-20 1h6m-8 10h6m-12-3h6m-29 2h6m-16-10h6m-40 1h6m-11 8h6m-22 1h6m-8-10h6m-9 10h6m-27-4h6m-27-1h6m-42-4h6m-100 4h6m-28 3h6m-46-7h6m-17 1h6m35 19h6m37-5h6m7 7h6m64 3h6m5-1h6m44-12h6m-2 1h6m1 12h6m-5-13h6m6 2h6m-4 6h6m9-5h6m-3-2h6m-1-1h6m8 7h6m16-1h6m5 4h6m-5-4h6m-3 1h6m-1-5h6m1 3h6m-4-5h6m10 4h6m-6 7h6m-1-4h6m4-8h6m-27 15h6m-10 7h6m-62 0h6m-22 7h6m-19-1h6m-19-13h6m-9 14h6m-23-5h6m-6-1h6m-67 1h6m-52 4h6m-11 1h6m-11-11h6m-13 8h6m-16-3h6m-30 2h6m-14-10h6m-23 2h6m-8 3h6m1 12h6m6 7h6m-6-1h6m-3-3h6m14-5h6m2 14h6m27-13h6m9-1h6m-1 5h6m1 5h6m-2 3h6m3-11h6m-4 2h6m39 3h6m-3 2h6m7-9h6m-1 4h6m-4-3h6m-3 6h6m-2-2h6m1 6h6m0-7h6m0 3h6m69-2h6m-4 5h6m39 1h6m-21 9h6m-23-4h6m-8 11h6m-11-11h6m-10 6h6m-18-4h6m-16 3h6m-32 6h6m-26-8h6m-10-2h6m-17 1h6m-8 8h6m-6-5h6m-8 6h6m-9 0h6m-21-3h6m-12-1h6m-99-4h6m-13-4h6m-7 4h6m-11 0h6m-7 5h6m-14-5h6m-18-4h6m-19 2h6m-33 0h6m0 21h6m-1-1h6m5 3h6m-4-10h6m-3 6h6m-3-4h6m2-1h6m19 8h6m-4-3h6m8 5h6m-4-8h6m3 7h6m4-2h6m3-1h6m4-1h6m1 2h6m32 5h6m17-12h6m11-1h6m7 2h6m-4 5h6m-4-2h6m8 4h6m3 0h6m53 0h6m3-6h6m-4 9h6m-2-8h6m-12 20h6m-20-2h6m-7 7h6m-54-4h6m-15-8h6m-8 0h6m-8 0h6m-6-2h6m-22 3h6m-44 1h6m-39 1h6m-19 8h6m-11 0h6m-14-12h6m-11 11h6m-24-7h6m-13-4h6m-7 7h6m-7 3h6m-11-1h6m-29-4h6m-7 5h6m-13-2h6m-8-5h6m-17 8h6m-9-2h6m-8 0h6m-16-1h6m-7 0h6m-7-6h6m-8 5h6m-13 3h6m-9-1h6m-15-1h6m11 15h6m-3 2h6m2-6h6m22-4h6m-1 13h6m-5-11h6m1 4h6m2-3h6m-2-3h6m-5 12h6m-5-3h6m11-7h6m2 0h6m-5 0h6m-5 8h6m-4 0h6m8-6h6m25 1h6m2-6h6m17 8h6m31 2h6m-5 4h6m3-9h6m7 0h6m2 6h6m7-11h6m-5 12h6m-5-11h6m-3 6h6m-5-3h6m-2 4h6m16-4h6m-24 11h6m-37 5h6m-17 3h6m-21 1h6m-14 4h6m-33-12h6m-9 13h6m-37-4h6m-7-5h6m-8-5h6m-31 8h6m-29-5h6m-8 5h6m-16-5h6m-9-1h6m-6 8h6m-12-10h6m-12 13h6m-18 1h6m-8-10h6m-6-3h6m-7 9h6m-27 3h6m-7-4h6m-14-2h6m-9 5h6m-23-7h6m-11 0h6m-23 5h6m-31-5h6m-1 16h6m4 3h6m-2 2h6m29-7h6m6 7h6m8 3h6m7-3h6m-4-7h6m-5 6h6m-3-7h6m-5 8h6m0-6h6m12 1h6m-1 4h6m1-10h6m2 9h6m-3-8h6m5 6h6m-4-6h6m-3 7h6m-3 1h6m6 1h6m2 0h6m25-3h6m2-6h6m0 6h6m-2-3h6m-5 1h6m-3-5h6m15 1h6m2-1h6m-115 21h6m-10 5h6m-7-10h6m-13 10h6m-25-3h6m-22 0h6m-7-3h6m-17 8h6m-12-13h6m-18 11h6m-9-9h6m-16 8h6m-11-10h6m-14 3h6m-13 11h6m-19-4h6m-20 9h6m0 4h6m4-8h6m-3 2h6m-3 7h6m-4-7h6m-1 0h6m50 4h6m11 8h6m7-11h6m16-2h6m-29 16h6m-20-2h6m-13 13h6m-84-2h6m-12-4h6" stroke="#fdae61" stroke-width="6" stroke-linecap="butt" fill="none"/>
<path transform="scale(0.2)" d="M848 3338h6m0-1h6m39 20h6m-41-1h6m-15-1h6m-95 13h6m29-5h6m26-1h6m-2 3h6m-4 8h6m-5 0h6m15-4h6m67 0h6m-5-6h6m1 3h6m-26 14h6m-37 1h6m-57 8h6m-20-4h6m-21-4h6m-11 6h6m-10-6h6m-24-3h6m-26 3h6m6 10h6m1 1h6m61 5h6m68-6h6m3 14h6m-17 4h6m-7-2h6m-20 9h6m-19-5h6m-60-5h6m43 41h6m-7-1h6m-26 9h6m210 6h6m-270 19h6m-6 22h6m7 14h6m194 181h6m-21 65h6m17 44h6m-10-6h6m-60 17h6m16-3h6m30 1h6m-56 23h6m-3 14h6m32 1h6m-5-3h6m-1-6h6m5 4h6m-2 3h6m-26 9h6m-7-4h6m-18 13h6m-9 3h6m-11 22h6" stroke="#74add1" stroke-width="6" stroke-linecap="butt" fill="none"/>
<path transform="scale(0.2)" d="M803 3326h6m-22 6h6m52-2h6m52 11h6m400 10h6m-7-1h6m-7 7h6m-15 2h6m-539-5h6m-13 0h6m525 13h6m-4 1h6m-5-4h6m-5-2h6m-6 12h6m-1-4h6m-3 0h6m-3-9h6m-5 4h6m-6 4h6m-3-6h6m-3 1h6m10 9h6m-2-8h6m-5-4h6m-4 13h6m-4-3h6m-13 18h6m-20-7h6m-21 4h6m-23-9h6m-356 11h6m-9-11h6m347 15h6m3 7h6m1 1h6m-6-10h6m-1 10h6m11 5h6m-9 8h6m-22 0h6m-7-8h6m-7 9h6m-395-4h6m-30 7h6m-73 7h6m22 1h6m9 2h6m15-7h6m421 9h6m11 9h6m-7 0h6m-20-3h6m-7 11h6m-14-10h6m-86 1h6m-17 3h6m-37 3h6m-17-1h6m-291 4h6m-18 0h6m-67-8h6m-28 6h6m271 18h6m4 2h6m81-11h6m-5 4h6m4-3h6m18 8h6m-1-10h6m3 4h6m-5 6h6m-3 2h6m0-14h6m77 0h6m-94 22h6m-13 3h6m-134-8h6m-6 1h6m-7 2h6m-6-5h6m-19 1h6m-8 11h6m-6-5h6m-10 2h6m-7-1h6m-6-5h6m-12 4h6m-261 16h6m256-8h6m11 3h6m131 2h6m3 8h6m-151 14h6m-14-10h6m-103 21h6m73-8h6m5 8h6m144 6h6m-6-5h6m-5-9h6m-4 13h6m-145 9h6m-37-6h6m-20 10h6m-10-4h6m-51 5h6m-10-11h6m-24 12h6m-16-6h6m-28 4h6m-20 13h6m1-2h6m19-1h6m-1 6h6m-6-8h6m1 1h6m1 7h6m3-5h6m-4 4h6m7-3h6m2-3h6m23 5h6m184 2h6m6 5h6m-166 5h6m-105-7h6m-25 1h6m-11 3h6m-9-2h6m-57 10h6m-73-8h6m60 11h6m209 7h6m81-2h6m-1 5h6m-5 4h6m-2-1h6m0-8h6m-1 2h6m7-3h6m22 24h6m-31-9h6m-8 4h6m-11-3h6m-6 1h6m-16 6h6m-9-3h6m-11-6h6m-6 10h6m-10-12h6m-14-1h6m-9 11h6m-9-3h6m-7 1h6m-10-4h6m-7-5h6m-297 7h6m-50 6h6m-18 0h6m68 8h6m10 6h6m176 2h6m3-2h6m-3-9h6m10 4h6m1 3h6m14 4h6m6-12h6m-4 3h6m-5 9h6m-5-12h6m5 9h6m-6-10h6m-5 3h6m-5 9h6m-3-13h6m-6 5h6m-6-3h6m-6 8h6m-4 4h6m-5-12h6m-4-1h6m-3-1h6m-5 6h6m-1-5h6m-3 13h6m-6-14h6m-4 4h6m4-4h6m-3 0h6m-6 2h6m-6-1h6m0 7h6m-3-2h6m-3-4h6m5 8h6m-4-9h6m-3 7h6m-2 0h6m-2 4h6m-2-9h6m7-1h6m-4 27h6m-26-13h6m-9 6h6m-8 2h6m-11-9h6m-11 1h6m-13-1h6m-6 4h6m-7 8h6m-14-9h6m-26-1h6m-6 9h6m-11-11h6m-6 4h6m-10 0h6m-15 4h6m-6-3h6m-18 7h6m-12-11h6m-15 3h6m-8 7h6m-15-11h6m-9 2h6m-11 0h6m-9 6h6m-10-2h6m-20 6h6m-14-7h6m-7 0h6m-10-4h6m-14 2h6m-9-2h6m-6 6h6m-16-7h6m-84 3h6m-11 5h6m-16 2h6m-13-1h6m-16-9h6m-17 12h6m-29-3h6m-19-3h6m-15 5h6m-7 0h6m-19-4h6m-19 15h6m9 2h6m34-3h6m16 6h6m10-3h6m54-5h6m24 1h6m10 5h6m-3-6h6m-3 8h6m7 0h6m-3-8h6m14 7h6m-6 1h6m6-3h6m-6-2h6m4-4h6m14 1h6m-3-3h6m-2 4h6m-5-2h6m7 3h6m11 7h6m-3 1h6m2-12h6m0 7h6m1-8h6m5 12h6m-1 1h6m-3-3h6m-6-11h6m-3 7h6m-4-3h6m0 6h6m1-7h6m-4 8h6m-8 14h6m-17-1h6m-17-5h6m-8 9h6m-8-10h6m-6 11h6m-8-11h6m-9 2h6m-7 0h6m-13 2h6m-9 7h6m-6-8h6m-8-2h6m-13 1h6m-9-1h6m-8 4h6m-7 2h6m-10 4h6m-13-3h6m-8-11h6m-6 0h6m-23 6h6m-16 3h6m-7 3h6m-15-5h6m-10-4h6m-9 8h6m-7-8h6m-16 2h6m-11 9h6m-6 0h6m-6-8h6m-8 8h6m-25-8h6m-8 2h6m-7-5h6m-13 0h6m-19 6h6m-53-4h6m-22 5h6m-26-10h6m-25 9h6m-11-3h6m-43 2h6m-22-4h6m-28 4h6m-50 6h6m-13 15h6m7-2h6m-6-10h6m63 6h6m1 0h6m4 2h6m6 1h6m1-11h6m-6 8h6m5-6h6m5 5h6m46 1h6m9-1h6m16-2h6m20-5h6m8 13h6m-2-11h6m0 4h6m-5 4h6m0 4h6m-2-4h6m-6-9h6m-5 12h6m-2-11h6m-5 4h6m-5-1h6m-5 1h6m-5-3h6m0 9h6m-2-12h6m12 9h6m-3-9h6m-2 1h6m-3 7h6m-5 1h6m0-7h6m-6 2h6m-5 3h6m-5-5h6m-4 1h6m-4 6h6m-2 2h6m-1 2h6m2 0h6m-5-10h6m-6 1h6m-4 1h6m-5 0h6m1 7h6m-1-7h6m-6 7h6m0 2h6m-4-10h6m-3 4h6m-3 0h6m-3-7h6m6 17h6m-16 8h6m-8-4h6m-7 5h6m-8-4h6m-7 4h6m-14 0h6m-11-12h6m-8 11h6m-7-7h6m-10 1h6m-7 0h6m-21 7h6m-15-3h6m-7-3h6m-7-1h6m-8 2h6m-6-4h6m-10 3h6m-12 6h6m-8 1h6m-9-5h6m-7-3h6m-9 6h6m-6-2h6m-8-4h6m-8-4h6m-7 4h6m-33 8h6m-9 0h6m-9-9h6m-6-3h6m-10 4h6m-9 5h6m-11 1h6m-7-2h6m-10 0h6m-10-8h6m-8 1h6m-11 1h6m-18 1h6m-50 4h6m-31 1h6m-48 4h6m-6-13h6m-13 1h6m-11 7h6m-11-7h6m-21 10h6m-22-10h6m-23 0h6m20 16h6m-4 0h6m-1-1h6m-5 3h6m8-4h6m3 10h6m-2-2h6m0-3h6m-1 1h6m5 0h6m-6 3h6m-3 4h6m-4-7h6m-6-6h6m-5 0h6m1 3h6m10 8h6m-4 2h6m-1-2h6m-4 0h6m49-11h6m-5 14h6m-4-5h6m0-1h6m-1-2h6m-6-3h6m-6 1h6m2 9h6m-3-7h6m0 5h6m-1 3h6m-5-11h6m-4 9h6m-4-3h6m-2-8h6m8 7h6m-2 4h6m-1-2h6m-6 1h6m-4-9h6m-1 5h6m-6 0h6m4-6h6m-5 8h6m-5-9h6m-3 14h6m-5-13h6m-3-1h6m-2 0h6m-3 0h6m-5 11h6m-4 3h6m1-3h6m-2 1h6m4-2h6m4-2h6m-3-8h6m-4 12h6m-5 1h6m-2-3h6m-3-7h6m-5 10h6m0-3h6m6 18h6m-7-4h6m-7-8h6m-11 7h6m-12 2h6m-6-4h6m-6 1h6m-7 6h6m-7-9h6m-7 4h6m-9-2h6m-9 8h6m-8-2h6m-11-9h6m-7 4h6m-8 3h6m-7-8h6m-7 5h6m-11-1h6m-8-2h6m-10 3h6m-7 1h6m-17-8h6m-7 6h6m-11-2h6m-7-3h6m-8 0h6m-8 9h6m-7 1h6m-9-10h6m-12 3h6m-14-2h6m-7 2h6m-14 2h6m-9 3h6m-8 2h6m-7-2h6m-8-4h6m-10-5h6m-9 2h6m-8 1h6m-8-3h6m-7 8h6m-9-6h6m-9 6h6m-11 0h6m-27-4h6m-6 0h6m-13 8h6m-6 2h6m-8-9h6m-7 3h6m-12-4h6m-9 2h6m-7 3h6m-14-4h6m-6 7h6m-15-7h6m-53 2h6m-16-6h6m-16-1h6m-7 9h6m-6-1h6m-15-2h6m-13 3h6m-6-9h6m-7 4h6m-6 6h6m-7-8h6m-7 2h6m-9 4h6m-12 3h6m-19-9h6m-14 8h6m-11 2h6m-15-1h6m-19 0h6m-8-5h6m4 9h6m1 6h6m-5 2h6m0 6h6m-5-5h6m-2 3h6m-3 2h6m7-2h6m10-8h6m0 9h6m-6-9h6m-6-2h6m-4 10h6m-4-1h6m-4-2h6m-1-5h6m-4 0h6m-3 8h6m-4-8h6m-5 10h6m-1-1h6m-5-9h6m6 10h6m-5-2h6m-6-11h6m-5 6h6m-2 6h6m-4-6h6m-3 6h6m-4-5h6m-6 5h6m-6 0h6m-4-1h6m2 2h6m-5-2h6m-2-4h6m10-5h6m0-1h6m-5 9h6m-3-8h6m-5-2h6m-4 4h6m-5-3h6m-4 4h6m-3-1h6m2 2h6m-5-3h6m-4-3h6m0 2h6m-4 9h6m-3-9h6m2 7h6m-3 2h6m3 1h6m-5-2h6m4 1h6m-5 2h6m1-6h6m-3-5h6m-6 3h6m0-6h6m0 10h6m-4-1h6m1-2h6m-3 5h6m-4-7h6m-3-5h6m-2 4h6m-6-4h6m-3 7h6m-5 4h6m1-6h6m-6 1h6m3-4h6m5 1h6m4 0h6m-5 6h6m2-5h6m-1 2h6m-5 2h6m-4 6h6m1-4h6m-11 17h6m-18-7h6m-14-1h6m-14 5h6m-11 2h6m-8 3h6m-8-6h6m-9 5h6m-7-2h6m-16-9h6m-13 12h6m-8-11h6m-8-3h6m-11 4h6m-6 4h6m-8-1h6m-8 2h6m-12-2h6m-11-4h6m-16 1h6m-11-4h6m-23 12h6m-8-8h6m-11 1h6m-16 0h6m-7-5h6m-11 12h6m-6-4h6m-7 1h6m-9-1h6m-9-3h6m-10 9h6m-16-12h6m-9 1h6m-8-3h6m-9 3h6m-11 10h6m-11-10h6m-21-1h6m-6-2h6m-12 11h6m-15 1h6m-11-2h6m-10-3h6m-10-7h6m-10 1h6m-10 11h6m-6-5h6m-25-6h6m-7 2h6m-6 7h6m-9-5h6m-6 4h6m-8 1h6m-6-8h6m-7 11h6m-11-9h6m-12 4h6m-19-1h6m-10-2h6m-13 5h6m-8-6h6m-36-2h6m-7 8h6m4 5h6m-5 5h6m-3 7h6m-2-10h6m-2 2h6m4 0h6m-4 10h6m-1-3h6m2-11h6m-4 3h6m-6-1h6m5 12h6m-5-5h6m-1 1h6m5-7h6m-1 8h6m-4-11h6m-5 12h6m0-11h6m-4 7h6m-4 5h6m17-5h6m-4-6h6m6 4h6m11-5h6m-6 12h6m0 1h6m-4-7h6m-5 4h6m-5-10h6m1 9h6m-5-5h6m1 0h6m6-5h6m-4 8h6m-5-3h6m2 8h6m0-8h6m0 2h6m-5-5h6m-4 2h6m-4-3h6m1 13h6m-5-13h6m-5 4h6m0-3h6m25 4h6m-3-2h6m-6 6h6m4-7h6m0 6h6m-1 1h6m4-5h6m3-1h6m-4-3h6m-3 10h6m2-11h6m-35 16h6m-13 0h6m-10 1h6m-17 7h6m-7-6h6m-16-2h6m-10 0h6m-7 2h6m-8 4h6m-15 0h6m-8 4h6m-7-7h6m-12-3h6m-16 12h6m-12-13h6m-17 6h6m-16 0h6m-9-2h6m-7-1h6m-7 3h6m-7-6h6m-13 13h6m-10-1h6m-6-9h6m-36 7h6m-8-2h6m-8 2h6m-24-8h6m-13 11h6m-29-2h6m-9 1h6m-6-11h6m-13 2h6m-6 3h6m-7 0h6m-8 0h6m-7-6h6m-14 10h6m-16-7h6m-9 1h6m-8 4h6m-6 3h6m-15-2h6m-7 0h6m-8-2h6m-11 7h6m-9-12h6m-10 10h6m-7-10h6m-6 3h6m-9-3h6m-10 10h6m-15-3h6m-9-2h6m-9-6h6m-8-1h6m-7 6h6m-11 3h6m-7 1h6m-30 1h6m-7 6h6m13 12h6m3 0h6m8-7h6m-4-6h6m16 5h6m3-5h6m3 3h6m-1 3h6m-2-3h6m17-2h6m3 1h6m-4-3h6m-6 2h6m4 3h6m-3-1h6m7-3h6m2-1h6m7 5h6m-1 1h6m2-5h6m0 8h6m2-3h6m5 7h6m-6-10h6m-1 9h6m2-4h6m-5 3h6m-5-3h6m-5-2h6m-5 2h6m3-2h6m1-2h6m4-2h6m-56 13h6m-28 7h6m-25 4h6m-7-11h6m-19 12h6m-12-8h6m-27-3h6m-53 2h6m-9 1h6m-13-3h6m-12 0h6m-25 6h6m-6 2h6m-7 4h6m-19 0h6m-14-8h6m12 23h6m-4-4h6m4-5h6m-5-1h6m7 0h6m-5 8h6m1-9h6m-3-1h6m1 3h6m-2 5h6m0 0h6m-6-3h6m-4-5h6m35 2h6m-56 87h6" stroke="#f88e52" stroke-width="6" stroke-linecap="butt" fill="none"/>
<path transform="scale(0.2)" d="M888 3351h6m-58 75h6m-19 9h6m-18 23h6m53 27h6m-12 19h6m-44 3h6m20 16h6m-13 15h6m-2 7h6m12 3h6m78 3h6m-40 13h6m-28-1h6m-63 21h6m4-7h6m13 7h6m-2 0h6m-3-2h6m9-8h6m-5-3h6m3 3h6m6-1h6m1 25h6m-11-4h6m-13-6h6m-17 6h6m-25 2h6m-7 3h6m-16 0h6m-26-5h6m-14 10h6m-1-1h6m-1 0h6m-4 7h6m-2 3h6m11 0h6m-2-10h6m-5 5h6m-6 6h6m1-1h6m-3-7h6m-3-4h6m-4 9h6m-3-10h6m-3 0h6m-6 7h6m5-5h6m70 21h6m-27 1h6m-8-2h6m-18-3h6m-17-4h6m-9 4h6m-15 6h6m-10-1h6m-8-7h6m-8-2h6m-8 13h6m-11-5h6m-10 4h6m-15-7h6m-9 1h6m-8-1h6m-9 0h6m-9-4h6m-14 10h6m-21 0h6m-8-7h6m-19 9h6m-5 10h6m10-7h6m6 3h6m-5-2h6m-5 6h6m-2-1h6m-5 5h6m-6-9h6m0 6h6m-2 3h6m-2-10h6m-5 9h6m-6-6h6m-5-1h6m-3 3h6m-6-2h6m-1 2h6m-2 3h6m-3-11h6m-2 7h6m-1-7h6m-3 3h6m3-3h6m-5 12h6m3-8h6m-3 9h6m3-4h6m-3-8h6m-6 3h6m-5 5h6m3-8h6m-4 10h6m0-5h6m2 6h6m-3 0h6m14 1h6m20 7h6m-17-5h6m-8 1h6m-15 6h6m-12-3h6m-8 6h6m-33-5h6m-7 5h6m-9-3h6m-12 5h6m-20-2h6m-14 3h6m-8 1h6m-24-12h6m-7 5h6m-9-3h6m-12 5h6m-12 5h6m-8-13h6m-6 5h6m-8-1h6m-9-3h6m-8 9h6m-8 3h6m-9-14h6m-7 7h6m-10-3h6m-12 8h6m-9 2h6m-8-13h6m-10 11h6m-8-3h6m-13 3h6m-10-4h6m-10-7h6m-7 1h6m-10 2h6m3 12h6m-5 4h6m-4-3h6m7 5h6m2-1h6m-4 8h6m-5-11h6m-3 8h6m-3-5h6m-4-2h6m-2-1h6m-4 1h6m-6-2h6m-4 0h6m-2 0h6m3 0h6m5 1h6m-5 3h6m0 4h6m-4 1h6m-2-9h6m-5 7h6m-5-5h6m22 1h6m1 1h6m0-6h6m-3 8h6m0-4h6m-1 2h6m-3-1h6m11-4h6m38 2h6m-49 13h6m-13 8h6m-10-2h6m-17 7h6m-6-14h6m-28 3h6m-7 2h6m-8 6h6m-7-5h6m-9 0h6m-11-4h6m-13 4h6m-6-4h6m-8 11h6m-18-5h6m-8 3h6m-9-3h6m-7 0h6m-16 4h6m-15 2h6m-19-2h6m-6-7h6m-14-4h6m-8 1h6m-7 1h6m-6 11h6m-12-7h6m-7-6h6m-1 17h6m-4 8h6m-2-2h6m-4-6h6m-2 2h6m-4 6h6m-3-4h6m2-6h6m0 11h6m-2-5h6m2 6h6m4-12h6m0 3h6m-5-3h6m-6 1h6m-2-2h6m-4 12h6m14-6h6m-3 5h6m-6-9h6m0 11h6m-9 12h6m-15-5h6m-10-1h6m-14-4h6m-21 1h6m-14 10h6m-8-8h6m-13 6h6m-7 5h6m-10-2h6m-11-6h6m-7 2h6m-10 5h6m-12-2h6m-11 0h6m-12-4h6m-12-7h6m3 25h6m12 4h6m-5-2h6m-4-5h6m-4-7h6m-6 2h6m-4 2h6m4 5h6m-3 5h6m-2-4h6m-1-4h6m-5-6h6m-4 9h6m3-2h6m-4 4h6m-1 3h6m-6-4h6m0-2h6m-2-4h6m50 19h6m-16-1h6m-34-6h6m-19 12h6m-10 0h6m-9-7h6m-17-6h6m-8 1h6m-12 3h6m-11 1h6m-16-1h6m-14 2h6m-12 8h6m-6-10h6m-10 8h6m-6 1h6m-7-8h6m-7 1h6m-6 2h6m-6-8h6m-7 13h6m-14 0h6m-7-3h6m-8 4h6m-6-2h6m-6-4h6m-10-1h6m-1 13h6m-4-5h6m-3 5h6m-6 4h6m1-8h6m2 12h6m1 1h6m-6-2h6m-6-2h6m-2 2h6m-6-1h6m-3 3h6m-6-12h6m-2-1h6m-5 9h6m-1-7h6m0 8h6m-4-10h6m-4 3h6m-6-2h6m-4 12h6m-3-5h6m-6 5h6m9-8h6m-4-3h6m-2 8h6m-2-6h6m9-1h6m-4 0h6m-5 2h6m-3-5h6m21 7h6m-43 9h6m-23 12h6m-16-10h6m-9-1h6m-8-2h6m-7 7h6m-8-1h6m-27-1h6m-26 3h6m-10 6h6m14 10h6m-5 2h6m-4-6h6m2 6h6m20-11h6m-4 11h6m1-8h6m19-4h6m28 2h6m-80 26h6m-7-6h6m-22 7h6m-27-14h6m15 28h6m-1-4h6m61 3h6m-27 40h6" stroke="#e0f3f8" stroke-width="6" stroke-linecap="butt" fill="none"/>
<path transform="scale(0.2)" d="M795 3387h6m195 418h6m67 33h6" stroke="#5c91c2" stroke-width="6" stroke-linecap="butt" fill="none"/>
<path transform="scale(0.2)" d="M941 3367h6m334 18h6m-316 160h6m-107 18h6m318 33h6m-354-7h6m343 21h6m18 2h6m26-12h6m29 28h6m-168-5h6m-117-7h6m161 27h6m10-2h6m28 2h6m-16 16h6m-240 10h6m174-4h6m65 4h6m29 9h6m-221 23h6m-81 14h6m5 14h6m46 3h6m49 14h6m-29 2h6m-10-13h6m-95 6h6m49 16h6m9-7h6m36 19h6m-95 14h6m4-3h6m44 11h6m-116 4h6" stroke="#fec778" stroke-width="6" stroke-linecap="butt" fill="none"/>
<path transform="scale(0.2)" d="M966 3538h6m-28-1h6m-85 0h6m-34 7h6m0-4h6m-6 2h6m-5 4h6m2 4h6m-1-4h6m0 5h6m37-6h6m1 4h6m11-8h6m2 6h6m-17 10h6m-8 11h6m-16-5h6m-12-2h6m-12 5h6m-9-9h6m-7 2h6m-8 0h6m-7-3h6m-6 1h6m-18 2h6m-15 2h6m-10-5h6m-41 10h6m65 9h6m4 17h6m35 163h6" stroke="#ffffbf" stroke-width="6" stroke-linecap="butt" fill="none"/>
<path transform="scale(0.2)" d="M858 3543h6m10 11h6m2-9h6m2 6h6m93-11h6m-65 19h6m-20 6h6m-23-9h6m-8 6h6m-10 1h6m-6 1h6m-17 3h6m-7-2h6m-6-8h6m-11 1h6m-5 20h6m3 1h6m20 3h6m-21 10h6m10 17h6m25 17h6m-13 3h6m-7-7h6m-39 4h6m-10-6h6m-11 5h6m-18-4h6m-6-1h6m-26 10h6m11 8h6m-4 3h6m0-11h6m8 3h6m8 10h6m13-11h6m13 9h6m83 4h6m-16 13h6m-63 1h6m-8-8h6m-30 1h6m-24-2h6m-25 6h6m-29 2h6m47 11h6m13-2h6m53 5h6m24 11h6m-138 6h6m-6-13h6m-11 2h6m-8 10h6m-9-5h6m-9 0h6m12 10h6m13 8h6m42 5h6m-42 5h6m-11-5h6m-6 4h6m-17 8h6m-28-1h6m-27-8h6m13 14h6m6 9h6m21-11h6m31 3h6m-3 1h6m-19 22h6m-42-7h6m-28-4h6m-8 0h6m2 19h6m-6 4h6m9-8h6m-1 11h6m7 4h6m-23 10h6m-12 11h6m39 0h6m-21 33h6" stroke="#f0f9dc" stroke-width="6" stroke-linecap="butt" fill="none"/>
<path transform="scale(0.2)" d="M866 3546h6" stroke="#fee090" stroke-width="6" stroke-linecap="butt" fill="none"/>
<path transform="scale(0.2)" d="M1285 3365h6m15 2h6m0 2h6m-6-1h6m4 5h6m-5 0h6m-1-5h6m-10 17h6m-15-2h6m-11 5h6m-6-7h6m-10 0h6m-11 5h6m-22 1h6m-8 3h6m8 5h6m-3-1h6m13 3h6m-1 5h6m-9 9h6m-12 5h6m-11 1h6m-11 2h6m-124 15h6m106-9h6m-6-4h6m7 13h6m-5-1h6m9-3h6m-9 9h6m-29 10h6m-78-4h6m-14-4h6m-13 2h6m-8-2h6m-8-4h6m-7 4h6m-10-1h6m-7-5h6m-6 3h6m-6 7h6m-7 1h6m-16-6h6m-7 7h6m-8-6h6m-27 6h6m-9 10h6m-3 1h6m0-2h6m-2 5h6m-5-7h6m-4 10h6m-3-13h6m-5 6h6m-4 7h6m-1-14h6m-6 2h6m-3 2h6m-5-3h6m1 11h6m1-3h6m-3-6h6m-3 2h6m-2-1h6m-4 4h6m1-5h6m-30 13h6m-8 3h6m-16-2h6m-6 12h6m-13-1h6m-8-5h6m-114-1h6m-40 12h6m16 10h6m-3-3h6m133-10h6m-1 1h6m6 6h6m-9 10h6m-8 10h6m-162-12h6m-8 12h6m-6-6h6m-12 0h6m-16 6h6m-7-11h6m-10 11h6m-7-9h6m-9 3h6m-12-4h6m-8 8h6m-23-2h6m-32 18h6m-4-6h6m-3 1h6m-5 1h6m-5 1h6m-6-6h6m-5 5h6m1-1h6m-4 2h6m-3-5h6m-3-3h6m-5 13h6m9-3h6m-5-4h6m-4-1h6m2 0h6m2-1h6m-3 2h6m-5-7h6m-2 9h6m157-2h6m6-3h6m-186 15h6m-18 6h6m-31 0h6m-7 2h6m-17-1h6m-12-5h6m-65 11h6m53 6h6m-5-2h6m-4-5h6m220 12h6m-254 3h6m84 19h6m151-5h6m-6 1h6m5 15h6m-14 12h6m-13-3h6m-7-6h6m-89 10h6m-226 15h6m145-6h6m140-7h6m-5 1h6m-5 2h6m-2 4h6m7 1h6m-4-7h6m-5 6h6m2-3h6m-21 15h6m-75 6h6m-37-8h6m-17 1h6m-8 2h6m-45-1h6m-34-4h6m-26 2h6m-13 2h6m-25-4h6m-7 6h6m-11 5h6m-30-10h6m13 22h6m-4-3h6m15 2h6m-6-5h6m22 3h6m27 8h6m-5-5h6m-5-7h6m-1 11h6m-5 0h6m18 1h6m-1-3h6m-1-10h6m17 2h6m1 3h6m4 8h6m-4-4h6m39-4h6m-24 23h6m-79-2h6m-12-9h6m-74-1h6m-9 0h6m-23 12h6m-11-4h6m-11-7h6m-15 3h6m-6-6h6m-33 7h6m-28-3h6m-9 1h6m-60 0h6m47 14h6m57 7h6m28-9h6m-3 2h6m-5-3h6m21 13h6m29-13h6m20 8h6m8 2h6m7 3h6m86-8h6m7 9h6m-66 6h6m-30 5h6m-39-3h6m-10-7h6m-82 3h6m-9 9h6m-10-8h6m-15-5h6m-9 1h6m-18 13h6m-11-14h6m-14 0h6m-37 5h6m-11 11h6m19-1h6m-3 14h6m20-11h6m19 10h6m61-7h6m54-4h6m3 12h6m50-13h6m-8 24h6m-60 0h6m-64-5h6m-30-1h6m-101-3h6m-16 5h6m-22-2h6m58 16h6m144 9h6m-129 13h6m100 6h6m-1 10h6m4-10h6m49-3h6m-2 4h6m-200 12h6m-42 3h6m-22 21h6m102-3h6" stroke="#e64f35" stroke-width="6" stroke-linecap="butt" fill="none"/>
<path transform="scale(0.2)" d="M939 3539h6m-89-1h6m47 3h6m3 3h6m31-3h6m-20 18h6m-29 4h6m-44 1h6m-13-5h6m-22 4h6m9 21h6m-6-12h6m27 1h6" stroke="#feefa7" stroke-width="6" stroke-linecap="butt" fill="none"/>
<path transform="scale(0.2)" d="M1018 3526h6m-26 18h6m202 57h6m-61 16h6m-80 40h6m-12-10h6m-123 19h6m48 24h6" stroke="#a50026" stroke-width="6" stroke-linecap="butt" fill="none"/>
<path transform="scale(0.2)" d="M1208 3434h6m15 10h6m-11-7h6m-24 4h6m-23 3h6m-13 1h6m-15-8h6m0 20h6m-4-7h6m-5 1h6m-5 13h6m-2-12h6m-5-1h6m18 1h6m-6 5h6m0-6h6m-9 15h6m-19 1h6m-10 9h6m-15-6h6m-10-3h6m-13 3h6m-117-1h6m-12 7h6m-7 3h6m-30 15h6m9-12h6m0 5h6m-5 7h6m-6-3h6m-5-8h6m-5 11h6m-3-12h6m-2 8h6m-1 0h6m-12 12h6m-6 2h6m-10-2h6m-7 0h6m-7 5h6m-22-1h6m-19-7h6m-11 3h6m-6 6h6m-13 0h6m-34 8h6m-3-4h6m-5-1h6m-4 10h6m-5-7h6m1 2h6m7-4h6m-4 8h6m2 1h6m-5-9h6m2 12h6m1-5h6m1 4h6m2-12h6m-6-1h6m160 25h6m-8 0h6m-190-8h6m-12 2h6m-7 3h6m-14 6h6m-15-4h6m-16 5h6m-26-9h6m-10-2h6m-7 3h6m-17 3h6m-14-8h6m-14 1h6m-22 27h6m10-9h6m13-2h6m-3-2h6m-5 0h6m9-1h6m44 21h6m-56 8h6m17 5h6m69 17h6m-197 21h6m2-10h6m131 6h6m7 0h6m15 4h6m-6-7h6m-5 9h6m16-2h6m-3-3h6m0 4h6m-4-5h6m2-4h6m53 7h6m6 7h6m-20 4h6m-49 2h6m-11 5h6m-12-13h6m-19 3h6m-7 7h6m-8-2h6m-8 3h6m-7-7h6m-19 9h6m-24-2h6m-13-11h6m-17 4h6m-15 8h6m-9 0h6m-11-10h6m-14 7h6m-7-9h6m-9 12h6m-18-6h6m-8-2h6m-8-3h6m-7 3h6m-9 6h6m-8-10h6m-10 12h6m-9-10h6m-15-1h6m-8 0h6m-15-2h6m-8 8h6m-21-6h6m-12 12h6m-23-3h6m-20 0h6m-17-10h6m37 28h6m2-4h6m-5 4h6m-1-5h6m5-7h6m-2 9h6m-1-8h6m-5-1h6m0 6h6m-3-8h6m5 6h6m-4 4h6m-4-7h6m-5 6h6m-2-5h6m-5 1h6m-4 8h6m-3-7h6m-4 2h6m-5-8h6m-4 14h6m-2-11h6m-1 3h6m-4 3h6m-3 4h6m-5-4h6m-5-5h6m-4 7h6m-3-9h6m3 9h6m2-11h6m2 8h6m-2 3h6m-4 2h6m-3-11h6m-5-1h6m-6 2h6m4 0h6m-4 9h6m-2-11h6m10 4h6m2 4h6m13 0h6m6 4h6m-3-3h6m-3-1h6m-12 12h6m-28 6h6m-7 2h6m-22-7h6m-10-6h6m-8 7h6m-16 0h6m-9-8h6m-8 9h6m-9-5h6m-7 8h6m-8 1h6m-12 1h6m-10-13h6m-11 10h6m-10 2h6m-8-10h6m-14 10h6m-12-8h6m-10 7h6m-7 0h6m-6-3h6m-8-7h6m-10 9h6m-9-7h6m-7 0h6m-6-2h6m-10 5h6m-11-3h6m-7 4h6m-7-3h6m-7 5h6m-10-8h6m-17 4h6m-24 7h6m-6-2h6m-19 3h6m-11-9h6m-16-4h6m-11 12h6m-9-11h6m-7 8h6m-28-8h6m34 20h6m6-4h6m-3-1h6m-2 7h6m5-1h6m-2 0h6m-3-5h6m-3 1h6m-3 8h6m2-4h6m2 4h6m-6-9h6m-5-1h6m-6 7h6m-2-3h6m-3-6h6m-2 5h6m-5-1h6m-3 5h6m-4 3h6m-3 2h6m-2-13h6m-5 2h6m4 8h6m1-3h6m-3-5h6m-4 7h6m-3-3h6m-5 4h6m8-5h6m-23 17h6m-8-2h6m-11 1h6m-10 7h6m-14-2h6m-6-1h6m-7-9h6m-18-1h6m-7-1h6m-7 8h6m-8-6h6m-7 10h6m-8 0h6m-7-2h6m-13-6h6m-7-2h6m-6 2h6m-7-4h6m-11 1h6m-11 1h6m-11 6h6m-16-4h6m-7 0h6m-7 21h6m-4-3h6m16 1h6m-1 2h6m6-8h6m0 5h6m-4-3h6m-5 0h6m-4 0h6m65 0h6m-11 16h6m-69 6h6m-20 1h6m-19 0h6m-64 16h6m17-3h6m28-10h6m13 10h6m-3-1h6" stroke="#d73027" stroke-width="6" stroke-linecap="butt" fill="none"/>
<path transform="scale(0.2)" d="M1191 3444h6m-114 29h6m-12 3h6m-40 14h6m-1-3h6m-5-6h6m5 3h6m-24 19h6m-6-3h6m-8 6h6m-14-9h6m-39 16h6m32 1h6m-5 14h6m-53 6h6m-15-1h6m-12-5h6m-49 14h6m96 35h6m0 30h6m-2 6h6m13-4h6m13 1h6m19 1h6m7-7h6m50 7h6m42-7h6m-123 17h6m-18-3h6m-16 1h6m-27-3h6m-22 9h6m-10 3h6m-21-9h6m-15 5h6m-21-5h6m-33 8h6m-11 4h6m0 11h6m-6-6h6m17 5h6m-4 0h6m-3 0h6m-2-10h6m5 10h6m14-4h6m-3-3h6m11 10h6m-1-4h6m2-10h6m8 2h6m-3 1h6m31 5h6m29 0h6m-54 20h6m-16-4h6m-9-9h6m-9 2h6m-15-1h6m-13 13h6m-12-2h6m-17-4h6m-22-6h6m-6 1h6m-7 2h6m-8 1h6m-9 8h6m-7-10h6m-13 1h6m-9 6h6m-6 2h6m-9-8h6m-8-3h6m-34 11h6m-43-13h6m-5 23h6m9 5h6m-1-8h6m27 3h6m13 2h6m1 2h6m-4-8h6m-3 6h6m5 4h6m11-5h6m8-1h6m-1 0h6m-22 19h6m-8-3h6m-7-9h6m-19 2h6m-21 4h6m-23 0h6m-17 6h6m-44-7h6m-18-3h6m2 15h6m25 0h6m11 5h6m4-2h6m7-1h6m-26 33h6m18-7h6m55 9h6m13-6h6m-104 14h6" stroke="#be1826" stroke-width="6" stroke-linecap="butt" fill="none"/>
<defs><linearGradient id="cb101" x1="0" y1="0" x2="0" y2="1"><stop offset="0.00" stop-color="#a50026"/><stop offset="0.10" stop-color="#d73027"/><stop offset="0.20" stop-color="#f46d43"/><stop offset="0.30" stop-color="#fdae61"/><stop offset="0.40" stop-color="#fee090"/><stop offset="0.50" stop-color="#ffffbf"/><stop offset="0.60" stop-color="#e0f3f8"/><stop offset="0.70" stop-color="#abd9e9"/><stop offset="0.80" stop-color="#74add1"/><stop offset="0.90" stop-color="#4575b4"/><stop offset="1.00" stop-color="#313695"/></linearGradient></defs>
<rect x="271.40" y="659.30" width="4.80" height="123.60" fill="url(#cb101)" stroke="none" stroke-width="0.6" />
<rect x="148.30" y="659.30" width="127.90" height="123.60" fill="none" stroke="#6d6e71" stroke-width="0.9"/>
<text x="150.50" y="779.30" font-size="9" text-anchor="start" font-weight="normal" fill="#231f20"  stroke="#231f20" stroke-width="0.1">CD69</text>
<path transform="scale(0.2)" d="M1527 3326h6m-34-1h6m-24 0h6m-7 4h6m-10-4h6m-16 2h6m-18 13h6m-4 2h6m20-3h6m-4-2h6m-4-4h6m4 1h6m-2 6h6m-4-1h6m-3-7h6m-4 8h6m3-3h6m9 5h6m-6-11h6m2 12h6m-4-7h6m23 6h6m408 13h6m-385-6h6m-7 0h6m-10 4h6m-13 0h6m-16 2h6m-8-8h6m-9 3h6m-9 3h6m-7-4h6m-17-4h6m-6 3h6m-12 6h6m-15-6h6m-7-1h6m-9 12h6m-20-1h6m-10 1h6m-9-13h6m-7 6h6m-7 7h6m-8-13h6m-13 12h6m-7-6h6m-11 2h6m-6 1h6m-8-7h6m-11-1h6m-7 4h6m-16 7h6m-12 0h6m-6-2h6m-19-11h6m-14 9h6m-8-1h6m-14 6h6m-9-4h6m-15 16h6m-3 3h6m17-4h6m-3-5h6m-1-4h6m0-1h6m0 4h6m0-2h6m-3 11h6m-4-7h6m-3 6h6m-5-7h6m-2-5h6m-3 14h6m-2-14h6m-2 6h6m-6 1h6m-5-3h6m-6 8h6m-5 0h6m-4-4h6m-2-6h6m0-2h6m-6 11h6m-4-5h6m-1 4h6m-5-7h6m6 2h6m-1-4h6m-6 7h6m-5 6h6m-1-14h6m-5 12h6m0 0h6m1-1h6m-5-5h6m-2 2h6m-2 3h6m-5-6h6m3 4h6m-5 2h6m-5 2h6m-1-11h6m-1 8h6m-2-9h6m-3-1h6m382 14h6m-48 4h6m-344 2h6m-9 3h6m-18-4h6m-11-1h6m-12-1h6m-28 0h6m-8 5h6m-8-3h6m-6 6h6m-8-1h6m-11-6h6m-13 0h6m-8 3h6m-7 3h6m-9-9h6m-6 7h6m-9-1h6m-10 4h6m-7-8h6m-6 0h6m-16 7h6m-7 0h6m-17-1h6m-20 3h6m-11-10h6m-19 11h6m-7-7h6m-10 9h6m-15-4h6m-14-3h6m-9-1h6m-13 7h6m-7-12h6m-10 10h6m4 4h6m-5 0h6m-4 4h6m10 8h6m0-3h6m1-6h6m7 11h6m-5-3h6m-2-5h6m-2 2h6m-1-7h6m-6 4h6m-6 3h6m2-4h6m9 2h6m3-2h6m-5-1h6m0 8h6m-5-7h6m-3 1h6m0-2h6m1 9h6m-5-9h6m-5 2h6m-2-4h6m4 6h6m-5-4h6m-1 10h6m-4-13h6m-1 0h6m-1 2h6m-29 20h6m-8-7h6m-10 8h6m-30-8h6m-15 9h6m-8 1h6m-8 4h6m-13-14h6m-15 11h6m-7-7h6m-10-3h6m-9 1h6m-15 4h6m-10 0h6m-17 6h6m-17-7h6m-16 3h6m-9 11h6m-3 1h6m15-1h6m-3 1h6m3 5h6m3 3h6m-5-11h6m0 3h6m0-5h6m5 14h6m2-6h6m292 15h6m-299-5h6m-34 0h6m-19 3h6m-15-1h6m-11 21h6m19-9h6m3-2h6m7 13h6m-6-10h6m3-3h6m2 6h6m183 9h6m-15 8h6m-221-7h6m-31 12h6m-5 2h6m-2 5h6m200 9h6m5-5h6m2-5h6m-4 1h6m21 21h6m-10-1h6m-26-5h6m-195-2h6m-28 4h6m-26-6h6m5 24h6m3 3h6m9-11h6m100 12h6m66 0h6m5-6h6m2 5h6m-2-12h6m-32 19h6m-21 9h6m-17-8h6m-8 2h6m-71 0h6m-82-1h6m-34 3h6m-9-2h6m-1 20h6m9-1h6m30-5h6m10-5h6m12 7h6m12-2h6m4-3h6m17-2h6m6 3h6m-35 22h6m-50 2h6m-52-10h6m-8 5h6m-20-3h6m-6-1h6m-17 4h6m-8-6h6m-7 8h6m-9 6h6m6 4h6m11-2h6m20 2h6m16-5h6m111 27h6m-137-1h6m-27 0h6m-16 2h6m-9 0h6m-29 15h6m0-10h6m20 10h6m2-1h6m-2-9h6m11 6h6m1 3h6m156-5h6m-1 2h6m146-6h6m15-2h6m-6 15h6m-45 11h6m-38-11h6m-46-1h6m-41 0h6m-8 13h6m-13-6h6m-35-8h6m-68 1h6m-26 5h6m-31 0h6m-9 1h6m-17-1h6m-13 4h6m-14-7h6m-42 4h6m-10-6h6m-20 0h6m-10 13h6m-1 13h6m20 2h6m1 0h6m-4-14h6m3 4h6m31 3h6m8 3h6m0 2h6m8-5h6m6-1h6m-1 0h6m3 2h6m4 4h6m18-8h6m-4 2h6m14 2h6m29-3h6m14 5h6m6-10h6m13 0h6m48 7h6m-1 2h6m46 18h6m-34 2h6m-11-4h6m-19-6h6m-27 1h6m-10 4h6m-35-9h6m-23 1h6m-35 9h6m-11-6h6m-15 3h6m-17 4h6m-8-10h6m-47 2h6m-20 3h6m-34 4h6m-9-2h6m-18 4h6m-17-8h6m-8 10h6m-17-6h6m-23-3h6m-28-5h6m-14 8h6m-13 6h6m-31-10h6m-8 1h6m-11 7h6m-41-10h6m21 22h6m-5 2h6m-5-9h6m10 1h6m25 9h6m-1-3h6m39 0h6m0 0h6m2-7h6m66 8h6m-5 2h6m69-9h6m3 7h6m2-4h6m5 7h6m-4-3h6m0-7h6m-4-3h6m19 0h6m13 4h6m2-1h6m-3 5h6m-4-3h6m12 5h6m1 0h6m-1 3h6m-26 13h6m-25 3h6m-7-2h6m-9-9h6m-20 0h6m-10 6h6m-33-6h6m-17 5h6m-12-6h6m-21-2h6m-29 12h6m-10 0h6m-42-12h6m-10 5h6m-38-4h6m-19 7h6m-10 6h6m-78-2h6m-85-8h6m51 25h6m-5-14h6m20 13h6m-4-3h6m3-10h6m30 12h6m2-1h6m-1-8h6m1 1h6m20-4h6m9 2h6m51 8h6m-3-7h6m3 6h6m1 0h6m-1 1h6m6 2h6m11 2h6m-5-3h6m10-1h6m-4-6h6m-3-3h6m47 13h6m10 15h6m-8-6h6m-54-7h6m-20 5h6m-25 3h6m-7-3h6m-11 3h6m-24-6h6m-7 9h6m-28-4h6m-43-2h6m-104 6h6m-14-12h6m-7 5h6m-24 4h6m-13-1h6m-24 2h6m-10 3h6m-11-4h6m-23 4h6m-6-12h6m-14 12h6m-7 14h6m-4-1h6m-6-7h6m-4 10h6m26-5h6m16-1h6m8-8h6m0 10h6m-6-1h6m-3-8h6m10 12h6m-5-2h6m3 3h6m0-7h6m33-2h6m-6-2h6m-5 8h6m0-4h6m20-3h6m-5 1h6m3 2h6m-5 5h6m26-12h6m19 10h6m25 4h6m20-8h6m3 5h6m3-3h6m-4 6h6m-6-12h6m1 8h6m8-8h6m-19 24h6m-12-3h6m-19 1h6m-9-3h6m-18 6h6m-21-10h6m-17 2h6m-14-4h6m-12 7h6m-31 0h6m-17-5h6m-31 3h6m-35 0h6m-12 6h6m-15-10h6m-15 6h6m-48 1h6m-10 0h6m-7-4h6m-31 1h6m-13-1h6m-15 9h6m-42-2h6m-29-1h6m-15-3h6m-12 14h6m4 2h6m-2-2h6m0-5h6m19 0h6m13 3h6m0-3h6m-1 0h6m-2 3h6m-5-4h6m-3 1h6m6 1h6m15 7h6m-2-5h6m16 2h6m-2 4h6m5-3h6m5 0h6m-6 2h6m7 0h6m28 1h6m-5-6h6m10 6h6m67-2h6m2 6h6m18-13h6m18 6h6m-41 15h6m-49 4h6m-36-5h6m-15-4h6m-23 1h6m-8 10h6m-32-9h6m-36-4h6m-33 12h6m-36 0h6m-31 2h6m-15-8h6m-20 2h6m-29 5h6m-20-10h6m-8-2h6m-7 4h6m-6 12h6m-2 10h6m18-4h6m8 5h6m2-12h6m4 0h6m7 8h6m49-6h6m14 0h6m-2 5h6m55-7h6m-2 8h6m13-3h6m-59 15h6m-10 5h6m-19-8h6m-22 1h6m-28 1h6m-35 7h6m-6 0h6m-10-3h6m-15 2h6m-26 0h6m-16-6h6m-28 6h6m-23-9h6m8 20h6m2 6h6m23-12h6m9 4h6m-13 17h6m-9 3h6m-22-6h6m-7 6h6m-19-5h6m9 17h6m-5-3h6m0 0h6m-4-2h6m10 8h6m9-6h6m0-2h6m-1 6h6m-5 5h6m-44 8h6m-14 6h6m-12-2h6m7 12h6m-5-6h6m5 2h6m2 11h6m-4-5h6" stroke="#74add1" stroke-width="6" stroke-linecap="butt" fill="none"/>
<path transform="scale(0.2)" d="M1505 3324h6m-13 4h6m-27 0h6m-11-1h6m-12-1h6m-7 11h6m0-6h6m-1 1h6m-4 12h6m-5-11h6m-6 5h6m-6-5h6m-5 10h6m-3-2h6m-2-5h6m4 2h6m-3-1h6m-2-2h6m-5-4h6m7 9h6m5-8h6m-4 10h6m-5-1h6m4-7h6m-3 8h6m-6-10h6m-5 9h6m-2-9h6m49 27h6m-7-7h6m-7 4h6m-17 1h6m-12-12h6m-10 3h6m-8 11h6m-24-6h6m-10 3h6m-7-10h6m-11 2h6m-25-3h6m-14 0h6m-6 14h6m-15-5h6m-38-7h6m-14 5h6m-11 3h6m-12-8h6m-7 4h6m-19 8h6m-14-9h6m-12 13h6m14-3h6m-5 1h6m1 8h6m3-1h6m-4 1h6m-6 0h6m18-8h6m-5 10h6m-3-9h6m5-1h6m4 0h6m-4 4h6m-3 9h6m-2-13h6m-2 2h6m3 11h6m10-5h6m-3-4h6m-5 7h6m3-1h6m-1-2h6m-1-4h6m-6 1h6m1-4h6m-4 3h6m-3 5h6m-2-8h6m-1 0h6m-5 10h6m385-7h6m1-1h6m4 9h6m-6 8h6m-9 3h6m-397 4h6m-6-12h6m-16 6h6m-17-4h6m-16 0h6m-9 10h6m-15-3h6m-12 1h6m-18-6h6m-11-4h6m-11 3h6m-13 4h6m-8-6h6m-6 7h6m-34 4h6m-12-12h6m-14 0h6m-9 0h6m-6 12h6m-7-3h6m-10-8h6m-11 6h6m-17 3h6m-12-2h6m-8-9h6m-10 3h6m-11-3h6m-7 9h6m-7-3h6m-11 4h6m1 12h6m-6-5h6m-1 8h6m-1 3h6m-3-3h6m-4-4h6m-1 3h6m-4-2h6m-5 3h6m-1-7h6m5-3h6m3 13h6m11-7h6m-2 2h6m-4 6h6m14-6h6m-5 5h6m-3-2h6m-3-10h6m-1 4h6m-4 4h6m1 5h6m1 0h6m-5-11h6m-6 5h6m0-7h6m-5 12h6m-1-11h6m-2-1h6m1 12h6m-5-11h6m-5 11h6m-4-1h6m-6 2h6m0-6h6m-20 11h6m-25 10h6m-10-5h6m-7-4h6m-15 6h6m-8-4h6m-8 7h6m-6-2h6m-7-2h6m-18 1h6m-8 0h6m-6-1h6m-6-5h6m-8-3h6m-7 10h6m-8-2h6m-7-6h6m-8 9h6m-7-13h6m-19 2h6m-9 7h6m-6 3h6m-9-11h6m-9 8h6m-9-5h6m-14 7h6m-12-6h6m-8 7h6m-7-2h6m-7 3h6m-9 0h6m-12 0h6m-7-11h6m-16 12h6m-15 12h6m0-2h6m-3-5h6m2 5h6m-4-9h6m-6 7h6m17 6h6m-6 0h6m-4-10h6m-1 6h6m-2 4h6m-5-3h6m0 2h6m-1-3h6m-2-1h6m5-5h6m-4-1h6m-2 2h6m8 6h6m-2-6h6m289 7h6m130-4h6m-5-6h6m-3 5h6m-16 17h6m-7-3h6m-445 2h6m-15 4h6m-22-7h6m-19 5h6m-18-7h6m-8 0h6m-6 9h6m-19-9h6m-15 1h6m-18 17h6m6 9h6m17 0h6m-5-11h6m2 8h6m1-1h6m14 3h6m-6 0h6m-6-2h6m0 2h6m5-11h6m-1 5h6m181 6h6m3-1h6m77-12h6m51 3h6m-142 13h6m-7 3h6m-9-1h6m-10 8h6m-7-8h6m-18 9h6m-15-5h6m-177-2h6m-15 9h6m-10 0h6m-8-4h6m-13 3h6m-9-6h6m-28-3h6m-10-3h6m-14 8h6m-10-9h6m-8 4h6m-10 2h6m-16 5h6m-6-1h6m-7-4h6m-7 13h6m-3 5h6m-2-5h6m3-1h6m6-1h6m-4 3h6m-2 0h6m-5 6h6m-1-5h6m12-5h6m7 2h6m163 1h6m2 0h6m-4-1h6m-1-3h6m5 2h6m-3 10h6m-1-12h6m-3 2h6m-2 7h6m-6-4h6m132 8h6m-145 13h6m-10-2h6m-8 2h6m-6-3h6m-23 2h6m-12-2h6m-8 3h6m-16-4h6m-11-2h6m-7 9h6m-8-12h6m-8 0h6m-7 5h6m-6-2h6m-7-2h6m-14 9h6m-163-3h6m-7-3h6m-9-3h6m-21 9h6m-7-8h6m-21 9h6m-6-1h6m-16-4h6m-7 2h6m-8-1h6m-11-3h6m-13-2h6m-8-3h6m12 19h6m-3 2h6m-5-1h6m-4 0h6m-4 1h6m0 2h6m-5-9h6m5 6h6m13 0h6m92 8h6m2-5h6m-4 0h6m-5 5h6m-3-4h6m-3 4h6m15-5h6m-6-1h6m-5-6h6m-5 10h6m5-2h6m-4-9h6m-3 9h6m-3-3h6m-6 4h6m2 1h6m-5-5h6m-5 2h6m-2 5h6m-5-9h6m0-2h6m-5 3h6m-4 4h6m-4-6h6m-4 4h6m1 0h6m6-3h6m3 7h6m129-10h6m13-2h6m-12 25h6m-191-9h6m-14 10h6m-18 0h6m-6-4h6m-14-1h6m-9-2h6m-7 9h6m-15-7h6m-9 8h6m-22-3h6m-8 1h6m-7-6h6m-18 6h6m-16-11h6m-13 5h6m-15 8h6m-88 0h6m-7-14h6m-17 13h6m-7-8h6m-8 7h6m-12-5h6m-17 0h6m3 13h6m4 5h6m-1-9h6m-5 7h6m4 3h6m-1-2h6m-4-1h6m-4-4h6m-6 1h6m-6-3h6m-5 4h6m-4 2h6m-3 4h6m-2 1h6m-2 0h6m-4-4h6m-5-5h6m8 3h6m-4-3h6m-1 1h6m-5 9h6m-2-13h6m0 6h6m-3-1h6m7 8h6m2-2h6m-4 1h6m-2-1h6m-4-12h6m-4 7h6m-6 2h6m0 5h6m-5-2h6m-3-8h6m-4 1h6m-4 2h6m-5 7h6m-6-2h6m-2 1h6m-4-10h6m5 6h6m8-7h6m-5 1h6m2 0h6m2 2h6m210 6h6m-17 5h6m-196-1h6m-15 5h6m-67-1h6m-35 0h6m-7 7h6m-9-1h6m-11 1h6m-6-3h6m-9 3h6m-7 1h6m-7 0h6m-10-10h6m-11 9h6m-11-2h6m-14 2h6m-8 0h6m-7 2h6m-9-10h6m-13 2h6m-7 9h6m-6-13h6m-11 7h6m-8-1h6m-8-6h6m-6 3h6m-13-3h6m-6 4h6m-8-5h6m-8 8h6m-31 3h6m-14-2h6m-5 15h6m-1-7h6m1 4h6m10 3h6m3-7h6m-3 1h6m-5-1h6m-4 10h6m2-11h6m-3 5h6m-2 1h6m-3-1h6m-5 1h6m-3-7h6m-4 8h6m-2-3h6m-4-5h6m-3 2h6m4 0h6m1-2h6m161 0h6m110 3h6m9-1h6m0 7h6m-263 6h6m-65 0h6m-15 11h6m-12-11h6m-8 14h6m-15-3h6m-7 3h6m-20-13h6m-11 4h6m-14 3h6m-21 0h6m-14-4h6m-9 9h6m5 2h6m0 6h6m10 3h6m-1-9h6m-3 4h6m1 0h6m-1 8h6m-5-11h6m-5 3h6m-4 4h6m-2-4h6m-3 2h6m-2 6h6m-6-3h6m-6-8h6m-4 11h6m-3 1h6m-6 1h6m-3-3h6m-5-2h6m-6-4h6m-4 9h6m2-3h6m-4 1h6m0 0h6m2 2h6m1-9h6m69 6h6m-1 0h6m10 2h6m16 0h6m-5-2h6m14-4h6m-2 4h6m-5-2h6m-2-2h6m5 6h6m10-3h6m-5 2h6m-6-7h6m-4-3h6m-1 11h6m-4-12h6m2 3h6m-4 7h6m4-6h6m10 7h6m-4-7h6m-2 8h6m-5-4h6m-2-7h6m4 6h6m-1 2h6m37 4h6m6-1h6m-5-3h6m-6-2h6m-5-3h6m7 8h6m-5-4h6m-52 6h6m-12 12h6m-10-12h6m-35 13h6m-20-9h6m-9-4h6m-21 1h6m-10 6h6m-9 1h6m-12 5h6m-9 1h6m-13-1h6m-8 1h6m-7-6h6m-15 4h6m-7-5h6m-12-2h6m-9 2h6m-14 1h6m-7-8h6m-6 8h6m-13 3h6m-18-5h6m-10 2h6m-6 1h6m-11 1h6m-8-7h6m-7 5h6m-7 3h6m-15-9h6m-6 11h6m-12-12h6m-7 12h6m-9-7h6m-13-5h6m-10 6h6m-7 0h6m-8 4h6m-17-2h6m-9 2h6m-6-3h6m-7-8h6m-6 10h6m-18-8h6m-9 4h6m-8-3h6m-7 9h6m-7-7h6m-9 7h6m-12-12h6m-14 13h6m-7-6h6m-13 7h6m-8-6h6m-7-4h6m-11 0h6m-9 7h6m-11-1h6m-7-2h6m-11-8h6m-8 7h6m-9-3h6m-8-3h6m-14 8h6m-12-5h6m-6 0h6m-11 4h6m-8-3h6m-13 8h6m-6-10h6m-11 4h6m-6-7h6m-10 14h6m-7-10h6m-7 0h6m-11 10h6m-7-4h6m-7 4h6m-6-3h6m-8-7h6m-10-4h6m-10 0h6m-8 4h6m-6 9h6m-18-7h6m-8-5h6m-13 8h6m-6-3h6m-16-6h6m-8 8h6m-10 5h6m-8-6h6m3 15h6m-5 4h6m-6-2h6m-4 0h6m-3-3h6m3-1h6m-5-2h6m3 0h6m0 6h6m-5 0h6m-1 3h6m3-3h6m-5 1h6m-6-7h6m-3-2h6m-3-1h6m-4 1h6m-5 8h6m-4-8h6m-3 11h6m-5-11h6m-4 2h6m-6 4h6m-5-4h6m-4 8h6m-5-11h6m-5 4h6m-3 6h6m-6-5h6m-6-1h6m-3-3h6m-6 2h6m4-2h6m-6 11h6m-2-6h6m-5 0h6m-5 3h6m-4-6h6m-5 8h6m-5 2h6m-5-13h6m4 2h6m-4 6h6m-4-7h6m-3 12h6m-3-12h6m-6 1h6m-2 6h6m1 0h6m-5-5h6m-5-3h6m-6 1h6m-3 13h6m-6-12h6m-3 10h6m-1-6h6m-6-4h6m-3 2h6m-6 10h6m4-3h6m2-2h6m0-9h6m-5 14h6m-5-14h6m-2 3h6m-5 2h6m-2-1h6m8 3h6m-3 7h6m4-9h6m-2 2h6m1 4h6m-4-3h6m-3-5h6m-4-3h6m0 9h6m0 1h6m2-8h6m-2 12h6m-3-9h6m-6 1h6m-1-6h6m-6 4h6m1 10h6m18-5h6m-6-8h6m-5 5h6m-2-6h6m5 7h6m6 3h6m-3 1h6m-6-11h6m-2 13h6m10-6h6m-1 3h6m-6 1h6m-5-4h6m0 3h6m2-9h6m21 7h6m-4 4h6m20-10h6m9 7h6m3-7h6m0 15h6m-8 4h6m-7-2h6m-17-4h6m-38 13h6m-9-12h6m-7 9h6m-12 0h6m-9-2h6m-9-4h6m-12-1h6m-29 7h6m-13 2h6m-11 1h6m-26-6h6m-7-4h6m-15 2h6m-19 8h6m-7-7h6m-7 3h6m-13 1h6m-12-1h6m-11 0h6m-8 4h6m-17-6h6m-10-3h6m-7 1h6m-9 2h6m-10 6h6m-7-6h6m-15-1h6m-12 8h6m-10-7h6m-7 4h6m-11-10h6m-11 12h6m-12-10h6m-9 5h6m-14-2h6m-6 1h6m-12-1h6m-7 8h6m-6-2h6m-6-2h6m-15-6h6m-13-1h6m-6 10h6m-6-4h6m-11-3h6m-6-5h6m-11 2h6m-6 7h6m-6-9h6m-7-1h6m-16 2h6m-9 2h6m-8-3h6m-6 13h6m-12-8h6m-11-5h6m-6 6h6m-7-5h6m-6 9h6m-18-1h6m-8-8h6m-12 12h6m-11-9h6m-8-4h6m-8 0h6m-9 1h6m-8 1h6m-7 9h6m-6-5h6m-8-4h6m-14 4h6m-6-3h6m-10 0h6m-6 6h6m-8-2h6m-7-1h6m-16-6h6m-6 7h6m-8-4h6m-14 0h6m-6-2h6m-7 8h6m-7-3h6m-6 0h6m-7 1h6m-7-5h6m-7-3h6m-6 10h6m-12-1h6m-6-5h6m-7 0h6m-6 6h6m-7-10h6m-9 2h6m-7-2h6m-8 2h6m-7-2h6m-6 4h6m-10 2h6m-6-2h6m-7-4h6m-13 0h6m-7 4h6m-7 0h6m-7 0h6m-11 2h6m-6 7h6m-28-9h6m10 20h6m4-1h6m-4 1h6m-4 1h6m1 2h6m-5 0h6m-3 2h6m-4-10h6m-6-3h6m-1 4h6m-3 5h6m-5-9h6m-2 3h6m-2 0h6m2 0h6m2 6h6m-1-8h6m-5 12h6m-5-13h6m-3 0h6m-5 5h6m-3 7h6m-5-8h6m-3 7h6m-4-4h6m-4 3h6m-6-10h6m-4 10h6m-3 2h6m-4-12h6m1 11h6m-6-3h6m-6 4h6m-5-13h6m-4 6h6m4-1h6m0-2h6m2-1h6m-1-2h6m-5 12h6m-3 1h6m1-13h6m-2 5h6m-4 0h6m-5-4h6m-3 12h6m-5-4h6m-3-1h6m-3 3h6m-5-11h6m-6 14h6m-3-9h6m-5 7h6m4-2h6m-3-1h6m-2 4h6m-4-5h6m5 6h6m-2-1h6m-6 1h6m-2-1h6m-6-7h6m-5-6h6m2 10h6m-4-5h6m-6 9h6m3-8h6m4 2h6m-6-4h6m-5-3h6m0-1h6m22 6h6m-6-2h6m6 0h6m-6 4h6m0-2h6m-3 5h6m-2-8h6m-2-2h6m-5 9h6m-6-6h6m0 5h6m-4 5h6m-4-10h6m-3-2h6m1 1h6m-5 5h6m7 0h6m0 2h6m3-6h6m-5 9h6m-1-13h6m-6 3h6m-5-3h6m1 14h6m-4-5h6m2 3h6m-6 2h6m-2-12h6m-5 9h6m-6-2h6m6-3h6m-5 4h6m-5 3h6m-1-3h6m0 2h6m8 0h6m-4-8h6m-6-2h6m0 2h6m-5 12h6m-14-1h6m-6 14h6m-6-6h6m-9-1h6m-6 5h6m-15-3h6m-13-2h6m-10-7h6m-8 8h6m-11 0h6m-8-1h6m-8-2h6m-6-2h6m-11 4h6m-9 5h6m-11-3h6m-7-8h6m-8 7h6m-6-4h6m-6 10h6m-9-14h6m-7 5h6m-22-3h6m-10 8h6m-7 2h6m-10-6h6m-7-2h6m-6-3h6m-24 6h6m-20-1h6m-7-2h6m-14-1h6m-10 1h6m-7 0h6m-9 2h6m-10-2h6m-7 8h6m-7-1h6m-8-1h6m-6-1h6m-7 1h6m-12 2h6m-7-10h6m-7 8h6m-6 2h6m-9-4h6m-9-1h6m-12-3h6m-7 3h6m-47 1h6m-10-8h6m-7 11h6m-9-3h6m-6 4h6m-9-5h6m-13-2h6m-9 8h6m-12-6h6m-9-5h6m-6 2h6m-12 2h6m-6 4h6m-12 3h6m-7-2h6m-15-9h6m-8 9h6m-13 2h6m-7-13h6m-6 13h6m-6-3h6m-7-9h6m-14 11h6m-11 0h6m-9 1h6m-7-5h6m-8-4h6m-16 10h6m-12-5h6m-9 1h6m-6 4h6m-18-4h6m-7-3h6m-13-6h6m-13-1h6m-7 10h6m-7 4h6m-13-4h6m-7-1h6m-7 0h6m-7-3h6m-8 3h6m-6-3h6m-12 2h6m-9-5h6m-9 9h6m-10-4h6m-12-5h6m-10 3h6m-15-5h6m-11 5h6m-8 3h6m-13-4h6m-7-1h6m-7 6h6m4 7h6m-4 3h6m-1 2h6m5-5h6m2 4h6m9-1h6m-1 6h6m7-5h6m-6 1h6m-3-6h6m1 0h6m-2 6h6m-5-3h6m-5 0h6m-4-3h6m1 7h6m-5-6h6m-3 9h6m-4-10h6m-4 7h6m-5-6h6m-4-2h6m6 14h6m-5-11h6m-6-3h6m-4 11h6m-4-1h6m-2-8h6m-5 2h6m-6 5h6m-5-9h6m7 12h6m-5-1h6m-2-2h6m-5-8h6m-6 9h6m-4 2h6m-2 2h6m0-3h6m-4-1h6m-5-2h6m-3-6h6m-5 5h6m-6-3h6m-4-4h6m58 12h6m-4-12h6m-1 8h6m-4 0h6m-4 4h6m-4-1h6m3-5h6m-6-6h6m-5 12h6m-5 0h6m-6-3h6m-5 2h6m-5-7h6m-6 10h6m-3-12h6m0 6h6m-6 0h6m0 1h6m-6-2h6m-5-6h6m-3 2h6m4 10h6m-4-6h6m-3-6h6m4 9h6m-4 0h6m0-4h6m0-1h6m4 2h6m-4-1h6m-5-1h6m-5-5h6m-6 14h6m-5-6h6m-4-4h6m2-1h6m-3 4h6m1-3h6m-6 10h6m-5-5h6m0 2h6m-3-8h6m-3 7h6m-4 4h6m-5-9h6m-6-2h6m-4 10h6m-5 1h6m0-6h6m-6-3h6m-6 9h6m0-3h6m-6-1h6m3-7h6m-6-3h6m-5 3h6m-3 5h6m-1 4h6m-4-5h6m-8 21h6m-7 1h6m-13-7h6m-7-7h6m-14 3h6m-10 0h6m-8 4h6m-7 3h6m-8-10h6m-7 9h6m-7-1h6m-8 6h6m-9-13h6m-8 11h6m-8-4h6m-6-8h6m-9 3h6m-7 11h6m-6-6h6m-7-3h6m-19-3h6m-10 11h6m-10 1h6m-7-14h6m-6 11h6m-11-2h6m-7 4h6m-14-8h6m-11 9h6m-14-4h6m-6 3h6m-8-13h6m-14 3h6m-9 8h6m-9 1h6m-14-6h6m-11-6h6m-10 12h6m-13-2h6m-13 3h6m-8-11h6m-23 2h6m-12 6h6m-7-8h6m-10-2h6m-12 13h6m-7-9h6m-7-4h6m-59 7h6m-8 7h6m-7-6h6m-12 5h6m-9-13h6m-6 1h6m-10 13h6m-10-12h6m-8 7h6m-6 0h6m-7-1h6m-14-3h6m-7 5h6m-8-5h6m-8 7h6m-7-8h6m-7 4h6m-6 1h6m-8-1h6m-11 2h6m-9 3h6m-7 0h6m-8-11h6m-6 4h6m-6 5h6m-9-8h6m-10 6h6m-6-5h6m-7 7h6m-25-4h6m-7 1h6m-7-8h6m-13 2h6m-15 4h6m-7-2h6m-8 7h6m-8-1h6m-13-8h6m-10 3h6m-7 0h6m-6-4h6m-7 10h6m-6-11h6m-22 12h6m-9-11h6m-12 0h6m-16 5h6m-9 0h6m-7 4h6m-8-6h6m-9-1h6m-11 11h6m-3 9h6m-4 2h6m-5 4h6m-5-1h6m4 0h6m-6-1h6m4-2h6m-3 1h6m-4-3h6m-5-7h6m-3 8h6m-4-5h6m-3 7h6m-3-2h6m-2-7h6m0 7h6m-5-7h6m0-1h6m-3 10h6m-5-8h6m-6 11h6m-6-11h6m-5 9h6m-5-11h6m-2 9h6m-1 3h6m-2-3h6m-5 4h6m-5-10h6m-3 5h6m-2 0h6m-4-2h6m-4 0h6m-4-3h6m-6 2h6m-5-2h6m-4 6h6m-5 0h6m-4-6h6m-6 10h6m-1-8h6m1-2h6m-3 7h6m-4-9h6m0 7h6m0 1h6m-1-6h6m-1 7h6m-4 3h6m-4-8h6m1 5h6m-6 3h6m-2-9h6m-5 8h6m-6-13h6m5 6h6m0-2h6m-2-3h6m-3 4h6m9-2h6m-6 11h6m-6-7h6m-5 6h6m-6-4h6m-4 5h6m4-5h6m-2-9h6m-5 12h6m-6-11h6m-4 4h6m-4-1h6m-5-3h6m4 3h6m-5-4h6m-2 2h6m-2 1h6m-6 8h6m-4-3h6m-2-2h6m-1-6h6m3 0h6m9 10h6m-5-6h6m-1 7h6m-4 1h6m1 2h6m0-13h6m-4 3h6m-5 6h6m-6 0h6m-4-2h6m-4-2h6m2-4h6m-5 10h6m-4-5h6m-6 1h6m-5-5h6m-2 5h6m-6-4h6m-3 4h6m-2-5h6m4 3h6m-1 6h6m2 0h6m22-6h6m5-5h6m-5 21h6m-6-4h6m-7 11h6m-12-12h6m-7 3h6m-7-1h6m-7 3h6m-9 1h6m-15-6h6m-17 5h6m-7 0h6m-8-3h6m-19 1h6m-9 8h6m-6-13h6m-9 5h6m-8-3h6m-8-2h6m-13 6h6m-8-2h6m-6 3h6m-10-2h6m-8 6h6m-13 3h6m-12-8h6m-15-5h6m-6 4h6m-9 5h6m-17-10h6m-9 0h6m-11 5h6m-10 8h6m-15-2h6m-7-11h6m-23 6h6m-17 2h6m-10-3h6m-17 5h6m-16-6h6m-6 0h6m-7 2h6m-7-2h6m-15-2h6m-7 7h6m-19-6h6m-8 9h6m-18-7h6m-8 3h6m-9 2h6m-8-8h6m-14 6h6m-13-6h6m-8 1h6m-16 6h6m-16 3h6m-7-8h6m-15 9h6m-7-13h6m-7 1h6m-8 0h6m-10 10h6m-16-10h6m-7 3h6m-6 4h6m-8 6h6m-6-5h6m-9 0h6m-10-2h6m-11 7h6m-6-9h6m-15-5h6m-11 8h6m-9-1h6m-10 3h6m-16-10h6m-6 0h6m-14 9h6m-11-1h6m-8 3h6m-10-7h6m-7 6h6m-15-8h6m-9 12h6m-8-10h6m7 12h6m-4 0h6m-6 2h6m-2-1h6m-6 10h6m-5-1h6m-6-2h6m-5-7h6m-5 8h6m-3 2h6m-6-1h6m3-9h6m0 6h6m-2-4h6m-3-3h6m-4 8h6m-2 1h6m1-7h6m1 4h6m-3 0h6m-3 7h6m-4-12h6m-5 7h6m-2 0h6m-3 2h6m-5-9h6m-6 3h6m-4-4h6m-3 0h6m9 1h6m1 12h6m0-8h6m-6 7h6m-5-3h6m-1-8h6m0 12h6m-3-2h6m-3-6h6m-6 2h6m-5 4h6m-1-1h6m-1-5h6m-2 7h6m-5-7h6m-2 7h6m0-2h6m-5 1h6m-5-2h6m2 0h6m-4-3h6m-4-4h6m-1 11h6m15-1h6m5-3h6m3-4h6m-5 1h6m2-7h6m-3 10h6m2-2h6m-6 3h6m-2 0h6m-4 0h6m5-5h6m-4 7h6m-3-13h6m-6 8h6m-5 2h6m-5 2h6m4-9h6m-5 2h6m2 3h6m-3-4h6m-3 6h6m4-2h6m-5 1h6m3 4h6m-5-8h6m3 0h6m7 2h6m-4 6h6m0 0h6m-3-5h6m-4 4h6m-1-2h6m0 0h6m-5 0h6m-4 3h6m-4-9h6m-1 1h6m-29 11h6m-9 0h6m-7 3h6m-10 2h6m-19-4h6m-9 6h6m-8 0h6m-8-1h6m-18 7h6m-10-14h6m-9 12h6m-6 1h6m-9-2h6m-7-10h6m-15 8h6m-7-3h6m-8-1h6m-8-4h6m-19 7h6m-12-1h6m-11-6h6m-31 10h6m-24-7h6m-7 1h6m-6-2h6m-10 6h6m-9 3h6m-10-1h6m-20-11h6m-6 2h6m-7 4h6m-9-6h6m-14 14h6m-9-2h6m-12-11h6m-8 13h6m-9-2h6m-17-7h6m-6-5h6m-11 12h6m-8 0h6m-8-2h6m-6-3h6m-9-3h6m-8-2h6m-8 9h6m-7 1h6m-7-3h6m-7-9h6m-7 6h6m-6 4h6m-7-5h6m-6 6h6m-7 2h6m-9-8h6m-11-1h6m-6-1h6m-7 4h6m-10 7h6m-10-13h6m-9 1h6m-12 8h6m-8 1h6m-6-10h6m-9 10h6m-6-6h6m-7-5h6m-10 8h6m-8-4h6m-7-3h6m-6 4h6m-8-5h6m-9 0h6m-12 10h6m-22-10h6m-13 5h6m-7 6h6m-8 2h6m-7-10h6m-19 3h6m-7 3h6m-11 1h6m-8 1h6m-8-6h6m-16-4h6m-9 2h6m8 18h6m-2-4h6m-5-2h6m4 4h6m-6-1h6m-4 4h6m1-2h6m7 8h6m1-4h6m-3 1h6m-5-5h6m7 4h6m-6-4h6m-1-5h6m5 14h6m-4-2h6m-2-2h6m-5-10h6m-1 1h6m-3 4h6m-6 9h6m-5-3h6m3 1h6m-6-12h6m-6 4h6m-2 4h6m4-8h6m-2 3h6m-5 1h6m1-3h6m0 10h6m1-10h6m-4 13h6m9-13h6m2 13h6m-6-5h6m-5-6h6m-2 9h6m7-9h6m-3-2h6m12 9h6m4 0h6m11-6h6m1-1h6m-2 0h6m-48 13h6m-32 2h6m-9-1h6m-9 11h6m-19-8h6m-6-2h6m-12 2h6m-8 4h6m-9-9h6m-10 3h6m-7 5h6m-7 6h6m-10-6h6m-10 0h6m-21 4h6m-7-11h6m-8 7h6m-10-3h6m-7 6h6m-9-1h6m-8-10h6m-24 8h6m-10-5h6m-6 6h6m-8-1h6m-9-5h6m-10-3h6m-15 12h6m-20-11h6m-8 11h6m-10-5h6m-8 0h6m-7 2h6m-27-6h6m-3 13h6m-5 6h6m-1 2h6m-6 5h6m-2-11h6m-5 10h6m2-13h6m-4 12h6m-2-9h6m-4-1h6m-5 12h6m-5-5h6m-2-6h6m-3 5h6m-5-2h6m-5-6h6m9 9h6m-6-2h6m1 6h6m1-8h6m-3 2h6m-5-4h6m-4 4h6m-5 3h6m2 4h6m14 0h6m-5-8h6m-2-2h6m-1 3h6m13-4h6m-32 20h6m-23 0h6m-9 0h6m-8-8h6m-8 13h6m-8 0h6m-18-9h6m-8 10h6m-6-14h6m-15 13h6m-7 1h6m-8-8h6m-10-5h6m-11 9h6m-15-2h6m-8-5h6m-9 5h6m-9-3h6m-9 6h6m-7-11h6m-7 22h6m2 7h6m-3-9h6m-4 9h6m-4-5h6m1-2h6m1 2h6m-2-3h6m-5-1h6m-1 8h6m-2-5h6m0 0h6m-4-5h6m-5 6h6m-6-5h6m-3 8h6m-3-8h6m0 0h6m5 2h6m-5-2h6m-19 19h6m-8 1h6m-7-2h6m-16-2h6m-7 1h6m-8-4h6m-15 7h6m-6 3h6m-9-11h6m-11 1h6m-7 10h6m-7-1h6m-15-1h6m-8 3h6m-9-8h6m-6-4h6m6 15h6m-3 1h6m5 9h6m-4-9h6m1 3h6m-4-5h6m-5 13h6m2-5h6m-8 7h6m-13 4h6m-33 4h6" stroke="#5c91c2" stroke-width="6" stroke-linecap="butt" fill="none"/>
<path transform="scale(0.2)" d="M1524 3329h6m-24-5h6m-25 2h6m-10 1h6m-18-1h6m-31 15h6m9-10h6m-6-1h6m-4 7h6m-2-2h6m23 2h6m41 7h6m1-7h6m0-3h6m-3 4h6m431 19h6m-32-1h6m-373-2h6m-10-4h6m-118-5h6m-28 11h6m-20-7h6m-10 25h6m6-2h6m109-6h6m14 0h6m-2 2h6m-3 2h6m-6-10h6m2 14h6m3-11h6m339 1h6m36 4h6m-392 20h6m-15-13h6m-8 2h6m-6 10h6m-15-1h6m-6-1h6m-23 3h6m-16-3h6m-8-10h6m-11 14h6m-42-6h6m-18-6h6m-21-2h6m-18 3h6m-19-2h6m-9 4h6m-25 3h6m-16-8h6m-12 0h6m14 23h6m-1 5h6m63-9h6m29 6h6m-3-5h6m-6 6h6m-3-2h6m-4 1h6m17-3h6m-4 5h6m-6-3h6m2-1h6m-25 16h6m-9-2h6m-15 0h6m-8-6h6m-7 5h6m-16 5h6m-18 0h6m-9-6h6m-10 4h6m-12-2h6m-15 3h6m-16-7h6m-20 1h6m-19 1h6m-32 19h6m29-1h6m-5 5h6m-2-9h6m-5-1h6m-3 0h6m34 9h6m5-10h6m-2 0h6m331 21h6m-51-6h6m-299 7h6m-8 3h6m-7-4h6m-11 6h6m-16-5h6m-10 2h6m-19-10h6m-17-1h6m-27 10h6m-10-7h6m-21-1h6m-16 12h6m-7-2h6m6 6h6m-2 3h6m-2 4h6m13-1h6m-4-8h6m11 5h6m0 4h6m-2-9h6m1 2h6m1 10h6m188 1h6m-23 14h6m-183-11h6m-13 9h6m-8-11h6m-26 0h6m-15 3h6m-12 1h6m-12 9h6m-13 1h6m-26-14h6m-6 7h6m6 21h6m1-3h6m-6-2h6m4 6h6m-3-6h6m-4-1h6m-5-3h6m0-2h6m0 0h6m8 6h6m2 1h6m-2 3h6m-3-12h6m-4 5h6m-5-5h6m155 12h6m0 0h6m-3-8h6m2 4h6m2-8h6m-4 11h6m-3-10h6m-4 5h6m1 8h6m-5-11h6m-4 3h6m-4-4h6m-9 19h6m-6 6h6m-9-10h6m-8 0h6m-8 10h6m-9-6h6m-9 1h6m-8 0h6m-7-2h6m-7-5h6m-10 0h6m-13 14h6m-14-12h6m-9 1h6m-9 1h6m-13 4h6m-17 5h6m-159-2h6m-8-1h6m-16-6h6m-20-3h6m-7 6h6m-10-5h6m-16 0h6m-9 6h6m-24-6h6m5 13h6m-4 1h6m8 3h6m-5-4h6m-3 1h6m3 0h6m-1 8h6m8 1h6m130-6h6m-3 10h6m1-2h6m13-1h6m-4-10h6m3-1h6m-5 5h6m-3-2h6m2 9h6m1-4h6m3 0h6m141-5h6m-170 19h6m-40 4h6m-9-11h6m-10 1h6m-9 11h6m-8-3h6m-18-8h6m-15 9h6m-32-3h6m-13 6h6m-88 1h6m-6-8h6m-11 3h6m-38-4h6m-7-3h6m-7 3h6m5 15h6m-3-5h6m-6 13h6m3-8h6m1-2h6m0 2h6m-5 3h6m0 3h6m-1 3h6m-2-1h6m-4-3h6m12-7h6m-6 4h6m0 0h6m-5 5h6m4-12h6m2 0h6m-5 11h6m7-2h6m1-7h6m-5-1h6m-5 8h6m-3-3h6m-1-1h6m-1 6h6m-3-11h6m-4 12h6m-2-5h6m-3-4h6m4 5h6m14-3h6m206 2h6m1 21h6m-233 1h6m-43-9h6m-28-1h6m-19 3h6m-6-4h6m-17 7h6m-27 3h6m-8-11h6m-14 0h6m-21 12h6m-14-4h6m-14-2h6m-15-3h6m-8-5h6m-8 23h6m2-2h6m-5 0h6m23-3h6m-4 10h6m22-9h6m-2 0h6m-2 8h6m2-8h6m43 10h6m89-2h6m111 11h6m-107 4h6m-36-1h6m-148 2h6m-7-7h6m-10 0h6m-21 2h6m-6 6h6m-9-5h6m-15 5h6m-12-12h6m-29 5h6m-18 5h6m-9 3h6m5 2h6m-1 10h6m13-9h6m6 10h6m-4-3h6m-4-6h6m-4 1h6m9 8h6m-2-3h6m-6-3h6m-5-3h6m-5-2h6m-5 7h6m-5-6h6m-4 8h6m-2 3h6m-4-7h6m-6 1h6m-6 0h6m-4-5h6m-2 11h6m6-1h6m-5-1h6m101-6h6m5-5h6m4 8h6m8 1h6m-5-4h6m17 8h6m-3-5h6m-4-3h6m0 0h6m-5 7h6m-6-2h6m0-7h6m-6 10h6m2-11h6m5 4h6m9 6h6m-4-2h6m14-2h6m13 3h6m54-5h6m-2-5h6m-5 11h6m-3-6h6m9-5h6m-21 16h6m-17-2h6m-7 7h6m-24 3h6m-17-10h6m-55 4h6m-27 7h6m-9 1h6m-25-5h6m-6-3h6m-25 1h6m-13 2h6m-10-7h6m-18 1h6m-8 0h6m-20 5h6m-16-7h6m-10 10h6m-11 2h6m-7-2h6m-8-4h6m-23-6h6m-13 14h6m-7-1h6m-12-7h6m-18-6h6m-6 5h6m-8 3h6m-14-2h6m-7-4h6m-15 6h6m-9 1h6m-16 3h6m-10-10h6m-14 3h6m-12 8h6m-7-2h6m-6 2h6m-8 0h6m-7-5h6m-10-2h6m-9-6h6m-13 5h6m-16-2h6m-7 8h6m-6-4h6m-11-6h6m-11 2h6m-13 8h6m-8 1h6m-7-3h6m-11-4h6m-10-3h6m-9-2h6m-8 10h6m-9-2h6m-6 0h6m-9-6h6m-8 4h6m-6-3h6m-11 2h6m-6 7h6m-9-7h6m-21-2h6m-7 6h6m-22 0h6m16 17h6m1-4h6m-6 2h6m4-9h6m7 14h6m-1-14h6m-3 7h6m-2-7h6m-5 11h6m0 1h6m-5 1h6m3 1h6m6-13h6m-6 2h6m-4-1h6m-5 5h6m20-5h6m-6-2h6m-1 4h6m-5-3h6m-4 8h6m0 3h6m-4-8h6m-6 0h6m-4 7h6m-6 1h6m0-11h6m-4 3h6m0 10h6m-2-9h6m5-1h6m-5 9h6m-4 1h6m-5-14h6m14 8h6m-2-2h6m-1-2h6m-3 5h6m2 3h6m-5-7h6m-2 2h6m-2 7h6m-1-12h6m2 1h6m-5 4h6m-6-4h6m-1 7h6m2-9h6m-5 8h6m-3 5h6m2-6h6m5-4h6m12 9h6m-1-9h6m-2-1h6m-1 2h6m-5 0h6m-5-3h6m-4 7h6m-5-7h6m-4 11h6m0-8h6m-2 1h6m-6 5h6m6-3h6m-1-1h6m-1-4h6m15 3h6m7-1h6m-1-1h6m-5 10h6m5-1h6m28 10h6m-6 3h6m-16 2h6m-18 1h6m-16 0h6m-15-7h6m-8-3h6m-7 6h6m-12-10h6m-17 11h6m-17-1h6m-9-6h6m-10 4h6m-9-1h6m-16-4h6m-13-3h6m-14 13h6m-11-3h6m-15 1h6m-13-4h6m-7-4h6m-6-3h6m-7 10h6m-9 1h6m-8-6h6m-7-2h6m-8-3h6m-11 14h6m-10-5h6m-12-7h6m-10 9h6m-7-9h6m-11 5h6m-8 5h6m-7-12h6m-8 9h6m-6-1h6m-14-5h6m-8 3h6m-9 8h6m-8-6h6m-9-1h6m-6 6h6m-7-9h6m-15-3h6m-13 11h6m-22-2h6m-13-8h6m-12 5h6m-6-5h6m-10 10h6m-6-7h6m-8 2h6m-9-5h6m-8 0h6m-15 1h6m-7 0h6m-7 8h6m-7-5h6m-10 1h6m-7 0h6m-16 4h6m-8-7h6m-11 7h6m-7 2h6m-19 1h6m-6-9h6m-11-5h6m-7 14h6m-7-4h6m-7 1h6m-11-5h6m-8 8h6m-17-1h6m-9 0h6m-7-4h6m-11-1h6m-13-7h6m-6 10h6m-10-4h6m-9-1h6m-7 8h6m-9-13h6m-7 1h6m-9 0h6m-8-1h6m-6 4h6m-13 9h6m-11-5h6m-7-2h6m-6-7h6m-9 8h6m-7-5h6m-8-3h6m-8 11h6m-10 1h6m-8 0h6m-14-1h6m-11 3h6m-7-1h6m-9-5h6m-7-6h6m-8 3h6m-6 6h6m-11-5h6m-9-1h6m-18 3h6m3 10h6m-4 1h6m10-2h6m-4 6h6m8-7h6m19 7h6m0-6h6m-5 9h6m-1 3h6m-6-13h6m5 13h6m-4 0h6m-3-14h6m-4 6h6m0-2h6m-5-1h6m-4 8h6m-3-6h6m-4 1h6m-1 5h6m-4 2h6m2 1h6m-3 0h6m-4-13h6m0-1h6m0 2h6m3 4h6m-3 2h6m-6 2h6m-5 4h6m-4-4h6m-5 3h6m-5-12h6m6 5h6m-3-1h6m9 6h6m-5 3h6m-3-5h6m-2-2h6m-1-4h6m-3-1h6m-3-2h6m-1 1h6m-1-1h6m-5 4h6m-1 2h6m3 7h6m1-4h6m22 0h6m2-8h6m-4 0h6m3 12h6m-2-8h6m-1-2h6m-3 7h6m-4-4h6m-2 4h6m-1-2h6m-5-1h6m-3 1h6m1-8h6m7 7h6m17 4h6m0-8h6m-6 8h6m-3-8h6m2 9h6m6-6h6m-6-3h6m-2 11h6m-2-7h6m-2 3h6m1-10h6m-5 3h6m14 25h6m-11-10h6m-8 8h6m-8-10h6m-10 12h6m-12-10h6m-10 1h6m-11 1h6m-8 6h6m-8-8h6m-14 7h6m-7 0h6m-7-8h6m-9 12h6m-12-6h6m-18 3h6m-9-10h6m-11 6h6m-11-4h6m-14 8h6m-11-4h6m-14 2h6m-12-2h6m-6 2h6m-9-7h6m-15 12h6m-19-1h6m-11 1h6m-21-9h6m-12 5h6m-8 1h6m-50-8h6m-12 10h6m-6-11h6m-7-1h6m-11 10h6m-7-1h6m-18 4h6m-17-5h6m-14-3h6m-6-3h6m-11 4h6m-16-6h6m-17 11h6m-22-4h6m-16-8h6m-13 5h6m-8 0h6m-18 9h6m-12-12h6m-20 10h6m-7 1h6m-21-10h6m-8-1h6m-24-1h6m-10-1h6m-18 12h6m-7-7h6m-9-4h6m55 20h6m-2-4h6m-2 1h6m2-2h6m3 8h6m-4-9h6m-4 11h6m-1-1h6m-4 4h6m-1-2h6m-1-1h6m-6-4h6m1 5h6m-2-6h6m-6-5h6m-2 0h6m-4 8h6m1 0h6m0-2h6m2 7h6m-5-2h6m-3-6h6m1-2h6m-6-2h6m-1 11h6m-5-10h6m1 11h6m9-12h6m53 3h6m-6 7h6m-4-2h6m8 4h6m0-14h6m-5 6h6m0 5h6m5-4h6m1-7h6m-3 2h6m-3 1h6m-2 0h6m0-1h6m-5 5h6m-6-1h6m-6 5h6m4 1h6m1-1h6m4-11h6m-4 4h6m-5 6h6m4 2h6m6-10h6m-2 10h6m-6-12h6m-5 8h6m-5-3h6m-1 8h6m-5-6h6m2 2h6m-4-4h6m-5 4h6m7-4h6m-2 5h6m-10 10h6m-12 4h6m-12-7h6m-13 5h6m-15 0h6m-6 5h6m-10-12h6m-9 9h6m-7 5h6m-18-8h6m-9 7h6m-7-8h6m-12 3h6m-8-5h6m-8 10h6m-10 1h6m-8-10h6m-14 10h6m-16-14h6m-7 0h6m-11 14h6m-11-12h6m-7 2h6m-13 4h6m-7-4h6m-6 0h6m-13-4h6m-14 7h6m-9-3h6m-6 8h6m-18-2h6m-6-4h6m-8-3h6m-10 11h6m-7 0h6m-10-13h6m-10 0h6m-29 12h6m-7-1h6m-11-2h6m-46-9h6m-7 9h6m-16-5h6m-12 0h6m-15 2h6m-9-2h6m-9 2h6m-19-1h6m-12 1h6m-29-2h6m-27 9h6m-18-13h6m-8 7h6m-10-3h6m-9 9h6m-9-2h6m-25 2h6m-7-3h6m-16-8h6m-10 4h6m-10 7h6m-12-7h6m-14 0h6m6 12h6m7 7h6m3-7h6m0 8h6m2 1h6m-5-1h6m-2-4h6m-1-6h6m0-1h6m1 11h6m0-12h6m-4 3h6m-2 2h6m-5 4h6m3-3h6m2-4h6m-3 2h6m-5 6h6m-5-4h6m2-6h6m-5 13h6m-6-11h6m-1 6h6m-4 3h6m-2-11h6m-5 7h6m-3-3h6m6 4h6m-4 4h6m0 0h6m-2-9h6m-6-2h6m0 6h6m-5 2h6m2-8h6m-6 3h6m2-1h6m-5 5h6m13 6h6m-1-6h6m-5 3h6m4 0h6m-5-2h6m-5 3h6m-6-8h6m-6-1h6m-3 1h6m-6 1h6m-2-3h6m-5 2h6m2 2h6m-5 3h6m-4 4h6m4-5h6m11-4h6m-1 4h6m2 2h6m8-4h6m-5 4h6m1 3h6m-5-7h6m-1 5h6m-4-9h6m-1 2h6m-5-1h6m-5-1h6m-6 6h6m9-8h6m-2 2h6m-5 7h6m-6 0h6m-2-1h6m-1 5h6m6-6h6m-5-7h6m-3 1h6m-6 10h6m0 3h6m19-9h6m3 0h6m-10 21h6m-8-8h6m-15 3h6m-12-2h6m-15 4h6m-29 5h6m-9-13h6m-10 11h6m-9-8h6m-8 0h6m-10-1h6m-11 6h6m-8-5h6m-6 0h6m-23 1h6m-14 8h6m-9-5h6m-6-4h6m-8 7h6m-16 1h6m-14-10h6m-14 6h6m-15 3h6m-10-2h6m-12-5h6m-24 11h6m-8-10h6m-13 9h6m-7-4h6m-11-7h6m-11 1h6m-15 7h6m-14 3h6m-10-10h6m-13-2h6m-11 7h6m-8 1h6m-11-3h6m-12 4h6m-9 0h6m-11 1h6m-7-2h6m-14-7h6m-9 10h6m-10-10h6m-18 6h6m-15-5h6m-7-2h6m-8 2h6m-11 9h6m-20-6h6m-9 3h6m-11-8h6m-20 7h6m-11-8h6m-9 4h6m-19 10h6m-15-13h6m-7 0h6m-11 4h6m-11-4h6m-11 5h6m-10-4h6m-9 2h6m1 21h6m2-9h6m-1 0h6m-1 3h6m-1 2h6m-4 5h6m0-5h6m-4-2h6m-5 5h6m0-5h6m-4 2h6m0 0h6m-6 3h6m-5 3h6m-4-4h6m-5 4h6m-1 0h6m-5-6h6m-5 8h6m-6-3h6m-6-11h6m0 12h6m-3 2h6m-3-14h6m-5 12h6m-1-4h6m-6-1h6m-5 3h6m4-6h6m-5-1h6m-6 7h6m-1 3h6m-3-6h6m3 5h6m-6-6h6m-6-2h6m-2 2h6m5 5h6m5-10h6m-5 13h6m-5-14h6m1 1h6m3 9h6m-4-10h6m-4 0h6m-3 11h6m3-1h6m2 4h6m-4-12h6m5 7h6m-3-5h6m7-1h6m-5 2h6m0 9h6m23-4h6m9-1h6m-4 3h6m7 1h6m-1-3h6m6-10h6m-6 1h6m-5 13h6m-2-9h6m1 2h6m-3 1h6m3-4h6m28 6h6m-3-10h6m3 8h6m-5-2h6m-51 10h6m-12 5h6m-10-4h6m-8 9h6m-6-4h6m-7-2h6m-6-5h6m-14 7h6m-17-6h6m-11 8h6m-12 3h6m-16 1h6m-29 0h6m-10-12h6m-8 13h6m-11-6h6m-14-6h6m-16 12h6m-34-6h6m-14 0h6m-7 4h6m-14-2h6m-7-3h6m-15 5h6m-21-2h6m-8 1h6m-15-7h6m-13-3h6m-7 13h6m-18-13h6m-14-1h6m-15 1h6m-8 11h6m-10 2h6m-11-9h6m-7 7h6m-8-2h6m-8 0h6m-7-5h6m-6-4h6m-18-1h6m-10 9h6m-7-4h6m-6 7h6m-15-1h6m-13 2h6m-10 0h6m-24 0h6m-8-8h6m-7 4h6m-15-6h6m14 15h6m10 6h6m9-8h6m-4-1h6m-5 14h6m-5-14h6m-4 5h6m2-2h6m-3 11h6m-5-4h6m-2-10h6m1 2h6m0 4h6m-4-6h6m6 7h6m-1 6h6m0-8h6m-3 6h6m-5-1h6m3-1h6m-3-6h6m-6 10h6m-3-4h6m-2-9h6m-2 14h6m0-14h6m0 1h6m-3 11h6m-4-12h6m13 9h6m-3 1h6m14 2h6m4-5h6m15-4h6m12 2h6m9-4h6m-60 17h6m-19 1h6m-9 0h6m-7 1h6m-21 1h6m-7-5h6m-31 13h6m-18-9h6m-16-1h6m-14 5h6m-7 2h6m-16-7h6m-9 9h6m-10-2h6m-7-9h6m-9 0h6m-16 8h6m-7-1h6m-14-3h6m-9-1h6m-16 1h6m-10-3h6m-26 3h6m-11 3h6m-7-8h6m-5 20h6m1-3h6m3 8h6m-5-2h6m-5-5h6m2 8h6m-1-1h6m-6-4h6m-4-3h6m-1 3h6m-2-4h6m5 10h6m-1-5h6m3-6h6m-6 9h6m4-3h6m4-3h6m3-3h6m1 27h6m-13-10h6m-18-1h6m-10 4h6m-7 5h6m-15-10h6m-6 4h6m-8 2h6m-7-1h6m-16 5h6m-10 0h6m-14-5h6m-10 1h6m-15 3h6m-6-6h6m-11-1h6m-6 9h6m-6-9h6m-7 2h6m-20-2h6m-6-3h6m1 20h6m4-3h6m4 5h6m-2 6h6m-4-2h6m-4-11h6m9 12h6m-4-11h6m-5 7h6m-3 5h6m-4-8h6m14-4h6m-16 15h6m-6 8h6m-18-5h6m-12 3h6m-11 3h6m-9 0h6m-9-8h6m-14 3h6m-8-5h6m-8-1h6m-6 11h6m-7-7h6m-11 4h6m-6 4h6m6 5h6m-5 1h6m5-1h6m-1 12h6m-3-13h6m-3 12h6m-3 1h6m-14 7h6m-10-1h6m-11 6h6" stroke="#4575b4" stroke-width="6" stroke-linecap="butt" fill="none"/>
<path transform="scale(0.2)" d="M1469 3327h6m-7 1h6m-25 14h6m-4-4h6m22-5h6m51 4h6m3 5h6m-1 1h6m11 1h6m-1-3h6m12 1h6m9 12h6m-19-2h6m-10-7h6m-18 13h6m-12-8h6m-20-2h6m-31 0h6m-12 8h6m-22 3h6m-35-9h6m-39 9h6m-13-4h6m-3 9h6m1 5h6m-4 1h6m-2-10h6m-5 5h6m7 8h6m2-7h6m3-1h6m7-3h6m-4 3h6m2 5h6m-4-10h6m-5 0h6m1 10h6m-5 2h6m1-8h6m-1 4h6m0 3h6m4-2h6m-2 1h6m-1 1h6m5-4h6m-3 1h6m5-3h6m11-2h6m13 2h6m-3 18h6m-42 1h6m-11-4h6m-11 8h6m-11 1h6m-21-13h6m-14 0h6m-10 12h6m-20-11h6m-12 11h6m-37-4h6m-28 3h6m-13 10h6m-5 2h6m4-4h6m8 8h6m1-6h6m-3-7h6m3 6h6m-6-4h6m8 1h6m14 9h6m0-11h6m-1 4h6m37 4h6m-5-5h6m1 6h6m3-6h6m-5-3h6m-79 25h6m-18-2h6m-11 5h6m-30-13h6m-29 11h6m72 9h6m-61 30h6m17 50h6m6 92h6m176 12h6m55-1h6m-194 7h6m119 88h6m-4 5h6m-26 9h6m-93 19h6m54 32h6" stroke="#90c3dd" stroke-width="6" stroke-linecap="butt" fill="none"/>
<path transform="scale(0.2)" d="M1500 3326h6m59 7h6m19 10h6m20 16h6m-47-11h6m-112 1h6m127 16h6m-26 36h6m9-7h6m-101 21h6m-7-5h6m-39 44h6m64 3h6m-1-6h6m338 21h6m-142-7h6m-31 18h6m14 5h6m-34 14h6m-201-1h6m-11 5h6m-26 9h6m31-5h6m147 1h6m6 27h6m-28-6h6m-10 3h6m-143-1h6m5 14h6m21-4h6m-3 3h6m31 5h6m2 4h6m-30 6h6m-85 23h6m-12 9h6m14 14h6m40 2h6m121-10h6m219 10h6m-20 7h6m-91 6h6m-52 1h6m-25-9h6m-20 8h6m-75 1h6m-42-2h6m-73-6h6m-25 2h6m-8 9h6m-7-11h6m-11 11h6m-13 16h6m20-5h6m24-8h6m110 4h6m58 6h6m54-6h6m77 0h6m-20 24h6m-47-10h6m-29 3h6m-146 7h6m-31-4h6m-37-4h6m-59 0h6m-9-1h6m-49 1h6m27 12h6m-1 3h6m74 9h6m30-6h6m25 1h6m-1-6h6m131 6h6m5-1h6m12 2h6m28-5h6m18 21h6m-15-1h6m-60 2h6m-70 2h6m-18-9h6m-172 1h6m-43-2h6m5 18h6m51-4h6m15 10h6m4-4h6m89 5h6m121-9h6m4-5h6m-6 2h6m-3-1h6m-83 17h6m-62 3h6m-108-1h6m-14-3h6m-65 11h6m-33-1h6m-32-5h6m-33-5h6m233 21h6m9 2h6m7-3h6m9 4h6m-5-4h6m-2-6h6m62 6h6m-175 16h6m-22 4h6m-19-10h6m-87 4h6m-15-3h6m-26 3h6m-41 7h6m-3 3h6m0 2h6m3 0h6m1 11h6m39-6h6m-4-4h6m55 9h6m142-4h6m-13 8h6m-41 7h6m-76-3h6m-47 8h6m-13-11h6m-39 11h6m-46-1h6m-12 2h6m21 5h6m134 9h6m2 2h6m-11 3h6m-80-4h6m-84 7h6m-20-2h6m44 24h6m21-11h6m-7 16h6m-56 15h6m29 5h6m-2-1h6m12 9h6m-19 14h6m4 2h6" stroke="#3b56a4" stroke-width="6" stroke-linecap="butt" fill="none"/>
<path transform="scale(0.2)" d="M1515 3338h6m91 20h6m-146-13h6m-11 19h6m98 15h6m-27 9h6m-32-2h6m-44-3h6m-26-5h6m-28 2h6m24 13h6m48 1h6" stroke="#abd9e9" stroke-width="6" stroke-linecap="butt" fill="none"/>
<path transform="scale(0.2)" d="M2007 3358h6m-30-6h6m-31 19h6m2-7h6m-3 2h6m-3 6h6m1-7h6m-2 6h6m1 1h6m1-11h6m-4 8h6m-5-1h6m7 7h6m-16 10h6m-9-8h6m-8 4h6m-6 4h6m-8 3h6m-11 0h6m-18-7h6m-10-2h6m-21 4h6m2 10h6m1 3h6m1-2h6m3 2h6m5 3h6m1-6h6m-35 25h6m-11-1h6m15 4h6m-8 18h6m-114 14h6m-15 123h6m5 0h6m7 12h6m-27-2h6m-16 13h6m-208-8h6m173 15h6m9 4h6m-5-7h6m10 8h6m6 3h6m12-13h6m-32 15h6m-41 25h6m39-9h6" stroke="#be1826" stroke-width="6" stroke-linecap="butt" fill="none"/>
<path transform="scale(0.2)" d="M1967 3372h6m-6 0h6m4-10h6m21 1h6m1 18h6m-18 3h6m-8-8h6m-11 9h6m-18-1h6m-23-7h6m9 25h6m0-1h6m-5-7h6m-5-1h6m-1 2h6m4-2h6m2-2h6m-20 17h6m-18 2h6m-8-2h6m-133 26h6m7-1h6m17-1h6m75 0h6m7-9h6m-4 10h6m5-11h6m-7 23h6m-8-9h6m-7 6h6m-14 3h6m-93 2h6m-12-1h6m-7-2h6m-11-4h6m-7 8h6m-9-1h6m-8-11h6m-13-1h6m-7 11h6m-6-11h6m-7 13h6m-16-13h6m-19 10h6m-6-1h6m-9 12h6m-1 0h6m-3 2h6m-4-5h6m-6 8h6m0-10h6m-5 9h6m-5-8h6m-5 11h6m-3 0h6m-4-3h6m-4 4h6m-5-12h6m-5 1h6m12 5h6m-3-4h6m-5-3h6m-3 3h6m81-2h6m1-2h6m-109 15h6m-11 9h6m-15-6h6m-8 5h6m-11 5h6m-8-13h6m-8 6h6m-15 1h6m19 12h6m-5-2h6m-1-1h6m11 0h6m0 73h6m-12 14h6m-43 12h6m4 4h6m-3-6h6m-4-4h6m-6 6h6m-2 1h6m2 1h6m7 2h6m-19 4h6m-8 4h6m-7-7h6m-12 13h6m-8-6h6m-7-4h6m-7 5h6m-13 6h6m-8-12h6m-8 7h6m-20 1h6m-196-6h6m175 24h6m7-7h6m8-2h6m-1 9h6m-5-12h6m2 4h6m-5 6h6m-5-11h6m-5 5h6m-4-5h6m-3 5h6m2 5h6m-4-7h6m-3 5h6m-4-6h6m-4 8h6m-6-1h6m14-7h6m6 8h6m-1-1h6m-6-6h6m5 4h6m-18 17h6m-19-4h6m-42 0h6m-10-2h6m-10 11h6m-8-12h6m-18 7h6m-24-3h6m-10 6h6m-30-9h6m41 20h6m46-8h6" stroke="#e64f35" stroke-width="6" stroke-linecap="butt" fill="none"/>
<path transform="scale(0.2)" d="M1993 3352h6m-9-1h6m-9 7h6m-8-6h6m-7 3h6m-10 2h6m-24 10h6m-5 6h6m11 0h6m-5-1h6m-1-1h6m-3-3h6m-5-3h6m-2 1h6m-6 8h6m4-8h6m-1 8h6m-3-8h6m-6 7h6m-4 2h6m-7 5h6m-7-2h6m-8 5h6m-8 6h6m-6-4h6m-7 3h6m-8 1h6m-8-7h6m-9-7h6m-9 4h6m-11-4h6m-8 0h6m-8 4h6m-7-1h6m-12 3h6m-8-1h6m-8 6h6m-16-4h6m-7-5h6m-8 11h6m-9 5h6m-6 1h6m2 5h6m-5-3h6m-5 4h6m-6-3h6m-2-7h6m-6 4h6m-5 6h6m-1 1h6m-5 2h6m-5-1h6m-5-8h6m-5-2h6m-5 5h6m-1 3h6m-4 4h6m-3 0h6m-3-6h6m-4-5h6m-5 8h6m0-9h6m-5 3h6m-14 22h6m-9-3h6m-6-2h6m-9 1h6m-6-4h6m-8-3h6m-7 13h6m-6-3h6m-12-5h6m-6-3h6m-6 2h6m-11 1h6m-8 8h6m-9-3h6m-125 17h6m122-13h6m-5 12h6m13-6h6m-18 18h6m-21-4h6m-12-1h6m-82 4h6m-14 2h6m-7-7h6m-11 0h6m-6 4h6m-13-5h6m-6 11h6m-23-1h6m-17-9h6m-6 10h6m-3 11h6m-3-5h6m-2 1h6m7 5h6m-3-1h6m-3-3h6m-6 8h6m-3-1h6m99-11h6m-115 16h6m-9-3h6m-8 3h6m-27 5h6m6 107h6m-2 2h6m14-8h6m-4 1h6m-1 0h6m4 8h6m25 15h6m-7 1h6m-25-1h6m-13-1h6m-9-4h6m-8 4h6m-10-11h6m-8 8h6m-7-5h6m-11 9h6m-6-1h6m-12-1h6m-7-8h6m-7 4h6m-22-1h6m-6 0h6m-8-3h6m-10 11h6m-202-3h6m124 17h6m46 1h6m-1-9h6m2-5h6m-1 6h6m-3-5h6m-3 4h6m-4 3h6m-6-6h6m-4 1h6m-5 4h6m-5-3h6m-3 4h6m-6-4h6m-5-3h6m1 3h6m-6-3h6m-4 7h6m-1-1h6m-6-5h6m-3 0h6m-5 11h6m-4 1h6m-4-6h6m36-4h6m-12 23h6m-32 2h6m-17-5h6m-19-1h6m-7 2h6m-10-6h6m-10 2h6m-7-5h6m-21 11h6m-9 2h6m-32 4h6m36 7h6m3 2h6m-3-7h6m24 0h6m3 14h6m-23-4h6m-26 10h6" stroke="#d73027" stroke-width="6" stroke-linecap="butt" fill="none"/>
<path transform="scale(0.2)" d="M1991 3370h6m-8 20h6m-12 18h6m-104 38h6m-12-4h6m-7 1h6m-12 4h6m-10 2h6m-21-11h6m-8 2h6m-10 7h6m-12-3h6m9 12h6m-5-6h6m-3 14h6m3-1h6m3-4h6m4-2h6m6 1h6m-2 0h6m-27 14h6m-12 6h6m-12-12h6m-27 13h6m23 1h6m0 103h6m-1 13h6m-207 18h6m206-3h6m1-6h6m47 16h6m-15 6h6m-10-10h6m-6 9h6m-94-10h6m74 17h6m13 2h6m-6 17h6m-81 12h6" stroke="#f46d43" stroke-width="6" stroke-linecap="butt" fill="none"/>
<path transform="scale(0.2)" d="M1868 3444h6m-9-3h6m-8-6h6m-13 22h6m40-3h6m28 160h6m-3-7h6m12 3h6m-27 15h6m-7-9h6" stroke="#f88e52" stroke-width="6" stroke-linecap="butt" fill="none"/>
<path transform="scale(0.2)" d="M1905 3449h6m-25 11h6m-4 3h6m1-6h6m-6 4h6m-25 23h6m26 14h6m-12-1h6m-12 7h6m-9-9h6m-7 43h6m-2 7h6m2 4h6m-5-5h6m-5 17h6m-13 3h6m-10 5h6m4 20h6m-4 28h6" stroke="#fee090" stroke-width="6" stroke-linecap="butt" fill="none"/>
<path transform="scale(0.2)" d="M1796 3606h6m-132 60h6m-21 120h6" stroke="#313695" stroke-width="6" stroke-linecap="butt" fill="none"/>
<path transform="scale(0.2)" d="M1898 3462h6m-14 28h6m11 17h6m-14-4h6m-7 1h6m-12 4h6m3 23h6m-12-6h6m-5 28h6m6-4h6m-4-1h6m-22 61h6" stroke="#feefa7" stroke-width="6" stroke-linecap="butt" fill="none"/>
<path transform="scale(0.2)" d="M1885 3463h6m-5-10h6m-3 32h6m6-5h6m-6 20h6m-7 31h6m-1 13h6m-3 43h6" stroke="#fec778" stroke-width="6" stroke-linecap="butt" fill="none"/>
<path transform="scale(0.2)" d="M2014 3388h6m-46 10h6m-91 207h6" stroke="#a50026" stroke-width="6" stroke-linecap="butt" fill="none"/>
<defs><linearGradient id="cb102" x1="0" y1="0" x2="0" y2="1"><stop offset="0.00" stop-color="#a50026"/><stop offset="0.10" stop-color="#d73027"/><stop offset="0.20" stop-color="#f46d43"/><stop offset="0.30" stop-color="#fdae61"/><stop offset="0.40" stop-color="#fee090"/><stop offset="0.50" stop-color="#ffffbf"/><stop offset="0.60" stop-color="#e0f3f8"/><stop offset="0.70" stop-color="#abd9e9"/><stop offset="0.80" stop-color="#74add1"/><stop offset="0.90" stop-color="#4575b4"/><stop offset="1.00" stop-color="#313695"/></linearGradient></defs>
<rect x="406.80" y="659.20" width="4.80" height="123.70" fill="url(#cb102)" stroke="none" stroke-width="0.6" />
<rect x="283.50" y="659.20" width="128.10" height="123.70" fill="none" stroke="#6d6e71" stroke-width="0.9"/>
<text x="285.70" y="779.30" font-size="9" text-anchor="start" font-weight="normal" fill="#231f20"  stroke="#231f20" stroke-width="0.1">CD103</text>
<path transform="scale(0.2)" d="M2229 3327h6m-14 2h6m-10-3h6m-8 0h6m-11-2h6m-11-2h6m-18 6h6m-16-7h6m-7 3h6m-11 3h6m-8-4h6m-11-1h6m-15 0h6m-10 0h6m-10 0h6m-8 4h6m-9 2h6m-19 0h6m-22 5h6m-2 4h6m-6-2h6m-4-2h6m-5 4h6m10 7h6m-1-5h6m-4 2h6m-3-11h6m-5 4h6m-5 1h6m-3 9h6m-4-2h6m-3-8h6m5 6h6m-2-5h6m-1 9h6m-2-1h6m-3-13h6m-6 12h6m-1-6h6m-2-2h6m-5-1h6m-2 2h6m1 5h6m1 4h6m8-8h6m-1 5h6m0-6h6m8 1h6m-4 3h6m-4-3h6m-5 7h6m-1 0h6m1-2h6m-6 0h6m394 18h6m-28-7h6m-17 3h6m-365-9h6m-15 6h6m-6 7h6m-13-11h6m-9 1h6m-6-1h6m-7 4h6m-7-4h6m-7 11h6m-9-3h6m-12-4h6m-8 0h6m-7-5h6m-9 2h6m-12 6h6m-6 1h6m-6-7h6m-7 3h6m-29 1h6m-8 5h6m-13-3h6m-9-6h6m-7 5h6m-6-6h6m-9 4h6m-6 7h6m-12-5h6m-7 5h6m-6-13h6m-7 4h6m-7 1h6m-10 4h6m-13 2h6m-9-12h6m-11 13h6m-6-3h6m-8-9h6m-9-1h6m-16 14h6m-6-9h6m-13 1h6m-6 8h6m-14-13h6m-13 8h6m-9 0h6m-7-3h6m-8-4h6m-10 2h6m-10 9h6m-14-11h6m-7 3h6m-7-5h6m-3 16h6m-1 7h6m-4-1h6m1-5h6m-6 4h6m-3 1h6m-5 0h6m-5-4h6m-3 11h6m-5-10h6m1 8h6m-1-9h6m-5-2h6m-3 0h6m3 9h6m-4-2h6m-4 3h6m-5 3h6m-1-2h6m-2 2h6m-1-6h6m-5 3h6m1-11h6m-2 9h6m11-7h6m-3 0h6m2 8h6m5-1h6m-3 0h6m4 4h6m-1 1h6m-5-8h6m-3-3h6m2 7h6m-5 0h6m-5-7h6m-1 9h6m-3-2h6m-5 0h6m-4 0h6m-1-3h6m-6 7h6m1 0h6m-6-5h6m-4 0h6m-5-4h6m-6 7h6m-1-8h6m-5 5h6m-4-1h6m-6 6h6m383-10h6m-5 7h6m-1 0h6m-7 5h6m-401-1h6m-6 10h6m-8 2h6m-7 2h6m-10-13h6m-10 10h6m-6-5h6m-9-1h6m-9 2h6m-8-4h6m-9-1h6m-8 11h6m-8-11h6m-7 10h6m-8-7h6m-12-5h6m-9 2h6m-8 3h6m-11 4h6m-6 2h6m-7-7h6m-8-1h6m-9 11h6m-7-5h6m-7 4h6m-6-1h6m-8-4h6m-7 1h6m-10-9h6m-6 8h6m-8-8h6m-14 14h6m-9 0h6m-8-14h6m-6 3h6m-14-1h6m-7 3h6m-9-3h6m-13 3h6m-10 8h6m-21-2h6m-9 0h6m-11-10h6m-16 5h6m-7 5h6m-7-2h6m-10 5h6m-7-2h6m-25-5h6m-7-5h6m-9-2h6m-6 7h6m-6 4h6m-7-11h6m-8 0h6m-7 2h6m-8 12h6m-8-9h6m-10 0h6m5 10h6m2 12h6m2-1h6m-1-9h6m-2 7h6m-5-9h6m-6 8h6m2-6h6m-4-1h6m3 9h6m3 4h6m-3-7h6m-5 5h6m-1-10h6m-6 1h6m-3 10h6m-5-13h6m-3 0h6m0 5h6m2 6h6m-5-4h6m-2 0h6m-4-5h6m2 10h6m-4-1h6m-6 3h6m-5-3h6m-4-5h6m-5 4h6m-6 3h6m-1-8h6m-4 6h6m-5-3h6m-5-1h6m1 7h6m-5-13h6m-3 6h6m-1 6h6m-4-7h6m-5 3h6m-5 0h6m-5-5h6m2 3h6m-6 0h6m5 0h6m-4-5h6m-2-2h6m-47 16h6m-10 4h6m-9 4h6m-9-6h6m-15 5h6m-15-2h6m-6 0h6m-7 0h6m-8 3h6m-8-7h6m-7 1h6m-8 1h6m-9 4h6m-14 3h6m-16 1h6m-12 2h6m-8-2h6m-9-10h6m-9 8h6m-8-3h6m-8 0h6m-12-6h6m-10 12h6m-17-5h6m-6 19h6m5-10h6m-3 9h6m-3 1h6m12 0h6m-4-6h6m-3-1h6m9-1h6m-6 3h6m-1 5h6m8-11h6m-5 4h6m6 4h6m281 5h6m22-5h6m1-1h6m104 0h6m-15 18h6m-19-5h6m-75 1h6m-11 4h6m-52-8h6m-15 0h6m-9 5h6m-293-8h6m-29 0h6m-10 1h6m-15 13h6m-9-10h6m-17 9h6m-8-5h6m-8-3h6m-7 5h6m-11 0h6m-6 4h6m-12-4h6m-8 4h6m-7-4h6m-9-6h6m-15 7h6m-9-1h6m-6-6h6m-13-1h6m6 22h6m-2-4h6m-5 8h6m-6-13h6m-5 11h6m0-3h6m-6 1h6m6-7h6m1 9h6m2 0h6m3-3h6m-4 2h6m-3-1h6m-5-1h6m-2 5h6m-5-10h6m-1 9h6m-2-12h6m2 7h6m183 1h6m-5 2h6m-5-3h6m0-2h6m1 7h6m78-13h6m10 22h6m-105 3h6m-8-8h6m-222 0h6m-12 12h6m-11-6h6m-14 4h6m-7-12h6m-7 11h6m-8-8h6m-10-1h6m-12 8h6m-8-1h6m-7-8h6m-8 3h6m-16 7h6m-8-7h6m-26-2h6m12 24h6m-4 0h6m-6-1h6m-5-9h6m-2 4h6m-3-1h6m31 5h6m-2 0h6m-5-5h6m-2 2h6m-6-1h6m195-4h6m-2 7h6m146-3h6m-166 10h6m-211 2h6m-8 4h6m-13-5h6m-13 5h6m-7 2h6m-7 6h6m-7-7h6m-7-2h6m-21-3h6m-7 7h6m-8-6h6m-8 4h6m-13-6h6m1 28h6m6-7h6m-3 6h6m3-12h6m212 5h6m163 21h6m-7-7h6m-201-2h6m-29 3h6m-21-6h6m-12 6h6m-12 5h6m-20-4h6m-14 2h6m-9 0h6m-12 4h6m-33-8h6m-6 7h6m-17 2h6m-7-2h6m-8 0h6m-12 1h6m-45-9h6m-9 6h6m-7-8h6m-8 5h6m-11-6h6m-6 3h6m-14 4h6m-9-2h6m-8 0h6m-9 0h6m-6-5h6m-13 3h6m-11 13h6m-1 8h6m-2-9h6m-4 0h6m1 4h6m1 0h6m-5 1h6m10 2h6m-4 2h6m-5 0h6m0 4h6m-5-5h6m-3 2h6m-6-11h6m-3 3h6m-6 10h6m4-10h6m-5 6h6m-6-3h6m-4-2h6m-6-3h6m-4 0h6m1 13h6m1-2h6m3-8h6m-4 5h6m4 3h6m-5-6h6m-3 4h6m2-5h6m2 0h6m3-1h6m-2-1h6m0-2h6m0 6h6m13-6h6m217 9h6m-168 11h6m-97 8h6m-23-12h6m-21-2h6m-6 3h6m-6 2h6m-8 4h6m-13-8h6m-12 4h6m-9-4h6m-8 5h6m-15 6h6m-6-7h6m-12-5h6m-10 2h6m-8 0h6m-7-2h6m-8 8h6m-10 1h6m-8-1h6m-7-4h6m-7-1h6m-10 0h6m-8-2h6m-8 4h6m-8 0h6m-7 5h6m-7-9h6m-9 2h6m-6 9h6m-23 1h6m-9-1h6m-9-9h6m-11 11h6m-18-11h6m0 26h6m-4-1h6m-4 0h6m22-10h6m-4 2h6m-4-4h6m-4 12h6m0-3h6m-5 2h6m13 1h6m-4-3h6m1-2h6m-2 3h6m157-4h6m187 17h6m-24 2h6m-12-4h6m-156-2h6m-33-1h6m-164 1h6m-8 5h6m-8 0h6m-16 4h6m-7-11h6m-6 5h6m-8 5h6m-7 1h6m-18 0h6m-9-1h6m-10 1h6m-9 0h6m-9-2h6m-12 2h6m-19 0h6m-19-13h6m-8 7h6m-9 9h6m2 5h6m0 0h6m-6 7h6m12-2h6m-5-4h6m-5 6h6m0-6h6m2-8h6m-6 0h6m-2 2h6m4 1h6m-4 2h6m1 2h6m-1-1h6m-5-5h6m-4 9h6m-6-7h6m-5 9h6m-6-5h6m-2 5h6m-3-2h6m-3-3h6m6 3h6m-6 4h6m-4-4h6m58 2h6m11-5h6m59 2h6m26-3h6m11-2h6m-5 8h6m6-5h6m13-6h6m-5 3h6m37 6h6m10-1h6m1 0h6m-4-9h6m-4 1h6m-3 6h6m-6 6h6m-1-7h6m7 1h6m-4-5h6m2 10h6m1-8h6m4-1h6m-6 14h6m-45-2h6m-7 11h6m-54-10h6m-51 4h6m-112-2h6m-48-1h6m-11 2h6m-15-2h6m-36 7h6m-10 0h6m-8 0h6m-8 3h6m-28 0h6m-8-11h6m-17 0h6m-10 10h6m-9 3h6m-6-14h6m-10 3h6m-9 0h6m-6 2h6m-8 9h6m-8-2h6m-13-5h6m-9 3h6m-8-9h6m-13 13h6m-7-3h6m-8-7h6m-8 1h6m-8 1h6m-6-5h6m-12 7h6m-12-2h6m-20 8h6m-9-6h6m-12-5h6m8 15h6m11-3h6m0 6h6m-4 1h6m-3 0h6m-6 7h6m-5-4h6m-3-1h6m-5-8h6m-5 13h6m-5-13h6m-5-1h6m-4 3h6m-4 7h6m-5 0h6m-4-8h6m-4 11h6m-4-11h6m-3-2h6m-6 14h6m-1-7h6m-3-7h6m-4 13h6m-5-3h6m-5-3h6m2-2h6m-6-2h6m-5 2h6m-5-1h6m10-1h6m2 2h6m10-2h6m0 6h6m30-2h6m192-2h6m43 0h6m6 2h6m-2-2h6m-2 6h6m4-11h6m-5 5h6m-2 4h6m-6 11h6m-34 0h6m-23 2h6m-14-2h6m-242 9h6m-9-13h6m-10-1h6m-10 11h6m-15-1h6m-7 3h6m-19 1h6m-10-8h6m-7 2h6m-27-5h6m-12 11h6m-10-8h6m-13-6h6m-7 12h6m-10-2h6m-7-6h6m-7 2h6m-8 4h6m-6 2h6m-12-1h6m-8-10h6m-13 11h6m-7-4h6m-8-5h6m-15 7h6m-12-1h6m-10-6h6m-10-2h6m-6 10h6m-18-9h6m-7 3h6m22 14h6m1-1h6m-6 7h6m7-4h6m34 0h6m-4-3h6m-1-3h6m5 4h6m2 4h6m-3 6h6m0-2h6m16-2h6m15 1h6m3-4h6m-6 6h6m-3-3h6m-5 4h6m1-6h6m-1 3h6m2 3h6m41-12h6m27 0h6m1 12h6m0-9h6m-3 9h6m28-9h6m2 1h6m26-6h6m3 5h6m0 0h6m1 6h6m9-10h6m-4 8h6m11-1h6m-2 9h6m-7 7h6m-7 3h6m-7-2h6m-8-1h6m-16-5h6m-7 1h6m-10 9h6m-21-12h6m-7 7h6m-7-8h6m-7 5h6m-8 0h6m-7 7h6m-16-12h6m-7 12h6m-20-2h6m-15 2h6m-17-1h6m-6-4h6m-8-7h6m-29 11h6m-16-2h6m-29 1h6m-14 2h6m-20-4h6m-44-6h6m-9-2h6m-9 11h6m-34 2h6m-9-12h6m-10 1h6m-12 10h6m-8-12h6m-9 10h6m-9-2h6m-15 2h6m-10-2h6m-9 0h6m-12-3h6m-8-3h6m-9-3h6m-7 4h6m-12 5h6m-6-4h6m-47-5h6m-26 9h6m-10-3h6m-8-5h6m-8-1h6m-13 4h6m-7 1h6m-14 9h6m-9-10h6m-21 5h6m-7 4h6m-10-12h6m4 15h6m-6 5h6m-5 4h6m12-10h6m-6 11h6m-1-8h6m-4 4h6m4 2h6m0-6h6m6 11h6m-5-13h6m-4 2h6m-2 9h6m-3-4h6m0-8h6m-4 6h6m-5 1h6m-4 0h6m-1 5h6m-1-3h6m2-1h6m-6-3h6m-5-1h6m-5 0h6m-5 5h6m1-3h6m-6-3h6m-1 8h6m-6-8h6m-2 3h6m-3-4h6m-1 1h6m-5 7h6m-5 1h6m-3-7h6m-5 7h6m-1 0h6m-2 0h6m2-5h6m-5-6h6m7 10h6m-5-2h6m-5-5h6m-2 9h6m-1 0h6m4-11h6m-5 1h6m39-1h6m-4 12h6m-5-12h6m-3 1h6m-5 0h6m7 7h6m-2-5h6m-5-4h6m-4 1h6m-5 11h6m9-5h6m-1 0h6m-4 4h6m2 2h6m-3-9h6m11 9h6m1-1h6m-6-11h6m-4 1h6m-5 1h6m-4 2h6m-4-3h6m-4 12h6m-4-1h6m-5-9h6m-4 6h6m-1 0h6m-3-3h6m9-4h6m0 4h6m3 3h6m-2 3h6m-4-9h6m-6 8h6m-4-3h6m-6-9h6m-3 2h6m0 11h6m-3-5h6m-4-3h6m-2 3h6m-5 3h6m-5-6h6m-4 2h6m-7 13h6m-7 8h6m-11-10h6m-19-3h6m-9 14h6m-17-8h6m-10-3h6m-10 6h6m-7-3h6m-8 2h6m-7 0h6m-9-8h6m-7 1h6m-7 7h6m-14 5h6m-6-12h6m-8 2h6m-6 11h6m-6 0h6m-10 0h6m-12-9h6m-8-3h6m-7 12h6m-20-9h6m-7 6h6m-7-11h6m-7 7h6m-7-4h6m-9 10h6m-7-1h6m-6 1h6m-7-10h6m-6 0h6m-9-1h6m-9 7h6m-8-6h6m-9 9h6m-12 0h6m-6-9h6m-9 11h6m-6-2h6m-8 1h6m-6-1h6m-6 0h6m-9-9h6m-9-2h6m-6 8h6m-13-8h6m-8 7h6m-14-3h6m-20-4h6m-8 9h6m-6-4h6m-18 6h6m-8-7h6m-7-2h6m-6 10h6m-11-2h6m-8-4h6m-6-3h6m-42 9h6m-24-7h6m-10 7h6m-7-11h6m-7 9h6m-8-3h6m-10-7h6m-7 10h6m-8-6h6m-9 6h6m-7 1h6m-7-7h6m-12 9h6m-9-10h6m-10 10h6m-16-2h6m-11-8h6m-8-1h6m-10 1h6m-11 8h6m-7-7h6m-8 8h6m-10-9h6m-11-3h6m-9 3h6m-7 2h6m-9-4h6m-8 1h6m-7 6h6m-8-1h6m-6-6h6m-8-2h6m-8 7h6m-8 2h6m-9-5h6m-7 5h6m-7 1h6m-14-4h6m-12 2h6m-10-3h6m-7 7h6m-8-3h6m-17-2h6m-7-2h6m-6 4h6m-9 3h6m-20-10h6m-11 4h6m-7-6h6m-11 1h6m9 19h6m-5 4h6m-5-9h6m-4 4h6m-4 4h6m-4 6h6m-5-14h6m-2 8h6m-1 3h6m-3-11h6m-6 6h6m-5 0h6m-6 8h6m-4-2h6m-5-2h6m-5 4h6m-3-12h6m-6 2h6m-4-2h6m6 11h6m3-7h6m6 4h6m0-1h6m-1-7h6m0 10h6m-1-10h6m-2 11h6m-2-3h6m-3-4h6m0 6h6m5-4h6m-6 1h6m0-4h6m-5 8h6m-5-2h6m0-6h6m-5 9h6m-4-13h6m-5 4h6m2-3h6m-6 7h6m-5-2h6m-4 6h6m-3-3h6m-5-2h6m1 1h6m1 5h6m-5-13h6m-2 11h6m0-10h6m-6 12h6m-4-11h6m-1-3h6m-2 10h6m-4 0h6m-4-9h6m-5 12h6m3-10h6m-2 6h6m-4 1h6m1-8h6m17 1h6m-2 10h6m-2-10h6m-5 3h6m-3-4h6m1 12h6m-5-11h6m-5 5h6m0 1h6m6 4h6m-4-1h6m1-11h6m-6 2h6m-3 2h6m-6 8h6m-4-2h6m-3 0h6m-6-7h6m-5 7h6m3 2h6m-5-7h6m-5 0h6m2-3h6m-3-2h6m10 13h6m-2-13h6m-5 4h6m1 3h6m4-3h6m-5 8h6m-3-1h6m-4-10h6m-5 1h6m-6 7h6m-6 3h6m-6 0h6m-2 0h6m-3-4h6m-5-8h6m5 2h6m-8 18h6m-16-3h6m-9 1h6m-11-3h6m-8 5h6m-7-1h6m-7-5h6m-6 12h6m-17-1h6m-7-11h6m-18 3h6m-14 4h6m-15-3h6m-11 10h6m-10-13h6m-9-1h6m-9 11h6m-8 0h6m-11-5h6m-11-1h6m-7 0h6m-7 7h6m-7-2h6m-12-4h6m-6 3h6m-7-4h6m-7 3h6m-11-5h6m-13-2h6m-8 13h6m-14-9h6m-8 9h6m-9-6h6m-16 6h6m-12-13h6m-15 6h6m-7 0h6m-8-4h6m-15 3h6m-9-4h6m-6 6h6m-18-5h6m-8-1h6m-6 1h6m-8 9h6m-23-4h6m-7-3h6m-6-1h6m-6 1h6m-11 3h6m-7 4h6m-7 1h6m-15-11h6m-7 0h6m-7-2h6m-9 7h6m-7 5h6m-9-4h6m-12-5h6m-6 11h6m-14-6h6m-9-8h6m-12 11h6m-7 0h6m-14-2h6m-9 3h6m-7-3h6m-10 5h6m-6-12h6m-8-1h6m-10 1h6m-9 0h6m-8-2h6m-7 4h6m-8 5h6m-8 2h6m-10-10h6m-7 2h6m-8 10h6m-7-4h6m-9-9h6m-7 7h6m-6 1h6m-10-2h6m-13 5h6m-11-6h6m-7 8h6m-8-5h6m-7-8h6m-17 3h6m-12-3h6m-8 1h6m-7 7h6m-26 6h6m-9-3h6m-8-2h6m-10-1h6m-12-2h6m-8 8h6m-9-11h6m-10-2h6m12 15h6m-4 10h6m-4-11h6m-4 13h6m-1-8h6m-4 2h6m-6-6h6m2 6h6m0-4h6m-4 3h6m-5 8h6m-1-13h6m-5 1h6m-5 10h6m-1-3h6m-5 2h6m-6-4h6m-3-2h6m-5 2h6m-3 0h6m-1-1h6m-5 2h6m-3 1h6m-1-3h6m-2-3h6m-3 1h6m0 5h6m-5-4h6m-4 6h6m-6-9h6m-3 8h6m-4 3h6m-5-1h6m7-3h6m-1-7h6m4 10h6m-5-2h6m-4 1h6m-5 1h6m6-6h6m-3-6h6m-4 2h6m-5-1h6m3 9h6m-1-6h6m-5 7h6m-4-7h6m-4 5h6m6-2h6m-5-4h6m6 11h6m-1-3h6m-5 0h6m7-10h6m-5 3h6m7-3h6m-3 4h6m-6 7h6m-3-11h6m-1 9h6m9 3h6m0-4h6m0-4h6m-3-3h6m-1 7h6m-3-8h6m5 12h6m-4-11h6m3 5h6m-6 6h6m-4-12h6m2 12h6m4-3h6m-4 4h6m-3-9h6m6 6h6m-5-8h6m-3 11h6m-4-2h6m-3-1h6m1-7h6m-6 0h6m4 2h6m-52 9h6m-21 8h6m-11-3h6m-27 5h6m-8 1h6m-12-3h6m-7-6h6m-8-1h6m-7 10h6m-13-3h6m-28-4h6m-13 3h6m-20 4h6m-10-1h6m-9-2h6m-19-3h6m-7-5h6m-10 6h6m-15 5h6m-21-10h6m-10 0h6m-7 2h6m-6 8h6m-12 2h6m-7-12h6m-16 5h6m-10 6h6m-10-3h6m-11-2h6m-11 4h6m-17-11h6m-7 6h6m-8 0h6m-11-6h6m-13 0h6m-7 13h6m-7-8h6m-8 6h6m-6-3h6m-13 5h6m-10-3h6m-7 3h6m-6 1h6m-12-1h6m-23-6h6m-11-5h6m-8 5h6m-7-3h6m-8-3h6m-13 0h6m-7 4h6m-7 2h6m-7 7h6m-8-9h6m-6-1h6m-7 5h6m-11-7h6m-10-2h6m-7 2h6m-7 2h6m-14-2h6m-11 2h6m15 14h6m2 10h6m-2-10h6m-3 11h6m-6-1h6m-4-5h6m-1 5h6m9-6h6m-6-1h6m-2-5h6m-5 1h6m2 11h6m-3-2h6m1 0h6m-3-4h6m-5 1h6m-6 5h6m-1-2h6m-5-11h6m-4 11h6m3 0h6m-1 0h6m-2-6h6m-6 1h6m-5-3h6m-2 11h6m5-13h6m12 4h6m-4 7h6m0-9h6m4 6h6m5-3h6m-6 2h6m1-1h6m6-3h6m-6 2h6m7-3h6m-1 1h6m0-3h6m9 3h6m-6-3h6m-47 17h6m-10 5h6m-13-7h6m-18 5h6m-10 4h6m-6-9h6m-15 0h6m-6 0h6m-8 6h6m-11-3h6m-12-3h6m-7 1h6m-8 1h6m-12 8h6m-10-6h6m-6 5h6m-9-3h6m-7 0h6m-12-4h6m-11 7h6m-13-2h6m-12-3h6m-14 7h6m-10-4h6m-9-8h6m-7 0h6m-21 10h6m-7-7h6m-7 9h6m-6-4h6m-10 0h6m-14 0h6m-18 5h6m-14 0h6m-10-4h6m-8 3h6m9 13h6m-4 4h6m1-10h6m-3 4h6m-4 5h6m-3-11h6m-6 2h6m-3 4h6m-5-4h6m-4-3h6m-3-1h6m-4 6h6m1 2h6m-6-7h6m2 4h6m-5 2h6m-5 3h6m-2 1h6m1-4h6m-3-5h6m-4 7h6m-2 3h6m-4-1h6m-3-9h6m-4 5h6m-3-6h6m1 3h6m-5-3h6m-5 9h6m-5 4h6m-2-14h6m2 16h6m-17 9h6m-11-8h6m-11 7h6m-11-7h6m-8 3h6m-9 1h6m-12-6h6m-10 12h6m-10-1h6m-29-1h6m-12 1h6m-6 14h6m-5 0h6m-2-1h6m-3-2h6m-4 0h6m1 3h6m-5-7h6m-5-3h6m-4 10h6m-4-9h6m0 3h6m4-2h6m-1-1h6m-3 2h6m-5 9h6m-2-1h6m-1-2h6m0-7h6m-16 14h6m-8 5h6m-9 3h6m-8-5h6m-7 3h6m-8 3h6m-11-7h6m-13 5h6m-11-3h6m-7 5h6m-7-3h6m-8 3h6m-9-9h6m-10 0h6m-9 1h6m-11-1h6m6 17h6m-3 4h6m11-7h6m-6 1h6m-6 14h6m-6 3h6m-25-2h6m-10 8h6" stroke="#5c91c2" stroke-width="6" stroke-linecap="butt" fill="none"/>
<path transform="scale(0.2)" d="M2238 3328h6m-22-2h6m-16 1h6m-7 0h6m-14 1h6m-9-1h6m-11 2h6m-37-5h6m-8 3h6m-7 2h6m-10-1h6m-15-6h6m-13 1h6m-24 20h6m7-2h6m-6-4h6m-3 0h6m2-3h6m-4 3h6m-2-7h6m-1 1h6m-3 5h6m7 3h6m1 4h6m13-10h6m-5 3h6m-3 2h6m0 2h6m-1-4h6m1 1h6m-5-5h6m-1 5h6m10 7h6m12 0h6m-3-5h6m411 17h6m-38-2h6m-362 3h6m-15-5h6m-16-2h6m-8-3h6m-6 9h6m-16-8h6m-7 7h6m-18-5h6m-12 1h6m-7 5h6m-9-6h6m-8 7h6m-7 1h6m-12-2h6m-10 2h6m-11-3h6m-19 3h6m-12-1h6m-18-12h6m-8 10h6m-14-1h6m-6 5h6m-12-5h6m-7 1h6m-9-10h6m-6 0h6m-21 1h6m-9 12h6m-13-1h6m-15-5h6m-6 3h6m-8 3h6m-10-13h6m-23 1h6m-11-1h6m-1 20h6m-4 3h6m5 5h6m-3-11h6m3 5h6m-3-4h6m-4-3h6m6 9h6m0 1h6m-1-10h6m1 7h6m-3 7h6m19-1h6m-5-7h6m-3-6h6m-4 13h6m-5 1h6m-4 0h6m-3-3h6m6-1h6m-3-7h6m17 1h6m0-4h6m-4 6h6m5 3h6m0-5h6m-3 9h6m-2-1h6m5-2h6m-5 8h6m-7-1h6m-10 7h6m-33-4h6m-7-3h6m-9 12h6m-8-11h6m-10 5h6m-34 1h6m-6 3h6m-14-1h6m-8-11h6m-7 13h6m-8-5h6m-6-5h6m-13 9h6m-14-9h6m-18-3h6m-9 6h6m-18-2h6m-7 3h6m-9 0h6m-11 3h6m-6-6h6m-18-1h6m-12-2h6m-12 10h6m-10-5h6m-13-3h6m-6 6h6m-11-2h6m14 13h6m-4-4h6m14 8h6m-6 0h6m14-1h6m3 2h6m17 2h6m4-12h6m8 9h6m-1-4h6m-4 4h6m-4-2h6m2-3h6m1 0h6m-4 5h6m-4 0h6m-5 2h6m-2-5h6m1-4h6m0 8h6m-35 9h6m-11-3h6m-19 3h6m-11 8h6m-8-11h6m-20 2h6m-17 3h6m-8 5h6m-15 3h6m-18-3h6m-7-9h6m-6 10h6m-8-1h6m-14-9h6m-19 4h6m-7 2h6m-16-4h6m-7 4h6m7 12h6m3-5h6m-2 1h6m-1 6h6m1 2h6m4 0h6m-6 2h6m-2 3h6m-1-14h6m-3 13h6m-3-1h6m2-11h6m-5 4h6m11 0h6m-5-4h6m295 8h6m2-2h6m93 2h6m2 3h6m12 7h6m-11 4h6m-97 0h6m-12-1h6m-54 7h6m-289-11h6m-20-1h6m-18 1h6m-22 4h6m-10 4h6m-44-10h6m-11 6h6m-9 10h6m-4 12h6m-6-11h6m7 5h6m8-7h6m-2 8h6m-3-2h6m21-3h6m206 6h6m11 1h6m99 18h6m-113-5h6m-19-3h6m-11-4h6m-7 11h6m-18 1h6m-183-11h6m-31 11h6m-30-9h6m-9 0h6m-7 4h6m-7-1h6m-9 5h6m-23-3h6m-7-3h6m-9 4h6m-5 9h6m-6-5h6m2 11h6m-6-6h6m0 3h6m-3-7h6m8 13h6m3-9h6m7 9h6m-1-8h6m-5 3h6m214 5h6m118-13h6m-155 21h6m-205 6h6m-10-12h6m-36 13h6m-9-4h6m-8-7h6m-15-2h6m30 23h6m-4 3h6m1-3h6m-6-7h6m7 5h6m87 5h6m13-9h6m64 11h6m169-10h6m5 7h6m-238 6h6m-17 9h6m-17-8h6m-15 1h6m-22-3h6m-13 9h6m-7-8h6m-20 4h6m-12 5h6m-22 0h6m-48-2h6m-13-9h6m-13 12h6m-18-1h6m-13 16h6m-2-1h6m-2-3h6m6 0h6m-4 5h6m17 0h6m-3-4h6m0-1h6m4-1h6m-3 3h6m8-9h6m14 5h6m4 8h6m1-2h6m-1-1h6m-4-2h6m-4-8h6m-5 1h6m-5 2h6m0-1h6m-3-2h6m-3 4h6m-5-2h6m245 18h6m-130 2h6m-154-7h6m-11 9h6m-16-2h6m-13 4h6m-17 1h6m-10-13h6m-24 8h6m-11 0h6m-6 0h6m-10-7h6m-10 4h6m-10 9h6m-6-6h6m-7-6h6m-23-1h6m-16 13h6m-9-12h6m-8 10h6m-10-9h6m-16 8h6m-2 4h6m-1 7h6m3-2h6m0-3h6m5 8h6m3-2h6m-5 3h6m-1 1h6m-5 0h6m14-4h6m-4 6h6m0-3h6m30-3h6m112 5h6m185 10h6m-90-7h6m-7 7h6m-60 6h6m-178-8h6m-23 0h6m-19 2h6m-19 5h6m-31-1h6m-11-2h6m-7-2h6m-8-4h6m-8 2h6m-19-5h6m-20 5h6m-11 4h6m-10-8h6m-6 2h6m-13-4h6m4 26h6m-2-4h6m-4 3h6m2-7h6m9 11h6m5-7h6m2-4h6m-2 0h6m2 5h6m-3-4h6m-4 3h6m6 1h6m-4 3h6m-4 3h6m8-5h6m2 3h6m5 0h6m45 2h6m25-2h6m4 0h6m14-7h6m11 2h6m0-2h6m17 6h6m-1-6h6m27 5h6m4-6h6m102-4h6m-5 2h6m8-1h6m-2 9h6m-30 13h6m-10-7h6m-86 1h6m-167 2h6m-34 8h6m-15 1h6m-8-7h6m-7 4h6m-10-5h6m-8-5h6m-26 13h6m-15 1h6m-17-14h6m-13 8h6m-8 3h6m-7-1h6m-6 1h6m-14-10h6m-12 2h6m-7 1h6m-13 1h6m-13 7h6m-9-4h6m-15 5h6m-6-8h6m-15-1h6m-8-3h6m-6 6h6m-21 5h6m-6-12h6m-6 27h6m1-4h6m-2-5h6m0 1h6m-3-2h6m0 5h6m-3 2h6m-4-9h6m-4 14h6m0-10h6m-2 0h6m0 0h6m-3 0h6m4 10h6m2-2h6m-5-8h6m-2 8h6m3-10h6m-5 3h6m-4 8h6m-3-3h6m-5-7h6m-6 0h6m6 2h6m19-2h6m283 10h6m-4 4h6m-12 0h6m-9 4h6m-24-2h6m-216 9h6m-46 0h6m-18-3h6m-48-5h6m-7 3h6m-7 1h6m-27-3h6m-20 3h6m-10-5h6m-6 3h6m-8 1h6m-7 2h6m-7-1h6m-13-5h6m-7 7h6m-10-4h6m-9 6h6m-7-2h6m-9 3h6m-18-11h6m8 18h6m-1-6h6m-2 5h6m4 7h6m-1-3h6m-4-1h6m-5-3h6m-2 0h6m19 9h6m13-4h6m-3-5h6m-4 5h6m-5-1h6m14-6h6m12-2h6m12 10h6m1-5h6m-5 8h6m-4-14h6m0 13h6m4 0h6m19 0h6m61 1h6m0-1h6m-4-12h6m49 8h6m10-4h6m5-5h6m20 10h6m0-4h6m8 2h6m1 2h6m-5-6h6m-2 24h6m-10-10h6m-53 8h6m-11-6h6m-7 5h6m-14-9h6m-15 11h6m-17 0h6m-21-6h6m-10 3h6m-20-9h6m-18 9h6m-10-6h6m-13 9h6m-10-2h6m-72-4h6m-9 2h6m-17-5h6m-12 6h6m-13 4h6m-6-3h6m-7 3h6m-18-1h6m-7-5h6m-13 5h6m-8-12h6m-13 5h6m-13-5h6m-7 7h6m-8 2h6m-8-8h6m-12 13h6m-12 0h6m-13 0h6m-10-9h6m-12-4h6m-10 3h6m-14-3h6m-11 6h6m-18 2h6m-9 4h6m-12-6h6m-24 6h6m-26-5h6m-10 8h6m-3 0h6m-1 12h6m7-11h6m1 4h6m-1-4h6m13 1h6m-5 1h6m4 1h6m-1 4h6m7-9h6m-4 8h6m20-8h6m-4 12h6m-4-12h6m-6 4h6m-4 5h6m-4 4h6m-2 0h6m-4 0h6m4 0h6m-5-2h6m6-1h6m-6-1h6m-5 0h6m8 2h6m-2-3h6m0-6h6m-6 9h6m-4 0h6m40 3h6m1-2h6m5-4h6m22 0h6m4 4h6m-4-9h6m-5 0h6m11 1h6m-5 2h6m-5 8h6m-4-7h6m3 0h6m9 1h6m6 1h6m10 2h6m-5-10h6m-5 9h6m-4 0h6m0-2h6m6 1h6m7-5h6m0 2h6m-1-6h6m-10 18h6m-16 2h6m-10 3h6m-7 3h6m-6 1h6m-10-12h6m-12 5h6m-6 6h6m-11-10h6m-8 5h6m-6 2h6m-12-7h6m-10 7h6m-11-1h6m-10-5h6m-9 12h6m-8-4h6m-9-9h6m-10 12h6m-7-2h6m-10-6h6m-8-1h6m-9-3h6m-8 3h6m-14 5h6m-9 2h6m-8-4h6m-7 0h6m-7-1h6m-10-6h6m-9 11h6m-7-10h6m-8 10h6m-9-1h6m-12 2h6m-10-5h6m-9 7h6m-12-3h6m-16 2h6m-16-13h6m-9 14h6m-16-8h6m-9 6h6m-8-8h6m-13 8h6m-11-8h6m-10-3h6m-15 9h6m-7-1h6m-28 4h6m-21-2h6m-6 1h6m-12 1h6m-17-6h6m-6-2h6m-9 5h6m-7-1h6m-9 0h6m-8 1h6m-7 2h6m-22-6h6m-11 1h6m-14 4h6m-15-3h6m-7 1h6m-7-7h6m-9-2h6m-14 0h6m-7 5h6m-15-3h6m-15 3h6m-7 5h6m-9-10h6m-8 4h6m-9 0h6m-16 9h6m-13-4h6m-8-6h6m-16 11h6m-25-8h6m-7 1h6m-9 0h6m-13 6h6m-1 7h6m-2 1h6m-4 3h6m-5-7h6m-4 3h6m-1 4h6m-5-9h6m0 9h6m-5-8h6m-5-1h6m-5 0h6m-5 9h6m-2-9h6m-6 7h6m-4 4h6m4 3h6m1-7h6m-2 0h6m-2 1h6m-5 1h6m-5 1h6m-5-5h6m-2 4h6m5 2h6m2-5h6m-3 6h6m-1-1h6m-1-9h6m-5 9h6m-4-1h6m-1-2h6m-4-2h6m-4-3h6m4 2h6m-5-2h6m-5 6h6m-3-9h6m-3 10h6m-6-8h6m3 10h6m-6-10h6m-3 7h6m-5 0h6m1-1h6m-5-6h6m13 7h6m-6 2h6m-5-4h6m-3 2h6m-5-5h6m-4 4h6m4 0h6m-6 4h6m-6 0h6m12-12h6m-5 2h6m12 11h6m0-9h6m-5 1h6m-4-4h6m-3 4h6m-6 8h6m6-1h6m12-6h6m-4 4h6m2 4h6m-1-4h6m-5-1h6m3-7h6m-4 12h6m-2-9h6m3 1h6m-2-1h6m2 9h6m-3-3h6m0-2h6m-5-9h6m-5 9h6m0 4h6m-6-7h6m-5-4h6m-6 10h6m-4 1h6m-2-5h6m5 1h6m2 1h6m-1-1h6m-4 2h6m-2-11h6m-4 5h6m-2 8h6m9-11h6m-21 21h6m-6 0h6m-8-8h6m-21 0h6m-9 11h6m-13 3h6m-10-10h6m-6 5h6m-7 0h6m-17-8h6m-9 10h6m-13-5h6m-6 5h6m-14 3h6m-6 0h6m-9-6h6m-15 1h6m-11 1h6m-30-6h6m-13 3h6m-11-2h6m-22 3h6m-23 3h6m-14 3h6m-27-1h6m-7-13h6m-14 9h6m-7 0h6m-12-1h6m-9-8h6m-6 13h6m-7-3h6m-7-8h6m-6 11h6m-7-6h6m-10-7h6m-11 6h6m-7-5h6m-14 13h6m-7-13h6m-15 7h6m-6-7h6m-7 2h6m-15 8h6m-7-4h6m-7 0h6m-9 4h6m-13-1h6m-6 1h6m-8 3h6m-6-9h6m-22 3h6m-6 2h6m-15-7h6m-7 6h6m-6-1h6m-7-1h6m-7 2h6m-6-1h6m-12-8h6m-18 8h6m-11 1h6m-7-4h6m-21 0h6m-22-4h6m-7 12h6m-7-13h6m-7 8h6m-14-4h6m-14 4h6m-10 6h6m-7-12h6m-6-1h6m-9 13h6m-8-8h6m5 17h6m-2-8h6m-3 7h6m-5 7h6m-4-9h6m-6 5h6m-5-8h6m-5 0h6m22-1h6m-5 2h6m-2 2h6m-5-5h6m-4 12h6m1-11h6m1 11h6m-6-3h6m-5-8h6m-6 8h6m0-1h6m-3-2h6m-5 6h6m-5-4h6m-4-5h6m-4-2h6m-4 9h6m-6-7h6m-5 10h6m-2-11h6m-4 1h6m-1 6h6m3-9h6m-6 2h6m-5 12h6m4-7h6m7 0h6m-6 1h6m-6 5h6m-5-11h6m3 9h6m-4 1h6m-4-5h6m-1-1h6m-2-3h6m-3 3h6m4-2h6m-4-2h6m-1 0h6m-5 11h6m0-1h6m9 1h6m1 0h6m16 1h6m9-13h6m-5 6h6m-4 1h6m4-7h6m1-1h6m2 0h6m1 2h6m0 5h6m-2-2h6m-4 3h6m-2-8h6m-1 0h6m1 9h6m-1 0h6m-5 5h6m-4-5h6m-4 2h6m26-7h6m0-4h6m-6 0h6m-3 5h6m-37 10h6m-23 0h6m-30 11h6m-30-6h6m-19-3h6m-14 11h6m-6-3h6m-7-9h6m-28 4h6m-8 0h6m-16 1h6m-9-6h6m-12 0h6m-15 8h6m-9 5h6m-9-3h6m-27-3h6m-6-3h6m-13 2h6m-13-5h6m-11 1h6m-6 9h6m-7-9h6m-7 8h6m-6 2h6m-10-3h6m-10-6h6m-9 5h6m-13 1h6m-7-5h6m-11 5h6m-15-2h6m-9 3h6m-13-3h6m-7-1h6m-9-3h6m-7 0h6m-7 6h6m-6-1h6m-8-2h6m-6 3h6m-9-9h6m-6 14h6m-21-14h6m-10 0h6m-7 3h6m-12 1h6m-18 4h6m-15 2h6m-28 1h6m-10-9h6m-2 13h6m-4 2h6m-5 0h6m15 4h6m-1 1h6m-4-7h6m32 5h6m-4 3h6m-6-4h6m-5 4h6m-1-2h6m-6 6h6m-4-7h6m-2 2h6m6-1h6m-6 7h6m-1-13h6m20 3h6m19 4h6m-3 6h6m12-9h6m6-3h6m-1 7h6m1-3h6m8 5h6m20-9h6m-62 17h6m-16 7h6m-8 1h6m-35-1h6m-14 4h6m-7-8h6m-19-2h6m-6-1h6m-14 3h6m-10-4h6m-8 5h6m-11 5h6m-7-10h6m-15-2h6m-7 1h6m-11 9h6m-16-1h6m-7-7h6m-21-2h6m-10 14h6m-8-4h6m-15 3h6m-6-2h6m-8-2h6m-10-8h6m-13 13h6m-7-1h6m-12-6h6m6 11h6m-5 4h6m-5 5h6m-5-7h6m-3 4h6m8-7h6m-4 9h6m-3-3h6m-6-7h6m9 11h6m-5-3h6m1-4h6m-4 6h6m-5 2h6m-1-2h6m1 3h6m-4-13h6m-2-1h6m11 14h6m-3-1h6m-4-2h6m2 2h6m-5-1h6m18-10h6m-36 26h6m-8-2h6m-6-11h6m-8 9h6m-6-3h6m-8 6h6m-15-1h6m-13-8h6m-10 3h6m-11 1h6m-6 2h6m-9 3h6m-8-9h6m-7 3h6m-8-3h6m-7 10h6m-7-6h6m-6 0h6m-7-3h6m-8 3h6m-7 3h6m-13 0h6m-8 4h6m-14-4h6m-7 4h6m-11-12h6m-11-1h6m-2 23h6m-4-3h6m-1 2h6m-6-3h6m-5 5h6m-5 4h6m5-7h6m-2 1h6m22-2h6m-6-2h6m-6 8h6m-5-2h6m-6 2h6m1-12h6m-12 16h6m-13 11h6m-7-12h6m-7 9h6m-9-6h6m-9 8h6m-28 0h6m-17 2h6m-9-3h6m14 17h6m-2-11h6m11 9h6m-4-4h6m-14 15h6m-22 0h6m-10 0h6m-13-4h6" stroke="#4575b4" stroke-width="6" stroke-linecap="butt" fill="none"/>
<path transform="scale(0.2)" d="M2208 3329h6m-9-2h6m-7-5h6m-10 0h6m-67 2h6m-27 17h6m-4-1h6m24-9h6m-2-1h6m13 0h6m0 11h6m9 1h6m14-3h6m10-4h6m27 1h6m415 22h6m-19-11h6m-392 5h6m-25 6h6m-11-1h6m-20-7h6m-14 5h6m-15 1h6m-34-6h6m-11 6h6m-17-2h6m-28-1h6m-14-6h6m-17 2h6m-9 9h6m-23-9h6m-19 11h6m6 11h6m16-4h6m-6 3h6m4 4h6m9-9h6m-3 5h6m4 2h6m21-5h6m5-2h6m5 8h6m-4-7h6m13-6h6m13 13h6m3-12h6m7 6h6m-3 13h6m-8 7h6m-16 2h6m-44-11h6m-16 9h6m-8-9h6m-12 11h6m-17 0h6m-9-3h6m-9 0h6m-11-1h6m-7-7h6m-14 0h6m-19 10h6m-14-7h6m-25 8h6m-10-6h6m-6-8h6m-23 2h6m-14 15h6m31 2h6m13 8h6m49-5h6m0 1h6m7 3h6m-1-6h6m2 8h6m-16 7h6m-39 4h6m-10-1h6m-24-6h6m-23 8h6m-7-3h6m-14 2h6m-34 16h6m6 2h6m43-5h6m348 3h6m93 11h6m-95-5h6m-67 8h6m-331 9h6m3 9h6m210-4h6m-10 7h6m-199 5h6m-31-4h6m-39 9h6m-17-9h6m-8 13h6m6 13h6m8-7h6m-3-2h6m-1 9h6m7 1h6m-3-13h6m16 0h6m-2 7h6m202-2h6m-254 20h6m374 33h6m-7-9h6m-247 3h6m-22-5h6m-9 3h6m-7 0h6m-53 8h6m-68 0h6m-4 13h6m15-7h6m-2 10h6m-6-12h6m-4 9h6m-5-8h6m30 8h6m4-10h6m5 2h6m-6-1h6m-1 1h6m15 4h6m6-1h6m-6 1h6m19-7h6m8 1h6m62 9h6m-25 18h6m-175-10h6m-10 3h6m-16 8h6m-25-13h6m-21 8h6m58 6h6m370 25h6m-31-1h6m-28 4h6m-346-4h6m-9 2h6m-35 6h6m23 11h6m0-9h6m6 4h6m33 1h6m-6 2h6m52 1h6m62-10h6m16 4h6m113 4h6m36-5h6m23-2h6m-292 20h6m-31 6h6m-47 0h6m-29-9h6m-39-5h6m-8 1h6m-6 27h6m-1-7h6m12 3h6m27-4h6m2-2h6m311 2h6m-4 13h6m-40 11h6m-21-1h6m-293-7h6m-26-4h6m-16 4h6m-12 16h6m43 2h6m6 4h6m-4-13h6m15 8h6m39 1h6m63 5h6m-1-7h6m89 5h6m22 2h6m21-1h6m40-3h6m-40 12h6m-32-6h6m-26 5h6m-10 6h6m-6 0h6m-62 1h6m-25-8h6m-47-2h6m-12 6h6m-41-7h6m-45 5h6m-40 0h6m-23 6h6m-9-9h6m-47 6h6m-12-10h6m-7 0h6m-20 2h6m19 27h6m-3-11h6m11-1h6m9-1h6m-5 0h6m23 13h6m34-2h6m12-10h6m12 8h6m76-1h6m17-4h6m8 2h6m27-4h6m32 6h6m-3 4h6m12-12h6m15 5h6m-5 7h6m-17 11h6m-11-8h6m-16 7h6m-6 0h6m-16 6h6m-7-3h6m-36 1h6m-23 1h6m-13-1h6m-18-2h6m-11 4h6m-27-7h6m-8-4h6m-21-3h6m-100 1h6m-49 7h6m-20-1h6m-44-2h6m-12 3h6m-15 1h6m-33-7h6m13 21h6m8-6h6m-3 2h6m-1 8h6m-1-6h6m0 7h6m3-4h6m19 3h6m3-6h6m5 1h6m1-4h6m35 2h6m26-1h6m26 9h6m21-3h6m-2 1h6m10-10h6m10 12h6m20-5h6m13-2h6m37 0h6m0-1h6m-15 17h6m-12 1h6m-58-6h6m-16 12h6m-58-7h6m-15-3h6m-21-4h6m-7 9h6m-30 3h6m-18-12h6m-27 3h6m-7 0h6m-12 4h6m-15 4h6m-20-1h6m-23 4h6m-59-12h6m-11-1h6m-10 0h6m-9 4h6m-17 7h6m-8-4h6m-12 0h6m-21 13h6m-2 1h6m12-2h6m20 4h6m0-4h6m5 5h6m17-2h6m1-5h6m17 7h6m-2-4h6m0 6h6m3 2h6m0 0h6m19-5h6m2-4h6m3 7h6m54 2h6m-3-4h6m32-1h6m15 3h6m13-7h6m-28 13h6m-17-3h6m-27 13h6m-41-8h6m-45-2h6m-46 2h6m-7 2h6m-9-4h6m-29-3h6m-10 13h6m-53-13h6m-68 3h6m-20 6h6m31 13h6m46-1h6m2 1h6m1-1h6m6 2h6m-3-5h6m1 3h6m10 3h6m40 5h6m-11 7h6m-46 2h6m-70-4h6m-22 5h6m-8-5h6m-45 2h6m23 20h6m25-7h6m0 5h6m10 1h6m-2-1h6m14 0h6m16-1h6m-28 12h6m-25 3h6m-15 3h6m-29-9h6m-29 12h6m-9-5h6m-10-9h6m-3 17h6m28 1h6m17 23h6m-31-1h6m-14-3h6m-16 4h6m21 29h6" stroke="#74add1" stroke-width="6" stroke-linecap="butt" fill="none"/>
<path transform="scale(0.2)" d="M2152 3343h6m-2-13h6m480 28h6m-357 0h6m-63 1h6m-30 0h6m-8 0h6m-39-8h6m-9 4h6m-11 13h6m88-4h6m367 5h6m-377 9h6m-18-1h6m-22 8h6m-21-8h6m-25 6h6m-8 1h6m-35 0h6m-25-3h6m-5 19h6m47 2h6m11 9h6m-58-4h6m23 19h6m334 8h6m14-5h6m85 5h6m-2 1h6m-123 2h6m-306 10h6m193 9h6m137 22h6m-436-6h6m257 21h6m-75 39h6m-46-2h6m-94 8h6m1 2h6m29 5h6m-42 20h6m-13-8h6m39 20h6m365 18h6m-401-3h6m-5 17h6m15 3h6m2-10h6m51 23h6m-12 0h6m-81-4h6m-34 18h6m4-7h6m11 9h6m102 5h6m-75 0h6m-41 3h6m29 25h6m227-7h6m101 19h6m-104 2h6m-153-11h6m-50 6h6m-18 3h6m-36-6h6m-31 10h6m45 0h6m-4 8h6m103-3h6m44 4h6m52 1h6m-3-2h6m15-6h6m-76 27h6m-80-7h6m-52-2h6m-84-3h6m-22 10h6m-9 17h6m105-6h6m76-5h6m-6 10h6m44-7h6m21-5h6m-76 20h6m-147 5h6m-23-8h6m-10 11h6m-16-5h6m-21 12h6m-5-4h6m36 12h6m110-2h6m119 11h6m-7 2h6m-13 0h6m-65-8h6m-86 10h6m-56 2h6m-12-8h6m-20-6h6m-14 9h6m29 20h6m35 9h6m-8 3h6m-41-4h6m-51-2h6m-18 4h6m62 27h6m-51 0h6m-19 8h6m10 7h6m25 3h6m19-1h6m-28 7h6m-17 4h6" stroke="#3b56a4" stroke-width="6" stroke-linecap="butt" fill="none"/>
<path transform="scale(0.2)" d="M2151 3341h6m82 69h6m319 67h6m-121 97h6m84 35h6m-277 12h6m12 138h6m167 27h6" stroke="#90c3dd" stroke-width="6" stroke-linecap="butt" fill="none"/>
<path transform="scale(0.2)" d="M2237 3575h6m169 7h6m66 16h6m-235-11h6m-20 0h6m-9 7h6m-59-6h6m35 25h6m4-13h6m2 3h6m6 10h6m5-5h6m-2 0h6m65 5h6m17-2h6m21-5h6m10-6h6m1 14h6m-2-4h6m-2 2h6m20 0h6m14-2h6m-3 0h6m-4 0h6m0-6h6m15 6h6m25 4h6m22-1h6m41 2h6m-9 6h6m-19 8h6m-9-10h6m-20-3h6m-17 12h6m-17-9h6m-11 9h6m-15-4h6m-21-3h6m-20 3h6m-11 1h6m-32-8h6m-7 6h6m-7-7h6m-9 0h6m-13 0h6m-14 10h6m-13-6h6m-6 6h6m-10-6h6m-10 3h6m-17-1h6m-9 1h6m-9 1h6m-7-5h6m-20 3h6m-11 6h6m-7-3h6m-7 2h6m-17 2h6m-10-12h6m-11 4h6m-9 3h6m-8-7h6m-7 8h6m-9-6h6m-21 6h6m-18-5h6m-25 8h6m-6-8h6m-7 5h6m-18 3h6m-10-11h6m-7 3h6m-36-2h6m-13 7h6m-6 0h6m-14 4h6m-14-10h6m-8 1h6m-6 0h6m-8 7h6m-15-3h6m-15-6h6m-12 2h6m-21-2h6m16 18h6m-4-3h6m16 8h6m-2-9h6m-5 7h6m0-7h6m6 1h6m13 5h6m1 3h6m-4-10h6m7 1h6m7 6h6m-1-6h6m-6 11h6m-4-6h6m5-7h6m-5 7h6m-5-4h6m-1 5h6m-6-7h6m-3 1h6m7-1h6m-6 13h6m-1-2h6m-1-5h6m-6 7h6m-4-14h6m0 12h6m-6 2h6m-4-11h6m-5-1h6m1 10h6m0-1h6m-2 1h6m3-5h6m5 3h6m4-10h6m4 0h6m27 8h6m-3 2h6m-5-9h6m14 9h6m-2 2h6m3-2h6m-5-2h6m4-2h6m2 3h6m-4-3h6m-6 5h6m-4-3h6m-5-3h6m-4 5h6m11 4h6m-6 0h6m-4-5h6m-3-5h6m-2-2h6m19 7h6m27 3h6m-55 9h6m-9 7h6m-8-13h6m-14 5h6m-10 9h6m-25-6h6m-15-2h6m-7 7h6m-7-3h6m-8-9h6m-14 2h6m-24 3h6m-36-3h6m-7-2h6m-24 0h6m-9 3h6m-10 4h6m-12-6h6m-10 7h6m-12 1h6m-8 4h6m-9-9h6m-8-3h6m-14 7h6m-9 2h6m-6 0h6m-9 1h6m-9-10h6m-10 4h6m-7 4h6m-16-1h6m-6 4h6m-8-6h6m-6-4h6m-7 9h6m-9-10h6m-8-1h6m-11 9h6m-14-8h6m-8 0h6m-15 7h6m-7-5h6m-7 8h6m-27-12h6m-15 7h6m-13 0h6m-10-4h6m-16 4h6m-8-5h6m-13-2h6m-13 0h6m-16 9h6m-19-3h6m-12-2h6m-8-3h6m-8-1h6m-6 13h6m-14-7h6m-31 0h6m-6 3h6m-22-5h6m-12 4h6m8 15h6m4 0h6m0 5h6m7-5h6m-4-4h6m40 2h6m-6 5h6m2-8h6m5 0h6m-3 7h6m22-1h6m-1-4h6m2 5h6m7-10h6m-2 10h6m-4-9h6m2 0h6m4 12h6m-5-3h6m4 1h6m0-6h6m0-3h6m-5 2h6m3 4h6m-5-7h6m36 5h6m-5 0h6m1-5h6m0 12h6m-1-3h6m3-9h6m-4 9h6m3 4h6m3-7h6m2-4h6m4 5h6m-3-7h6m23 3h6m-6-2h6m-3 6h6m5-1h6m-5 4h6m-4 1h6m-5 1h6m-1 1h6m25 3h6m-11 3h6m-34 9h6m-54 0h6m-35-3h6m-13-3h6m-35-7h6m-7 2h6m-7 9h6m-8-8h6m-58 6h6m-20-8h6m-19 3h6m-25-3h6m-11 1h6m-11-3h6m-7 1h6m-20 5h6m-9-2h6m-7 3h6m-25-2h6m-6 4h6m-14 5h6m-9-12h6m-10 8h6m-14-1h6m-72-5h6m63 21h6m44-1h6m-4-2h6m7-7h6m4 4h6m2-2h6m87 6h6m1-7h6m-5 10h6m18-10h6m10 8h6m-23 15h6m-65-8h6m-80 11h6m-141-9h6" stroke="#fec778" stroke-width="6" stroke-linecap="butt" fill="none"/>
<path transform="scale(0.2)" d="M2572 3447h6m-13-8h6m12 51h6m-10 7h6m-19 24h6m-1 22h6m-9 14h6m-296 10h6m290 12h6m-325 11h6m-10 7h6m-19-4h6m-11 16h6m16-9h6m62 11h6m20 0h6m0-2h6m-4 2h6m11-2h6m-4 4h6m-5-5h6m20-4h6m6 10h6m-6-4h6m2-7h6m1 4h6m2-4h6m-5 7h6m14 0h6m-2-6h6m-1 2h6m-2-4h6m-3 8h6m-4-5h6m8 6h6m7-2h6m-1-1h6m-3 2h6m1-5h6m21 5h6m15-10h6m1 3h6m15 8h6m36-11h6m-4 21h6m-11 7h6m-41-8h6m-12 5h6m-24-10h6m-16 13h6m-22-11h6m-25 8h6m-9 0h6m-25-9h6m-17 11h6m-37-8h6m-34 9h6m-10-9h6m-10 6h6m-6-7h6m-14 2h6m-8 8h6m-16-11h6m-7 5h6m-6 7h6m-9-3h6m-14-4h6m-15-4h6m-8 4h6m-9-7h6m-12 13h6m-6-9h6m-9 7h6m-8 3h6m-8-13h6m-7 12h6m-13-13h6m-38 10h6m-9-1h6m-8-8h6m-20 12h6m-13-5h6m-12 6h6m-13-1h6m-25-1h6m-8 0h6m-8-3h6m-14-2h6m-26 7h6m-38 15h6m2-2h6m1 1h6m-4-7h6m-2 8h6m-3-14h6m-2 1h6m-2 3h6m-5 9h6m-4-8h6m19-1h6m-1 4h6m-3 3h6m0-8h6m6 2h6m-4 2h6m-4-2h6m-5-4h6m-6 0h6m-6-1h6m-3 11h6m-1-11h6m-6 1h6m0 3h6m-4 4h6m-5-5h6m-6 6h6m7-1h6m-3-4h6m-3 8h6m2-4h6m-1-5h6m-6 2h6m1 5h6m-5 4h6m3-13h6m-4 4h6m-3-3h6m-4 4h6m-3 6h6m-1-9h6m-6-3h6m-2 4h6m7-3h6m3 5h6m-5 3h6m-2-6h6m-4-3h6m-4 0h6m-2 6h6m-5 0h6m4-1h6m-2 9h6m-5-5h6m-3-8h6m-5 1h6m-3 10h6m0-1h6m-5 0h6m1-6h6m-2-3h6m-5 12h6m-4-7h6m18 7h6m2-2h6m4-12h6m-6 4h6m6 0h6m5 8h6m0 1h6m-5-12h6m-5 12h6m-6-12h6m-5 11h6m-2-1h6m-6-10h6m5 3h6m-4 3h6m-4 3h6m-6-8h6m-4 9h6m-1-7h6m4-3h6m-1 10h6m1-2h6m7 0h6m1-8h6m8 6h6m0 19h6m-16-5h6m-15 0h6m-19-2h6m-11 1h6m-11 3h6m-10-5h6m-13 2h6m-6-3h6m-9-1h6m-18 5h6m-8-5h6m-6 11h6m-10-1h6m-8-5h6m-12 6h6m-9-9h6m-6 8h6m-7-6h6m-7 0h6m-15 0h6m-13 3h6m-14 0h6m-27 4h6m-39-6h6m-18 1h6m-6 1h6m-9-4h6m-8 9h6m-11 1h6m-12-3h6m-6-8h6m-15 6h6m-14-2h6m-6-3h6m-12 1h6m-12 1h6m-7 2h6m-8 5h6m-9-4h6m-6 4h6m-10-8h6m-9 4h6m-18 5h6m-8-11h6m-7-3h6m-25 2h6m-15 11h6m-11-11h6m-6 0h6m-8 12h6m-9-12h6m-22 3h6m-8 6h6m-6-8h6m-10 5h6m-7 6h6m-9-12h6m-16 0h6m-10 2h6m-9 10h6m-8-7h6m-13-7h6m-13 12h6m-12-10h6m-9 5h6m-11 1h6m-10 6h6m-17-4h6m-14 4h6m-27-7h6m-12 2h6m34 16h6m-3 3h6m22-9h6m7 5h6m8-2h6m-5 2h6m2-8h6m-3 3h6m1 4h6m13-2h6m0-4h6m-1 2h6m-2 1h6m-5-5h6m-5 5h6m-5 7h6m2 1h6m-3-8h6m-4 5h6m10-6h6m-5 5h6m19 1h6m2-7h6m-5-2h6m4 0h6m0-1h6m29 2h6m1 5h6m8-3h6m-4 0h6m-5 5h6m-6-8h6m-4 5h6m-4-5h6m0 8h6m-5-8h6m-1 8h6m-1 4h6m-5-8h6m-4-5h6m-5 0h6m-6 14h6m-5 0h6m-5-12h6m11-2h6m4 6h6m0 2h6m-3 6h6m0-10h6m-5 2h6m0 2h6m5 0h6m-5 1h6m-5-7h6m-6 0h6m8 0h6m2 7h6m-4-6h6m2 11h6m-3-4h6m4-7h6m-34 14h6m-19 8h6m-27-2h6m-10 4h6m-35-12h6m-11 11h6m-9 2h6m-29-9h6m-13-2h6m-29 12h6m-59-11h6m-22-3h6m-18 1h6m-19 8h6m-23 0h6m-24 0h6m-12-9h6m-10 2h6m-9 0h6m-12 7h6m-8 3h6m-6-2h6m-13-10h6m-22 0h6m-17 11h6m-9-9h6m-11 6h6m-46-6h6m3 20h6m3-6h6m16 7h6m46 4h6m-1-9h6m20-3h6m1 8h6m107-8h6m1 10h6m4-6h6m44-2h6m28 0h6m-3-1h6m0 3h6m19 7h6m-183 20h6" stroke="#fdae61" stroke-width="6" stroke-linecap="butt" fill="none"/>
<path transform="scale(0.2)" d="M2265 3606h6m204 0h6m94 23h6m-13-5h6m-28 3h6m-89-8h6m-25 10h6m-11-3h6m-64 2h6m-27 0h6m-24-7h6m-25 8h6m-32 6h6m71-4h6m10 13h6m47-7h6m-2 7h6m-2-8h6m54 6h6m12-8h6m69 8h6m-182 15h6m-25-3h6m-55 0h6m-68-8h6m-60 28h6m14-10h6m87 0h6m13 10h6m36 0h6m17-8h6m-28 18h6m-78-9h6m-8 12h6m-53 9h6m69 8h6m95-14h6m48 18h6" stroke="#fee090" stroke-width="6" stroke-linecap="butt" fill="none"/>
<path transform="scale(0.2)" d="M2580 3475h6m-172-8h6m-14 2h6m20 21h6m130-5h6m-1 2h6m-193 16h6m-58 8h6m1 1h6m28-1h6m31 1h6m153-1h6m-4 7h6m-5-7h6m-4 7h6m1 14h6m-9-4h6m-10 6h6m-7 2h6m-9 0h6m-10-6h6m-9-3h6m-185 3h6m-63 18h6m234 6h6m7-7h6m-41 34h6m-4-8h6m1-3h6m-4 1h6m-5-1h6m1 5h6m-6 6h6m-5-1h6m47 19h6m-41 0h6m-14-13h6m-8 2h6m-14 4h6m-7 2h6m-6-1h6m-10-3h6m-8 9h6m-7-1h6m-12-4h6m-11-8h6m-15 7h6m-8 3h6m-12 0h6m-27 3h6m-327 6h6m66 1h6m26 6h6m93-3h6m13-9h6m43 13h6m9-9h6m25-4h6m22 12h6m-4-4h6m-5 3h6m19-2h6m-3 0h6m-5-3h6m4-2h6m-5 2h6m5 1h6m2 6h6m18 0h6m-32 8h6m-19 1h6m-21-7h6m-7 7h6m-39 4h6m-6-11h6m-8 11h6m-35-10h6m-12 12h6m-6-11h6m-46 8h6m-59-7h6m-9 4h6m-9 5h6m-9-3h6m-33-2h6m-31 7h6m-14-13h6m-25 7h6m-7-5h6m-16 0h6m-40 20h6m8-2h6m8 0h6m5-1h6m4-1h6m13 10h6m6-1h6m16-9h6m34 0h6m47 2h6m26-4h6m6 11h6m12-6h6m36-6h6m-3 7h6m17 10h6m-35-1h6m-24 1h6m-13 2h6m-50 4h6m-16-6h6m-28-2h6m-7 11h6m-9-2h6m-31-9h6m-23 1h6m-7 7h6m-29-2h6m-89-2h6m-17 9h6m10 2h6m78 5h6m117-2h6m95 14h6m-34 7h6m-87-1h6m-100-8h6m-24 0h6" stroke="#f88e52" stroke-width="6" stroke-linecap="butt" fill="none"/>
<path transform="scale(0.2)" d="M2654 3379h6m-104 51h6m15 18h6m-24-13h6m-138 25h6m123 1h6m-135 18h6m-7-10h6m-7 3h6m-27 7h6m-27 15h6m3-2h6m-3-6h6m-4 2h6m0-7h6m0 12h6m-4 0h6m-2-13h6m-1 10h6m146-7h6m-14 22h6m-158 2h6m-12-7h6m-7 2h6m-11 2h6m-8-4h6m-15 2h6m-13 4h6m-11-8h6m-24 11h6m-9-6h6m-46 16h6m-3-1h6m6 1h6m-3-1h6m-3-2h6m8 6h6m0 1h6m-4-11h6m-5 7h6m3 2h6m-1-4h6m-5-4h6m-1 2h6m-5 6h6m-6 1h6m-1 1h6m-4-7h6m6 8h6m0-7h6m165 12h6m-18 10h6m-179-13h6m-8 4h6m-12-2h6m-15-2h6m-12 9h6m-33 1h6m-6-6h6m-6-2h6m-6 3h6m-8 5h6m-14-7h6m-13 8h6m-32-7h6m-10 17h6m277-7h6m-22 29h6m-35 14h6m-5-5h6m-1 5h6m-2-8h6m-4-1h6m-4-2h6m-5 5h6m-4 3h6m1-4h6m-4-4h6m10 4h6m-6 3h6m1-3h6m8 23h6m-22-3h6m-9-1h6m-7 4h6m-8-13h6m-8 4h6m-8 4h6m-8 1h6m-9 1h6m-10 2h6m-7 1h6m-7-5h6m-9-1h6m-8 3h6m-6-9h6m-7 2h6m-14 3h6m-7-7h6m-8 8h6m-7 6h6m-64-3h6m-5 7h6m-3 2h6m4-2h6m4 1h6m7-2h6m-4 4h6m-1-5h6m3 0h6m-1 8h6m-5-5h6m0 3h6m-2-6h6m-4 4h6m-4-5h6m-3 3h6m-5 4h6m-6 7h6m-5-11h6m0 5h6m20 0h6m11-1h6m-7 21h6m-16-10h6m-14 9h6m-16-11h6m-20 2h6m-22 2h6m-18 6h6m-22-2h6m-280 3h6m287 12h6m-3-7h6m0 7h6m-2-6h6m-5 5h6m-282 28h6" stroke="#f46d43" stroke-width="6" stroke-linecap="butt" fill="none"/>
<path transform="scale(0.2)" d="M2681 3355h6m-10-1h6m-7-5h6m-15 7h6m-8-1h6m-6-7h6m-7 5h6m-8 3h6m-20-5h6m-13 4h6m-13 16h6m-4-6h6m-1 8h6m0-9h6m-4-3h6m-5 4h6m10 7h6m-2 0h6m-1-3h6m-6 5h6m1-4h6m-6 3h6m-5-7h6m-5 5h6m1-5h6m-16 23h6m-6-11h6m-10 4h6m-8-2h6m-10-1h6m-6-1h6m-12-2h6m-6-1h6m-7 10h6m-14-9h6m-7 0h6m-7 8h6m-7 2h6m-8-2h6m-9-5h6m-9 6h6m-13-4h6m-10 4h6m-3 5h6m1 5h6m-5-3h6m-1 6h6m-2 4h6m-2-10h6m-6 0h6m-3 9h6m-5 1h6m1-11h6m1 6h6m-2 18h6m-15-4h6m-9 2h6m-13 1h6m-6 5h6m-10-11h6m-12 10h6m-123 13h6m-2 3h6m-4-4h6m-2-2h6m-5 1h6m8 4h6m-2 1h6m81-7h6m-4-6h6m-4 6h6m-2 4h6m-5 3h6m-5-8h6m-5-3h6m2 0h6m-6 16h6m-6-3h6m-96 0h6m-7 5h6m-12-1h6m-6 8h6m-8-4h6m-8 1h6m-13-8h6m-8 0h6m-9 7h6m-7 3h6m-13-7h6m-8-5h6m-11 6h6m-7-6h6m-7 14h6m-9-3h6m-7-11h6m-12 11h6m-8 3h6m-12-2h6m-5 3h6m1 10h6m-5-2h6m-1 1h6m1-9h6m-6 10h6m-6 0h6m-4-5h6m-5-3h6m-2-1h6m-5 9h6m-4-9h6m-6 6h6m-5 4h6m-3-11h6m-3 6h6m-6 2h6m1-3h6m-3-2h6m-5 5h6m-9 18h6m-8-5h6m-20-2h6m-9 5h6m-6-6h6m-10-1h6m-159 27h6m7 2h6m-29 7h6m-60 17h6m39-4h6m7-3h6m-46 27h6m234 57h6m-44 1h6m-9-1h6m-7-1h6" stroke="#d73027" stroke-width="6" stroke-linecap="butt" fill="none"/>
<path transform="scale(0.2)" d="M2680 3354h6m-6 5h6m-24-1h6m-7-4h6m-7 2h6m-14 1h6m-22 8h6m-3 1h6m0-4h6m-2 11h6m-2-8h6m-3-2h6m4 6h6m-2-5h6m-3-3h6m-2 12h6m7 6h6m-25 2h6m-10 1h6m-10-6h6m-6 5h6m-13-3h6m-7 10h6m-6-9h6m-15-3h6m4 21h6m7-5h6m9-2h6m-10 28h6m-12-1h6m-9-5h6m-13-2h6m-10 4h6m-117 18h6m100-1h6m18-10h6m-19 25h6m-97-6h6m-24 6h6m-11-1h6m-14-5h6m-14 3h6m-19 4h6m8 10h6m21 4h6m-11 12h6m-34 1h6m-115-3h6m-19 23h6m-5-12h6m7 12h6m1 2h6m-22 12h6m-10 1h6m-31-3h6m-7-10h6m-35 7h6m-20 5h6m13 9h6m-5 1h6m-2-5h6m-5-1h6m-5 7h6m-5 4h6m2-2h6m2-2h6m-6-9h6m-6 2h6m-2 2h6m2 4h6m-2-5h6m13-2h6m144 7h6m-186 11h6m-8-3h6m-17 7h6m-7-8h6m-11 7h6m-41 0h6m-30 5h6m-33 5h6m23 8h6m-5-2h6m-1-8h6m23 4h6m12 28h6m178 4h6m-6-1h6m-5 4h6m-4 4h6m10-3h6m14 8h6m-18 5h6m-7-4h6m-11 3h6m-19 6h6m-10-10h6m-194 0h6m-18 7h6m159 9h6m7-1h6m9 4h6m-4 6h6m1-1h6m6-1h6m-3 1h6m47-3h6m-30 19h6m-114 1h6" stroke="#e64f35" stroke-width="6" stroke-linecap="butt" fill="none"/>
<path transform="scale(0.2)" d="M2317 3700h6" stroke="#313695" stroke-width="6" stroke-linecap="butt" fill="none"/>
<path transform="scale(0.2)" d="M2404 3661h6" stroke="#feefa7" stroke-width="6" stroke-linecap="butt" fill="none"/>
<path transform="scale(0.2)" d="M2683 3356h6m-23-7h6m-9 3h6m-9 4h6m-7-7h6m-7 4h6m-7-5h6m-11 3h6m2 12h6m-6 4h6m1 0h6m-3 3h6m3 4h6m4 7h6m-17 2h6m-16 3h6m-6-2h6m-11-2h6m-8-3h6m-7 3h6m-12 4h6m-6-4h6m-21 0h6m-8-6h6m-10 9h6m7 14h6m15 2h6m-3-4h6m5-2h6m-9 19h6m-22 17h6m-3-4h6m9 0h6m-12 15h6m-17-7h6m-86 13h6m-7 1h6m-32-11h6m-12 4h6m-11-7h6m-14 12h6m-11 0h6m-9 2h6m-8-12h6m-13 1h6m-2 17h6m0-2h6m6-3h6m-6 14h6m7-10h6m1 8h6m0-6h6m3-6h6m-29 22h6" stroke="#be1826" stroke-width="6" stroke-linecap="butt" fill="none"/>
<path transform="scale(0.2)" d="M2682 3378h6m-34 0h6m-118 52h6m-3 46h6" stroke="#a50026" stroke-width="6" stroke-linecap="butt" fill="none"/>
<defs><linearGradient id="cb103" x1="0" y1="0" x2="0" y2="1"><stop offset="0.00" stop-color="#a50026"/><stop offset="0.10" stop-color="#d73027"/><stop offset="0.20" stop-color="#f46d43"/><stop offset="0.30" stop-color="#fdae61"/><stop offset="0.40" stop-color="#fee090"/><stop offset="0.50" stop-color="#ffffbf"/><stop offset="0.60" stop-color="#e0f3f8"/><stop offset="0.70" stop-color="#abd9e9"/><stop offset="0.80" stop-color="#74add1"/><stop offset="0.90" stop-color="#4575b4"/><stop offset="1.00" stop-color="#313695"/></linearGradient></defs>
<rect x="541.90" y="658.40" width="4.80" height="123.50" fill="url(#cb103)" stroke="none" stroke-width="0.6" />
<rect x="418.60" y="658.40" width="128.10" height="123.50" fill="none" stroke="#6d6e71" stroke-width="0.9"/>
<text x="420.80" y="778.30" font-size="9" text-anchor="start" font-weight="normal" fill="#231f20"  stroke="#231f20" stroke-width="0.1">CD49a</text>
<path transform="scale(0.2)" d="M2894 3328h6m-24-2h6m-9-1h6m-18 1h6m-13-1h6m-29 0h6m-11 4h6m-8-4h6m-36 14h6m12-9h6m-3 8h6m-5-6h6m-4-1h6m-6 2h6m-2 1h6m0 8h6m-4-4h6m-5-5h6m-3 9h6m0-8h6m-4 7h6m-5 1h6m11-2h6m-4-7h6m-3 3h6m7-4h6m-6 4h6m-5 3h6m-2 5h6m1-6h6m-6-2h6m4-6h6m2 13h6m6-8h6m-3 7h6m-4 2h6m-4 0h6m-4-8h6m-4 5h6m409 12h6m-7-4h6m-25 5h6m-16 1h6m-358 2h6m-8-1h6m-8-3h6m-10-7h6m-20 0h6m-11 3h6m-10 7h6m-10 1h6m-12-3h6m-25-7h6m-9 3h6m-12 2h6m-7-1h6m-9 7h6m-8-8h6m-23-2h6m-6 5h6m-11 3h6m-16 0h6m-11-6h6m-11 5h6m-8-2h6m-10-7h6m-15 11h6m-16-7h6m-7 7h6m-8-3h6m-9-4h6m-10 1h6m-23 7h6m-8 2h6m-2 5h6m4 9h6m26-10h6m20 10h6m0-2h6m-3-3h6m0 2h6m-3-1h6m-5 4h6m4-12h6m5 8h6m5 4h6m-2-3h6m-2-7h6m2 4h6m-3 3h6m-5-10h6m-2 12h6m20 0h6m382-6h6m5-1h6m-4 13h6m-401 3h6m-10-1h6m-13 0h6m-9 2h6m-12-3h6m-6-1h6m-15 7h6m-6-7h6m-10 9h6m-8-13h6m-10 5h6m-16-2h6m-10 8h6m-23-9h6m-8 11h6m-15-11h6m-8 9h6m-15-7h6m-14 7h6m-16-2h6m-8-8h6m-8 1h6m-9 8h6m-12 4h6m-8-13h6m-22 2h6m-8 9h6m-27 0h6m-6 1h6m-11-7h6m-6 3h6m5 8h6m17 12h6m2-9h6m1 6h6m-3 3h6m4-4h6m-5-9h6m0 12h6m-2-2h6m4-11h6m4 12h6m-3-8h6m-4-1h6m-5 9h6m-4-9h6m-4 4h6m-3 3h6m9-10h6m3 10h6m0-2h6m5 3h6m1 1h6m-2-6h6m-1 0h6m384 22h6m-422-10h6m-7 4h6m-13 0h6m-19-5h6m-7 6h6m-12-6h6m-10 3h6m-13 9h6m-11-12h6m-16 1h6m-24 9h6m-8-10h6m-20 1h6m-15 8h6m-14-2h6m-11-8h6m-10 8h6m-7 5h6m-9 8h6m7-5h6m0-2h6m-3 7h6m-2 3h6m-4-1h6m9-5h6m-5-1h6m-5-1h6m1 4h6m7 4h6m-5-6h6m9 2h6m6 0h6m-3 0h6m-5-5h6m278 10h6m0-3h6m8-2h6m-4 1h6m5 7h6m2-5h6m3 6h6m-20 4h6m-14-1h6m-8 6h6m-7-2h6m-18-4h6m-8-3h6m-6 4h6m-10 0h6m-10-3h6m-11 1h6m-6 2h6m-7-2h6m-7 3h6m-11 4h6m-289 3h6m-11-5h6m-7-4h6m-6 3h6m-31-5h6m-16 0h6m-28 7h6m-17 5h6m-8-5h6m-8-1h6m-13 0h6m-11 2h6m6 9h6m-5 6h6m3-1h6m33-7h6m0 13h6m-1-3h6m-3-10h6m304 1h6m-4 11h6m-4-6h6m-5 1h6m-4 0h6m6 4h6m-4 1h6m-4-7h6m-1 4h6m0-4h6m10-1h6m-5-3h6m-24 21h6m-16 3h6m-22-3h6m-6-1h6m-17-4h6m-96 7h6m-14-9h6m-26 11h6m-194-3h6m-42-3h6m-26 7h6m-18-5h6m-8-8h6m27 16h6m-5 1h6m7-2h6m6 14h6m-5-9h6m-1 3h6m0-3h6m-4 7h6m158-1h6m4 1h6m1 0h6m-6 2h6m-2-13h6m-4 12h6m21-7h6m-4-6h6m129 6h6m-2-2h6m-4 25h6m-18-8h6m-137-1h6m-21 4h6m-14-9h6m-26 3h6m-8 7h6m-11 1h6m-9-5h6m-10-3h6m-17 1h6m-159 7h6m-9 2h6m-10-1h6m-7-9h6m-6 3h6m-17-4h6m-18 4h6m-26 0h6m5 17h6m4-6h6m-2 3h6m0 0h6m-4 4h6m5-9h6m113 7h6m30 1h6m-1 0h6m-5 2h6m9-9h6m-6 10h6m14-6h6m-2-2h6m154 4h6m-4-5h6m-173 13h6m-25 2h6m-13 9h6m-10-4h6m-10 5h6m-6-7h6m-14-3h6m-21 8h6m-16-6h6m-18 6h6m-7 4h6m-11-2h6m-12-2h6m-12-5h6m-7 0h6m-13 5h6m-15-1h6m-10 5h6m-15-1h6m-9-4h6m-60 1h6m-11-7h6m-15 2h6m-12 0h6m-8-2h6m-18 18h6m0 5h6m-4-1h6m-5 1h6m-6 2h6m3 1h6m7-8h6m-4-4h6m15 12h6m7-7h6m9-5h6m-2 10h6m-5-3h6m2 5h6m6-11h6m2 2h6m2 6h6m-3-5h6m-5 8h6m0-12h6m6 3h6m-6-5h6m5 0h6m-1 0h6m48 4h6m-5 8h6m170 1h6m-4-8h6m-1 1h6m-12 14h6m-18 5h6m-7 4h6m-19 0h6m-127-3h6m-161-7h6m-13-4h6m-8 6h6m-9 5h6m-9 0h6m-7-11h6m-14 4h6m-11 0h6m-9 7h6m-9-2h6m-13-3h6m-6 3h6m-9-2h6m-13-5h6m-8 10h6m-14-3h6m-13-5h6m-9 0h6m-16 3h6m-19 7h6m16 8h6m5 7h6m1-4h6m5 0h6m-4-10h6m-2 14h6m11-7h6m-5-7h6m-6 12h6m-4 1h6m-3-10h6m94 6h6m169-3h6m-2 1h6m-4 4h6m-1-4h6m3 1h6m-3-6h6m-1 3h6m5-5h6m4 13h6m3 13h6m-11-1h6m-11-3h6m-7-3h6m-11 0h6m-8 1h6m-8 9h6m-13-8h6m-16 1h6m-7-5h6m-7 10h6m-7-6h6m-8-1h6m-16 2h6m-15 3h6m-9 2h6m-8 1h6m-48 0h6m-11-2h6m-12 2h6m-73-1h6m-146-9h6m-9 9h6m-7-6h6m-29 2h6m-8-1h6m-8 0h6m-10 6h6m-9-5h6m-20 4h6m-18 0h6m-13-10h6m-17 6h6m9 12h6m4-3h6m12 2h6m-5 1h6m-5-5h6m-6 8h6m-5 6h6m-4-10h6m0-3h6m18 6h6m-1-3h6m3-3h6m68 9h6m-5 1h6m-5-2h6m-6 2h6m8-2h6m0 0h6m-4 4h6m7-10h6m0 5h6m10 0h6m-1-4h6m-4-1h6m-4 9h6m-6-1h6m4-1h6m12-1h6m22-5h6m-2 5h6m-4 3h6m39 0h6m5-1h6m-5-11h6m6 2h6m2 10h6m-6-9h6m1 1h6m-3 2h6m4-5h6m-4 5h6m28-4h6m-10 27h6m-11 0h6m-13-9h6m-9 2h6m-13 2h6m-15-1h6m-98-2h6m-7 5h6m-20-9h6m-8 9h6m-7-5h6m-7-5h6m-12 9h6m-18 3h6m-12-7h6m-17 8h6m-37-2h6m-15-5h6m-9 2h6m-7-9h6m-10 7h6m-9-3h6m-14 4h6m-6-4h6m-10 7h6m-11-1h6m-14 0h6m-19-5h6m-9 9h6m-6-14h6m-11 14h6m-6-11h6m-24 5h6m-12-5h6m-13 5h6m-12-7h6m-14 0h6m-8 10h6m-11-7h6m-11-1h6m-7 8h6m-9-10h6m-8 10h6m-7 1h6m-17-2h6m-9 3h6m-6-5h6m-12 3h6m-9 0h6m-14-9h6m-7 4h6m-7-4h6m-13 6h6m-6 0h6m-12-8h6m-13 4h6m-10 7h6m-7 3h6m-17 7h6m22-4h6m5-2h6m0 4h6m-1 3h6m-4-2h6m-5-5h6m-5 8h6m-2-4h6m-6-3h6m6 12h6m17-12h6m-5 7h6m-5 6h6m-1-5h6m-6-2h6m16 4h6m-4-8h6m-2-3h6m-3 4h6m-4 1h6m-5 2h6m-1 4h6m17-9h6m1 7h6m-2-7h6m3 10h6m-3 0h6m-6 2h6m2-8h6m-5 3h6m-5-3h6m0 7h6m-2-11h6m-4 11h6m-5-13h6m-6 13h6m-5-2h6m-5 3h6m10-14h6m-4 13h6m-1-7h6m2 3h6m0 3h6m-3-4h6m4-8h6m-5 8h6m2 4h6m13-1h6m5-10h6m14 4h6m2-1h6m-4 7h6m-6-3h6m-3 1h6m23-8h6m-2 0h6m4 9h6m15-3h6m1 6h6m2-6h6m-2 21h6m-6-11h6m-11 6h6m-6 2h6m-10-10h6m-8 5h6m-7 0h6m-13 0h6m-11 2h6m-11-1h6m-6-6h6m-8 4h6m-11 0h6m-21 5h6m-11 5h6m-6-7h6m-7 7h6m-11-1h6m-7-5h6m-20-4h6m-10-2h6m-8 3h6m-7-1h6m-16 0h6m-12 7h6m-7 3h6m-11-8h6m-7 2h6m-8 4h6m-10 2h6m-8-10h6m-6 3h6m-7 4h6m-10 2h6m-10-10h6m-13 9h6m-8-11h6m-22 1h6m-10 11h6m-12-5h6m-6 2h6m-6-2h6m-10-2h6m-7 3h6m-7 5h6m-13-3h6m-8 2h6m-6-6h6m-29-4h6m-28-2h6m-7 6h6m-14 4h6m-24-11h6m-8 12h6m-11-8h6m-8 7h6m-9-9h6m-9 12h6m-13-1h6m-16-7h6m-21 6h6m-6-2h6m-8 1h6m-8 1h6m-6 1h6m-14 0h6m-7-7h6m-9 8h6m-11-7h6m-32-7h6m-7 14h6m-17-12h6m-18 11h6m-10 1h6m-7-7h6m-10 6h6m-6-8h6m-9 4h6m-6-6h6m-28 8h6m-1 10h6m-3-3h6m0 2h6m-5-3h6m8 10h6m0-3h6m-4-6h6m-5-2h6m-4 8h6m-6-8h6m9 3h6m9 10h6m18-3h6m-5-2h6m-4 3h6m-4 0h6m-4 1h6m-2 1h6m-4-7h6m-3 3h6m1-1h6m-4-9h6m4 0h6m-4 9h6m0 2h6m-5 2h6m-6-2h6m2-9h6m6 9h6m-4-11h6m-5 13h6m2-6h6m12 0h6m-1-7h6m-6 7h6m-5 1h6m2-8h6m-5 13h6m-1-10h6m-6-1h6m-2-2h6m0 1h6m-6 11h6m1-12h6m1 2h6m24 0h6m2 2h6m-2 0h6m7 4h6m-6 1h6m8-4h6m4 6h6m-2-4h6m-5 1h6m10-3h6m22 5h6m13-10h6m2 0h6m-4 14h6m-1-2h6m-3 0h6m-2-10h6m-5 8h6m-6 1h6m-4-2h6m-3 4h6m10 15h6m-14 0h6m-10-8h6m-6-2h6m-11 11h6m-13-1h6m-8-3h6m-10-1h6m-7-3h6m-7 4h6m-7-9h6m-21 11h6m-9-8h6m-10-4h6m-6 2h6m-7 12h6m-22-12h6m-22 1h6m-24 8h6m-27-7h6m-8 8h6m-6-4h6m-9-7h6m-30 9h6m-14 4h6m-46-13h6m-15 3h6m-11 4h6m-9 4h6m-7-3h6m-7-1h6m-9 4h6m-6 0h6m-20-12h6m-8 2h6m-6 3h6m-8 3h6m-12 5h6m-8-10h6m-6 11h6m-15-7h6m-6-6h6m-19 1h6m-13 2h6m-7-3h6m-20 8h6m-25 4h6m-16-5h6m-11-2h6m-42 1h6m-8 4h6m-12-10h6m-15 9h6m-22 8h6m-4-2h6m-6 3h6m3-1h6m10-3h6m-3 4h6m-5 10h6m-4 0h6m-2-4h6m-4-1h6m10 3h6m-3-7h6m-1 7h6m13 2h6m-4-5h6m-4 2h6m6-10h6m-3 4h6m-3-5h6m-6 0h6m-2 1h6m-3 5h6m-5 3h6m0 0h6m-4-4h6m0 3h6m-4-8h6m0 14h6m-6-11h6m-6 9h6m4-2h6m5 4h6m6-4h6m-3-4h6m-5 0h6m-2 7h6m-5-1h6m-4-3h6m36 4h6m-3-2h6m-1-5h6m0 2h6m0 4h6m4-10h6m-4 5h6m1 4h6m-1 1h6m-3 0h6m1-8h6m2 8h6m-6-7h6m-5 8h6m4-2h6m1-3h6m6-3h6m-4 3h6m-5 3h6m-4 0h6m4-11h6m1 14h6m-2-4h6m-3-9h6m-4 6h6m20 3h6m1 1h6m2 0h6m-4 3h6m-3-9h6m0 16h6m-6 2h6m-8 2h6m-15-7h6m-7 7h6m-17 4h6m-18-3h6m-7-4h6m-8-6h6m-11-1h6m-7 7h6m-7 1h6m-19 5h6m-14-3h6m-27-1h6m-8 0h6m-7-7h6m-7-2h6m-13 9h6m-9 3h6m-17-2h6m-7-8h6m-9 3h6m-20 9h6m-6-11h6m-13-3h6m-9 5h6m-10 3h6m-10-8h6m-7 5h6m-7-5h6m-18 9h6m-7-1h6m-7 2h6m-12-1h6m-6-6h6m-7 4h6m-11-2h6m-8-3h6m-9 11h6m-15 1h6m-42-5h6m-6 3h6m-9 2h6m-16-6h6m-8 4h6m-14-1h6m-9 1h6m-6 1h6m-8-2h6m-7 2h6m-12-6h6m-23-4h6m-18 3h6m-9 3h6m-9-3h6m-25 4h6m-11-9h6m-9 3h6m-16 2h6m-14 4h6m-11-9h6m-12 3h6m-8 5h6m-8 0h6m-7 3h6m-21-3h6m-13 1h6m-6-3h6m-10 6h6m-4 5h6m3 1h6m-4 2h6m-4-3h6m-3-3h6m10 6h6m-4-5h6m-1 8h6m6-4h6m-1-4h6m-4 2h6m-4 10h6m10-5h6m7-6h6m1 4h6m-5 2h6m4 5h6m-2 0h6m-4-4h6m5 1h6m-4 1h6m6 0h6m-1-11h6m-3 4h6m14 7h6m-2-9h6m2 7h6m2-8h6m-5 7h6m-6-4h6m5 1h6m-3-1h6m-3 8h6m8-1h6m8-7h6m8-1h6m-4-2h6m14 13h6m10-7h6m-5-6h6m6-1h6m-4 1h6m-1 3h6m5 1h6m14 4h6m-3-3h6m1 0h6m-6-1h6m-5-2h6m-5-3h6m-4 3h6m-2-2h6m-4 13h6m-3-3h6m-2 0h6m1-7h6m8-3h6m-5 9h6m-6 8h6m-15 5h6m-6-2h6m-8 8h6m-9-5h6m-17-7h6m-10 8h6m-7 2h6m-7-2h6m-10-4h6m-11 1h6m-15-7h6m-10 1h6m-7 11h6m-10-4h6m-26 6h6m-6-9h6m-10-1h6m-12-4h6m-8 13h6m-12-12h6m-8 2h6m-18 1h6m-7-1h6m-36-2h6m-13 3h6m-7 6h6m-11-8h6m-9 2h6m-9-4h6m-19 9h6m-21 0h6m-8 2h6m-9-3h6m-8 2h6m-14 2h6m-6-7h6m-22 5h6m-24-4h6m-16 1h6m-46 3h6m-17-3h6m-11 0h6m-7-4h6m-14 5h6m-7-4h6m-8 0h6m-11 7h6m-10-6h6m-12 3h6m-10 4h6m-13-11h6m-9-1h6m-15 1h6m-11 9h6m-8-8h6m-15 9h6m-8-8h6m-4 23h6m13-9h6m2 6h6m2-2h6m-6 3h6m-2-7h6m4 2h6m4 5h6m1-4h6m1-2h6m7-2h6m-5 5h6m5-4h6m8 6h6m-6-5h6m3-3h6m3 12h6m0-1h6m-5-9h6m8 10h6m-4-5h6m-3-5h6m0-1h6m-2 12h6m-3 1h6m28-8h6m2-6h6m4 3h6m-4 7h6m-2 4h6m-5-13h6m0 5h6m9 0h6m-5-4h6m25 7h6m8-7h6m-5 12h6m5-14h6m-2 13h6m10-2h6m-5 0h6m0-4h6m-1 1h6m-5-1h6m0 0h6m-2-1h6m-34 9h6m-36 7h6m-55 3h6m-21 0h6m-34 2h6m-25-5h6m-15-6h6m-23 2h6m-10 2h6m-11 5h6m-31 2h6m-7 0h6m-22-7h6m-10-5h6m-10 13h6m-7-2h6m-10 3h6m-16-14h6m-10 10h6m-18-9h6m-8 10h6m-27-9h6m-8-2h6m-8 9h6m-17-1h6m-13-3h6m-13 6h6m-4 5h6m4 10h6m0-9h6m8 1h6m6 0h6m-5 9h6m-5-11h6m0 4h6m0-3h6m-4 9h6m-5-5h6m8 5h6m-5 0h6m5-9h6m0 1h6m-1 7h6m7-4h6m6 4h6m-4-9h6m1 11h6m9-3h6m6-7h6m38 9h6m-2-9h6m-1 6h6m-3-5h6m-2-3h6m2 0h6m-4 4h6m-39 11h6m-41 13h6m-25-1h6m-7-2h6m-10-6h6m-27 0h6m-12 5h6m-10-9h6m-9 11h6m-19 2h6m-7-3h6m-7 0h6m-7-5h6m-22 1h6m-10-3h6m-7 3h6m-23-4h6m-8-1h6m-8 9h6m-8-9h6m-7 4h6m-8-1h6m-7 1h6m-9-5h6m-10 2h6m2 18h6m2-1h6m-3 0h6m-5 8h6m-6-3h6m8 0h6m-2-3h6m13 3h6m-2-7h6m46 3h6m-3 2h6m-2-1h6m-20 13h6m-27 1h6m-6 1h6m-11 5h6m-8 3h6m-16-2h6m-20-9h6m-6-2h6m-30 2h6m-9 10h6m-9 1h6m-7-12h6m-13 8h6m-9-10h6m1 18h6m-2-2h6m7 5h6m-3 4h6m-1-9h6m-3 13h6m2-11h6m1-1h6m1 7h6m-3-9h6m-2 1h6m1 3h6m1-4h6" stroke="#4575b4" stroke-width="6" stroke-linecap="butt" fill="none"/>
<path transform="scale(0.2)" d="M2891 3328h6m-7-1h6m-35 0h6m-37-5h6m-35 11h6m5 0h6m8 4h6m6 5h6m27-7h6m4-4h6m-3-1h6m0 4h6m-1 1h6m0 3h6m21 1h6m427 16h6m-30-4h6m-404 7h6m-38-1h6m-10-5h6m-7-2h6m-9 7h6m-10-8h6m-6 5h6m-16-6h6m-21 2h6m-15 4h6m-7-4h6m-22-5h6m-17 14h6m-8-6h6m-7-2h6m-22-4h6m-18 11h6m-8-2h6m-10-7h6m-8 20h6m-4 5h6m1-12h6m-2 0h6m-6 2h6m10 8h6m5-9h6m-6 9h6m53-7h6m-4 8h6m1-13h6m-3 12h6m7-9h6m31-1h6m4 8h6m340 3h6m-341 2h6m-6 3h6m-10 4h6m-7 4h6m-20-7h6m-14 4h6m-10-5h6m-54 6h6m-8-6h6m-43 7h6m-16-10h6m-16 6h6m-9 2h6m-21-3h6m-10 2h6m-19 3h6m20 9h6m10 3h6m-4-1h6m-4 0h6m-6-2h6m7 5h6m-1-4h6m13 8h6m26-4h6m0-8h6m1-1h6m17 4h6m7-1h6m-1-2h6m-28 16h6m-43 10h6m-11-2h6m-22-9h6m-17 12h6m-34-10h6m-34 8h6m-3 16h6m54-7h6m1-2h6m298 11h6m0-2h6m-2 1h6m-3-4h6m11 4h6m17 0h6m96 8h6m-112-6h6m-21 8h6m-20-1h6m-7-1h6m-18 5h6m-295-7h6m-23 4h6m-12-6h6m-17 2h6m-25 5h6m-24 14h6m12 6h6m5-14h6m11 8h6m0-5h6m210 11h6m104-3h6m-2-4h6m-1 5h6m-5-4h6m-17 15h6m-19-3h6m-117 3h6m-193-2h6m-56-4h6m-13 5h6m-21 1h6m1 21h6m234-10h6m7 8h6m147 6h6m-10 2h6m-177 8h6m-52 0h6m-20 1h6m-134-13h6m-15 8h6m-13-8h6m-33 19h6m3 2h6m11 6h6m12-9h6m120-4h6m-2 10h6m2 4h6m46-8h6m157 6h6m10-2h6m-212 5h6m-32 6h6m-13-4h6m-10 7h6m-145-5h6m-15-4h6m-12 24h6m6-1h6m0 2h6m20 2h6m-6-8h6m0 4h6m-1-8h6m-6 7h6m-3 3h6m11-7h6m7 3h6m8-4h6m20 0h6m0 10h6m4-8h6m232-4h6m-135 18h6m-86 10h6m-62-9h6m-16 0h6m-24-4h6m-9 11h6m-27-5h6m-7 4h6m-12-7h6m-7 3h6m-24 7h6m-12-3h6m-16-9h6m-9 12h6m-23 8h6m4 0h6m2-3h6m3 4h6m6 7h6m122-14h6m188 5h6m2-3h6m-5 7h6m-6 0h6m-5 5h6m1 0h6m-2 0h6m31 11h6m-19 1h6m-15 2h6m-18-12h6m-9 7h6m-6 3h6m-10-10h6m-11 12h6m-23-10h6m-16 8h6m-8 1h6m-57 1h6m-102-10h6m-134-1h6m-14 12h6m-10-6h6m-43-6h6m-17-2h6m-13 7h6m-7 19h6m39-11h6m2 14h6m6 0h6m5-12h6m-5 5h6m-1 0h6m79 5h6m9-3h6m6-1h6m8 1h6m-1-8h6m40 8h6m9-1h6m-3 6h6m-5-2h6m-3 0h6m14-10h6m0 2h6m36-4h6m0 6h6m-4-3h6m0-3h6m9 13h6m33 1h6m-2-2h6m-13 13h6m-9 4h6m-16-14h6m-34 14h6m-8-3h6m-11-1h6m-28 2h6m-20-2h6m-7-1h6m-42-3h6m-8 3h6m-9 1h6m-45 4h6m-6-13h6m-20 3h6m-9 4h6m-19 3h6m-15-3h6m-13 6h6m-18-1h6m-24-12h6m-38-1h6m-10 10h6m-7-5h6m-11-2h6m-23 10h6m-17-11h6m-8 6h6m-11 2h6m-12-8h6m-9 12h6m-6-11h6m-17-3h6m-11 11h6m-7-2h6m-8-7h6m-9 8h6m-8-3h6m-7 4h6m-31 14h6m-6 3h6m7-10h6m8 1h6m-2 3h6m1-5h6m3-2h6m-3 4h6m-3 1h6m-4 9h6m10-14h6m33 11h6m28-8h6m1 4h6m-5 5h6m2-2h6m-3 2h6m-5-10h6m1 4h6m2-6h6m9 12h6m42-8h6m11 5h6m5-3h6m0-6h6m-5 1h6m-6 4h6m17 3h6m7 2h6m45 2h6m13-8h6m0 25h6m-12-4h6m-7-10h6m-10 4h6m-12 8h6m-7-1h6m-12-2h6m-9-2h6m-12-7h6m-8 7h6m-20-6h6m-21 1h6m-7 6h6m-12 6h6m-22-14h6m-20 2h6m-16-2h6m-12 2h6m-8 4h6m-51 4h6m-30 1h6m-22-2h6m-10-4h6m-9-5h6m-14 7h6m-11 5h6m-15-7h6m-16-2h6m-11 5h6m-20 0h6m-12 3h6m-10-7h6m-39 1h6m-6 3h6m-15-8h6m-13 3h6m-14 4h6m-16-7h6m-18 3h6m-16 7h6m-9 2h6m-6-7h6m-10 3h6m-19 1h6m-10-4h6m-7 2h6m-7-3h6m16 17h6m50 1h6m6 0h6m3-3h6m3-3h6m-1 13h6m0-1h6m15-12h6m5 6h6m13-7h6m0 11h6m-2 3h6m-1-5h6m6 2h6m4-5h6m76-4h6m7 8h6m-4 3h6m19-10h6m-1 4h6m3 1h6m-3 0h6m3 2h6m1-5h6m3-5h6m2 14h6m22-14h6m-2 8h6m-26 11h6m-7 1h6m-29-2h6m-19 0h6m-33 1h6m-22 0h6m-18 5h6m-20-5h6m-15 6h6m-110 4h6m-7-12h6m-12 1h6m-8 8h6m-6 1h6m-15-1h6m-38-2h6m-10 5h6m-8-2h6m-11-8h6m-13 5h6m-16 2h6m-13 3h6m-13-3h6m-26-7h6m-53 3h6m-4 8h6m-6 1h6m-3 6h6m-4-3h6m3-1h6m-3 3h6m-6 7h6m5-13h6m15 2h6m64 11h6m6-3h6m-3-5h6m-5 5h6m-6 2h6m-4 0h6m-1 0h6m-1-6h6m-3 6h6m0-10h6m0 2h6m-2 3h6m58 5h6m-1 1h6m7-12h6m-5 0h6m6 7h6m0-7h6m1 10h6m-5-2h6m1-6h6m9-2h6m-6 10h6m11-8h6m-3 10h6m4-5h6m3 0h6m-4-4h6m-4-4h6m3 7h6m10-7h6m-5 2h6m-2 5h6m0 7h6m10 0h6m2 11h6m-44-6h6m-16 9h6m-8-9h6m-10 6h6m-14-9h6m-8 2h6m-30 3h6m-17 4h6m-13-7h6m-75 3h6m-10 1h6m-8-7h6m-13 5h6m-8 2h6m-37 7h6m-22-5h6m-9-4h6m-18 5h6m-6-5h6m-11 6h6m-19-2h6m-15 5h6m-12-6h6m-11 5h6m-6-3h6m-7 0h6m-17 1h6m-13-4h6m-14 7h6m-23-14h6m-7 4h6m-39 4h6m-14 4h6m-12-1h6m-9-1h6m5 10h6m4 5h6m-5-10h6m-6 3h6m-2 8h6m3 2h6m3-8h6m-5-5h6m-4 14h6m7-14h6m-2 2h6m5 1h6m-4-2h6m-3 2h6m12 11h6m-3-13h6m-5 1h6m-5 4h6m22 7h6m9-2h6m6-6h6m17 4h6m-1 5h6m3-11h6m11 8h6m5-8h6m7 8h6m4-10h6m9 1h6m34 1h6m19 9h6m-4-8h6m15 8h6m26 3h6m-7 7h6m-23 2h6m-19 1h6m-12 4h6m-20-13h6m-27 10h6m-9-11h6m-6 11h6m-17 0h6m-22-8h6m-44 1h6m-13-2h6m-45 9h6m-11 1h6m-53 1h6m-30-4h6m-16-3h6m-24-4h6m-23 2h6m-10 8h6m-10 2h6m-12-9h6m-32 1h6m-18 7h6m-16 10h6m23 0h6m-4-1h6m2-1h6m4 3h6m6-6h6m-4 10h6m0-13h6m5 13h6m2-11h6m0 1h6m31 8h6m-3-1h6m17 2h6m2-5h6m10 0h6m0 3h6m0-4h6m29 2h6m0-6h6m0 7h6m-5 0h6m-6-7h6m29 5h6m6 5h6m15 1h6m19-3h6m-3-8h6m14-1h6m-82 15h6m-11 13h6m-10-14h6m-17 0h6m-64 7h6m-28 2h6m-11 5h6m-7-2h6m-19-10h6m-20 11h6m-46 0h6m-11-6h6m-18-1h6m-21 5h6m-7-6h6m-24 0h6m-12 1h6m-13 0h6m-33 7h6m19 15h6m4-7h6m-5-3h6m5 5h6m6 0h6m0 6h6m7-6h6m6 1h6m24 4h6m-3 0h6m28-5h6m31-6h6m24 5h6m-70 19h6m-19 3h6m-48-8h6m-14-5h6m-31 7h6m-13-1h6m-23-6h6m-7 12h6m-17-12h6m-8-1h6m-12 11h6m11 18h6m80-12h6m-2-1h6m-16 16h6m-36 3h6m-7 8h6m-7-5h6m-24-2h6m-7 7h6m-19 1h6m-18 6h6m18-5h6m4 4h6m29 4h6" stroke="#74add1" stroke-width="6" stroke-linecap="butt" fill="none"/>
<path transform="scale(0.2)" d="M2906 3328h6m-29-3h6m-8 3h6m-14 1h6m-14-3h6m-15 3h6m-15-6h6m-9 3h6m-18 3h6m-7-6h6m-17 4h6m-10 1h6m-9 1h6m-12-1h6m-16 12h6m-1 2h6m2-6h6m-3 1h6m-3 7h6m-2-7h6m-6 2h6m1-8h6m0 12h6m-3-7h6m-2 3h6m-6 4h6m3-5h6m-2-6h6m3 4h6m8 1h6m1-7h6m-6 1h6m-5 1h6m4 6h6m-4-3h6m-3 6h6m-4-2h6m2-5h6m-3-1h6m15 7h6m-1-5h6m-5 1h6m-3 8h6m4-1h6m398 15h6m-18-6h6m-15 7h6m-377-9h6m-12 0h6m-15 8h6m-14-6h6m-6 5h6m-8-5h6m-14 6h6m-11-4h6m-8-1h6m-8-6h6m-13 10h6m-9-3h6m-8-6h6m-13-2h6m-6 2h6m-15 8h6m-11-9h6m-6 6h6m-7-8h6m-6 1h6m-14 13h6m-7-3h6m-10 2h6m-6-2h6m-14-11h6m-7 3h6m-7 10h6m-12-1h6m-9-3h6m-8-9h6m-6 12h6m-12-4h6m-7-8h6m-6 11h6m-6 3h6m-8-14h6m-6 12h6m-9 0h6m-7-12h6m-8 8h6m-15-7h6m-6 12h6m-7-5h6m-9-2h6m-6-4h6m-8 11h6m-9-10h6m-15-1h6m-7 11h6m-10-10h6m-7 11h6m-11-8h6m-7 4h6m-9-9h6m-9 7h6m-9 4h6m-7-11h6m-4 18h6m-5 8h6m1-2h6m16 1h6m-1-11h6m-6 1h6m-5 6h6m-5 7h6m-6-12h6m-5 2h6m-2 0h6m-6 10h6m-3-4h6m-4 3h6m1-2h6m-4-2h6m-3 0h6m5 0h6m-4 0h6m-6-3h6m-5 7h6m-1-8h6m-4 3h6m-5-5h6m-6 3h6m-5 8h6m-4-1h6m-3-5h6m-4-6h6m6 11h6m-6-6h6m1 1h6m-4-3h6m0 7h6m-3-9h6m-2 1h6m1 3h6m-2-2h6m-5 4h6m-4-5h6m-5 0h6m-3-2h6m-1 8h6m-6-4h6m-1 6h6m-4 2h6m-5-8h6m-6 7h6m4-1h6m-5-5h6m-3 0h6m-6-2h6m-2-1h6m3-1h6m334 3h6m-1 6h6m1-9h6m-355 15h6m-8 1h6m-7 9h6m-10-13h6m-6 10h6m-7-3h6m-12-5h6m-12 2h6m-7 5h6m-7 4h6m-8-6h6m-6-5h6m-13-2h6m-8 3h6m-6 2h6m-9 6h6m-11-1h6m-6-9h6m-9 1h6m-7 11h6m-13-1h6m-15-11h6m-6 9h6m-8-8h6m-7 6h6m-12-1h6m-7 5h6m-12-9h6m-6 3h6m-7-2h6m-13 8h6m-7-12h6m-9 2h6m-8 5h6m-8 4h6m-9-10h6m-6 11h6m-9-7h6m-8 7h6m-8-2h6m-8-3h6m-12-3h6m-7-1h6m-7 9h6m-7-8h6m-17-3h6m-6 4h6m-17 4h6m-14 0h6m-8-4h6m-7 6h6m-6-2h6m-18-8h6m-8 6h6m-7 3h6m-6-10h6m-15 8h6m-10-7h6m-9 1h6m4 13h6m10 2h6m-3 2h6m2 2h6m2 6h6m-4 2h6m-3-3h6m1 1h6m-4-6h6m-4-6h6m-6 11h6m-4 1h6m-1-3h6m-1-9h6m2 9h6m-4-4h6m-3 0h6m-5-3h6m-6 10h6m-5-4h6m-5 0h6m-5-1h6m-4 0h6m-5-7h6m-5 14h6m-3-11h6m-2 7h6m-4 2h6m2-4h6m-5 1h6m-4-7h6m-4 5h6m-4 6h6m-5-11h6m-1-2h6m2 5h6m-3-4h6m-2 9h6m-5-9h6m0 13h6m-5-5h6m-4 0h6m-5-5h6m-5-3h6m0 13h6m-4-5h6m-4-7h6m-5 3h6m4 0h6m352 22h6m-7 2h6m-391-12h6m-15-2h6m-10 3h6m-21-2h6m-7 8h6m-7-6h6m-7 0h6m-13 4h6m-6 0h6m-8 7h6m-8-12h6m-7-1h6m-7 12h6m-11-8h6m-30 5h6m-8-9h6m-29 9h6m-6 1h6m-7-4h6m-11 4h6m-10 1h6m-7-9h6m-9 3h6m-6 5h6m-14 2h6m-9 2h6m3 11h6m1-5h6m-3-2h6m-5 9h6m-3-9h6m-5-2h6m-3 7h6m-1-2h6m3-3h6m10 1h6m-3 7h6m-4-1h6m3-3h6m-5-7h6m-6 3h6m-5 0h6m-4-2h6m0 9h6m-5-6h6m-6 7h6m-2-10h6m-6-1h6m1 12h6m287-2h6m-4 2h6m0 0h6m-1-7h6m-2 4h6m-5 1h6m-4 3h6m-5-4h6m4 2h6m8 1h6m83-2h6m13-11h6m-12 23h6m-30-6h6m-79 9h6m-10-4h6m-11-4h6m-8 9h6m-8-7h6m-10 7h6m-13 2h6m-7-6h6m-9-8h6m-6 0h6m-13 12h6m-10-9h6m-6 4h6m-12-6h6m-15 2h6m-7 11h6m-9-10h6m-7 0h6m-289 1h6m-16-2h6m-7 5h6m-8-2h6m-15-3h6m-12-1h6m-9 12h6m-19-11h6m-12 0h6m-7 2h6m-8 8h6m-12-13h6m-6 2h6m-8 5h6m-25-1h6m-9 7h6m-7-7h6m-7-2h6m-6 4h6m-14-6h6m-2 14h6m-3 0h6m-5 9h6m14 1h6m-5-2h6m-1-2h6m-3 1h6m-3 3h6m-1-9h6m7 7h6m5 3h6m5-6h6m-3 7h6m1-5h6m187 3h6m-3-1h6m93-5h6m0-1h6m-4 4h6m-2 5h6m-5-6h6m-5-6h6m-4-1h6m-5 2h6m-5 1h6m-4 6h6m-4-3h6m-3 0h6m-4 4h6m-5-10h6m-5 8h6m-2-8h6m-2 6h6m-5 7h6m1-4h6m-6-8h6m-9 20h6m-9-6h6m-16 3h6m-9 6h6m-26-6h6m-103 6h6m-6 5h6m-17-1h6m-203-7h6m-10 2h6m-8-1h6m-14 5h6m-9-6h6m-8 6h6m-8 1h6m-8-12h6m-10 8h6m-9 4h6m-8-12h6m-8 9h6m-12 2h6m-10-1h6m-14 3h6m-7-3h6m-15-9h6m-15 10h6m-7 0h6m-7-4h6m-12-5h6m-7 1h6m11 17h6m-5-3h6m26 5h6m-2 5h6m-5-7h6m-4 2h6m-1 4h6m-6-5h6m-5 2h6m-5-5h6m-5 9h6m-3-3h6m2-9h6m165 8h6m-4-8h6m-2 11h6m3-12h6m-5 7h6m9-5h6m-1 8h6m-3-1h6m133-4h6m-1 6h6m-4-5h6m-3-6h6m-6 27h6m-154-7h6m-8-3h6m-9 7h6m-8 2h6m-7-2h6m-12-6h6m-7 1h6m-8-2h6m-12 6h6m-7 0h6m-7 0h6m-7-6h6m-11-1h6m-17 0h6m-8 8h6m-11-8h6m-12 9h6m-11-7h6m-6 9h6m-6-4h6m-7 0h6m-11 0h6m-13 4h6m-7 0h6m-151-9h6m-7 4h6m-12-6h6m-10 8h6m-15-3h6m-7 8h6m-15-1h6m-22-7h6m-10 5h6m-10-9h6m-8 2h6m7 21h6m1-10h6m-5 1h6m9 12h6m2-2h6m-4-2h6m-3-8h6m-6 5h6m-5 1h6m-5-6h6m0 7h6m82 4h6m6-2h6m7 1h6m-3-1h6m-4-7h6m-5 3h6m-6 8h6m-4-1h6m-5-1h6m-3-8h6m-4-3h6m-3 11h6m-1-5h6m0-1h6m1 7h6m5-5h6m-1-6h6m-6 3h6m-5-4h6m-3 6h6m-3-3h6m-4-2h6m0 11h6m2-4h6m12-1h6m137-7h6m-3 13h6m-1-7h6m-5 7h6m-2-1h6m-3 1h6m-12 9h6m-6-6h6m-11 10h6m-7-3h6m-187-9h6m-6 2h6m-13 0h6m-20 5h6m-11 5h6m-25-3h6m-10 0h6m-7-2h6m-6 7h6m-10-5h6m-8 4h6m-7-5h6m-9 6h6m-8-12h6m-15 12h6m-7-13h6m-7 9h6m-10-1h6m-15-5h6m-7 2h6m-13 0h6m-12-3h6m-9 5h6m-10-1h6m-12 1h6m-62-5h6m-8 7h6m-9 0h6m-25-5h6m-14 3h6m-8-6h6m-7 1h6m-10 1h6m27 22h6m-6-9h6m-5 0h6m-3 3h6m-3 5h6m-1-4h6m-6 2h6m-3 1h6m2 4h6m-1-13h6m-4 2h6m-1 9h6m-4-4h6m2-3h6m-3-2h6m5 12h6m-3-6h6m2-7h6m-2 7h6m-5 3h6m-4-10h6m-3 6h6m-2-7h6m11 6h6m-5 7h6m-4-12h6m-5 6h6m-5-4h6m-5 5h6m-5-3h6m-3 4h6m-6-8h6m3 1h6m1-1h6m54 10h6m159 2h6m0-4h6m4 4h6m-12 4h6m-7 12h6m-15-3h6m-18 2h6m-9 1h6m-200-2h6m-61-11h6m-11 4h6m-6-1h6m-10-2h6m-13 7h6m-12-5h6m-6 4h6m-7-1h6m-9-2h6m-14-1h6m-6 10h6m-12-9h6m-6 6h6m-7-6h6m-10-5h6m-32 11h6m-12-7h6m-8 4h6m-13 3h6m-12-3h6m-7-4h6m-15 0h6m-7 5h6m-6 2h6m-8-2h6m-9 0h6m-12-6h6m-6 2h6m-13 18h6m-5 1h6m13-7h6m-2 0h6m-2 6h6m-3 2h6m2-7h6m-4 5h6m-6-6h6m-1 5h6m-5-3h6m11-4h6m0 7h6m-5 0h6m-1-4h6m0 11h6m10-14h6m41 13h6m52 0h6m143-4h6m-2 2h6m8-10h6m3 5h6m-3-4h6m2 6h6m-1-5h6m-3 3h6m0 7h6m-5 0h6m23 13h6m-12-4h6m-35-1h6m-11 6h6m-8-8h6m-14 8h6m-7 0h6m-7 0h6m-6 2h6m-9-4h6m-9-4h6m-9 8h6m-6 0h6m-7-9h6m-8 7h6m-6-12h6m-8 8h6m-7-4h6m-11 0h6m-8 6h6m-8-3h6m-6-3h6m-7 4h6m-12 3h6m-6-5h6m-10 6h6m-49 1h6m-11-1h6m-50-5h6m-49 2h6m-105-1h6m-31 5h6m-9-3h6m-8-6h6m-8-3h6m-8 13h6m-9-1h6m-8-8h6m-8 2h6m-10-7h6m-10 10h6m-8 1h6m-14 1h6m-8 0h6m-16 2h6m-15-13h6m-8 2h6m-6 5h6m-8-7h6m-13 12h6m-23-1h6m11 10h6m0-3h6m0-3h6m7 0h6m-5 5h6m-3-1h6m-5-4h6m-5 6h6m-4-1h6m-2-4h6m-6 0h6m-5-2h6m-2 7h6m-6-6h6m-5 6h6m-5 1h6m-5-7h6m-6 12h6m-2-7h6m-3-4h6m-5 11h6m-3-5h6m-5 6h6m-6-9h6m-5 8h6m-5 1h6m-3-14h6m-4 8h6m-6 5h6m-5-5h6m-1-7h6m4 9h6m2-3h6m-2 7h6m-1-4h6m30 2h6m-5-2h6m8 3h6m-3-1h6m-5-1h6m1-3h6m-3 4h6m7-1h6m-2 0h6m-4 3h6m-3-2h6m-1-5h6m1 4h6m2-11h6m-2 9h6m-3-4h6m-6 4h6m7-5h6m-5-3h6m-3 9h6m-5-8h6m-4 2h6m-6 8h6m11 0h6m-1-8h6m-3 9h6m-4-7h6m-1-1h6m-4 1h6m4-2h6m-5-4h6m-4 10h6m2-10h6m-3 7h6m0 5h6m2-3h6m-2-6h6m-1 0h6m-6-3h6m2 13h6m3-12h6m5 8h6m-3-5h6m-4 3h6m-5 3h6m-5 2h6m-6-2h6m-4-5h6m-6-3h6m-6 8h6m-4-8h6m-5 12h6m-6-2h6m-2-3h6m-4-9h6m-4 0h6m-5 8h6m-5 3h6m9-9h6m-3 2h6m-3 9h6m9-10h6m-3-1h6m-12 16h6m-13 5h6m-16-8h6m-10 13h6m-8 0h6m-7-10h6m-8 10h6m-11-11h6m-27 9h6m-13 1h6m-7-10h6m-9-2h6m-9 1h6m-6 7h6m-6-4h6m-9-3h6m-8 1h6m-8 7h6m-8 2h6m-7-11h6m-8 4h6m-9 8h6m-11-11h6m-17 13h6m-7-14h6m-6 9h6m-9 3h6m-28-11h6m-17 7h6m-10 2h6m-14 4h6m-9-10h6m-13 7h6m-7-1h6m-18 0h6m-7 4h6m-6-5h6m-7 1h6m-7 0h6m-17-9h6m-8 4h6m-9-1h6m-9 9h6m-7-8h6m-11 6h6m-8-5h6m-7-2h6m-10 0h6m-11 10h6m-15-11h6m-8 2h6m-13 9h6m-6-12h6m-8 0h6m-6 5h6m-7-4h6m-11 2h6m-6 9h6m-8-2h6m-14-3h6m-13-7h6m-6 12h6m-14-9h6m-7 7h6m-6 2h6m-10-11h6m-8-3h6m-9 10h6m-9-4h6m-8-5h6m-16 1h6m-10 5h6m-7 2h6m-7-4h6m-9-5h6m-9 0h6m-7 11h6m-17-2h6m-7 4h6m-16 0h6m-9 1h6m-10-11h6m-8-1h6m-11 12h6m-9-11h6m-7 0h6m-6 7h6m-7 0h6m-7-7h6m-8 0h6m-9 2h6m-6 3h6m-7 5h6m-7-10h6m-7-3h6m-9 4h6m-7-1h6m-7 7h6m-9 0h6m-9 4h6m-10-3h6m-7-9h6m-10 12h6m-17-12h6m-18 2h6m-6 6h6m-16-10h6m-6 5h6m6 18h6m-1 4h6m3-3h6m-2-6h6m-4 10h6m-3-1h6m-4 0h6m0-5h6m-3 0h6m-6 3h6m-5 1h6m-6 3h6m-5-7h6m-6-7h6m-4 14h6m-6-4h6m2-5h6m-6 0h6m-4-2h6m-5-3h6m-5 2h6m-4 3h6m0 8h6m-4-5h6m-5-7h6m-4-1h6m-5 2h6m1 0h6m-5 5h6m0 4h6m-6-10h6m-5-1h6m-3 9h6m-6-9h6m-4 5h6m2 8h6m-3-2h6m-5-10h6m-4-1h6m9 0h6m-3 5h6m-6-3h6m-4-1h6m-4 2h6m-5 4h6m-1-3h6m1 2h6m-4 4h6m-6-10h6m-3 10h6m-2 3h6m3-12h6m5 3h6m-5 9h6m4-2h6m6-8h6m-6 4h6m-5 3h6m0-3h6m-5-6h6m-4 7h6m-5 6h6m-5-8h6m-5 7h6m-5-8h6m-4 6h6m-5 1h6m-5-6h6m-3-6h6m-1 1h6m-4 10h6m-5-8h6m2 10h6m-4-1h6m2-2h6m-5 3h6m0-4h6m-4 0h6m-5-1h6m-6 1h6m-6-8h6m-4 11h6m-4-6h6m-4 8h6m-5-7h6m-3 6h6m2-13h6m0 5h6m24-2h6m1-2h6m-3 8h6m-2 0h6m5 1h6m-4-10h6m-2 5h6m-5 8h6m-3-12h6m2 13h6m-2-10h6m-4 3h6m1-7h6m10 0h6m-5 13h6m-6-9h6m-6 4h6m7 5h6m-4-3h6m-5-6h6m-4-1h6m-4 11h6m-5-9h6m-5-2h6m9 8h6m9-1h6m8 16h6m-8 3h6m-11-11h6m-11-1h6m-31 5h6m-13-2h6m-7 2h6m-7-4h6m-12 9h6m-7 0h6m-8 1h6m-10-1h6m-16-12h6m-18 10h6m-6-4h6m-8 1h6m-8-4h6m-10 6h6m-6-1h6m-10-4h6m-9 0h6m-10-3h6m-10 8h6m-13-5h6m-10-3h6m-7 0h6m-12 1h6m-8 10h6m-8-7h6m-9-2h6m-14 6h6m-7-6h6m-7-3h6m-7 14h6m-7-8h6m-7 5h6m-9-2h6m-8-1h6m-8-1h6m-7-6h6m-17 2h6m-6 1h6m-27 10h6m-14-12h6m-9 4h6m-12-5h6m-10 0h6m-7 13h6m-9-13h6m-11 5h6m-10-2h6m-8 7h6m-11-2h6m-10 0h6m-11-7h6m-10 0h6m-8 6h6m-9 4h6m-9 0h6m-7-11h6m-10 12h6m-10-9h6m-6 5h6m-11-9h6m-17 7h6m-7 3h6m-9-2h6m-11 0h6m-7-4h6m-8 6h6m-9-6h6m-11 7h6m-19 1h6m-21-9h6m-8 7h6m-10-10h6m-12 8h6m-7-2h6m-6 0h6m-17 4h6m-6-1h6m-7 0h6m-8 0h6m-11-1h6m-8-8h6m-11 11h6m-7-3h6m-6 3h6m-8-11h6m-21 0h6m-7 12h6m-8-5h6m-7-7h6m-9 3h6m-10-3h6m-15 11h6m-9-2h6m-9-1h6m-7 3h6m-9-9h6m-7 12h6m-8-5h6m-8 0h6m-6 5h6m-7-10h6m-11 1h6m-13 9h6m-11-5h6m-11-2h6m6 12h6m-6-3h6m1 12h6m0-8h6m-3 1h6m-5-2h6m-5 9h6m-4-4h6m0-2h6m-2 7h6m-1-9h6m-4-5h6m1 14h6m-4 0h6m-5-4h6m0 0h6m-3-5h6m-5-2h6m-4 9h6m7-6h6m-4-3h6m-2 11h6m0-2h6m-5 1h6m-2-8h6m-3-4h6m-6 13h6m-5-14h6m9 4h6m-4 3h6m-6-3h6m-5 5h6m5-5h6m-4 1h6m-5 2h6m-4 3h6m-5-3h6m-5 7h6m-4-10h6m1 9h6m-5-10h6m-1-3h6m-6 7h6m-5-5h6m2 5h6m-2 2h6m-1-7h6m-3-2h6m-6 11h6m-5 2h6m-3 0h6m-1-13h6m-5 2h6m-6-1h6m-4 7h6m-2-7h6m-5-1h6m-2 3h6m-2-2h6m-6 3h6m-4-2h6m-4-1h6m-3 8h6m2 1h6m-4-2h6m-4 3h6m-5 1h6m-4-4h6m0-2h6m-6-6h6m-1 1h6m30 1h6m2-1h6m-5 10h6m-6-10h6m-2-1h6m-2 5h6m1-1h6m4 1h6m0-4h6m-2 6h6m-2 2h6m-3 4h6m-2-7h6m-6-5h6m-3 8h6m-3-1h6m2 5h6m-6-1h6m7-10h6m-6 2h6m3-4h6m-6 5h6m17 5h6m-3-1h6m-2-3h6m-1-5h6m-5 10h6m-5 1h6m-2-3h6m-4 4h6m-2-5h6m2 3h6m-3 0h6m-2-9h6m0 19h6m-17 7h6m-8 1h6m-10-11h6m-9 7h6m-8-2h6m-13-7h6m-7 5h6m-8 5h6m-18-11h6m-13 6h6m-7 8h6m-8-13h6m-6 11h6m-7-5h6m-11-2h6m-16 2h6m-10-4h6m-10 8h6m-6 0h6m-7-2h6m-12-3h6m-11 5h6m-14-10h6m-10 13h6m-7-1h6m-8 1h6m-7-13h6m-10 12h6m-9-12h6m-23-1h6m-13 8h6m-6 4h6m-11-8h6m-9-4h6m-11 4h6m-8-1h6m-7 5h6m-18-8h6m-48 0h6m-12 5h6m-6 0h6m-7 8h6m-8 0h6m-16-3h6m-7-2h6m-11-5h6m-11 9h6m-9 0h6m-6 1h6m-7-3h6m-8 2h6m-6-4h6m-9 3h6m-7-7h6m-13 0h6m-7 2h6m-8 2h6m-16-2h6m-6 0h6m-8 5h6m-7-2h6m-7 0h6m-7 0h6m-8-6h6m-8 1h6m-8 5h6m-7 5h6m-6-14h6m-7 9h6m-6 3h6m-11-9h6m-18 9h6m-6-3h6m-9 5h6m-6-10h6m-7-4h6m-6 0h6m-7 6h6m-8 7h6m-26-10h6m-7 7h6m-9-6h6m-10 3h6m-8 0h6m-10-5h6m-8 3h6m-8 4h6m-7 2h6m-7-6h6m-10 0h6m-9 1h6m-10 7h6m-10-12h6m-8 8h6m-13-1h6m-29 2h6m-12-4h6m-7 1h6m-1 11h6m-3-3h6m-4 12h6m7 1h6m0 0h6m-5-7h6m-5 6h6m-1-8h6m-4 2h6m-2 5h6m-1-4h6m-4 2h6m6-1h6m-6 1h6m-5 0h6m-2 5h6m1-2h6m3-11h6m-3-1h6m-5 12h6m-3-6h6m-3 4h6m-4-6h6m-2-2h6m-2 6h6m-3-8h6m8 0h6m-6 11h6m-6-10h6m-1 6h6m-6 0h6m1 3h6m-2-9h6m-2 12h6m0-6h6m-3-4h6m-5 2h6m-1-4h6m4 3h6m5 0h6m-6 1h6m44 6h6m-1-6h6m-5 6h6m-3 0h6m-2-5h6m0-1h6m-2-1h6m-5 0h6m-5-2h6m3 10h6m-5 1h6m-1-5h6m-1 0h6m-5-5h6m-3 7h6m7 1h6m-5-10h6m7 10h6m-4 1h6m-2-6h6m-4-2h6m0 4h6m-6 2h6m-4-6h6m-4 5h6m-5-9h6m-2 2h6m-3-2h6m-5 12h6m0-3h6m-2 5h6m-6-3h6m-4-11h6m-3 1h6m-4 11h6m2-8h6m-2 1h6m1 1h6m-5 4h6m-5 2h6m-6-1h6m-2-10h6m-4 7h6m-3-1h6m-2 1h6m-5-5h6m-6 4h6m-6 5h6m-3 2h6m-3-8h6m-3 0h6m-3 4h6m-5-6h6m-5-1h6m-4 8h6m-2-5h6m-9 17h6m-10-2h6m-7 3h6m-6-2h6m-7 7h6m-7-9h6m-6 4h6m-15-8h6m-11 3h6m-7 9h6m-14-7h6m-27-2h6m-8 4h6m-11 1h6m-7 2h6m-7-6h6m-6 2h6m-10 0h6m-7 5h6m-8-12h6m-8 1h6m-8 1h6m-6 6h6m-7 3h6m-11-9h6m-6 10h6m-6 1h6m-9-13h6m-7 8h6m-7 4h6m-11-3h6m-6 0h6m-6-4h6m-9 2h6m-10 7h6m-12-5h6m-9 5h6m-9-3h6m-7-9h6m-7 7h6m-7 1h6m-13 2h6m-8-4h6m-10 4h6m-11 2h6m-14-4h6m-10 1h6m-6-3h6m-7 0h6m-6 2h6m-6 1h6m-7-10h6m-6 2h6m-8 6h6m-12 2h6m-9-4h6m-9-1h6m-7-4h6m-13 4h6m-9 4h6m-7-1h6m-17-2h6m-7-3h6m-8 8h6m-11-2h6m-14 3h6m-32 0h6m-6-4h6m-7 4h6m-17-4h6m-8-8h6m-8 3h6m-6 10h6m-9-9h6m-6 9h6m-6-8h6m-21-5h6m-12 7h6m-8 2h6m-8-5h6m-8 2h6m-13 6h6m-6-4h6m-8 2h6m-8 1h6m-12 0h6m-9-2h6m-20 0h6m-6 3h6m-12-9h6m-7 0h6m-6-3h6m-9 3h6m-10 8h6m-8-11h6m-6 6h6m-10 0h6m-8 1h6m-7-6h6m-7 3h6m-11-4h6m-6 1h6m-11 10h6m-8 1h6m-11 0h6m-6 0h6m-10-4h6m-6 3h6m-7 2h6m-7-14h6m-13 4h6m-9-2h6m-8 10h6m-9-10h6m-6 9h6m-6 1h6m-8-6h6m-8-6h6m-7 9h6m-8 2h6m-15-4h6m-6-1h6m-11 0h6m-13-3h6m-1 19h6m1 3h6m-4-1h6m-5-4h6m-5-4h6m-6 9h6m1-8h6m-6 3h6m0-5h6m-6 6h6m-5-3h6m3 8h6m1-2h6m1-4h6m-5-3h6m-5 5h6m-5-1h6m-6 4h6m-6 2h6m-5-2h6m-5-3h6m-6 5h6m-4 2h6m-6-14h6m-5 6h6m-1 8h6m-1-1h6m-4 0h6m-4-7h6m-5 3h6m-3 0h6m-4-6h6m-4 7h6m2-10h6m2 13h6m-3-13h6m-5 1h6m-2 3h6m3-1h6m-4 2h6m-3-1h6m5 0h6m-3 0h6m-5-2h6m-5 3h6m-4-5h6m1 2h6m-3 11h6m-3-10h6m-2 2h6m-5 2h6m-6 7h6m4-8h6m-1 4h6m-3-6h6m-5 6h6m4 3h6m-3-4h6m-4 3h6m-2-7h6m1 8h6m-4-6h6m2 5h6m-3 1h6m0-11h6m-5 8h6m-6-9h6m-2 4h6m-5-3h6m2 6h6m4 2h6m8 1h6m-2-5h6m6 6h6m-5-1h6m-5-7h6m1 5h6m-3-9h6m-4 10h6m-3-6h6m-5 6h6m-3 1h6m-5-7h6m-5 2h6m4 4h6m0 3h6m1 1h6m-4-2h6m-1-8h6m-3-1h6m2 8h6m-4-8h6m-6 9h6m-4-2h6m2-3h6m0-1h6m-4 2h6m1 4h6m-4-5h6m15-1h6m-16 16h6m-10-4h6m-9 10h6m-17-13h6m-6 10h6m-10-9h6m-10 13h6m-13-1h6m-26-13h6m-10 11h6m-14-1h6m-9-6h6m-10 7h6m-9-7h6m-9 5h6m-14 5h6m-9-4h6m-9-9h6m-18 9h6m-9-6h6m-8 3h6m-10-4h6m-9-1h6m-16 2h6m-9-2h6m-14 8h6m-10-4h6m-13-6h6m-17 13h6m-11-13h6m-7 5h6m-9 0h6m-7 1h6m-6 4h6m-9 2h6m-9-9h6m-9 5h6m-8 1h6m-6-2h6m-24 1h6m-12-7h6m-10 10h6m-10-10h6m-6 13h6m-9-8h6m-11 8h6m-15-5h6m-6-2h6m-7-4h6m-6 0h6m-7 10h6m-6-2h6m-10 0h6m-7-7h6m-8 4h6m-15-6h6m-8 7h6m-7-2h6m-8-1h6m-8-3h6m-10 0h6m-7 9h6m-9-3h6m-11-2h6m-10 2h6m-6-4h6m-10 0h6m-7 5h6m-7 3h6m-11-5h6m-8 6h6m-24-4h6m-7-10h6m-10 10h6m-10-8h6m-9 9h6m-8 1h6m-10-8h6m-6 1h6m-14 3h6m-8-5h6m-8 1h6m-6 8h6m-6-2h6m-8-10h6m-6 0h6m-13 0h6m-9 13h6m-7-3h6m-6-6h6m-10-1h6m-7 1h6m-9-4h6m-12 6h6m-10 2h6m-9 1h6m-6-2h6m-7-7h6m-6 1h6m4 16h6m4 11h6m-2-10h6m-2 5h6m-4-8h6m-4 5h6m-4 6h6m-4 0h6m-4-11h6m2 2h6m-6 2h6m-2-3h6m2 12h6m1-13h6m-3 9h6m-1 5h6m6 0h6m-3-8h6m-5-5h6m-5 10h6m-2-3h6m-5-5h6m-4 11h6m-3-5h6m-4 3h6m-4-4h6m-4 1h6m-3-4h6m-3 9h6m-2-3h6m2-1h6m-5-1h6m6-3h6m-6 0h6m-4 4h6m-5-6h6m-6 2h6m-3 4h6m0-9h6m-6 4h6m1 5h6m-5-10h6m-5 5h6m-3 5h6m-5-5h6m-4-2h6m1 3h6m-6 3h6m-5-4h6m-3 0h6m-5-3h6m0 2h6m-4-4h6m7 9h6m6-2h6m-3 4h6m-4-3h6m6-3h6m-4-1h6m-4 8h6m-5-4h6m-6 4h6m7-3h6m-3-9h6m-1 0h6m-5 0h6m-4 4h6m-2 10h6m1-14h6m14 1h6m1 11h6m5 0h6m12-7h6m-5-5h6m-1 8h6m3 4h6m-3 0h6m-5-9h6m-6 6h6m-4-7h6m12 5h6m-5-4h6m-4 2h6m-51 10h6m-18 6h6m-7-4h6m-35 4h6m-6-6h6m-8 2h6m-11 10h6m-10-5h6m-16 6h6m-29-8h6m-12 8h6m-13-1h6m-9-3h6m-16 0h6m-17-5h6m-6 8h6m-22-9h6m-8 9h6m-10-6h6m-16 4h6m-11-5h6m-8 8h6m-13-9h6m-6-1h6m-8 5h6m-18 5h6m-6-4h6m-7-4h6m-10-5h6m-7 9h6m-8-3h6m-6 6h6m-7-4h6m-8-3h6m-13 5h6m-8 4h6m-7-6h6m-6-6h6m-13-1h6m-6 3h6m-12-3h6m-10 7h6m-10-8h6m-12 5h6m-7 2h6m-12 0h6m-8 2h6m-7-5h6m-7 4h6m-10 3h6m-14 0h6m-8-3h6m-9-2h6m-18 7h6m-10 0h6m-8-1h6m-7-7h6m-20-5h6m-8 0h6m-14 0h6m-1 15h6m4 13h6m-4-5h6m1 3h6m-5-2h6m2-6h6m-1 10h6m-6-8h6m4-1h6m-2 2h6m1 5h6m-4-2h6m-5-3h6m-5 5h6m1 2h6m-3-9h6m-5 9h6m-3-1h6m-5-10h6m2 6h6m-3 2h6m-5-7h6m-4 4h6m-4 2h6m-4-4h6m-2 7h6m4-1h6m-6-4h6m-5-4h6m-5 2h6m-6 3h6m-5 4h6m5-8h6m-6 7h6m-6-4h6m-5 3h6m4-10h6m-6 7h6m-5-5h6m-2 0h6m-2 0h6m0-2h6m-3 3h6m-2 0h6m-4 0h6m6 11h6m-6-5h6m10-5h6m2 0h6m0-3h6m-4 8h6m-4-8h6m-6 3h6m46-3h6m-66 16h6m-17 1h6m-10 3h6m-11-2h6m-38 4h6m-16-6h6m-9 0h6m-7 0h6m-23 1h6m-11 7h6m-6-7h6m-8-3h6m-9 8h6m-10-6h6m-6 11h6m-6-5h6m-7 6h6m-7-13h6m-8 1h6m-6 2h6m-10-4h6m-12 10h6m-6 2h6m-14 0h6m-7 1h6m-9-8h6m-8 0h6m-7-1h6m-10-2h6m-7 3h6m-7 3h6m-7-7h6m-10 8h6m-7-5h6m-6-4h6m-10 0h6m-12 3h6m-10 0h6m-9 0h6m-11 1h6m-17 7h6m-9-5h6m18 18h6m-4-6h6m-4 10h6m2 0h6m-4-10h6m-4 2h6m-3-1h6m1-2h6m-6 11h6m-2-12h6m8 2h6m-4 3h6m-2-6h6m-5 10h6m15 4h6m-5-4h6m-6-1h6m9-3h6m20-3h6m-27 19h6m-11 1h6m-9 3h6m-6-10h6m-15-1h6m-15 13h6m-8-9h6m-14 2h6m-14-2h6m-6 4h6m-10-7h6m-12 8h6m-12-8h6m-15 3h6m-9-1h6m-11 1h6m-10 5h6m-11 4h6m-2 2h6m-3 10h6m0-6h6m-5 4h6m0 3h6m-5-1h6m-5-5h6m1 4h6m-5-1h6m-4-8h6m3 11h6m-3-8h6m-5 0h6m-6 1h6m4 10h6m-2-7h6m2-5h6m-59 21h6m-8-4h6" stroke="#5c91c2" stroke-width="6" stroke-linecap="butt" fill="none"/>
<path transform="scale(0.2)" d="M2842 3325h6m40 14h6m5-9h6m4 10h6m-67 6h6m-10 12h6m-44-13h6m143 27h6m401-3h6m-421 6h6m-48 9h6m-79-6h6m-18-3h6m531 40h6m-460-4h6m-27-2h6m-19 9h6m40 4h6m317 25h6m-18-3h6m-361 1h6m337 31h6m-8-11h6m-208 73h6m-33-2h6m-11 5h6m7 3h6m-3 4h6m-76 12h6m-16 1h6m-59-6h6m154 27h6m208 10h6m-63 7h6m-276-6h6m267 13h6m10 10h6m-7 12h6m-15 0h6m-31-9h6m-23 7h6m-71-5h6m-27-3h6m-20 4h6m-32 5h6m-114-8h6m-23-3h6m-18 18h6m29 5h6m-5-1h6m52 4h6m14 2h6m41-8h6m80 7h6m137-11h6m-36 21h6m-12-8h6m-224 4h6m-70-4h6m-45 1h6m162 24h6m85-10h6m76 8h6m22-7h6m10 12h6m0 7h6m-37-1h6m-33-4h6m-29 14h6m-14-5h6m-53-9h6m-100 10h6m-36-10h6m-7 12h6m-31-9h6m-15 11h6m-91-12h6m2 20h6m85 2h6m32 4h6m83-9h6m99-3h6m27 2h6m1-1h6m-5 26h6m-52-6h6m-69-4h6m-7 7h6m-44-8h6m-145 1h6m-18 0h6m-19 3h6m-30 5h6m-38-4h6m55 8h6m166 5h6m138 14h6m-37-3h6m-104 0h6m-51 5h6m-25-6h6m-14 14h6m-76-10h6m-73 10h6m-26 5h6m154 3h6m13-6h6m105 12h6m11 8h6m-129-6h6m-19 10h6m-82-9h6m-13 10h6m-59 11h6m-6 5h6m44-3h6m9 5h6m105-14h6m21 3h6m-205 19h6m28 36h6m9 27h6" stroke="#3b56a4" stroke-width="6" stroke-linecap="butt" fill="none"/>
<path transform="scale(0.2)" d="M2873 3335h6m-51 33h6m2 18h6m25 13h6m377 52h6m-7 55h6m-212 30h6m175 58h6m-196 19h6m96 0h6m7-9h6m-1 4h6m-234 21h6m107 4h6m158 4h6m-191 43h6m-6 11h6m72 15h6m-60 4h6m-64 30h6m55 11h6m19 3h6m27 3h6m-35 14h6m-36 32h6m-36 2h6" stroke="#90c3dd" stroke-width="6" stroke-linecap="butt" fill="none"/>
<path transform="scale(0.2)" d="M2859 3329h6m185 357h6m2 73h6" stroke="#313695" stroke-width="6" stroke-linecap="butt" fill="none"/>
<path transform="scale(0.2)" d="M3088 3461h6m-4 3h6m-1-3h6m-1-1h6m5 1h6m-4 1h6m-16 11h6m-20-6h6m6 23h6m1-9h6m198 116h6m-26 21h6m10 32h6m-285 211h6m24 12h6m-2 8h6m-25 9h6" stroke="#fec778" stroke-width="6" stroke-linecap="butt" fill="none"/>
<path transform="scale(0.2)" d="M3087 3462h6m3-1h6m6 0h6m-20 4h6m-12 0h6m-1 19h6" stroke="#fee090" stroke-width="6" stroke-linecap="butt" fill="none"/>
<path transform="scale(0.2)" d="M3110 3470h6" stroke="#feefa7" stroke-width="6" stroke-linecap="butt" fill="none"/>
<path transform="scale(0.2)" d="M3097 3461h6m3 0h6m-13 7h6m-17 2h6m196 124h6m-6 20h6m3-3h6m-3-8h6m5 24h6m-8-6h6m-11-1h6m-10 5h6m-7 3h6m-12 10h6m3 14h6m1 20h6m-250 162h6m-6 0h6m-54 0h6m5 8h6m4 6h6m22 0h6m-5 1h6m2 5h6m-11 7h6m-7 8h6m-20-1h6m-20-2h6m-25-4h6m-1 19h6m-1-11h6m-5 6h6m-4 6h6m-1-6h6m2-5h6m7 9h6m-3-1h6m-10 10h6" stroke="#fdae61" stroke-width="6" stroke-linecap="butt" fill="none"/>
<path transform="scale(0.2)" d="M3306 3621h6m-3 16h6m-6 53h6m-250 145h6m-16 1h6m-7 3h6m-32 9h6m-4-3h6m-6 0h6m-3 0h6m-6 2h6m-4 4h6m1-3h6m-4-5h6m-1 5h6m1 4h6m4-11h6m2 4h6m8 0h6m-21 24h6m-8-2h6m-9-4h6m-14-8h6m-9 5h6m-6 9h6m-18-14h6m-9 4h6m-8 1h6m-9 5h6m-6 1h6m-11-4h6m-7 3h6m3 17h6m-2-8h6m-4 6h6m-4-7h6m-5 7h6m-4-1h6m-3 0h6m-3-5h6m-6 1h6m-4-4h6m-3 8h6m1-3h6m-2-6h6m-27 19h6m-17 5h6m-15-2h6" stroke="#f88e52" stroke-width="6" stroke-linecap="butt" fill="none"/>
<path transform="scale(0.2)" d="M3327 3398h6m-2 40h6m-269 381h6m-26 18h6m-12 2h6m-11-8h6m-14 14h6m3 7h6m11 0h6m16-5h6m-6 6h6m-8 13h6m-9-3h6m-34 0h6m-11-5h6m-7 2h6m-8-1h6m-13-3h6m11 17h6m1 13h6" stroke="#f46d43" stroke-width="6" stroke-linecap="butt" fill="none"/>
<path transform="scale(0.2)" d="M3365 3359h6m-18-2h6m-11-10h6m-13 10h6m-6-1h6m-8-4h6m-14-5h6m-8 12h6m-14 0h6m-2 11h6m-3-5h6m-5 6h6m-2-6h6m-2 5h6m-6-10h6m3 4h6m-6 0h6m-4 9h6m8-4h6m-7 18h6m-8-12h6m-8 9h6m-7-7h6m-14 9h6m-8-9h6m-8 0h6m-11 12h6m-8-8h6m-6 1h6m-16-1h6m-10 8h6m-6-8h6m-8 4h6m-13 6h6m-1 4h6m0 2h6m-5-2h6m-2-2h6m-4-2h6m-2 10h6m-6 2h6m-4-11h6m-6 0h6m-4 5h6m-6 3h6m-5-5h6m-5 6h6m-6 2h6m4-6h6m-6-4h6m-3-2h6m-2 0h6m-18 26h6m-15 1h6m-13-8h6m-9 8h6m-7-3h6m-9 4h6m7 12h6m-5-8h6m-3 5h6m-5 6h6m-5-9h6m-5 6h6m-4-7h6m1 11h6" stroke="#d73027" stroke-width="6" stroke-linecap="butt" fill="none"/>
<path transform="scale(0.2)" d="M3346 3355h6m-6-6h6m-19 4h6m-11-4h6m-16 5h6m-11 18h6m0-3h6m0 1h6m3 0h6m-5-10h6m6 1h6m-5 11h6m-3-4h6m4 17h6m-11-10h6m-7 4h6m-9 2h6m-32-1h6m-7 10h6m-2 8h6m-6-8h6m7 9h6m-1-7h6m-5 3h6m0 2h6m-21 13h6m-13 9h6m1 3h6m-2 3h6m-5 2h6m5-6h6m-3 1h6m-10 19h6m-21-3h6" stroke="#be1826" stroke-width="6" stroke-linecap="butt" fill="none"/>
<path transform="scale(0.2)" d="M3360 3354h6m-10 4h6m-8-2h6m-12-6h6m-9 2h6m-7-4h6m-16 7h6m-14 2h6m-21 6h6m24 0h6m-6 10h6m2 1h6m-3-14h6m-2 2h6m-5 5h6m-5 4h6m-6 9h6m-12-1h6m-11 8h6m-15-8h6m-12-1h6m-10-2h6m-3 16h6m-1-1h6m-1 0h6m-1 7h6m-3-2h6m-4-2h6m-4 0h6m-10 14h6m-7 5h6m-21-1h6m-8 11h6m11 1h6m-3 1h6m-2-3h6m-4-2h6m-8 20h6m-9 3h6" stroke="#e64f35" stroke-width="6" stroke-linecap="butt" fill="none"/>
<path transform="scale(0.2)" d="M3364 3385h6" stroke="#a50026" stroke-width="6" stroke-linecap="butt" fill="none"/>
<defs><linearGradient id="cb104" x1="0" y1="0" x2="0" y2="1"><stop offset="0.00" stop-color="#a50026"/><stop offset="0.10" stop-color="#d73027"/><stop offset="0.20" stop-color="#f46d43"/><stop offset="0.30" stop-color="#fdae61"/><stop offset="0.40" stop-color="#fee090"/><stop offset="0.50" stop-color="#ffffbf"/><stop offset="0.60" stop-color="#e0f3f8"/><stop offset="0.70" stop-color="#abd9e9"/><stop offset="0.80" stop-color="#74add1"/><stop offset="0.90" stop-color="#4575b4"/><stop offset="1.00" stop-color="#313695"/></linearGradient></defs>
<rect x="677.30" y="658.40" width="4.80" height="123.50" fill="url(#cb104)" stroke="none" stroke-width="0.6" />
<rect x="554.30" y="658.40" width="127.80" height="123.50" fill="none" stroke="#6d6e71" stroke-width="0.9"/>
<text x="556.50" y="778.30" font-size="9" text-anchor="start" font-weight="normal" fill="#231f20"  stroke="#231f20" stroke-width="0.1">GZMA</text>
<text transform="translate(10.50,721.00) rotate(-90)" font-size="9" text-anchor="middle" font-weight="normal" fill="#231f20"  stroke="#231f20" stroke-width="0.1">UMAP 2</text>
<text x="75.50" y="793.70" font-size="9" text-anchor="middle" font-weight="normal" fill="#231f20"  stroke="#231f20" stroke-width="0.1">UMAP 1</text>
</svg></body></html>
